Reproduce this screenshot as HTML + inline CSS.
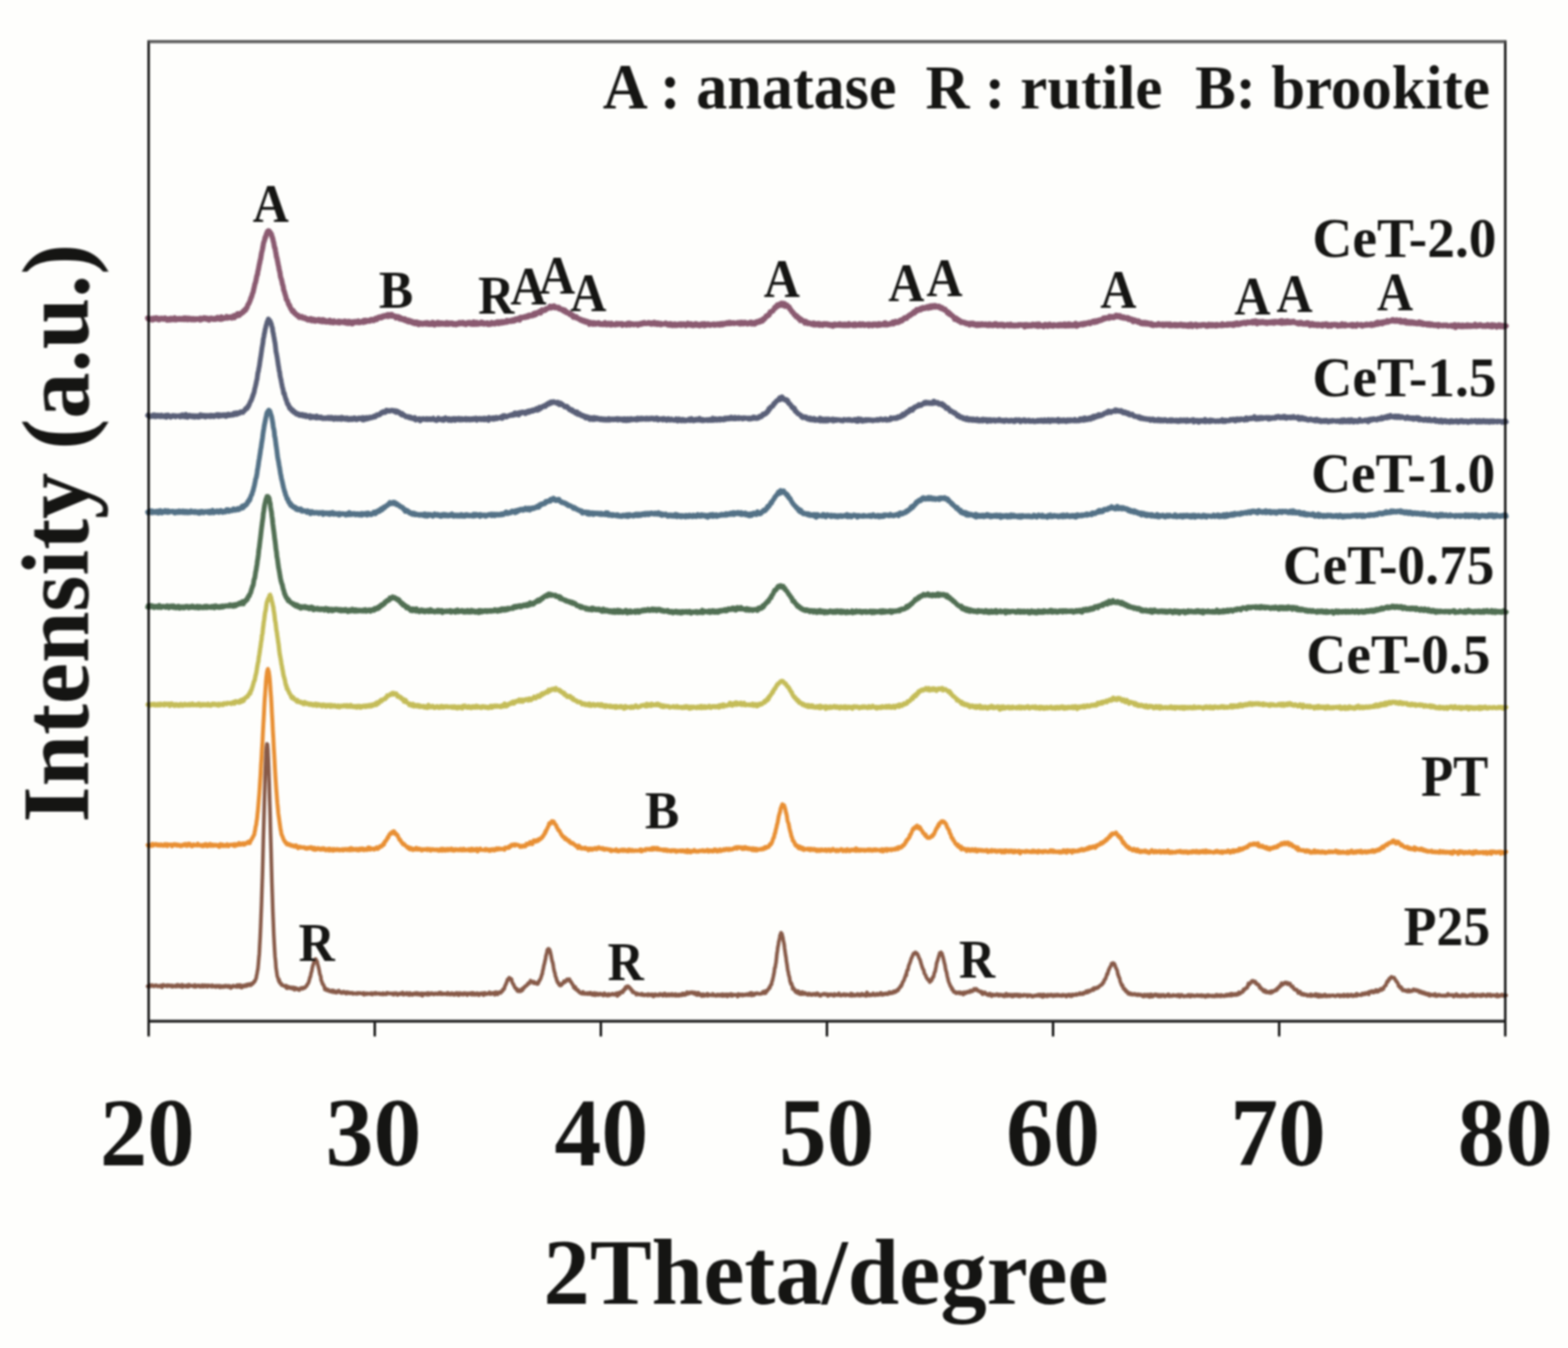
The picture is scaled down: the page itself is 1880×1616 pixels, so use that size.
<!DOCTYPE html>
<html lang="en"><head><meta charset="utf-8"><title>XRD patterns</title>
<style>
html,body{margin:0;padding:0;background:#fefefc;}
body{width:1880px;height:1616px;overflow:hidden;}
svg{display:block;}
text{font-family:"Liberation Serif","DejaVu Serif",serif;font-weight:bold;fill:#151513;white-space:pre;}
.c path{fill:none;stroke-linejoin:round;stroke-linecap:round;}
.ax path{fill:none;stroke-linecap:butt;}
.ax .v{stroke:#000;stroke-width:2.7;}
.ax .t{stroke:#5c5c5c;stroke-width:3.6;}
.ax .h{stroke:#222;stroke-width:3.5;}
</style></head><body>
<svg width="1880" height="1616" viewBox="0 0 1880 1616">
<defs><filter id="b" filterUnits="userSpaceOnUse" x="0" y="0" width="1880" height="1616" color-interpolation-filters="sRGB"><feGaussianBlur stdDeviation="1"/></filter></defs>
<rect width="1880" height="1616" fill="#fefefc"/>
<g filter="url(#b)">
<g class="c">
<path d="M177.0,381.3 177.5,382.3 178.1,382.6 178.6,382.5 179.1,381.5 179.7,382.8 180.2,382.6 180.8,382.6 181.3,382.6 181.9,382.8 182.4,383.6 182.9,381.7 183.5,382.2 184.0,383.3 184.6,381.3 185.1,382.4 185.6,381.7 186.2,382.2 186.7,382.5 187.3,380.9 187.8,381.5 188.4,381.3 188.9,382.0 189.4,381.8 190.0,383.2 190.5,381.8 191.1,383.3 191.6,382.0 192.2,382.4 192.7,382.3 193.2,382.2 193.8,381.5 194.3,382.5 194.9,382.5 195.4,382.4 195.9,382.7 196.5,381.7 197.0,382.1 197.6,381.9 198.1,381.2 198.7,382.5 199.2,381.9 199.7,382.3 200.3,383.8 200.8,382.5 201.4,382.4 201.9,383.0 202.5,383.1 203.0,383.5 203.5,382.0 204.1,383.5 204.6,382.3 205.2,381.6 205.7,381.7 206.2,383.1 206.8,382.9 207.3,383.2 207.9,381.8 208.4,382.2 209.0,381.6 209.5,381.1 210.0,382.4 210.6,383.4 211.1,383.1 211.7,381.9 212.2,383.2 212.8,382.0 213.3,382.6 213.8,382.9 214.4,382.1 214.9,381.8 215.5,382.8 216.0,382.3 216.5,382.1 217.1,382.8 217.6,382.3 218.2,382.7 218.7,381.8 219.3,382.9 219.8,381.8 220.3,382.2 220.9,381.2 221.4,383.2 222.0,382.5 222.5,382.7 223.0,381.3 223.6,382.5 224.1,382.2 224.7,383.2 225.2,381.4 225.8,382.6 226.3,383.1 226.8,381.6 227.4,382.5 227.9,381.7 228.5,382.4 229.0,382.6 229.6,383.3 230.1,382.5 230.6,382.0 231.2,382.8 231.7,382.4 232.3,383.1 232.8,382.0 233.3,383.3 233.9,382.5 234.4,382.5 235.0,383.0 235.5,382.0 236.1,382.0 236.6,382.7 237.1,382.3 237.7,382.4 238.2,382.1 238.8,382.1 239.3,382.9 239.9,383.6 240.4,381.4 240.9,383.3 241.5,382.8 242.0,383.1 242.6,382.4 243.1,381.8 243.6,382.1 244.2,381.6 244.7,381.1 245.3,382.2 245.8,382.4 246.4,382.0 246.9,382.3 247.4,381.2 248.0,382.8 248.5,382.0 249.1,382.2 249.6,382.6 250.2,381.7 250.7,383.8 251.2,382.9 251.8,382.9 252.3,382.1 252.9,381.6 253.4,382.3 253.9,381.5 254.5,382.1 255.0,382.1 255.6,382.7 256.1,382.2 256.7,382.0 257.2,382.8 257.7,381.7 258.3,381.5 258.8,381.4 259.4,382.7 259.9,381.7 260.5,381.3 261.0,380.4 261.5,381.0 262.1,381.8 262.6,381.9 263.2,382.6 263.7,381.0 264.2,381.8 264.8,382.3 265.3,379.9 265.9,382.8 266.4,380.6 267.0,380.5 267.5,381.8 268.0,381.4 268.6,381.9 269.1,381.5 269.7,381.2 270.2,380.9 270.8,380.4 271.3,381.2 271.8,379.5 272.4,380.6 272.9,381.2 273.5,379.9 274.0,381.1 274.5,381.1 275.1,380.4 275.6,380.2 276.2,380.6 276.7,380.6 277.3,379.9 277.8,381.3 278.3,380.8 278.9,380.4 279.4,380.5 280.0,380.4 280.5,378.5 281.1,380.9 281.6,378.2 282.1,379.1 282.7,378.1 283.2,379.1 283.8,378.7 284.3,378.4 284.8,376.2 285.4,378.4 285.9,377.8 286.5,376.0 287.0,378.1 287.6,376.7 288.1,376.0 288.6,376.5 289.2,375.5 289.7,375.7 290.3,374.8 290.8,374.0 291.3,373.4 291.9,374.1 292.4,373.1 293.0,372.0 293.5,371.5 294.1,370.6 294.6,371.8 295.1,369.9 295.7,369.0 296.2,369.0 296.8,366.6 297.3,365.3 297.9,364.6 298.4,364.0 298.9,362.5 299.5,361.2 300.0,360.1 300.6,358.3 301.1,356.4 301.6,356.0 302.2,353.7 302.7,352.0 303.3,350.7 303.8,348.8 304.4,345.8 304.9,344.0 305.4,341.4 306.0,339.4 306.5,338.1 307.1,335.2 307.6,332.5 308.2,329.8 308.7,329.0 309.2,325.3 309.8,323.1 310.3,320.2 310.9,317.0 311.4,315.2 311.9,312.2 312.5,310.3 313.0,307.1 313.6,303.2 314.1,301.3 314.7,298.7 315.2,296.2 315.7,292.9 316.3,290.3 316.8,289.1 317.4,287.3 317.9,284.4 318.5,284.6 319.0,282.2 319.5,280.1 320.1,280.7 320.6,277.4 321.2,277.1 321.7,276.7 322.2,278.0 322.8,276.9 323.3,278.2 323.9,278.5 324.4,278.8 325.0,280.4 325.5,280.9 326.0,283.8 326.6,284.4 327.1,286.4 327.7,289.5 328.2,290.9 328.8,294.8 329.3,297.0 329.8,297.5 330.4,301.3 330.9,303.8 331.5,308.0 332.0,309.0 332.5,311.7 333.1,314.7 333.6,317.5 334.2,319.7 334.7,323.2 335.3,325.3 335.8,327.7 336.3,331.8 336.9,333.5 337.4,335.1 338.0,337.3 338.5,340.3 339.1,341.9 339.6,344.0 340.1,347.7 340.7,348.9 341.2,350.5 341.8,352.9 342.3,354.1 342.8,356.2 343.4,359.0 343.9,359.3 344.5,360.4 345.0,361.4 345.6,363.9 346.1,364.6 346.6,366.1 347.2,365.9 347.7,367.8 348.3,369.0 348.8,370.2 349.4,370.9 349.9,371.4 350.4,373.1 351.0,373.0 351.5,372.3 352.1,373.5 352.6,374.9 353.1,375.6 353.7,375.1 354.2,375.6 354.8,377.1 355.3,377.4 355.9,377.9 356.4,378.5 356.9,378.4 357.5,378.1 358.0,379.8 358.6,379.9 359.1,380.6 359.7,380.1 360.2,380.1 360.7,380.4 361.3,380.6 361.8,379.4 362.4,380.7 362.9,380.8 363.4,381.4 364.0,381.5 364.5,381.3 365.1,381.3 365.6,380.9 366.2,382.1 366.7,381.7 367.2,381.9 367.8,383.0 368.3,383.1 368.9,382.3 369.4,383.7 369.9,383.2 370.5,382.8 371.0,382.3 371.6,382.4 372.1,383.7 372.7,381.9 373.2,384.3 373.7,383.7 374.3,383.1 374.8,384.5 375.4,383.7 375.9,382.8 376.5,383.2 377.0,383.0 377.5,383.0 378.1,385.1 378.6,384.0 379.2,383.8 379.7,384.5 380.2,384.5 380.8,383.7 381.3,383.5 381.9,383.0 382.4,384.9 383.0,384.2 383.5,385.0 384.0,384.5 384.6,383.6 385.1,384.2 385.7,385.6 386.2,384.3 386.8,385.0 387.3,383.2 387.8,384.3 388.4,385.5 388.9,383.7 389.5,385.6 390.0,384.7 390.5,384.6 391.1,386.0 391.6,384.8 392.2,385.9 392.7,385.0 393.3,385.5 393.8,386.0 394.3,386.1 394.9,385.2 395.4,383.9 396.0,386.6 396.5,385.1 397.1,386.4 397.6,385.0 398.1,385.3 398.7,385.7 399.2,385.6 399.8,387.0 400.3,384.6 400.8,385.4 401.4,385.9 401.9,386.1 402.5,385.8 403.0,386.0 403.6,386.5 404.1,385.5 404.6,385.6 405.2,385.9 405.7,386.4 406.3,385.0 406.8,387.2 407.4,385.8 407.9,385.6 408.4,385.8 409.0,385.4 409.5,385.5 410.1,385.9 410.6,386.4 411.1,386.6 411.7,385.9 412.2,386.0 412.8,386.5 413.3,385.0 413.9,386.1 414.4,386.9 414.9,387.3 415.5,386.1 416.0,385.4 416.6,385.9 417.1,387.1 417.7,387.6 418.2,386.2 418.7,385.3 419.3,386.4 419.8,386.9 420.4,386.9 420.9,386.6 421.4,388.0 422.0,386.4 422.5,388.2 423.1,385.7 423.6,387.3 424.2,387.1 424.7,386.9 425.2,385.8 425.8,386.3 426.3,385.6 426.9,386.3 427.4,386.5 428.0,386.7 428.5,385.5 429.0,385.8 429.6,384.8 430.1,386.2 430.7,385.5 431.2,386.8 431.7,385.8 432.3,386.4 432.8,385.8 433.4,386.0 433.9,385.8 434.5,385.1 435.0,386.4 435.5,385.2 436.1,386.5 436.6,384.0 437.2,385.2 437.7,386.0 438.2,386.0 438.8,384.0 439.3,385.3 439.9,385.2 440.4,385.2 441.0,384.7 441.5,384.3 442.0,384.8 442.6,384.9 443.1,385.1 443.7,384.2 444.2,383.6 444.8,384.5 445.3,383.0 445.8,383.3 446.4,383.1 446.9,383.4 447.5,383.3 448.0,384.4 448.5,383.3 449.1,383.3 449.6,382.3 450.2,381.6 450.7,381.9 451.3,381.6 451.8,383.1 452.3,382.6 452.9,382.0 453.4,381.1 454.0,380.2 454.5,380.6 455.1,380.2 455.6,379.9 456.1,380.5 456.7,381.2 457.2,381.2 457.8,379.5 458.3,379.6 458.8,379.5 459.4,378.7 459.9,379.9 460.5,379.2 461.0,378.8 461.6,378.9 462.1,378.2 462.6,378.2 463.2,379.1 463.7,378.8 464.3,378.2 464.8,377.1 465.4,379.6 465.9,378.3 466.4,378.6 467.0,377.3 467.5,378.3 468.1,378.4 468.6,378.2 469.1,378.9 469.7,377.0 470.2,379.0 470.8,378.1 471.3,378.1 471.9,378.6 472.4,379.0 472.9,379.0 473.5,378.8 474.0,379.6 474.6,381.2 475.1,380.0 475.7,379.5 476.2,380.7 476.7,380.7 477.3,379.8 477.8,381.4 478.4,379.9 478.9,381.3 479.4,382.4 480.0,380.6 480.5,381.3 481.1,381.3 481.6,382.9 482.2,381.8 482.7,382.4 483.2,382.9 483.8,383.5 484.3,383.6 484.9,382.7 485.4,382.2 486.0,384.3 486.5,383.9 487.0,384.5 487.6,383.9 488.1,384.4 488.7,385.5 489.2,383.8 489.7,384.8 490.3,384.1 490.8,386.1 491.4,385.5 491.9,385.0 492.5,384.7 493.0,385.9 493.5,386.1 494.1,386.0 494.6,387.1 495.2,385.7 495.7,387.0 496.3,387.6 496.8,386.3 497.3,387.3 497.9,387.9 498.4,386.1 499.0,386.6 499.5,386.3 500.0,387.5 500.6,388.5 501.1,386.4 501.7,387.4 502.2,389.2 502.8,387.1 503.3,388.0 503.8,388.0 504.4,387.3 504.9,388.3 505.5,388.0 506.0,387.7 506.6,387.6 507.1,388.7 507.6,387.9 508.2,387.4 508.7,387.6 509.3,388.1 509.8,388.2 510.3,387.0 510.9,388.6 511.4,387.2 512.0,386.8 512.5,387.8 513.1,388.2 513.6,388.7 514.1,387.3 514.7,387.8 515.2,388.7 515.8,388.0 516.3,388.8 516.8,388.5 517.4,387.1 517.9,387.6 518.5,388.7 519.0,386.5 519.6,388.6 520.1,388.0 520.6,387.5 521.2,389.6 521.7,387.5 522.3,387.6 522.8,387.9 523.4,387.9 523.9,388.4 524.4,388.3 525.0,386.5 525.5,388.8 526.1,388.7 526.6,388.6 527.1,388.4 527.7,387.0 528.2,388.5 528.8,387.7 529.3,387.3 529.9,388.0 530.4,388.4 530.9,387.3 531.5,387.3 532.0,388.4 532.6,388.6 533.1,387.6 533.7,388.1 534.2,388.0 534.7,388.8 535.3,388.1 535.8,386.7 536.4,387.4 536.9,388.7 537.4,388.8 538.0,388.8 538.5,387.8 539.1,387.3 539.6,388.4 540.2,387.8 540.7,387.7 541.2,387.4 541.8,388.1 542.3,387.3 542.9,387.6 543.4,389.1 544.0,387.8 544.5,388.6 545.0,388.0 545.6,388.1 546.1,387.9 546.7,389.3 547.2,388.1 547.7,388.0 548.3,387.9 548.8,387.5 549.4,388.6 549.9,387.3 550.5,386.8 551.0,388.0 551.5,388.1 552.1,387.0 552.6,388.0 553.2,387.8 553.7,386.7 554.3,386.4 554.8,388.0 555.3,387.8 555.9,388.3 556.4,386.9 557.0,388.5 557.5,387.8 558.0,388.0 558.6,389.0 559.1,387.7 559.7,387.6 560.2,387.5 560.8,386.8 561.3,387.7 561.8,386.8 562.4,387.0 562.9,386.6 563.5,388.2 564.0,387.7 564.6,388.5 565.1,387.4 565.6,387.5 566.2,387.3 566.7,387.1 567.3,388.9 567.8,385.9 568.3,388.6 568.9,388.5 569.4,387.4 570.0,387.8 570.5,388.8 571.1,387.7 571.6,386.4 572.1,387.3 572.7,388.6 573.2,387.1 573.8,388.5 574.3,387.4 574.9,388.2 575.4,387.4 575.9,387.3 576.5,387.5 577.0,386.3 577.6,388.1 578.1,386.3 578.6,387.6 579.2,386.9 579.7,387.9 580.3,388.5 580.8,387.7 581.4,387.4 581.9,387.8 582.4,387.9 583.0,388.2 583.5,387.3 584.1,388.4 584.6,386.9 585.1,387.5 585.7,389.0 586.2,387.7 586.8,388.0 587.3,387.8 587.9,387.7 588.4,388.8 588.9,387.5 589.5,386.4 590.0,387.3 590.6,387.5 591.1,387.0 591.7,387.0 592.2,388.1 592.7,387.6 593.3,388.3 593.8,387.4 594.4,386.5 594.9,387.0 595.4,386.9 596.0,386.8 596.5,387.5 597.1,385.8 597.6,386.8 598.2,387.9 598.7,386.1 599.2,387.2 599.8,386.7 600.3,385.6 600.9,386.0 601.4,387.4 602.0,386.0 602.5,386.4 603.0,386.3 603.6,385.5 604.1,386.9 604.7,386.7 605.2,386.3 605.7,385.8 606.3,385.3 606.8,385.1 607.4,386.2 607.9,384.2 608.5,386.1 609.0,385.5 609.5,385.5 610.1,385.1 610.6,384.3 611.2,384.3 611.7,384.6 612.3,384.9 612.8,385.3 613.3,384.5 613.9,384.6 614.4,383.6 615.0,384.5 615.5,384.2 616.0,384.9 616.6,384.2 617.1,383.4 617.7,382.5 618.2,384.1 618.8,382.4 619.3,383.0 619.8,383.3 620.4,383.1 620.9,381.7 621.5,381.6 622.0,382.8 622.6,382.4 623.1,383.8 623.6,381.1 624.2,380.4 624.7,380.5 625.3,380.6 625.8,380.7 626.3,381.0 626.9,380.9 627.4,380.3 628.0,379.9 628.5,380.4 629.1,379.7 629.6,380.5 630.1,379.5 630.7,379.2 631.2,380.2 631.8,380.1 632.3,380.2 632.9,378.4 633.4,379.5 633.9,379.6 634.5,378.7 635.0,377.8 635.6,378.2 636.1,378.5 636.6,378.0 637.2,377.9 637.7,378.3 638.3,378.7 638.8,378.3 639.4,376.6 639.9,375.9 640.4,377.9 641.0,377.6 641.5,376.4 642.1,375.2 642.6,377.0 643.2,375.5 643.7,375.1 644.2,375.3 644.8,375.3 645.3,374.0 645.9,373.9 646.4,374.5 646.9,374.3 647.5,373.1 648.0,375.3 648.6,374.3 649.1,373.6 649.7,373.4 650.2,371.4 650.7,372.5 651.3,372.6 651.8,372.0 652.4,371.9 652.9,371.8 653.5,372.1 654.0,371.6 654.5,370.3 655.1,371.0 655.6,369.8 656.2,370.0 656.7,369.8 657.2,369.4 657.8,369.1 658.3,369.2 658.9,369.0 659.4,367.1 660.0,368.4 660.5,367.8 661.0,369.2 661.6,368.3 662.1,367.6 662.7,368.3 663.2,368.1 663.7,368.3 664.3,366.7 664.8,367.8 665.4,367.5 665.9,369.1 666.5,368.8 667.0,368.2 667.5,368.5 668.1,368.6 668.6,368.5 669.2,368.4 669.7,368.4 670.3,370.2 670.8,369.0 671.3,370.2 671.9,370.7 672.4,370.8 673.0,370.7 673.5,371.4 674.0,370.9 674.6,370.9 675.1,372.4 675.7,372.5 676.2,373.2 676.8,372.7 677.3,371.8 677.8,373.0 678.4,373.2 678.9,374.6 679.5,373.7 680.0,375.1 680.6,375.0 681.1,375.3 681.6,375.6 682.2,376.1 682.7,375.3 683.3,377.1 683.8,375.6 684.3,376.4 684.9,376.7 685.4,378.0 686.0,377.3 686.5,379.3 687.1,377.8 687.6,380.4 688.1,379.4 688.7,379.9 689.2,379.9 689.8,380.5 690.3,379.7 690.9,379.6 691.4,381.4 691.9,381.5 692.5,381.3 693.0,381.5 693.6,381.8 694.1,382.3 694.6,383.0 695.2,382.5 695.7,383.2 696.3,384.0 696.8,383.3 697.4,384.1 697.9,383.5 698.4,384.2 699.0,384.2 699.5,385.3 700.1,384.5 700.6,384.2 701.2,385.3 701.7,384.9 702.2,386.3 702.8,385.9 703.3,385.5 703.9,385.2 704.4,386.1 704.9,386.0 705.5,386.2 706.0,386.5 706.6,388.8 707.1,386.2 707.7,386.9 708.2,387.4 708.7,387.8 709.3,387.0 709.8,387.4 710.4,387.1 710.9,388.7 711.5,387.0 712.0,387.7 712.5,387.1 713.1,388.1 713.6,387.2 714.2,388.7 714.7,387.4 715.2,387.7 715.8,387.8 716.3,388.1 716.9,387.5 717.4,386.8 718.0,386.8 718.5,387.9 719.0,388.8 719.6,388.8 720.1,388.4 720.7,388.8 721.2,388.2 721.8,388.1 722.3,388.6 722.8,389.2 723.4,389.2 723.9,388.6 724.5,387.5 725.0,388.0 725.5,386.8 726.1,389.1 726.6,388.4 727.2,389.3 727.7,389.3 728.3,388.3 728.8,388.9 729.3,388.4 729.9,387.5 730.4,388.8 731.0,388.6 731.5,388.7 732.1,389.6 732.6,387.9 733.1,387.6 733.7,389.2 734.2,389.4 734.8,389.0 735.3,388.7 735.8,388.8 736.4,388.8 736.9,388.7 737.5,388.4 738.0,389.4 738.6,388.3 739.1,387.8 739.6,388.7 740.2,388.2 740.7,388.1 741.3,389.0 741.8,387.9 742.3,388.0 742.9,388.3 743.4,388.1 744.0,388.4 744.5,388.5 745.1,387.9 745.6,387.8 746.1,390.0 746.7,388.8 747.2,388.5 747.8,389.0 748.3,388.8 748.9,388.8 749.4,388.5 749.9,388.5 750.5,388.4 751.0,389.8 751.6,388.5 752.1,389.0 752.6,389.0 753.2,387.5 753.7,389.4 754.3,388.8 754.8,387.5 755.4,389.6 755.9,389.3 756.4,388.9 757.0,388.2 757.5,388.1 758.1,388.5 758.6,388.3 759.2,389.2 759.7,389.0 760.2,389.3 760.8,388.7 761.3,388.4 761.9,388.4 762.4,388.3 762.9,388.4 763.5,388.6 764.0,388.5 764.6,388.4 765.1,389.9 765.7,388.4 766.2,388.5 766.7,388.1 767.3,388.9 767.8,388.7 768.4,388.2 768.9,388.8 769.5,388.5 770.0,387.2 770.5,387.2 771.1,387.3 771.6,388.0 772.2,387.4 772.7,386.8 773.2,387.4 773.8,387.8 774.3,387.7 774.9,387.8 775.4,387.6 776.0,387.8 776.5,387.5 777.0,387.1 777.6,386.7 778.1,387.6 778.7,387.9 779.2,387.2 779.8,387.2 780.3,388.1 780.8,388.7 781.4,388.5 781.9,387.2 782.5,387.2 783.0,387.5 783.5,387.8 784.1,387.9 784.6,386.5 785.2,388.6 785.7,388.3 786.3,387.5 786.8,388.2 787.3,387.5 787.9,387.9 788.4,388.9 789.0,387.2 789.5,387.7 790.1,387.8 790.6,387.9 791.1,388.4 791.7,388.2 792.2,389.4 792.8,387.8 793.3,388.9 793.8,388.2 794.4,388.7 794.9,388.4 795.5,388.3 796.0,388.2 796.6,388.4 797.1,388.0 797.6,388.3 798.2,387.3 798.7,388.5 799.3,388.2 799.8,388.6 800.4,388.3 800.9,389.5 801.4,388.8 802.0,388.8 802.5,389.7 803.1,388.3 803.6,389.1 804.1,388.1 804.7,388.5 805.2,388.5 805.8,390.2 806.3,388.6 806.9,389.6 807.4,389.5 807.9,390.0 808.5,389.0 809.0,388.3 809.6,388.4 810.1,390.1 810.6,389.6 811.2,390.2 811.7,390.2 812.3,389.4 812.8,389.2 813.4,389.6 813.9,388.4 814.4,389.0 815.0,389.2 815.5,389.7 816.1,388.1 816.6,388.1 817.2,390.0 817.7,389.6 818.2,389.0 818.8,388.9 819.3,389.3 819.9,388.2 820.4,388.7 820.9,389.9 821.5,389.9 822.0,390.3 822.6,389.6 823.1,390.1 823.7,388.4 824.2,388.4 824.7,387.4 825.3,388.3 825.8,388.1 826.4,389.7 826.9,389.7 827.5,388.4 828.0,388.2 828.5,389.9 829.1,390.1 829.6,388.5 830.2,389.5 830.7,390.2 831.2,389.5 831.8,390.3 832.3,389.4 832.9,389.4 833.4,389.1 834.0,387.9 834.5,388.9 835.0,388.6 835.6,390.0 836.1,388.4 836.7,389.2 837.2,389.3 837.8,389.7 838.3,389.3 838.8,390.6 839.4,389.6 839.9,389.4 840.5,389.4 841.0,389.9 841.5,388.3 842.1,388.8 842.6,389.3 843.2,388.8 843.7,389.3 844.3,388.1 844.8,390.5 845.3,389.4 845.9,389.3 846.4,388.6 847.0,389.8 847.5,389.8 848.1,388.9 848.6,389.2 849.1,388.3 849.7,389.3 850.2,389.2 850.8,389.8 851.3,389.5 851.8,389.9 852.4,389.0 852.9,389.2 853.5,389.0 854.0,389.1 854.6,388.6 855.1,389.0 855.6,388.6 856.2,389.7 856.7,389.2 857.3,389.1 857.8,388.7 858.4,389.6 858.9,388.9 859.4,389.2 860.0,388.5 860.5,389.0 861.1,388.3 861.6,388.3 862.1,388.3 862.7,389.7 863.2,388.7 863.8,389.5 864.3,387.9 864.9,388.7 865.4,388.1 865.9,388.6 866.5,389.4 867.0,389.2 867.6,387.7 868.1,388.7 868.7,388.7 869.2,388.0 869.7,387.8 870.3,387.4 870.8,388.0 871.4,387.0 871.9,387.7 872.4,387.8 873.0,387.3 873.5,386.9 874.1,388.1 874.6,387.5 875.2,386.5 875.7,387.3 876.2,387.7 876.8,387.0 877.3,387.6 877.9,387.4 878.4,387.5 879.0,387.0 879.5,386.9 880.0,387.8 880.6,387.3 881.1,387.4 881.7,387.5 882.2,387.3 882.7,387.3 883.3,387.3 883.8,387.1 884.4,386.7 884.9,387.6 885.5,387.2 886.0,386.9 886.5,387.6 887.1,388.3 887.6,386.5 888.2,387.2 888.7,388.0 889.2,386.3 889.8,387.2 890.3,387.1 890.9,386.8 891.4,388.2 892.0,387.8 892.5,387.2 893.0,386.4 893.6,387.4 894.1,386.8 894.7,387.6 895.2,387.1 895.8,387.5 896.3,388.3 896.8,387.8 897.4,387.2 897.9,387.3 898.5,386.8 899.0,387.8 899.5,386.8 900.1,387.0 900.6,386.4 901.2,387.3 901.7,388.4 902.3,386.9 902.8,386.8 903.3,386.7 903.9,387.1 904.4,387.2 905.0,388.4 905.5,387.5 906.1,386.8 906.6,385.9 907.1,387.2 907.7,386.5 908.2,385.6 908.8,386.1 909.3,385.8 909.8,386.3 910.4,385.6 910.9,384.6 911.5,385.1 912.0,385.6 912.6,384.6 913.1,383.8 913.6,383.4 914.2,384.9 914.7,383.9 915.3,382.1 915.8,382.7 916.4,382.8 916.9,382.1 917.4,380.8 918.0,380.6 918.5,378.9 919.1,379.6 919.6,379.1 920.1,379.2 920.7,378.0 921.2,377.3 921.8,378.1 922.3,377.2 922.9,375.6 923.4,374.0 923.9,373.7 924.5,374.1 925.0,373.6 925.6,372.9 926.1,373.0 926.7,373.0 927.2,371.7 927.7,370.8 928.3,370.3 928.8,368.6 929.4,369.6 929.9,368.3 930.4,368.6 931.0,366.7 931.5,366.8 932.1,365.5 932.6,366.0 933.2,366.9 933.7,365.0 934.2,364.9 934.8,364.6 935.3,364.9 935.9,363.9 936.4,364.1 937.0,363.5 937.5,366.1 938.0,363.9 938.6,364.3 939.1,363.7 939.7,364.7 940.2,364.7 940.7,363.9 941.3,367.3 941.8,365.5 942.4,365.9 942.9,367.1 943.5,365.7 944.0,367.3 944.5,367.1 945.1,368.0 945.6,368.7 946.2,367.9 946.7,369.8 947.3,370.8 947.8,370.6 948.3,372.0 948.9,372.3 949.4,373.9 950.0,373.6 950.5,374.5 951.0,374.9 951.6,375.3 952.1,377.1 952.7,376.9 953.2,377.4 953.8,378.2 954.3,379.6 954.8,378.2 955.4,380.2 955.9,379.2 956.5,380.2 957.0,381.2 957.5,382.0 958.1,381.1 958.6,382.9 959.2,382.9 959.7,384.4 960.3,382.4 960.8,384.0 961.3,383.7 961.9,384.1 962.4,384.6 963.0,384.5 963.5,385.5 964.1,385.5 964.6,385.0 965.1,387.4 965.7,386.2 966.2,385.2 966.8,386.4 967.3,386.7 967.8,386.7 968.4,386.8 968.9,388.0 969.5,387.0 970.0,387.2 970.6,387.2 971.1,387.4 971.6,387.3 972.2,388.0 972.7,388.7 973.3,388.2 973.8,388.2 974.4,387.9 974.9,387.9 975.4,387.4 976.0,389.6 976.5,388.3 977.1,387.9 977.6,388.6 978.1,388.5 978.7,389.4 979.2,388.9 979.8,388.0 980.3,388.4 980.9,388.2 981.4,388.7 981.9,387.8 982.5,390.0 983.0,389.1 983.6,389.0 984.1,389.1 984.7,389.3 985.2,388.4 985.7,389.1 986.3,390.1 986.8,390.0 987.4,388.3 987.9,388.7 988.4,388.9 989.0,387.9 989.5,388.7 990.1,389.1 990.6,389.4 991.2,389.0 991.7,388.2 992.2,389.0 992.8,388.6 993.3,389.8 993.9,389.7 994.4,388.9 995.0,390.0 995.5,389.0 996.0,389.4 996.6,390.2 997.1,389.7 997.7,389.1 998.2,389.4 998.7,391.0 999.3,389.1 999.8,389.5 1000.4,388.6 1000.9,389.7 1001.5,389.0 1002.0,389.9 1002.5,388.8 1003.1,389.8 1003.6,389.4 1004.2,389.6 1004.7,389.7 1005.3,389.9 1005.8,388.8 1006.3,388.2 1006.9,389.3 1007.4,389.8 1008.0,388.6 1008.5,390.1 1009.0,388.8 1009.6,389.5 1010.1,389.4 1010.7,389.4 1011.2,390.3 1011.8,388.6 1012.3,388.8 1012.8,389.1 1013.4,389.6 1013.9,388.8 1014.5,390.3 1015.0,389.4 1015.6,389.4 1016.1,389.1 1016.6,390.0 1017.2,390.3 1017.7,387.8 1018.3,389.7 1018.8,388.7 1019.3,389.7 1019.9,389.5 1020.4,389.6 1021.0,389.3 1021.5,389.1 1022.1,389.9 1022.6,388.8 1023.1,390.3 1023.7,389.9 1024.2,388.6 1024.8,388.3 1025.3,390.4 1025.9,389.3 1026.4,388.7 1026.9,390.0 1027.5,389.5 1028.0,389.7 1028.6,389.4 1029.1,389.5 1029.6,389.8 1030.2,389.9 1030.7,388.1 1031.3,389.3 1031.8,389.8 1032.4,390.0 1032.9,389.1 1033.4,389.3 1034.0,388.8 1034.5,388.2 1035.1,389.0 1035.6,389.7 1036.1,389.3 1036.7,390.1 1037.2,389.0 1037.8,389.6 1038.3,389.2 1038.9,389.6 1039.4,388.8 1039.9,389.2 1040.5,389.3 1041.0,389.4 1041.6,390.5 1042.1,388.5 1042.7,389.8 1043.2,388.8 1043.7,389.3 1044.3,389.1 1044.8,389.2 1045.4,390.2 1045.9,389.0 1046.4,390.4 1047.0,388.5 1047.5,389.3 1048.1,388.9 1048.6,388.5 1049.2,389.4 1049.7,388.8 1050.2,389.7 1050.8,388.6 1051.3,389.3 1051.9,389.3 1052.4,390.3 1053.0,389.4 1053.5,388.7 1054.0,388.0 1054.6,389.0 1055.1,389.8 1055.7,389.4 1056.2,388.5 1056.7,389.0 1057.3,389.3 1057.8,388.7 1058.4,388.9 1058.9,388.8 1059.5,388.9 1060.0,389.4 1060.5,387.2 1061.1,387.0 1061.6,389.4 1062.2,388.4 1062.7,389.3 1063.3,389.5 1063.8,388.2 1064.3,388.3 1064.9,389.1 1065.4,389.0 1066.0,388.5 1066.5,388.7 1067.0,387.9 1067.6,388.3 1068.1,387.7 1068.7,388.3 1069.2,387.3 1069.8,387.7 1070.3,387.7 1070.8,386.0 1071.4,388.3 1071.9,386.2 1072.5,386.9 1073.0,386.7 1073.6,386.7 1074.1,385.3 1074.6,386.9 1075.2,386.6 1075.7,386.3 1076.3,386.3 1076.8,386.6 1077.3,385.4 1077.9,385.0 1078.4,385.8 1079.0,384.2 1079.5,384.5 1080.1,383.9 1080.6,385.0 1081.1,383.9 1081.7,384.4 1082.2,383.8 1082.8,382.5 1083.3,382.8 1083.9,381.9 1084.4,381.1 1084.9,382.0 1085.5,381.0 1086.0,381.2 1086.6,380.8 1087.1,381.6 1087.6,380.1 1088.2,379.6 1088.7,379.5 1089.3,378.5 1089.8,379.0 1090.4,378.9 1090.9,377.8 1091.4,377.0 1092.0,376.9 1092.5,377.6 1093.1,376.2 1093.6,376.3 1094.2,375.4 1094.7,375.0 1095.2,375.6 1095.8,373.7 1096.3,375.4 1096.9,374.3 1097.4,374.3 1097.9,373.1 1098.5,372.4 1099.0,371.2 1099.6,372.1 1100.1,372.6 1100.7,372.0 1101.2,371.8 1101.7,370.7 1102.3,370.7 1102.8,371.5 1103.4,369.8 1103.9,369.6 1104.4,371.2 1105.0,370.4 1105.5,370.4 1106.1,369.4 1106.6,368.8 1107.2,369.2 1107.7,369.4 1108.2,369.9 1108.8,370.0 1109.3,368.6 1109.9,369.1 1110.4,368.2 1111.0,368.2 1111.5,368.1 1112.0,367.5 1112.6,367.5 1113.1,369.6 1113.7,367.4 1114.2,369.0 1114.7,367.5 1115.3,368.0 1115.8,366.7 1116.4,368.9 1116.9,367.9 1117.5,366.6 1118.0,367.5 1118.5,367.9 1119.1,366.5 1119.6,368.2 1120.2,367.1 1120.7,367.3 1121.3,366.3 1121.8,367.1 1122.3,368.1 1122.9,367.4 1123.4,367.1 1124.0,366.9 1124.5,367.2 1125.0,368.4 1125.6,367.7 1126.1,367.3 1126.7,368.9 1127.2,368.4 1127.8,369.7 1128.3,369.9 1128.8,369.3 1129.4,368.7 1129.9,369.3 1130.5,370.6 1131.0,370.8 1131.6,370.6 1132.1,371.5 1132.6,371.4 1133.2,370.7 1133.7,372.5 1134.3,372.5 1134.8,373.0 1135.3,373.1 1135.9,375.0 1136.4,374.4 1137.0,374.0 1137.5,375.1 1138.1,376.8 1138.6,375.8 1139.1,375.9 1139.7,377.1 1140.2,377.7 1140.8,378.1 1141.3,377.9 1141.9,378.6 1142.4,378.9 1142.9,380.0 1143.5,379.8 1144.0,380.7 1144.6,382.8 1145.1,381.3 1145.6,381.7 1146.2,382.0 1146.7,381.6 1147.3,383.2 1147.8,382.5 1148.4,384.4 1148.9,383.2 1149.4,384.9 1150.0,383.9 1150.5,385.0 1151.1,384.6 1151.6,386.0 1152.2,386.5 1152.7,385.5 1153.2,385.6 1153.8,385.7 1154.3,386.1 1154.9,386.4 1155.4,386.8 1155.9,387.1 1156.5,386.6 1157.0,387.1 1157.6,387.1 1158.1,387.0 1158.7,388.2 1159.2,387.3 1159.7,387.6 1160.3,387.7 1160.8,387.8 1161.4,387.6 1161.9,388.1 1162.5,389.6 1163.0,387.8 1163.5,387.8 1164.1,388.9 1164.6,387.5 1165.2,388.8 1165.7,388.0 1166.2,388.0 1166.8,387.6 1167.3,389.2 1167.9,388.0 1168.4,388.9 1169.0,388.6 1169.5,389.4 1170.0,388.6 1170.6,390.2 1171.1,389.6 1171.7,390.0 1172.2,388.3 1172.8,389.4 1173.3,390.0 1173.8,389.6 1174.4,388.3 1174.9,388.3 1175.5,388.7 1176.0,388.8 1176.5,389.8 1177.1,389.5 1177.6,388.2 1178.2,389.6 1178.7,389.6 1179.3,389.7 1179.8,389.1 1180.3,388.7 1180.9,388.6 1181.4,389.6 1182.0,388.4 1182.5,388.8 1183.0,390.1 1183.6,390.1 1184.1,389.9 1184.7,389.1 1185.2,390.3 1185.8,388.3 1186.3,388.8 1186.8,389.3 1187.4,389.9 1187.9,388.6 1188.5,390.1 1189.0,389.4 1189.6,389.4 1190.1,389.2 1190.6,390.4 1191.2,389.0 1191.7,388.6 1192.3,389.8 1192.8,390.0 1193.3,389.8 1193.9,388.0 1194.4,390.0 1195.0,389.3 1195.5,388.9 1196.1,390.1 1196.6,390.5 1197.1,389.0 1197.7,389.6 1198.2,389.1 1198.8,389.8 1199.3,389.6 1199.9,390.1 1200.4,389.4 1200.9,388.7 1201.5,390.0 1202.0,389.9 1202.6,390.5 1203.1,389.0 1203.6,389.8 1204.2,390.9 1204.7,389.6 1205.3,390.3 1205.8,390.0 1206.4,390.2 1206.9,389.3 1207.4,389.1 1208.0,388.9 1208.5,389.3 1209.1,390.1 1209.6,390.6 1210.2,389.4 1210.7,390.0 1211.2,390.3 1211.8,388.7 1212.3,389.6 1212.9,390.6 1213.4,390.1 1213.9,389.9 1214.5,390.0 1215.0,389.8 1215.6,390.6 1216.1,390.1 1216.7,389.7 1217.2,390.6 1217.7,390.7 1218.3,390.1 1218.8,390.2 1219.4,389.6 1219.9,389.6 1220.5,390.3 1221.0,390.5 1221.5,389.1 1222.1,390.0 1222.6,389.6 1223.2,389.4 1223.7,389.1 1224.2,389.1 1224.8,389.2 1225.3,390.0 1225.9,390.1 1226.4,390.4 1227.0,389.5 1227.5,389.2 1228.0,389.7 1228.6,391.9 1229.1,389.6 1229.7,389.2 1230.2,388.9 1230.8,390.0 1231.3,390.8 1231.8,389.7 1232.4,390.9 1232.9,389.5 1233.5,389.3 1234.0,389.7 1234.5,390.7 1235.1,389.6 1235.6,389.6 1236.2,389.9 1236.7,390.8 1237.3,390.2 1237.8,390.1 1238.3,388.7 1238.9,389.7 1239.4,390.1 1240.0,390.4 1240.5,390.4 1241.1,389.0 1241.6,390.7 1242.1,389.4 1242.7,390.8 1243.2,388.6 1243.8,390.4 1244.3,390.0 1244.8,391.4 1245.4,389.9 1245.9,388.5 1246.5,390.3 1247.0,389.6 1247.6,389.5 1248.1,390.8 1248.6,390.5 1249.2,390.1 1249.7,390.0 1250.3,390.2 1250.8,391.2 1251.3,391.6 1251.9,389.7 1252.4,389.2 1253.0,388.8 1253.5,389.2 1254.1,390.0 1254.6,389.2 1255.1,389.8 1255.7,389.7 1256.2,391.2 1256.8,389.9 1257.3,390.2 1257.9,390.5 1258.4,388.6 1258.9,390.6 1259.5,390.0 1260.0,390.3 1260.6,389.7 1261.1,390.7 1261.6,389.7 1262.2,390.1 1262.7,391.0 1263.3,390.8 1263.8,389.1 1264.4,389.5 1264.9,389.9 1265.4,389.7 1266.0,389.9 1266.5,390.5 1267.1,390.3 1267.6,390.3 1268.2,390.5 1268.7,389.1 1269.2,389.5 1269.8,390.7 1270.3,389.2 1270.9,389.0 1271.4,389.5 1271.9,389.0 1272.5,389.5 1273.0,390.6 1273.6,389.8 1274.1,389.8 1274.7,389.1 1275.2,388.9 1275.7,390.5 1276.3,388.4 1276.8,389.0 1277.4,390.8 1277.9,389.7 1278.5,388.9 1279.0,390.5 1279.5,389.4 1280.1,389.7 1280.6,390.4 1281.2,389.2 1281.7,388.3 1282.2,389.6 1282.8,390.5 1283.3,389.8 1283.9,389.8 1284.4,389.0 1285.0,389.7 1285.5,390.6 1286.0,390.3 1286.6,389.4 1287.1,390.2 1287.7,389.2 1288.2,390.3 1288.8,388.5 1289.3,389.4 1289.8,387.7 1290.4,389.0 1290.9,391.2 1291.5,389.0 1292.0,390.1 1292.5,389.4 1293.1,390.0 1293.6,388.7 1294.2,388.6 1294.7,388.8 1295.3,388.9 1295.8,388.8 1296.3,389.0 1296.9,388.1 1297.4,389.0 1298.0,389.4 1298.5,387.9 1299.1,387.7 1299.6,388.9 1300.1,388.4 1300.7,388.7 1301.2,387.4 1301.8,387.7 1302.3,388.2 1302.8,387.4 1303.4,387.9 1303.9,387.7 1304.5,387.0 1305.0,387.2 1305.6,386.7 1306.1,386.4 1306.6,386.6 1307.2,388.0 1307.7,386.8 1308.3,386.9 1308.8,386.2 1309.4,386.2 1309.9,386.3 1310.4,385.0 1311.0,385.1 1311.5,385.2 1312.1,386.6 1312.6,386.1 1313.1,384.6 1313.7,384.9 1314.2,385.6 1314.8,384.8 1315.3,386.0 1315.9,385.0 1316.4,384.3 1316.9,384.6 1317.5,384.8 1318.0,384.3 1318.6,383.6 1319.1,384.4 1319.7,384.2 1320.2,383.5 1320.7,383.9 1321.3,383.7 1321.8,383.3 1322.4,381.8 1322.9,381.4 1323.4,382.4 1324.0,382.6 1324.5,382.0 1325.1,381.2 1325.6,381.9 1326.2,380.9 1326.7,380.8 1327.2,381.2 1327.8,381.5 1328.3,381.3 1328.9,380.6 1329.4,380.6 1329.9,381.5 1330.5,379.2 1331.0,380.4 1331.6,380.5 1332.1,380.7 1332.7,380.0 1333.2,379.6 1333.7,380.7 1334.3,379.5 1334.8,379.6 1335.4,380.7 1335.9,379.7 1336.5,379.3 1337.0,379.1 1337.5,379.9 1338.1,378.0 1338.6,379.0 1339.2,379.4 1339.7,379.5 1340.2,378.1 1340.8,379.2 1341.3,379.8 1341.9,378.8 1342.4,379.0 1343.0,378.6 1343.5,380.5 1344.0,380.7 1344.6,380.8 1345.1,379.6 1345.7,380.2 1346.2,380.6 1346.8,381.2 1347.3,379.9 1347.8,381.2 1348.4,381.0 1348.9,381.5 1349.5,381.6 1350.0,380.9 1350.5,381.6 1351.1,381.2 1351.6,380.8 1352.2,382.0 1352.7,380.9 1353.3,383.1 1353.8,382.8 1354.3,382.2 1354.9,383.1 1355.4,382.6 1356.0,383.1 1356.5,382.5 1357.1,384.0 1357.6,382.8 1358.1,383.2 1358.7,385.7 1359.2,384.5 1359.8,383.7 1360.3,384.9 1360.8,383.7 1361.4,384.6 1361.9,384.3 1362.5,384.6 1363.0,385.2 1363.6,385.7 1364.1,386.2 1364.6,385.5 1365.2,384.7 1365.7,386.1 1366.3,386.2 1366.8,387.1 1367.4,386.6 1367.9,387.8 1368.4,387.3 1369.0,386.6 1369.5,387.2 1370.1,387.0 1370.6,388.4 1371.1,386.6 1371.7,387.2 1372.2,387.9 1372.8,386.8 1373.3,388.3 1373.9,386.7 1374.4,388.6 1374.9,388.2 1375.5,387.9 1376.0,388.1 1376.6,387.4 1377.1,388.8 1377.7,388.9 1378.2,387.7 1378.7,388.7 1379.3,388.5 1379.8,388.6 1380.4,387.9 1380.9,389.9 1381.4,389.5 1382.0,388.5 1382.5,388.9 1383.1,390.2 1383.6,389.0 1384.2,389.0 1384.7,389.4 1385.2,389.6 1385.8,389.1 1386.3,389.3 1386.9,389.9 1387.4,389.0 1388.0,388.9 1388.5,389.3 1389.0,388.0 1389.6,388.7 1390.1,389.6 1390.7,388.9 1391.2,389.6 1391.7,389.2 1392.3,389.4 1392.8,388.5 1393.4,388.5 1393.9,388.4 1394.5,390.3 1395.0,389.3 1395.5,389.7 1396.1,390.1 1396.6,390.2 1397.2,389.2 1397.7,388.6 1398.2,389.2 1398.8,389.5 1399.3,389.4 1399.9,389.6 1400.4,388.4 1401.0,389.2 1401.5,388.9 1402.0,390.4 1402.6,389.0 1403.1,388.5 1403.7,389.9 1404.2,390.6 1404.8,390.3 1405.3,390.3 1405.8,390.1 1406.4,389.8 1406.9,389.7 1407.5,389.1 1408.0,390.0 1408.5,390.5 1409.1,390.4 1409.6,389.0 1410.2,390.5 1410.7,389.7 1411.3,390.1 1411.8,390.3 1412.3,389.2 1412.9,389.7 1413.4,390.2 1414.0,389.2 1414.5,389.5 1415.1,390.0 1415.6,388.6 1416.1,388.8 1416.7,389.5 1417.2,388.9 1417.8,389.3 1418.3,390.7 1418.8,390.1 1419.4,390.4 1419.9,389.1 1420.5,390.4 1421.0,389.8 1421.6,390.6 1422.1,389.5 1422.6,390.1 1423.2,390.2 1423.7,391.1 1424.3,390.2 1424.8,389.3 1425.4,390.0 1425.9,391.1 1426.4,389.4 1427.0,388.9 1427.5,389.5 1428.1,390.4 1428.6,388.8 1429.1,389.2 1429.7,391.4 1430.2,389.7 1430.8,389.7 1431.3,390.0 1431.9,390.0 1432.4,389.4 1432.9,389.7 1433.5,388.8 1434.0,390.2 1434.6,390.0 1435.1,391.3 1435.7,389.4 1436.2,389.5 1436.7,389.4 1437.3,389.7 1437.8,390.3 1438.4,390.5 1438.9,389.6 1439.4,389.8 1440.0,389.4 1440.5,390.5 1441.1,389.2 1441.6,389.4 1442.2,389.8 1442.7,389.9 1443.2,389.0 1443.8,389.5 1444.3,389.7 1444.9,390.2 1445.4,389.4 1446.0,389.4 1446.5,391.1 1447.0,390.5 1447.6,391.2 1448.1,391.0 1448.7,390.3 1449.2,390.5 1449.7,388.7 1450.3,389.0 1450.8,389.6 1451.4,390.4 1451.9,389.9 1452.5,389.4 1453.0,389.0 1453.5,390.7 1454.1,389.1 1454.6,389.9 1455.2,389.8 1455.7,389.6 1456.3,389.9 1456.8,389.9 1457.3,390.8 1457.9,389.1 1458.4,389.5 1459.0,389.0 1459.5,390.6 1460.0,390.2 1460.6,389.9 1461.1,389.8 1461.7,389.5 1462.2,389.9 1462.8,390.2 1463.3,390.1 1463.8,389.6 1464.4,390.2 1464.9,389.6 1465.5,388.1 1466.0,390.3 1466.6,389.3 1467.1,389.1 1467.6,389.8 1468.2,389.4 1468.7,389.2 1469.3,389.3 1469.8,389.8 1470.3,389.4 1470.9,389.2 1471.4,388.6 1472.0,389.9 1472.5,388.5 1473.1,388.7 1473.6,389.4 1474.1,388.8 1474.7,389.3 1475.2,388.3 1475.8,388.9 1476.3,389.4 1476.8,389.7 1477.4,388.6 1477.9,388.9 1478.5,389.0 1479.0,390.1 1479.6,388.0 1480.1,389.6 1480.6,388.0 1481.2,388.7 1481.7,389.1 1482.3,387.5 1482.8,388.7 1483.4,387.2 1483.9,388.6 1484.4,388.2 1485.0,389.2 1485.5,388.2 1486.1,388.3 1486.6,387.7 1487.1,388.5 1487.7,387.3 1488.2,387.0 1488.8,387.6 1489.3,387.9 1489.9,387.8 1490.4,387.3 1490.9,387.1 1491.5,386.3 1492.0,386.3 1492.6,387.0 1493.1,387.5 1493.7,388.0 1494.2,387.6 1494.7,387.4 1495.3,386.6 1495.8,385.9 1496.4,386.6 1496.9,386.3 1497.4,386.3 1498.0,387.0 1498.5,386.2 1499.1,386.2 1499.6,386.5 1500.2,386.6 1500.7,386.5 1501.2,387.0 1501.8,385.3 1502.3,387.3 1502.9,386.0 1503.4,385.5 1504.0,386.9 1504.5,384.8 1505.0,386.3 1505.6,384.8 1506.1,386.8 1506.7,385.7 1507.2,388.1 1507.7,385.4 1508.3,387.2 1508.8,386.0 1509.4,386.1 1509.9,385.8 1510.5,385.7 1511.0,385.9 1511.5,387.1 1512.1,386.7 1512.6,386.6 1513.2,385.6 1513.7,386.3 1514.3,386.7 1514.8,385.5 1515.3,386.8 1515.9,387.2 1516.4,386.5 1517.0,386.4 1517.5,386.7 1518.0,385.9 1518.6,387.1 1519.1,387.7 1519.7,386.4 1520.2,386.6 1520.8,386.2 1521.3,386.2 1521.8,386.1 1522.4,385.9 1522.9,387.2 1523.5,386.3 1524.0,386.4 1524.6,386.5 1525.1,385.8 1525.6,387.1 1526.2,387.0 1526.7,387.3 1527.3,385.5 1527.8,386.6 1528.3,387.3 1528.9,385.3 1529.4,386.0 1530.0,385.6 1530.5,386.4 1531.1,386.6 1531.6,386.4 1532.1,386.0 1532.7,386.6 1533.2,385.6 1533.8,386.9 1534.3,386.2 1534.9,384.9 1535.4,386.0 1535.9,386.4 1536.5,384.4 1537.0,387.7 1537.6,385.6 1538.1,384.8 1538.6,386.7 1539.2,387.1 1539.7,386.7 1540.3,386.2 1540.8,385.9 1541.4,387.2 1541.9,386.5 1542.4,384.8 1543.0,386.7 1543.5,386.8 1544.1,384.8 1544.6,385.0 1545.2,386.9 1545.7,386.0 1546.2,385.7 1546.8,385.8 1547.3,386.9 1547.9,386.0 1548.4,385.5 1548.9,386.6 1549.5,386.2 1550.0,386.4 1550.6,386.5 1551.1,385.1 1551.7,386.5 1552.2,386.5 1552.7,386.8 1553.3,386.9 1553.8,386.9 1554.4,386.8 1554.9,387.4 1555.4,387.0 1556.0,388.0 1556.5,386.8 1557.1,386.8 1557.6,388.3 1558.2,387.5 1558.7,387.3 1559.2,386.5 1559.8,387.7 1560.3,386.6 1560.9,387.2 1561.4,387.5 1562.0,388.6 1562.5,388.4 1563.0,388.1 1563.6,388.4 1564.1,387.9 1564.7,388.6 1565.2,388.2 1565.7,388.6 1566.3,388.7 1566.8,386.9 1567.4,387.3 1567.9,386.8 1568.5,386.9 1569.0,388.3 1569.5,388.5 1570.1,389.4 1570.6,390.2 1571.2,388.5 1571.7,389.7 1572.3,389.8 1572.8,389.4 1573.3,387.8 1573.9,388.3 1574.4,388.4 1575.0,389.4 1575.5,390.1 1576.0,388.4 1576.6,388.8 1577.1,389.2 1577.7,389.6 1578.2,388.8 1578.8,390.2 1579.3,389.7 1579.8,390.3 1580.4,388.8 1580.9,390.1 1581.5,388.8 1582.0,390.0 1582.6,389.9 1583.1,390.1 1583.6,390.2 1584.2,390.1 1584.7,389.4 1585.3,390.9 1585.8,388.6 1586.3,390.6 1586.9,389.8 1587.4,389.5 1588.0,389.0 1588.5,389.4 1589.1,389.4 1589.6,388.2 1590.1,390.0 1590.7,388.7 1591.2,389.2 1591.8,388.7 1592.3,391.2 1592.9,389.8 1593.4,390.2 1593.9,389.9 1594.5,390.0 1595.0,389.8 1595.6,389.3 1596.1,391.0 1596.6,390.3 1597.2,389.1 1597.7,390.1 1598.3,389.4 1598.8,389.0 1599.4,388.9 1599.9,389.6 1600.4,388.9 1601.0,389.3 1601.5,389.8 1602.1,389.0 1602.6,389.6 1603.2,389.3 1603.7,391.0 1604.2,389.8 1604.8,390.8 1605.3,390.6 1605.9,390.5 1606.4,389.5 1606.9,389.8 1607.5,390.7 1608.0,390.6 1608.6,389.3 1609.1,388.1 1609.7,390.0 1610.2,389.5 1610.7,390.1 1611.3,390.6 1611.8,390.4 1612.4,389.7 1612.9,388.6 1613.5,390.7 1614.0,390.3 1614.5,389.6 1615.1,390.0 1615.6,390.0 1616.2,389.9 1616.7,389.8 1617.2,390.1 1617.8,389.6 1618.3,389.9 1618.9,390.0 1619.4,389.3 1620.0,389.5 1620.5,389.0 1621.0,390.9 1621.6,389.6 1622.1,391.0 1622.7,388.9 1623.2,390.5 1623.7,390.7 1624.3,390.3 1624.8,390.4 1625.4,391.0 1625.9,391.1 1626.5,389.2 1627.0,388.7 1627.5,388.6 1628.1,389.5 1628.6,389.4 1629.2,389.5 1629.7,389.5 1630.3,389.8 1630.8,389.8 1631.3,390.1 1631.9,389.0 1632.4,389.6 1633.0,390.0 1633.5,390.9 1634.0,390.1 1634.6,389.5 1635.1,390.0 1635.7,390.2 1636.2,389.7 1636.8,389.5 1637.3,389.2 1637.8,388.7 1638.4,389.8 1638.9,388.6 1639.5,389.6 1640.0,388.8 1640.6,388.9 1641.1,389.5 1641.6,389.7 1642.2,389.3 1642.7,389.0 1643.3,389.2 1643.8,389.9 1644.3,388.2 1644.9,390.2 1645.4,389.6 1646.0,388.7 1646.5,389.5 1647.1,388.8 1647.6,388.7 1648.1,389.4 1648.7,389.0 1649.2,387.4 1649.8,388.2 1650.3,388.7 1650.9,386.9 1651.4,387.8 1651.9,386.2 1652.5,388.7 1653.0,387.7 1653.6,387.9 1654.1,387.8 1654.6,387.8 1655.2,386.4 1655.7,387.8 1656.3,386.5 1656.8,386.7 1657.4,388.1 1657.9,386.1 1658.4,386.9 1659.0,387.1 1659.5,385.7 1660.1,386.2 1660.6,386.0 1661.2,386.2 1661.7,386.6 1662.2,386.1 1662.8,386.0 1663.3,384.3 1663.9,385.3 1664.4,386.1 1664.9,385.1 1665.5,385.0 1666.0,385.4 1666.6,384.8 1667.1,384.8 1667.7,384.9 1668.2,383.9 1668.7,384.8 1669.3,383.5 1669.8,384.2 1670.4,383.4 1670.9,383.8 1671.5,383.9 1672.0,385.2 1672.5,385.1 1673.1,384.3 1673.6,384.2 1674.2,385.0 1674.7,383.5 1675.2,384.9 1675.8,384.2 1676.3,385.3 1676.9,385.2 1677.4,384.5 1678.0,385.0 1678.5,384.5 1679.0,383.8 1679.6,386.3 1680.1,385.6 1680.7,385.6 1681.2,384.9 1681.8,385.1 1682.3,384.8 1682.8,386.3 1683.4,384.9 1683.9,385.4 1684.5,385.3 1685.0,384.6 1685.5,385.0 1686.1,387.3 1686.6,386.5 1687.2,385.5 1687.7,385.8 1688.3,387.4 1688.8,386.4 1689.3,385.5 1689.9,385.5 1690.4,387.3 1691.0,386.9 1691.5,387.6 1692.1,386.5 1692.6,385.7 1693.1,386.5 1693.7,387.2 1694.2,387.6 1694.8,387.6 1695.3,387.5 1695.8,386.3 1696.4,387.7 1696.9,387.0 1697.5,386.9 1698.0,387.0 1698.6,388.1 1699.1,388.2 1699.6,387.3 1700.2,388.0 1700.7,386.3 1701.3,387.3 1701.8,386.0 1702.3,387.8 1702.9,388.3 1703.4,388.3 1704.0,388.3 1704.5,388.4 1705.1,386.8 1705.6,387.6 1706.1,389.0 1706.7,387.8 1707.2,387.7 1707.8,388.8 1708.3,388.9 1708.9,388.2 1709.4,388.1 1709.9,388.7 1710.5,389.1 1711.0,388.1 1711.6,389.7 1712.1,388.6 1712.6,388.4 1713.2,389.3 1713.7,387.9 1714.3,389.7 1714.8,390.1 1715.4,389.6 1715.9,389.0 1716.4,389.2 1717.0,388.5 1717.5,389.2 1718.1,389.8 1718.6,390.1 1719.2,389.5 1719.7,390.1 1720.2,390.2 1720.8,390.3 1721.3,389.3 1721.9,389.9 1722.4,389.4 1722.9,389.8 1723.5,389.8 1724.0,390.1 1724.6,391.1 1725.1,389.0 1725.7,390.1 1726.2,390.2 1726.7,389.7 1727.3,389.8 1727.8,390.0 1728.4,390.4 1728.9,390.0 1729.5,389.9 1730.0,390.5 1730.5,389.8 1731.1,389.6 1731.6,390.2 1732.2,389.9 1732.7,390.0 1733.2,390.2 1733.8,389.8 1734.3,390.6 1734.9,390.1 1735.4,390.7 1736.0,391.0 1736.5,390.7 1737.0,390.5 1737.6,390.6 1738.1,390.7 1738.7,390.7 1739.2,390.2 1739.8,389.9 1740.3,390.4 1740.8,391.2 1741.4,391.4 1741.9,390.9 1742.5,391.0 1743.0,389.8 1743.5,390.5 1744.1,389.1 1744.6,389.4 1745.2,392.7 1745.7,390.8 1746.3,390.6 1746.8,389.9 1747.3,391.1 1747.9,390.8 1748.4,390.7 1749.0,389.5 1749.5,390.1 1750.1,391.2 1750.6,390.3 1751.1,391.5 1751.7,390.3 1752.2,390.6 1752.8,390.4 1753.3,391.7 1753.8,389.7 1754.4,391.3 1754.9,391.3 1755.5,390.4 1756.0,391.4 1756.6,390.8 1757.1,389.9 1757.6,389.9 1758.2,389.8 1758.7,390.1 1759.3,391.5 1759.8,389.4 1760.4,389.7 1760.9,389.8 1761.4,390.6 1762.0,391.2 1762.5,390.8 1763.1,391.2 1763.6,390.0 1764.1,390.4 1764.7,390.8 1765.2,390.3 1765.8,390.3 1766.3,391.1 1766.9,390.0 1767.4,390.5 1767.9,389.6 1768.5,388.7 1769.0,391.0 1769.6,390.3 1770.1,391.2 1770.6,390.7 1771.2,390.8 1771.7,390.8 1772.3,390.0 1772.8,390.8 1773.4,389.6 1773.9,390.5 1774.4,389.3 1775.0,389.2 1775.5,390.3 1776.1,390.6 1776.6,390.0 1777.2,390.2 1777.7,391.2 1778.2,390.2 1778.8,390.8 1779.3,390.8 1779.9,390.1 1780.4,390.1 1780.9,391.3 1781.5,390.4 1782.0,390.6 1782.6,390.9 1783.1,390.6 1783.7,389.2 1784.2,391.2 1784.7,390.9 1785.3,390.5 1785.8,390.8 1786.4,391.1 1786.9,391.4 1787.5,390.5 1788.0,389.8 1788.5,391.0 1789.1,389.3 1789.6,391.8 1790.2,390.4 1790.7,389.7 1791.2,390.5 1791.8,389.7 1792.3,390.8 1792.9,390.1 1793.4,390.6 1794.0,391.7 1794.5,392.1 1795.0,390.9 1795.6,390.3 1796.1,390.9 1796.7,391.0 1797.2,389.3 1797.8,390.0 1798.3,390.5 1798.8,391.6 1799.4,391.1 1799.9,391.5 1800.5,389.9 1801.0,390.7 1801.5,390.4 1802.1,390.9 1802.6,391.7 1803.2,391.3 1803.7,390.3 1804.3,391.0 1804.8,391.6 1805.3,391.2 1805.9,390.7" stroke="#8a5a70" stroke-width="6.2"/>
<path d="M177.0,498.0 177.5,497.2 178.1,498.9 178.6,499.0 179.1,498.3 179.7,498.8 180.2,499.6 180.8,499.2 181.3,499.0 181.9,499.0 182.4,498.0 182.9,499.2 183.5,497.5 184.0,498.3 184.6,498.3 185.1,497.4 185.6,498.5 186.2,499.6 186.7,498.4 187.3,497.8 187.8,498.5 188.4,499.2 188.9,498.7 189.4,498.6 190.0,497.7 190.5,498.9 191.1,498.9 191.6,499.5 192.2,499.6 192.7,499.1 193.2,497.6 193.8,497.7 194.3,497.9 194.9,498.9 195.4,498.2 195.9,499.5 196.5,498.8 197.0,498.9 197.6,499.2 198.1,498.9 198.7,497.8 199.2,500.3 199.7,499.7 200.3,499.7 200.8,498.2 201.4,497.5 201.9,497.8 202.5,498.1 203.0,499.3 203.5,499.3 204.1,499.7 204.6,500.2 205.2,499.1 205.7,499.0 206.2,498.5 206.8,498.6 207.3,498.0 207.9,499.1 208.4,499.0 209.0,498.5 209.5,498.3 210.0,499.1 210.6,499.7 211.1,498.9 211.7,499.0 212.2,498.5 212.8,498.7 213.3,498.6 213.8,498.7 214.4,498.5 214.9,499.1 215.5,499.7 216.0,498.2 216.5,499.8 217.1,498.6 217.6,498.6 218.2,497.5 218.7,497.3 219.3,499.3 219.8,498.2 220.3,499.4 220.9,498.9 221.4,499.0 222.0,499.7 222.5,498.8 223.0,496.8 223.6,497.8 224.1,499.5 224.7,500.2 225.2,498.8 225.8,498.4 226.3,498.0 226.8,499.2 227.4,497.7 227.9,498.1 228.5,499.0 229.0,499.0 229.6,498.7 230.1,499.6 230.6,498.1 231.2,498.1 231.7,498.6 232.3,498.9 232.8,498.7 233.3,500.2 233.9,498.5 234.4,499.3 235.0,498.5 235.5,499.1 236.1,498.6 236.6,498.6 237.1,499.9 237.7,498.6 238.2,500.0 238.8,498.4 239.3,498.5 239.9,499.6 240.4,497.2 240.9,497.7 241.5,498.8 242.0,499.1 242.6,499.2 243.1,498.6 243.6,497.9 244.2,499.3 244.7,499.1 245.3,498.0 245.8,498.8 246.4,499.9 246.9,498.8 247.4,498.0 248.0,498.5 248.5,498.5 249.1,498.9 249.6,499.3 250.2,498.1 250.7,498.3 251.2,499.3 251.8,499.1 252.3,499.5 252.9,497.7 253.4,498.0 253.9,499.3 254.5,498.0 255.0,498.8 255.6,498.5 256.1,498.0 256.7,499.5 257.2,498.5 257.7,498.1 258.3,498.4 258.8,498.6 259.4,497.4 259.9,497.8 260.5,497.5 261.0,497.0 261.5,499.0 262.1,499.3 262.6,499.1 263.2,497.1 263.7,498.5 264.2,498.6 264.8,497.8 265.3,498.7 265.9,497.4 266.4,497.4 267.0,497.5 267.5,497.5 268.0,497.3 268.6,498.6 269.1,497.2 269.7,497.5 270.2,497.4 270.8,499.2 271.3,497.1 271.8,498.0 272.4,498.8 272.9,496.8 273.5,497.0 274.0,497.2 274.5,496.5 275.1,498.1 275.6,497.0 276.2,497.9 276.7,497.5 277.3,497.1 277.8,497.6 278.3,496.7 278.9,497.5 279.4,495.9 280.0,496.2 280.5,497.4 281.1,495.1 281.6,496.7 282.1,496.0 282.7,495.8 283.2,495.6 283.8,496.8 284.3,494.8 284.8,496.2 285.4,495.9 285.9,495.1 286.5,495.2 287.0,495.5 287.6,494.5 288.1,493.7 288.6,494.7 289.2,493.7 289.7,493.8 290.3,493.8 290.8,494.0 291.3,494.4 291.9,493.1 292.4,492.6 293.0,492.7 293.5,491.9 294.1,490.2 294.6,490.4 295.1,489.4 295.7,490.1 296.2,489.9 296.8,488.6 297.3,486.9 297.9,487.3 298.4,485.3 298.9,485.2 299.5,483.2 300.0,482.0 300.6,480.8 301.1,480.4 301.6,478.6 302.2,477.8 302.7,475.1 303.3,474.6 303.8,472.1 304.4,471.4 304.9,469.2 305.4,466.3 306.0,464.2 306.5,461.9 307.1,459.6 307.6,456.5 308.2,454.6 308.7,450.7 309.2,446.8 309.8,445.2 310.3,441.8 310.9,439.2 311.4,435.7 311.9,432.0 312.5,428.6 313.0,425.1 313.6,421.1 314.1,417.2 314.7,414.0 315.2,411.1 315.7,406.3 316.3,404.2 316.8,400.7 317.4,398.3 317.9,395.0 318.5,393.0 319.0,390.4 319.5,389.4 320.1,386.6 320.6,385.2 321.2,384.3 321.7,382.4 322.2,382.6 322.8,384.4 323.3,384.2 323.9,384.8 324.4,386.7 325.0,387.5 325.5,389.3 326.0,391.5 326.6,393.0 327.1,397.5 327.7,399.7 328.2,402.8 328.8,405.9 329.3,409.1 329.8,411.4 330.4,416.5 330.9,421.3 331.5,424.0 332.0,426.7 332.5,429.8 333.1,433.8 333.6,437.4 334.2,440.4 334.7,444.3 335.3,446.2 335.8,450.6 336.3,452.9 336.9,455.3 337.4,458.2 338.0,461.2 338.5,463.9 339.1,465.8 339.6,468.4 340.1,471.7 340.7,471.1 341.2,472.7 341.8,475.8 342.3,476.8 342.8,479.0 343.4,479.4 343.9,481.9 344.5,483.9 345.0,484.9 345.6,484.6 346.1,486.1 346.6,487.8 347.2,489.3 347.7,488.3 348.3,489.1 348.8,491.0 349.4,490.7 349.9,490.8 350.4,492.7 351.0,491.4 351.5,492.5 352.1,494.0 352.6,493.4 353.1,494.7 353.7,493.7 354.2,495.3 354.8,495.4 355.3,496.4 355.9,495.5 356.4,495.6 356.9,496.0 357.5,497.0 358.0,496.0 358.6,496.6 359.1,498.1 359.7,497.5 360.2,497.6 360.7,497.0 361.3,498.0 361.8,496.8 362.4,496.7 362.9,497.2 363.4,498.9 364.0,498.2 364.5,497.6 365.1,498.1 365.6,498.7 366.2,499.3 366.7,497.5 367.2,499.6 367.8,499.4 368.3,498.4 368.9,498.7 369.4,499.4 369.9,498.9 370.5,499.3 371.0,498.6 371.6,498.2 372.1,501.0 372.7,499.6 373.2,499.7 373.7,500.0 374.3,500.6 374.8,500.4 375.4,499.1 375.9,499.8 376.5,500.0 377.0,500.5 377.5,499.7 378.1,500.4 378.6,500.3 379.2,501.1 379.7,498.6 380.2,500.4 380.8,500.6 381.3,500.8 381.9,500.4 382.4,500.0 383.0,501.0 383.5,500.8 384.0,500.1 384.6,499.8 385.1,501.1 385.7,500.2 386.2,501.2 386.8,501.8 387.3,501.0 387.8,501.1 388.4,501.0 388.9,501.9 389.5,501.9 390.0,501.1 390.5,501.6 391.1,501.1 391.6,500.8 392.2,501.7 392.7,501.1 393.3,500.7 393.8,500.3 394.3,501.9 394.9,500.7 395.4,500.6 396.0,501.2 396.5,501.9 397.1,500.3 397.6,501.9 398.1,501.7 398.7,500.7 399.2,500.8 399.8,501.4 400.3,502.8 400.8,501.4 401.4,502.3 401.9,502.2 402.5,500.6 403.0,501.6 403.6,502.3 404.1,501.4 404.6,502.5 405.2,501.0 405.7,500.8 406.3,501.5 406.8,502.2 407.4,501.5 407.9,502.4 408.4,500.8 409.0,501.4 409.5,502.7 410.1,500.3 410.6,502.1 411.1,501.3 411.7,501.4 412.2,501.7 412.8,501.0 413.3,502.5 413.9,502.3 414.4,502.7 414.9,502.1 415.5,501.3 416.0,502.4 416.6,501.1 417.1,501.4 417.7,503.3 418.2,502.7 418.7,502.3 419.3,503.0 419.8,501.8 420.4,502.4 420.9,501.5 421.4,501.8 422.0,502.1 422.5,503.0 423.1,501.6 423.6,502.7 424.2,502.0 424.7,500.9 425.2,500.8 425.8,501.6 426.3,502.7 426.9,502.2 427.4,503.2 428.0,502.1 428.5,502.9 429.0,502.2 429.6,501.4 430.1,502.4 430.7,501.5 431.2,501.0 431.7,501.4 432.3,501.7 432.8,502.1 433.4,502.4 433.9,502.2 434.5,503.2 435.0,500.5 435.5,501.6 436.1,503.4 436.6,501.5 437.2,500.8 437.7,501.1 438.2,500.9 438.8,501.2 439.3,502.5 439.9,500.4 440.4,500.8 441.0,502.1 441.5,501.3 442.0,501.2 442.6,500.7 443.1,501.4 443.7,500.1 444.2,501.2 444.8,500.6 445.3,500.2 445.8,499.9 446.4,500.7 446.9,500.1 447.5,499.5 448.0,499.7 448.5,498.7 449.1,500.0 449.6,499.9 450.2,499.6 450.7,498.8 451.3,498.7 451.8,497.3 452.3,497.7 452.9,497.6 453.4,497.4 454.0,497.6 454.5,496.7 455.1,496.2 455.6,497.2 456.1,496.0 456.7,495.5 457.2,494.4 457.8,494.5 458.3,495.0 458.8,495.1 459.4,493.5 459.9,494.4 460.5,494.3 461.0,493.6 461.6,493.7 462.1,494.4 462.6,492.7 463.2,491.9 463.7,492.6 464.3,492.1 464.8,492.5 465.4,492.9 465.9,492.9 466.4,492.4 467.0,493.0 467.5,492.3 468.1,492.7 468.6,492.3 469.1,492.2 469.7,491.8 470.2,492.1 470.8,491.9 471.3,492.1 471.9,492.5 472.4,493.3 472.9,492.6 473.5,493.3 474.0,492.3 474.6,493.1 475.1,494.4 475.7,494.0 476.2,492.8 476.7,494.2 477.3,494.4 477.8,494.0 478.4,493.9 478.9,494.7 479.4,494.9 480.0,496.3 480.5,496.5 481.1,496.8 481.6,497.4 482.2,495.5 482.7,497.0 483.2,497.7 483.8,497.3 484.3,497.6 484.9,497.7 485.4,498.6 486.0,498.6 486.5,499.7 487.0,499.4 487.6,499.5 488.1,499.5 488.7,499.2 489.2,500.0 489.7,500.6 490.3,500.6 490.8,499.7 491.4,499.6 491.9,501.2 492.5,501.0 493.0,501.2 493.5,500.6 494.1,501.7 494.6,501.8 495.2,501.3 495.7,502.0 496.3,501.1 496.8,501.7 497.3,500.5 497.9,501.7 498.4,503.6 499.0,502.5 499.5,503.2 500.0,502.6 500.6,502.4 501.1,502.4 501.7,502.1 502.2,502.8 502.8,501.9 503.3,502.5 503.8,504.6 504.4,502.8 504.9,502.2 505.5,503.3 506.0,502.9 506.6,502.4 507.1,501.9 507.6,502.5 508.2,502.4 508.7,502.7 509.3,502.9 509.8,502.9 510.3,502.1 510.9,503.1 511.4,503.0 512.0,501.8 512.5,503.0 513.1,502.7 513.6,503.0 514.1,502.1 514.7,502.6 515.2,502.6 515.8,502.0 516.3,503.1 516.8,502.6 517.4,503.0 517.9,502.1 518.5,501.9 519.0,502.0 519.6,501.4 520.1,502.3 520.6,503.0 521.2,503.7 521.7,503.6 522.3,503.7 522.8,503.6 523.4,504.2 523.9,502.9 524.4,503.4 525.0,503.2 525.5,501.1 526.1,502.9 526.6,502.8 527.1,503.0 527.7,502.5 528.2,502.3 528.8,502.4 529.3,503.3 529.9,503.1 530.4,503.8 530.9,501.9 531.5,503.5 532.0,504.0 532.6,502.2 533.1,502.8 533.7,501.7 534.2,500.9 534.7,501.8 535.3,502.8 535.8,502.9 536.4,502.5 536.9,503.1 537.4,502.9 538.0,504.0 538.5,501.8 539.1,502.1 539.6,502.3 540.2,502.3 540.7,502.4 541.2,504.3 541.8,502.4 542.3,503.1 542.9,501.7 543.4,502.2 544.0,503.2 544.5,503.3 545.0,501.6 545.6,504.1 546.1,502.9 546.7,502.1 547.2,503.0 547.7,502.2 548.3,501.7 548.8,502.8 549.4,503.2 549.9,503.4 550.5,501.5 551.0,502.0 551.5,502.5 552.1,503.3 552.6,503.5 553.2,502.4 553.7,501.8 554.3,503.0 554.8,502.3 555.3,502.9 555.9,503.3 556.4,503.0 557.0,501.9 557.5,501.8 558.0,501.6 558.6,503.1 559.1,503.4 559.7,501.9 560.2,502.2 560.8,501.9 561.3,502.5 561.8,502.0 562.4,502.0 562.9,503.4 563.5,503.2 564.0,502.6 564.6,503.3 565.1,502.1 565.6,502.9 566.2,501.9 566.7,502.0 567.3,503.2 567.8,501.7 568.3,502.2 568.9,501.7 569.4,501.6 570.0,502.5 570.5,502.5 571.1,501.4 571.6,503.9 572.1,503.5 572.7,501.8 573.2,502.7 573.8,502.5 574.3,502.0 574.9,501.5 575.4,502.4 575.9,502.3 576.5,503.2 577.0,502.5 577.6,501.7 578.1,501.9 578.6,502.3 579.2,503.0 579.7,501.5 580.3,502.5 580.8,503.2 581.4,501.3 581.9,503.2 582.4,501.8 583.0,502.2 583.5,501.8 584.1,502.4 584.6,502.5 585.1,502.5 585.7,504.0 586.2,500.4 586.8,501.7 587.3,501.1 587.9,501.8 588.4,501.5 588.9,501.7 589.5,501.8 590.0,501.4 590.6,502.4 591.1,500.7 591.7,501.3 592.2,501.7 592.7,502.5 593.3,500.6 593.8,500.7 594.4,501.8 594.9,501.4 595.4,500.4 596.0,502.0 596.5,501.4 597.1,500.9 597.6,500.8 598.2,501.0 598.7,500.6 599.2,501.0 599.8,501.0 600.3,499.9 600.9,499.5 601.4,501.5 602.0,500.0 602.5,501.4 603.0,500.3 603.6,498.3 604.1,500.1 604.7,499.3 605.2,498.2 605.7,499.6 606.3,498.7 606.8,499.2 607.4,500.0 607.9,499.6 608.5,499.0 609.0,498.9 609.5,498.8 610.1,498.2 610.6,497.8 611.2,498.0 611.7,498.3 612.3,497.5 612.8,497.7 613.3,497.8 613.9,497.0 614.4,498.2 615.0,498.2 615.5,497.3 616.0,496.4 616.6,495.6 617.1,495.1 617.7,497.4 618.2,496.6 618.8,496.0 619.3,495.2 619.8,496.0 620.4,496.6 620.9,496.0 621.5,495.0 622.0,497.6 622.6,495.8 623.1,494.5 623.6,495.5 624.2,495.4 624.7,495.5 625.3,495.1 625.8,494.0 626.3,495.0 626.9,494.1 627.4,494.6 628.0,494.4 628.5,494.8 629.1,494.4 629.6,494.0 630.1,495.9 630.7,493.8 631.2,493.7 631.8,494.2 632.3,494.1 632.9,494.4 633.4,492.7 633.9,493.2 634.5,494.2 635.0,493.5 635.6,493.5 636.1,492.2 636.6,492.1 637.2,492.4 637.7,493.0 638.3,493.2 638.8,493.2 639.4,491.2 639.9,492.3 640.4,492.2 641.0,491.7 641.5,491.6 642.1,490.9 642.6,491.2 643.2,489.7 643.7,491.9 644.2,491.0 644.8,491.6 645.3,489.8 645.9,489.0 646.4,491.1 646.9,488.2 647.5,488.5 648.0,489.6 648.6,489.7 649.1,488.0 649.7,488.1 650.2,487.7 650.7,487.9 651.3,486.7 651.8,487.4 652.4,487.3 652.9,486.3 653.5,486.1 654.0,487.3 654.5,485.6 655.1,484.9 655.6,485.6 656.2,485.4 656.7,483.8 657.2,483.4 657.8,484.7 658.3,484.3 658.9,484.2 659.4,484.2 660.0,482.1 660.5,481.7 661.0,483.3 661.6,483.1 662.1,482.5 662.7,482.8 663.2,481.7 663.7,481.5 664.3,482.1 664.8,482.5 665.4,482.6 665.9,482.2 666.5,482.8 667.0,483.3 667.5,482.9 668.1,482.4 668.6,484.0 669.2,482.3 669.7,483.4 670.3,484.8 670.8,485.3 671.3,485.0 671.9,483.9 672.4,483.3 673.0,484.4 673.5,485.0 674.0,485.4 674.6,484.9 675.1,485.6 675.7,486.4 676.2,486.6 676.8,487.7 677.3,487.5 677.8,487.8 678.4,487.4 678.9,488.1 679.5,487.1 680.0,488.4 680.6,487.9 681.1,489.4 681.6,490.0 682.2,490.0 682.7,491.2 683.3,490.1 683.8,490.8 684.3,490.8 684.9,491.2 685.4,492.6 686.0,491.2 686.5,493.5 687.1,493.6 687.6,493.4 688.1,493.1 688.7,493.8 689.2,493.7 689.8,495.2 690.3,493.8 690.9,494.2 691.4,495.2 691.9,493.8 692.5,496.7 693.0,495.8 693.6,496.8 694.1,496.7 694.6,495.7 695.2,497.1 695.7,497.6 696.3,496.8 696.8,497.2 697.4,497.4 697.9,498.8 698.4,497.7 699.0,498.1 699.5,498.9 700.1,499.2 700.6,498.9 701.2,500.5 701.7,500.7 702.2,499.0 702.8,501.2 703.3,500.5 703.9,500.7 704.4,501.0 704.9,499.7 705.5,499.9 706.0,501.2 706.6,500.5 707.1,502.9 707.7,500.9 708.2,501.9 708.7,500.8 709.3,502.9 709.8,502.8 710.4,500.7 710.9,502.0 711.5,501.9 712.0,502.9 712.5,500.4 713.1,501.8 713.6,502.6 714.2,501.9 714.7,501.7 715.2,501.2 715.8,502.4 716.3,502.1 716.9,501.3 717.4,502.4 718.0,501.9 718.5,502.6 719.0,502.9 719.6,503.2 720.1,502.7 720.7,501.8 721.2,502.4 721.8,502.3 722.3,503.2 722.8,502.1 723.4,503.6 723.9,502.6 724.5,503.1 725.0,502.4 725.5,503.5 726.1,502.3 726.6,503.8 727.2,503.0 727.7,503.3 728.3,503.1 728.8,502.2 729.3,503.7 729.9,501.8 730.4,502.9 731.0,503.3 731.5,503.5 732.1,502.4 732.6,502.5 733.1,502.7 733.7,502.2 734.2,502.7 734.8,502.3 735.3,503.2 735.8,502.8 736.4,502.4 736.9,502.4 737.5,503.0 738.0,502.4 738.6,502.0 739.1,502.2 739.6,503.1 740.2,501.7 740.7,503.0 741.3,503.5 741.8,502.5 742.3,502.7 742.9,502.0 743.4,502.3 744.0,502.6 744.5,503.2 745.1,502.7 745.6,502.2 746.1,502.6 746.7,502.2 747.2,504.1 747.8,502.5 748.3,504.0 748.9,501.9 749.4,502.3 749.9,503.9 750.5,502.8 751.0,504.4 751.6,503.5 752.1,503.9 752.6,501.9 753.2,503.1 753.7,502.7 754.3,504.0 754.8,502.7 755.4,502.9 755.9,502.4 756.4,501.8 757.0,503.3 757.5,502.6 758.1,503.1 758.6,502.2 759.2,502.8 759.7,502.2 760.2,502.4 760.8,502.9 761.3,502.4 761.9,503.1 762.4,501.9 762.9,502.4 763.5,503.5 764.0,502.1 764.6,501.4 765.1,503.3 765.7,502.4 766.2,501.8 766.7,501.7 767.3,502.8 767.8,501.6 768.4,501.2 768.9,502.7 769.5,502.4 770.0,502.6 770.5,501.8 771.1,502.4 771.6,501.5 772.2,501.8 772.7,502.1 773.2,502.2 773.8,502.7 774.3,502.5 774.9,501.3 775.4,501.5 776.0,502.4 776.5,502.7 777.0,502.2 777.6,501.6 778.1,502.0 778.7,502.6 779.2,502.7 779.8,501.5 780.3,501.2 780.8,501.9 781.4,501.5 781.9,501.9 782.5,501.3 783.0,502.1 783.5,502.3 784.1,502.9 784.6,502.8 785.2,502.2 785.7,501.5 786.3,502.7 786.8,501.7 787.3,501.2 787.9,502.0 788.4,501.4 789.0,503.5 789.5,503.0 790.1,503.2 790.6,502.1 791.1,502.3 791.7,502.6 792.2,502.2 792.8,502.5 793.3,502.8 793.8,502.1 794.4,502.6 794.9,503.5 795.5,502.8 796.0,501.6 796.6,502.2 797.1,502.4 797.6,502.6 798.2,503.0 798.7,502.3 799.3,504.0 799.8,502.8 800.4,503.3 800.9,502.5 801.4,501.7 802.0,503.4 802.5,503.6 803.1,503.8 803.6,503.1 804.1,503.3 804.7,502.6 805.2,502.2 805.8,503.2 806.3,503.5 806.9,503.5 807.4,503.8 807.9,503.9 808.5,503.8 809.0,503.8 809.6,503.5 810.1,502.9 810.6,502.0 811.2,503.4 811.7,504.2 812.3,503.6 812.8,504.6 813.4,503.8 813.9,502.1 814.4,504.1 815.0,502.8 815.5,503.4 816.1,503.2 816.6,503.4 817.2,504.5 817.7,504.3 818.2,502.6 818.8,503.8 819.3,503.1 819.9,504.4 820.4,504.6 820.9,503.3 821.5,504.2 822.0,504.3 822.6,504.1 823.1,504.3 823.7,503.6 824.2,503.9 824.7,503.6 825.3,503.7 825.8,503.6 826.4,502.3 826.9,503.5 827.5,504.3 828.0,502.8 828.5,503.3 829.1,501.7 829.6,503.8 830.2,503.6 830.7,504.1 831.2,504.5 831.8,503.0 832.3,503.1 832.9,503.9 833.4,503.2 834.0,503.9 834.5,502.4 835.0,503.3 835.6,502.8 836.1,502.5 836.7,503.6 837.2,502.8 837.8,503.1 838.3,503.1 838.8,501.6 839.4,503.9 839.9,503.6 840.5,503.5 841.0,503.2 841.5,504.3 842.1,503.6 842.6,502.7 843.2,503.6 843.7,504.1 844.3,503.3 844.8,503.3 845.3,503.7 845.9,503.9 846.4,503.7 847.0,503.1 847.5,503.8 848.1,503.2 848.6,503.1 849.1,504.1 849.7,503.1 850.2,502.8 850.8,503.6 851.3,502.7 851.8,504.0 852.4,503.3 852.9,503.9 853.5,503.2 854.0,502.5 854.6,501.3 855.1,502.5 855.6,503.9 856.2,502.8 856.7,503.6 857.3,503.7 857.8,501.9 858.4,502.7 858.9,502.9 859.4,503.9 860.0,503.9 860.5,502.4 861.1,503.3 861.6,503.0 862.1,502.1 862.7,503.4 863.2,503.8 863.8,502.0 864.3,503.0 864.9,502.1 865.4,503.2 865.9,503.2 866.5,502.2 867.0,502.3 867.6,503.4 868.1,502.2 868.7,502.9 869.2,501.1 869.7,501.2 870.3,502.8 870.8,502.2 871.4,501.8 871.9,501.2 872.4,502.0 873.0,501.0 873.5,501.7 874.1,502.2 874.6,501.5 875.2,500.6 875.7,500.5 876.2,501.2 876.8,500.0 877.3,502.0 877.9,500.9 878.4,500.9 879.0,501.1 879.5,500.8 880.0,502.1 880.6,500.8 881.1,500.4 881.7,501.9 882.2,500.7 882.7,502.1 883.3,501.6 883.8,500.9 884.4,501.2 884.9,500.5 885.5,500.4 886.0,501.9 886.5,500.9 887.1,501.1 887.6,500.9 888.2,501.3 888.7,501.0 889.2,501.3 889.8,501.3 890.3,502.2 890.9,501.0 891.4,501.3 892.0,501.5 892.5,500.8 893.0,501.7 893.6,501.4 894.1,501.1 894.7,501.0 895.2,501.4 895.8,501.7 896.3,501.8 896.8,502.0 897.4,501.3 897.9,502.4 898.5,501.6 899.0,502.3 899.5,501.3 900.1,502.3 900.6,501.6 901.2,501.0 901.7,501.2 902.3,501.6 902.8,500.3 903.3,501.5 903.9,500.0 904.4,501.4 905.0,500.6 905.5,500.3 906.1,500.6 906.6,501.7 907.1,501.8 907.7,500.4 908.2,501.4 908.8,500.5 909.3,501.3 909.8,500.0 910.4,500.3 910.9,498.9 911.5,500.2 912.0,499.7 912.6,499.6 913.1,499.6 913.6,498.1 914.2,498.2 914.7,496.4 915.3,496.7 915.8,496.1 916.4,497.0 916.9,496.4 917.4,495.9 918.0,495.3 918.5,496.0 919.1,494.8 919.6,493.4 920.1,494.3 920.7,493.7 921.2,492.6 921.8,490.0 922.3,490.3 922.9,490.6 923.4,489.5 923.9,488.0 924.5,488.5 925.0,487.3 925.6,487.3 926.1,486.7 926.7,486.8 927.2,484.6 927.7,485.2 928.3,483.3 928.8,484.0 929.4,483.0 929.9,482.4 930.4,481.6 931.0,480.5 931.5,480.7 932.1,480.3 932.6,480.3 933.2,479.3 933.7,479.0 934.2,477.6 934.8,476.9 935.3,477.9 935.9,479.2 936.4,477.4 937.0,476.8 937.5,475.7 938.0,477.8 938.6,476.8 939.1,477.2 939.7,478.0 940.2,478.5 940.7,479.6 941.3,479.5 941.8,479.5 942.4,479.5 942.9,479.1 943.5,480.2 944.0,481.6 944.5,480.0 945.1,482.0 945.6,483.7 946.2,483.9 946.7,483.7 947.3,484.3 947.8,485.6 948.3,485.7 948.9,486.8 949.4,488.3 950.0,487.6 950.5,488.0 951.0,489.8 951.6,489.9 952.1,489.8 952.7,489.6 953.2,492.7 953.8,493.4 954.3,492.6 954.8,493.6 955.4,494.0 955.9,494.7 956.5,496.0 957.0,495.7 957.5,495.8 958.1,496.5 958.6,496.8 959.2,497.6 959.7,497.4 960.3,497.5 960.8,499.5 961.3,499.1 961.9,499.5 962.4,500.7 963.0,499.5 963.5,499.6 964.1,500.3 964.6,499.6 965.1,499.9 965.7,500.0 966.2,501.3 966.8,500.0 967.3,501.3 967.8,501.3 968.4,502.5 968.9,501.4 969.5,502.4 970.0,502.5 970.6,502.5 971.1,503.1 971.6,501.0 972.2,502.6 972.7,502.2 973.3,502.2 973.8,503.4 974.4,502.2 974.9,502.2 975.4,503.5 976.0,501.5 976.5,503.7 977.1,502.2 977.6,504.1 978.1,502.4 978.7,503.4 979.2,503.2 979.8,503.1 980.3,503.4 980.9,503.1 981.4,503.9 981.9,503.6 982.5,502.0 983.0,501.4 983.6,504.7 984.1,501.7 984.7,503.3 985.2,502.9 985.7,502.9 986.3,502.7 986.8,504.7 987.4,504.0 987.9,502.6 988.4,503.8 989.0,503.5 989.5,504.7 990.1,503.4 990.6,502.3 991.2,504.6 991.7,504.6 992.2,504.7 992.8,503.9 993.3,502.2 993.9,502.7 994.4,503.2 995.0,503.5 995.5,503.1 996.0,503.8 996.6,502.7 997.1,503.0 997.7,502.9 998.2,503.3 998.7,502.3 999.3,504.8 999.8,502.7 1000.4,503.0 1000.9,503.7 1001.5,502.9 1002.0,504.1 1002.5,504.1 1003.1,504.1 1003.6,502.9 1004.2,502.9 1004.7,503.2 1005.3,503.1 1005.8,503.5 1006.3,503.6 1006.9,503.5 1007.4,503.2 1008.0,504.3 1008.5,504.3 1009.0,504.1 1009.6,503.9 1010.1,503.8 1010.7,504.6 1011.2,503.2 1011.8,502.7 1012.3,503.4 1012.8,503.5 1013.4,503.3 1013.9,503.4 1014.5,503.4 1015.0,503.8 1015.6,503.1 1016.1,502.9 1016.6,503.5 1017.2,503.9 1017.7,503.5 1018.3,502.7 1018.8,503.6 1019.3,503.2 1019.9,503.9 1020.4,503.3 1021.0,503.6 1021.5,504.2 1022.1,503.7 1022.6,503.6 1023.1,503.5 1023.7,503.1 1024.2,504.0 1024.8,502.7 1025.3,503.2 1025.9,503.0 1026.4,504.0 1026.9,505.1 1027.5,502.8 1028.0,504.1 1028.6,503.6 1029.1,505.0 1029.6,502.0 1030.2,503.1 1030.7,504.0 1031.3,503.7 1031.8,503.9 1032.4,502.5 1032.9,503.5 1033.4,503.2 1034.0,505.1 1034.5,503.9 1035.1,503.9 1035.6,503.5 1036.1,504.6 1036.7,503.7 1037.2,503.9 1037.8,503.0 1038.3,504.3 1038.9,504.3 1039.4,502.9 1039.9,503.1 1040.5,503.8 1041.0,503.5 1041.6,503.0 1042.1,503.7 1042.7,504.0 1043.2,503.5 1043.7,503.2 1044.3,503.8 1044.8,503.4 1045.4,503.3 1045.9,503.8 1046.4,504.5 1047.0,504.4 1047.5,503.7 1048.1,503.3 1048.6,503.5 1049.2,503.7 1049.7,503.9 1050.2,503.3 1050.8,503.4 1051.3,503.7 1051.9,502.8 1052.4,503.4 1053.0,503.6 1053.5,503.9 1054.0,503.6 1054.6,503.0 1055.1,502.5 1055.7,502.8 1056.2,502.3 1056.7,502.5 1057.3,502.7 1057.8,502.8 1058.4,503.5 1058.9,502.9 1059.5,502.9 1060.0,503.1 1060.5,502.5 1061.1,502.1 1061.6,502.5 1062.2,502.2 1062.7,503.8 1063.3,503.8 1063.8,502.7 1064.3,502.9 1064.9,503.6 1065.4,503.6 1066.0,503.2 1066.5,503.0 1067.0,503.2 1067.6,501.6 1068.1,500.9 1068.7,501.6 1069.2,502.4 1069.8,501.4 1070.3,501.6 1070.8,501.7 1071.4,501.6 1071.9,500.8 1072.5,501.2 1073.0,501.8 1073.6,501.5 1074.1,500.9 1074.6,500.7 1075.2,501.6 1075.7,501.6 1076.3,499.6 1076.8,499.7 1077.3,499.6 1077.9,500.1 1078.4,499.5 1079.0,499.1 1079.5,500.1 1080.1,499.1 1080.6,498.0 1081.1,498.3 1081.7,498.0 1082.2,498.8 1082.8,496.3 1083.3,497.2 1083.9,497.0 1084.4,497.4 1084.9,496.3 1085.5,496.5 1086.0,496.2 1086.6,494.2 1087.1,494.6 1087.6,494.3 1088.2,494.4 1088.7,493.1 1089.3,493.9 1089.8,493.0 1090.4,493.0 1090.9,491.0 1091.4,492.4 1092.0,492.0 1092.5,490.5 1093.1,490.9 1093.6,491.0 1094.2,491.7 1094.7,489.5 1095.2,489.6 1095.8,488.7 1096.3,489.3 1096.9,487.7 1097.4,487.8 1097.9,488.0 1098.5,487.6 1099.0,487.0 1099.6,486.7 1100.1,486.3 1100.7,487.0 1101.2,486.2 1101.7,485.0 1102.3,486.0 1102.8,485.8 1103.4,486.1 1103.9,486.2 1104.4,484.9 1105.0,485.7 1105.5,484.8 1106.1,484.8 1106.6,484.0 1107.2,484.2 1107.7,483.8 1108.2,482.6 1108.8,483.6 1109.3,482.7 1109.9,483.8 1110.4,482.0 1111.0,483.6 1111.5,482.3 1112.0,482.8 1112.6,483.1 1113.1,483.5 1113.7,482.5 1114.2,483.0 1114.7,483.7 1115.3,482.9 1115.8,483.3 1116.4,482.9 1116.9,483.7 1117.5,483.4 1118.0,483.7 1118.5,482.8 1119.1,482.7 1119.6,480.9 1120.2,482.1 1120.7,482.1 1121.3,483.4 1121.8,482.6 1122.3,482.2 1122.9,482.8 1123.4,482.6 1124.0,482.4 1124.5,482.4 1125.0,484.0 1125.6,484.5 1126.1,483.6 1126.7,484.0 1127.2,484.6 1127.8,484.0 1128.3,484.7 1128.8,483.9 1129.4,483.7 1129.9,484.8 1130.5,486.3 1131.0,485.8 1131.6,485.4 1132.1,486.8 1132.6,487.7 1133.2,486.7 1133.7,488.1 1134.3,489.5 1134.8,488.2 1135.3,489.0 1135.9,488.8 1136.4,488.7 1137.0,489.2 1137.5,491.1 1138.1,491.3 1138.6,491.2 1139.1,493.1 1139.7,492.0 1140.2,492.7 1140.8,493.5 1141.3,493.0 1141.9,493.2 1142.4,493.9 1142.9,493.9 1143.5,495.1 1144.0,495.5 1144.6,495.3 1145.1,494.7 1145.6,496.0 1146.2,495.9 1146.7,496.8 1147.3,497.6 1147.8,498.7 1148.4,498.9 1148.9,497.4 1149.4,498.7 1150.0,498.5 1150.5,499.2 1151.1,500.5 1151.6,500.1 1152.2,500.1 1152.7,499.8 1153.2,499.8 1153.8,500.3 1154.3,501.1 1154.9,501.9 1155.4,501.4 1155.9,501.1 1156.5,501.3 1157.0,502.0 1157.6,502.8 1158.1,503.1 1158.7,501.3 1159.2,501.1 1159.7,502.8 1160.3,502.8 1160.8,503.1 1161.4,503.6 1161.9,502.4 1162.5,503.2 1163.0,502.0 1163.5,503.6 1164.1,502.8 1164.6,502.8 1165.2,502.3 1165.7,504.0 1166.2,503.7 1166.8,503.6 1167.3,502.3 1167.9,502.8 1168.4,504.0 1169.0,503.2 1169.5,503.5 1170.0,503.6 1170.6,503.2 1171.1,504.2 1171.7,502.2 1172.2,504.6 1172.8,504.6 1173.3,503.9 1173.8,504.1 1174.4,503.5 1174.9,504.8 1175.5,503.3 1176.0,503.1 1176.5,504.0 1177.1,503.4 1177.6,503.5 1178.2,504.8 1178.7,502.4 1179.3,504.2 1179.8,503.1 1180.3,503.9 1180.9,504.1 1181.4,504.0 1182.0,502.8 1182.5,503.9 1183.0,504.2 1183.6,505.2 1184.1,504.1 1184.7,503.1 1185.2,503.4 1185.8,503.3 1186.3,504.8 1186.8,504.5 1187.4,502.9 1187.9,503.6 1188.5,504.9 1189.0,503.4 1189.6,504.3 1190.1,503.8 1190.6,504.1 1191.2,503.7 1191.7,503.1 1192.3,503.4 1192.8,504.3 1193.3,505.0 1193.9,503.9 1194.4,504.3 1195.0,504.4 1195.5,503.3 1196.1,503.4 1196.6,504.5 1197.1,504.4 1197.7,503.6 1198.2,502.9 1198.8,503.7 1199.3,503.7 1199.9,504.4 1200.4,503.8 1200.9,504.0 1201.5,504.7 1202.0,504.4 1202.6,503.8 1203.1,504.8 1203.6,504.4 1204.2,505.3 1204.7,503.7 1205.3,504.3 1205.8,503.9 1206.4,503.4 1206.9,503.5 1207.4,504.3 1208.0,504.6 1208.5,503.9 1209.1,504.1 1209.6,505.0 1210.2,504.1 1210.7,503.9 1211.2,504.8 1211.8,503.9 1212.3,504.6 1212.9,503.9 1213.4,504.3 1213.9,504.1 1214.5,503.9 1215.0,504.3 1215.6,505.4 1216.1,504.7 1216.7,504.2 1217.2,505.1 1217.7,503.1 1218.3,504.4 1218.8,503.8 1219.4,503.5 1219.9,503.9 1220.5,504.2 1221.0,503.6 1221.5,504.4 1222.1,503.2 1222.6,504.6 1223.2,504.6 1223.7,505.6 1224.2,504.7 1224.8,504.0 1225.3,503.9 1225.9,504.6 1226.4,504.6 1227.0,503.4 1227.5,503.2 1228.0,504.8 1228.6,504.6 1229.1,503.5 1229.7,505.2 1230.2,504.5 1230.8,504.1 1231.3,504.1 1231.8,504.6 1232.4,504.2 1232.9,504.2 1233.5,504.9 1234.0,503.6 1234.5,504.5 1235.1,504.5 1235.6,505.1 1236.2,504.6 1236.7,504.9 1237.3,505.0 1237.8,505.1 1238.3,503.9 1238.9,504.2 1239.4,504.3 1240.0,505.6 1240.5,505.1 1241.1,504.7 1241.6,504.7 1242.1,504.4 1242.7,505.2 1243.2,504.3 1243.8,504.9 1244.3,504.6 1244.8,503.8 1245.4,505.1 1245.9,504.8 1246.5,504.4 1247.0,503.8 1247.6,504.8 1248.1,504.0 1248.6,503.6 1249.2,505.1 1249.7,504.3 1250.3,504.6 1250.8,504.8 1251.3,505.3 1251.9,503.7 1252.4,503.3 1253.0,505.1 1253.5,504.1 1254.1,504.5 1254.6,504.9 1255.1,505.3 1255.7,503.9 1256.2,504.0 1256.8,503.0 1257.3,504.5 1257.9,504.3 1258.4,504.4 1258.9,505.5 1259.5,503.6 1260.0,503.3 1260.6,503.7 1261.1,504.7 1261.6,503.3 1262.2,503.6 1262.7,504.6 1263.3,503.5 1263.8,503.8 1264.4,503.5 1264.9,504.6 1265.4,503.8 1266.0,504.7 1266.5,503.8 1267.1,504.4 1267.6,503.7 1268.2,504.7 1268.7,502.6 1269.2,505.6 1269.8,504.4 1270.3,503.4 1270.9,503.7 1271.4,504.1 1271.9,504.3 1272.5,503.7 1273.0,505.0 1273.6,504.1 1274.1,503.7 1274.7,504.2 1275.2,504.8 1275.7,503.2 1276.3,503.6 1276.8,504.9 1277.4,504.4 1277.9,504.2 1278.5,505.4 1279.0,505.2 1279.5,503.3 1280.1,503.2 1280.6,504.4 1281.2,504.7 1281.7,503.9 1282.2,504.4 1282.8,503.6 1283.3,504.6 1283.9,503.2 1284.4,504.2 1285.0,504.4 1285.5,503.8 1286.0,504.0 1286.6,504.0 1287.1,504.5 1287.7,503.4 1288.2,504.6 1288.8,502.8 1289.3,504.6 1289.8,504.0 1290.4,504.3 1290.9,504.5 1291.5,504.0 1292.0,504.5 1292.5,504.0 1293.1,503.6 1293.6,504.2 1294.2,504.4 1294.7,502.3 1295.3,503.5 1295.8,502.0 1296.3,503.3 1296.9,503.2 1297.4,503.1 1298.0,503.9 1298.5,503.8 1299.1,503.5 1299.6,501.1 1300.1,503.8 1300.7,502.3 1301.2,500.9 1301.8,502.7 1302.3,502.3 1302.8,502.1 1303.4,503.3 1303.9,502.0 1304.5,501.5 1305.0,502.6 1305.6,501.2 1306.1,502.4 1306.6,501.0 1307.2,502.0 1307.7,502.6 1308.3,501.9 1308.8,500.6 1309.4,499.9 1309.9,500.5 1310.4,499.6 1311.0,501.4 1311.5,501.0 1312.1,498.7 1312.6,499.7 1313.1,500.2 1313.7,500.3 1314.2,498.7 1314.8,499.3 1315.3,498.4 1315.9,498.7 1316.4,499.3 1316.9,497.2 1317.5,498.4 1318.0,498.7 1318.6,496.9 1319.1,497.2 1319.7,498.6 1320.2,497.4 1320.7,497.8 1321.3,497.4 1321.8,497.6 1322.4,497.2 1322.9,496.4 1323.4,495.7 1324.0,496.4 1324.5,495.1 1325.1,495.1 1325.6,495.0 1326.2,494.9 1326.7,494.2 1327.2,494.7 1327.8,495.1 1328.3,493.2 1328.9,492.8 1329.4,493.6 1329.9,493.9 1330.5,493.9 1331.0,493.7 1331.6,493.3 1332.1,494.6 1332.7,493.6 1333.2,493.1 1333.7,493.3 1334.3,493.0 1334.8,492.6 1335.4,492.8 1335.9,492.3 1336.5,492.3 1337.0,493.3 1337.5,491.3 1338.1,492.1 1338.6,492.0 1339.2,492.8 1339.7,491.7 1340.2,492.6 1340.8,492.7 1341.3,493.0 1341.9,493.2 1342.4,492.8 1343.0,492.4 1343.5,492.9 1344.0,492.0 1344.6,493.8 1345.1,492.6 1345.7,493.2 1346.2,493.3 1346.8,494.9 1347.3,493.5 1347.8,493.9 1348.4,495.0 1348.9,494.6 1349.5,494.1 1350.0,495.4 1350.5,494.8 1351.1,495.6 1351.6,496.1 1352.2,495.0 1352.7,495.0 1353.3,495.5 1353.8,496.5 1354.3,497.6 1354.9,496.9 1355.4,497.2 1356.0,496.7 1356.5,497.2 1357.1,497.6 1357.6,496.4 1358.1,497.5 1358.7,497.7 1359.2,498.2 1359.8,499.1 1360.3,498.7 1360.8,499.3 1361.4,499.4 1361.9,499.5 1362.5,499.1 1363.0,499.4 1363.6,499.8 1364.1,499.7 1364.6,500.3 1365.2,499.7 1365.7,500.9 1366.3,500.5 1366.8,499.8 1367.4,501.6 1367.9,501.9 1368.4,501.9 1369.0,500.8 1369.5,500.9 1370.1,501.4 1370.6,501.2 1371.1,502.3 1371.7,501.5 1372.2,501.8 1372.8,502.4 1373.3,502.2 1373.9,501.7 1374.4,502.6 1374.9,502.2 1375.5,502.8 1376.0,502.9 1376.6,502.9 1377.1,502.3 1377.7,502.6 1378.2,503.2 1378.7,502.3 1379.3,504.1 1379.8,503.3 1380.4,503.4 1380.9,502.7 1381.4,503.1 1382.0,503.1 1382.5,502.4 1383.1,502.8 1383.6,504.4 1384.2,503.0 1384.7,503.7 1385.2,504.3 1385.8,503.4 1386.3,504.0 1386.9,503.7 1387.4,503.6 1388.0,504.5 1388.5,503.7 1389.0,502.6 1389.6,503.2 1390.1,503.8 1390.7,504.4 1391.2,503.5 1391.7,504.8 1392.3,502.9 1392.8,503.7 1393.4,504.1 1393.9,503.8 1394.5,503.7 1395.0,504.6 1395.5,503.3 1396.1,503.7 1396.6,504.0 1397.2,503.1 1397.7,504.1 1398.2,504.3 1398.8,504.3 1399.3,504.9 1399.9,503.8 1400.4,504.7 1401.0,504.4 1401.5,503.9 1402.0,503.6 1402.6,504.9 1403.1,503.1 1403.7,504.7 1404.2,504.3 1404.8,504.9 1405.3,503.8 1405.8,503.2 1406.4,504.5 1406.9,504.6 1407.5,504.8 1408.0,504.3 1408.5,504.2 1409.1,504.1 1409.6,504.6 1410.2,503.6 1410.7,504.3 1411.3,504.5 1411.8,505.3 1412.3,504.1 1412.9,503.7 1413.4,505.4 1414.0,504.5 1414.5,504.9 1415.1,503.9 1415.6,503.4 1416.1,504.1 1416.7,504.7 1417.2,504.8 1417.8,504.9 1418.3,503.9 1418.8,504.4 1419.4,503.3 1419.9,503.6 1420.5,504.0 1421.0,504.3 1421.6,505.1 1422.1,504.7 1422.6,505.2 1423.2,503.2 1423.7,504.5 1424.3,503.6 1424.8,504.9 1425.4,504.1 1425.9,504.5 1426.4,504.8 1427.0,504.4 1427.5,503.7 1428.1,503.9 1428.6,503.7 1429.1,503.9 1429.7,504.0 1430.2,504.8 1430.8,503.0 1431.3,506.0 1431.9,504.3 1432.4,504.4 1432.9,504.0 1433.5,504.1 1434.0,504.2 1434.6,503.9 1435.1,505.1 1435.7,504.3 1436.2,504.4 1436.7,504.1 1437.3,506.3 1437.8,504.1 1438.4,504.8 1438.9,505.2 1439.4,503.8 1440.0,503.9 1440.5,503.8 1441.1,504.7 1441.6,504.8 1442.2,505.1 1442.7,503.9 1443.2,504.5 1443.8,504.2 1444.3,504.8 1444.9,502.8 1445.4,505.7 1446.0,504.1 1446.5,505.0 1447.0,503.9 1447.6,504.7 1448.1,504.1 1448.7,504.1 1449.2,505.4 1449.7,505.6 1450.3,503.8 1450.8,504.3 1451.4,503.6 1451.9,505.3 1452.5,505.0 1453.0,504.9 1453.5,503.7 1454.1,504.6 1454.6,504.2 1455.2,504.1 1455.7,504.5 1456.3,504.9 1456.8,505.2 1457.3,504.7 1457.9,505.2 1458.4,504.5 1459.0,504.4 1459.5,504.7 1460.0,504.5 1460.6,504.5 1461.1,505.3 1461.7,505.0 1462.2,504.5 1462.8,504.2 1463.3,504.7 1463.8,504.8 1464.4,504.2 1464.9,503.8 1465.5,503.1 1466.0,505.4 1466.6,504.3 1467.1,504.2 1467.6,504.8 1468.2,505.3 1468.7,503.6 1469.3,505.2 1469.8,505.0 1470.3,504.8 1470.9,503.9 1471.4,504.0 1472.0,504.4 1472.5,504.2 1473.1,504.0 1473.6,504.5 1474.1,504.3 1474.7,503.5 1475.2,502.9 1475.8,503.8 1476.3,503.8 1476.8,503.0 1477.4,503.1 1477.9,502.8 1478.5,503.5 1479.0,502.5 1479.6,504.1 1480.1,503.3 1480.6,503.5 1481.2,504.7 1481.7,503.4 1482.3,502.4 1482.8,504.0 1483.4,503.1 1483.9,502.2 1484.4,502.2 1485.0,502.9 1485.5,502.7 1486.1,503.8 1486.6,502.4 1487.1,503.1 1487.7,503.0 1488.2,502.1 1488.8,502.9 1489.3,502.5 1489.9,502.4 1490.4,502.5 1490.9,503.1 1491.5,502.7 1492.0,503.6 1492.6,502.2 1493.1,501.7 1493.7,502.6 1494.2,500.9 1494.7,503.2 1495.3,503.5 1495.8,502.9 1496.4,502.3 1496.9,501.8 1497.4,502.3 1498.0,501.3 1498.5,502.1 1499.1,501.9 1499.6,502.1 1500.2,501.0 1500.7,501.9 1501.2,501.4 1501.8,501.0 1502.3,501.1 1502.9,501.6 1503.4,501.7 1504.0,499.4 1504.5,501.0 1505.0,502.4 1505.6,502.5 1506.1,501.6 1506.7,501.2 1507.2,500.9 1507.7,502.5 1508.3,501.3 1508.8,501.8 1509.4,500.4 1509.9,500.9 1510.5,502.3 1511.0,501.8 1511.5,501.4 1512.1,500.3 1512.6,501.6 1513.2,501.6 1513.7,502.0 1514.3,500.5 1514.8,500.6 1515.3,501.3 1515.9,501.3 1516.4,501.1 1517.0,500.9 1517.5,500.6 1518.0,501.2 1518.6,500.5 1519.1,501.0 1519.7,501.6 1520.2,500.6 1520.8,501.0 1521.3,502.5 1521.8,500.4 1522.4,500.8 1522.9,501.2 1523.5,501.9 1524.0,501.5 1524.6,501.8 1525.1,501.5 1525.6,500.5 1526.2,500.6 1526.7,500.8 1527.3,501.0 1527.8,501.5 1528.3,500.5 1528.9,500.9 1529.4,501.2 1530.0,499.6 1530.5,500.8 1531.1,500.6 1531.6,500.3 1532.1,500.1 1532.7,499.0 1533.2,499.4 1533.8,500.3 1534.3,499.8 1534.9,500.9 1535.4,499.6 1535.9,499.6 1536.5,500.7 1537.0,500.0 1537.6,500.6 1538.1,499.5 1538.6,499.3 1539.2,500.7 1539.7,500.4 1540.3,499.1 1540.8,499.3 1541.4,501.3 1541.9,500.0 1542.4,501.4 1543.0,499.9 1543.5,499.8 1544.1,500.2 1544.6,500.8 1545.2,499.9 1545.7,499.8 1546.2,499.8 1546.8,499.8 1547.3,500.3 1547.9,501.0 1548.4,500.4 1548.9,499.8 1549.5,500.0 1550.0,499.8 1550.6,500.3 1551.1,499.4 1551.7,500.9 1552.2,500.6 1552.7,500.3 1553.3,500.6 1553.8,500.7 1554.4,500.9 1554.9,500.9 1555.4,501.5 1556.0,501.5 1556.5,499.8 1557.1,501.3 1557.6,502.7 1558.2,501.0 1558.7,501.7 1559.2,501.2 1559.8,500.6 1560.3,502.5 1560.9,502.2 1561.4,500.5 1562.0,501.8 1562.5,502.4 1563.0,502.5 1563.6,501.3 1564.1,502.7 1564.7,502.5 1565.2,501.6 1565.7,502.4 1566.3,503.0 1566.8,503.3 1567.4,502.7 1567.9,503.7 1568.5,502.9 1569.0,503.2 1569.5,503.6 1570.1,502.5 1570.6,503.2 1571.2,502.5 1571.7,502.3 1572.3,502.9 1572.8,502.9 1573.3,503.4 1573.9,503.9 1574.4,503.5 1575.0,503.2 1575.5,503.8 1576.0,503.1 1576.6,503.8 1577.1,504.6 1577.7,503.8 1578.2,502.6 1578.8,502.4 1579.3,504.5 1579.8,504.5 1580.4,504.0 1580.9,504.8 1581.5,504.4 1582.0,504.5 1582.6,503.6 1583.1,505.0 1583.6,505.5 1584.2,505.3 1584.7,504.4 1585.3,504.6 1585.8,505.1 1586.3,504.2 1586.9,505.0 1587.4,503.9 1588.0,505.3 1588.5,505.3 1589.1,505.4 1589.6,504.8 1590.1,503.8 1590.7,504.7 1591.2,504.7 1591.8,504.4 1592.3,504.5 1592.9,505.9 1593.4,504.8 1593.9,505.3 1594.5,505.0 1595.0,504.2 1595.6,504.9 1596.1,504.5 1596.6,505.2 1597.2,504.1 1597.7,503.9 1598.3,504.6 1598.8,504.8 1599.4,504.3 1599.9,504.4 1600.4,504.7 1601.0,504.6 1601.5,504.5 1602.1,505.2 1602.6,504.8 1603.2,505.2 1603.7,505.0 1604.2,504.2 1604.8,504.6 1605.3,505.3 1605.9,504.8 1606.4,505.8 1606.9,504.7 1607.5,504.5 1608.0,504.0 1608.6,503.5 1609.1,504.0 1609.7,505.7 1610.2,503.6 1610.7,505.6 1611.3,505.2 1611.8,503.3 1612.4,504.2 1612.9,505.4 1613.5,505.5 1614.0,505.2 1614.5,504.9 1615.1,505.4 1615.6,505.0 1616.2,503.5 1616.7,504.2 1617.2,503.6 1617.8,504.5 1618.3,505.7 1618.9,503.9 1619.4,503.4 1620.0,504.9 1620.5,503.1 1621.0,504.5 1621.6,504.7 1622.1,505.6 1622.7,504.9 1623.2,505.9 1623.7,504.3 1624.3,505.0 1624.8,504.0 1625.4,505.0 1625.9,505.2 1626.5,504.2 1627.0,504.6 1627.5,504.6 1628.1,505.6 1628.6,504.6 1629.2,504.4 1629.7,504.4 1630.3,502.8 1630.8,504.3 1631.3,504.8 1631.9,504.2 1632.4,504.3 1633.0,504.5 1633.5,505.0 1634.0,504.6 1634.6,504.5 1635.1,504.5 1635.7,503.7 1636.2,503.6 1636.8,503.6 1637.3,504.4 1637.8,503.5 1638.4,504.6 1638.9,503.6 1639.5,504.0 1640.0,504.7 1640.6,505.6 1641.1,504.2 1641.6,502.6 1642.2,503.7 1642.7,504.2 1643.3,504.2 1643.8,503.2 1644.3,502.3 1644.9,503.5 1645.4,503.0 1646.0,502.9 1646.5,502.2 1647.1,503.3 1647.6,501.9 1648.1,502.7 1648.7,502.8 1649.2,502.7 1649.8,502.8 1650.3,503.7 1650.9,503.7 1651.4,502.5 1651.9,501.9 1652.5,501.6 1653.0,501.5 1653.6,501.6 1654.1,502.5 1654.6,502.2 1655.2,501.1 1655.7,501.2 1656.3,502.4 1656.8,500.3 1657.4,501.6 1657.9,501.9 1658.4,500.8 1659.0,501.4 1659.5,501.2 1660.1,500.8 1660.6,499.9 1661.2,500.5 1661.7,499.6 1662.2,499.6 1662.8,501.0 1663.3,499.8 1663.9,498.9 1664.4,500.4 1664.9,500.6 1665.5,500.5 1666.0,500.1 1666.6,499.8 1667.1,497.9 1667.7,499.9 1668.2,498.8 1668.7,499.2 1669.3,499.8 1669.8,499.5 1670.4,499.3 1670.9,500.0 1671.5,500.3 1672.0,498.8 1672.5,498.7 1673.1,500.6 1673.6,499.8 1674.2,499.2 1674.7,498.8 1675.2,499.7 1675.8,500.6 1676.3,499.0 1676.9,499.9 1677.4,498.9 1678.0,500.3 1678.5,499.8 1679.0,500.8 1679.6,500.2 1680.1,500.0 1680.7,499.5 1681.2,499.5 1681.8,499.9 1682.3,500.6 1682.8,500.4 1683.4,500.6 1683.9,500.6 1684.5,501.1 1685.0,501.7 1685.5,500.9 1686.1,501.3 1686.6,499.9 1687.2,499.7 1687.7,500.4 1688.3,501.4 1688.8,500.4 1689.3,500.4 1689.9,501.7 1690.4,501.2 1691.0,501.2 1691.5,500.9 1692.1,501.9 1692.6,501.6 1693.1,501.5 1693.7,500.9 1694.2,500.8 1694.8,502.7 1695.3,501.3 1695.8,501.4 1696.4,501.3 1696.9,500.9 1697.5,501.0 1698.0,502.0 1698.6,500.6 1699.1,502.6 1699.6,501.0 1700.2,500.8 1700.7,500.7 1701.3,502.1 1701.8,503.5 1702.3,502.8 1702.9,502.6 1703.4,502.1 1704.0,502.9 1704.5,502.6 1705.1,502.7 1705.6,502.8 1706.1,503.8 1706.7,503.5 1707.2,503.9 1707.8,502.9 1708.3,503.7 1708.9,503.6 1709.4,502.3 1709.9,502.7 1710.5,503.8 1711.0,503.4 1711.6,504.1 1712.1,503.6 1712.6,503.6 1713.2,503.1 1713.7,502.4 1714.3,504.4 1714.8,503.5 1715.4,503.8 1715.9,503.5 1716.4,504.4 1717.0,503.9 1717.5,503.7 1718.1,503.8 1718.6,503.9 1719.2,504.2 1719.7,504.6 1720.2,502.6 1720.8,503.8 1721.3,504.3 1721.9,505.2 1722.4,505.0 1722.9,504.2 1723.5,504.0 1724.0,504.6 1724.6,504.0 1725.1,505.1 1725.7,505.8 1726.2,505.5 1726.7,505.4 1727.3,504.3 1727.8,503.5 1728.4,504.1 1728.9,505.1 1729.5,506.1 1730.0,505.6 1730.5,505.2 1731.1,504.4 1731.6,505.2 1732.2,504.5 1732.7,504.1 1733.2,504.5 1733.8,504.4 1734.3,506.0 1734.9,504.6 1735.4,505.7 1736.0,505.2 1736.5,505.1 1737.0,505.3 1737.6,505.3 1738.1,506.4 1738.7,504.4 1739.2,504.8 1739.8,505.3 1740.3,505.6 1740.8,504.3 1741.4,504.9 1741.9,506.0 1742.5,505.1 1743.0,505.0 1743.5,504.9 1744.1,504.7 1744.6,505.7 1745.2,504.4 1745.7,505.5 1746.3,505.4 1746.8,504.3 1747.3,505.5 1747.9,505.7 1748.4,506.3 1749.0,505.5 1749.5,505.2 1750.1,505.4 1750.6,504.4 1751.1,505.7 1751.7,505.7 1752.2,504.4 1752.8,504.0 1753.3,504.3 1753.8,504.9 1754.4,504.8 1754.9,506.0 1755.5,505.4 1756.0,504.9 1756.6,505.6 1757.1,505.3 1757.6,504.7 1758.2,504.6 1758.7,504.9 1759.3,506.0 1759.8,505.7 1760.4,506.5 1760.9,504.9 1761.4,505.5 1762.0,504.8 1762.5,504.8 1763.1,504.6 1763.6,504.3 1764.1,505.9 1764.7,505.0 1765.2,504.3 1765.8,504.3 1766.3,505.1 1766.9,505.3 1767.4,505.3 1767.9,504.4 1768.5,504.3 1769.0,504.0 1769.6,505.4 1770.1,505.1 1770.6,506.1 1771.2,505.0 1771.7,505.4 1772.3,504.8 1772.8,504.2 1773.4,505.9 1773.9,504.2 1774.4,505.7 1775.0,506.0 1775.5,504.5 1776.1,504.9 1776.6,505.1 1777.2,504.9 1777.7,505.7 1778.2,504.1 1778.8,504.3 1779.3,505.3 1779.9,504.6 1780.4,505.6 1780.9,504.6 1781.5,504.7 1782.0,506.1 1782.6,504.7 1783.1,504.5 1783.7,505.1 1784.2,505.2 1784.7,505.2 1785.3,505.1 1785.8,506.3 1786.4,504.6 1786.9,505.2 1787.5,505.6 1788.0,504.5 1788.5,505.8 1789.1,505.6 1789.6,504.5 1790.2,506.0 1790.7,506.0 1791.2,504.4 1791.8,505.7 1792.3,504.8 1792.9,505.2 1793.4,505.5 1794.0,505.6 1794.5,505.1 1795.0,504.7 1795.6,505.9 1796.1,504.8 1796.7,505.1 1797.2,504.9 1797.8,505.3 1798.3,504.7 1798.8,505.3 1799.4,505.3 1799.9,505.5 1800.5,505.7 1801.0,506.5 1801.5,505.2 1802.1,505.2 1802.6,505.0 1803.2,504.7 1803.7,506.2 1804.3,504.9 1804.8,504.3 1805.3,504.8 1805.9,505.8" stroke="#595f77" stroke-width="5.8"/>
<path d="M177.0,613.9 177.5,614.9 178.1,614.1 178.6,612.8 179.1,613.1 179.7,614.1 180.2,613.5 180.8,614.3 181.3,612.3 181.9,614.9 182.4,614.8 182.9,612.6 183.5,613.4 184.0,613.2 184.6,613.3 185.1,614.2 185.6,613.3 186.2,613.0 186.7,614.1 187.3,614.5 187.8,613.3 188.4,613.8 188.9,612.7 189.4,614.3 190.0,615.2 190.5,614.1 191.1,613.6 191.6,612.3 192.2,613.5 192.7,612.3 193.2,614.2 193.8,614.9 194.3,614.6 194.9,613.8 195.4,614.1 195.9,613.3 196.5,613.9 197.0,613.9 197.6,613.7 198.1,612.0 198.7,613.9 199.2,614.1 199.7,613.3 200.3,614.0 200.8,614.3 201.4,612.3 201.9,614.4 202.5,613.4 203.0,613.0 203.5,613.8 204.1,613.2 204.6,613.4 205.2,613.1 205.7,613.3 206.2,612.9 206.8,613.4 207.3,613.0 207.9,612.9 208.4,614.5 209.0,613.8 209.5,614.1 210.0,615.0 210.6,614.2 211.1,613.8 211.7,613.1 212.2,614.3 212.8,614.1 213.3,614.5 213.8,613.7 214.4,613.6 214.9,612.4 215.5,614.2 216.0,612.8 216.5,613.5 217.1,614.2 217.6,613.9 218.2,613.8 218.7,614.1 219.3,612.6 219.8,613.9 220.3,614.7 220.9,614.6 221.4,612.8 222.0,614.5 222.5,614.1 223.0,613.2 223.6,612.9 224.1,613.7 224.7,614.8 225.2,614.2 225.8,613.2 226.3,613.9 226.8,614.6 227.4,613.8 227.9,613.5 228.5,614.2 229.0,612.4 229.6,614.1 230.1,612.9 230.6,613.8 231.2,614.1 231.7,613.8 232.3,613.3 232.8,613.6 233.3,614.4 233.9,612.9 234.4,613.2 235.0,614.1 235.5,614.4 236.1,613.8 236.6,613.5 237.1,614.3 237.7,613.6 238.2,615.2 238.8,614.7 239.3,615.1 239.9,613.2 240.4,613.5 240.9,613.6 241.5,613.0 242.0,613.4 242.6,614.4 243.1,613.1 243.6,613.6 244.2,614.8 244.7,614.0 245.3,614.1 245.8,613.8 246.4,613.3 246.9,613.5 247.4,613.9 248.0,613.3 248.5,613.7 249.1,613.4 249.6,613.6 250.2,614.7 250.7,614.1 251.2,612.8 251.8,613.5 252.3,614.9 252.9,614.8 253.4,612.8 253.9,613.9 254.5,613.6 255.0,611.8 255.6,613.7 256.1,614.8 256.7,613.0 257.2,613.3 257.7,614.1 258.3,613.1 258.8,613.1 259.4,613.6 259.9,612.4 260.5,613.7 261.0,612.4 261.5,613.3 262.1,613.8 262.6,614.3 263.2,612.7 263.7,613.3 264.2,613.3 264.8,611.9 265.3,613.0 265.9,613.2 266.4,613.4 267.0,614.3 267.5,613.0 268.0,612.8 268.6,612.8 269.1,612.8 269.7,613.1 270.2,613.8 270.8,612.0 271.3,612.6 271.8,611.0 272.4,611.4 272.9,612.5 273.5,611.0 274.0,612.5 274.5,613.1 275.1,611.6 275.6,611.6 276.2,612.1 276.7,611.6 277.3,611.9 277.8,611.4 278.3,612.3 278.9,611.9 279.4,611.5 280.0,610.0 280.5,610.9 281.1,611.3 281.6,611.7 282.1,610.6 282.7,611.4 283.2,611.4 283.8,610.3 284.3,611.1 284.8,610.3 285.4,609.6 285.9,610.1 286.5,610.9 287.0,610.1 287.6,609.6 288.1,610.0 288.6,609.7 289.2,609.1 289.7,607.5 290.3,606.8 290.8,607.1 291.3,609.0 291.9,608.0 292.4,606.2 293.0,607.3 293.5,605.5 294.1,606.1 294.6,606.0 295.1,604.8 295.7,604.8 296.2,604.2 296.8,601.8 297.3,602.1 297.9,601.7 298.4,600.1 298.9,598.6 299.5,599.4 300.0,597.5 300.6,595.7 301.1,594.1 301.6,593.3 302.2,592.5 302.7,589.8 303.3,588.7 303.8,586.7 304.4,584.3 304.9,582.4 305.4,580.1 306.0,577.1 306.5,574.2 307.1,573.0 307.6,570.7 308.2,567.2 308.7,563.2 309.2,560.6 309.8,557.0 310.3,553.0 310.9,549.8 311.4,546.5 311.9,543.6 312.5,538.8 313.0,536.6 313.6,532.1 314.1,529.1 314.7,525.2 315.2,521.0 315.7,517.4 316.3,514.0 316.8,510.6 317.4,507.7 317.9,505.4 318.5,501.9 319.0,500.1 319.5,497.5 320.1,494.9 320.6,494.0 321.2,493.1 321.7,492.7 322.2,491.7 322.8,492.9 323.3,492.5 323.9,493.8 324.4,495.9 325.0,497.4 325.5,499.0 326.0,501.2 326.6,504.5 327.1,507.4 327.7,512.5 328.2,513.9 328.8,517.2 329.3,523.2 329.8,524.4 330.4,528.8 330.9,533.3 331.5,536.8 332.0,540.7 332.5,545.2 333.1,549.4 333.6,551.6 334.2,555.1 334.7,558.1 335.3,561.2 335.8,564.4 336.3,567.9 336.9,570.3 337.4,573.6 338.0,575.7 338.5,577.8 339.1,580.7 339.6,583.0 340.1,585.0 340.7,587.0 341.2,589.5 341.8,590.1 342.3,593.2 342.8,593.7 343.4,595.4 343.9,597.6 344.5,598.7 345.0,598.0 345.6,600.5 346.1,602.1 346.6,601.5 347.2,602.6 347.7,604.6 348.3,603.6 348.8,606.2 349.4,604.8 349.9,605.7 350.4,606.3 351.0,606.9 351.5,608.1 352.1,608.2 352.6,608.5 353.1,608.8 353.7,607.9 354.2,608.9 354.8,610.3 355.3,609.0 355.9,611.0 356.4,610.2 356.9,609.8 357.5,611.2 358.0,611.3 358.6,610.6 359.1,610.8 359.7,610.8 360.2,611.1 360.7,610.1 361.3,611.3 361.8,612.7 362.4,611.7 362.9,612.4 363.4,612.8 364.0,612.5 364.5,612.2 365.1,612.3 365.6,612.4 366.2,613.0 366.7,612.7 367.2,613.5 367.8,614.2 368.3,613.5 368.9,612.3 369.4,613.6 369.9,613.3 370.5,613.2 371.0,613.1 371.6,613.5 372.1,615.8 372.7,615.8 373.2,615.0 373.7,613.3 374.3,614.1 374.8,614.7 375.4,613.9 375.9,614.6 376.5,614.9 377.0,615.3 377.5,614.6 378.1,614.6 378.6,614.3 379.2,614.2 379.7,614.6 380.2,614.5 380.8,615.1 381.3,614.9 381.9,614.5 382.4,615.7 383.0,614.6 383.5,615.2 384.0,615.2 384.6,614.5 385.1,614.9 385.7,615.1 386.2,614.6 386.8,614.2 387.3,616.8 387.8,614.7 388.4,614.9 388.9,615.0 389.5,615.2 390.0,615.8 390.5,615.8 391.1,614.9 391.6,615.5 392.2,615.8 392.7,615.3 393.3,616.1 393.8,615.6 394.3,616.1 394.9,614.8 395.4,616.7 396.0,615.5 396.5,614.9 397.1,615.0 397.6,615.2 398.1,615.9 398.7,614.2 399.2,615.1 399.8,616.5 400.3,616.6 400.8,615.1 401.4,615.9 401.9,616.0 402.5,615.8 403.0,615.6 403.6,616.5 404.1,615.8 404.6,616.1 405.2,616.5 405.7,615.4 406.3,615.5 406.8,617.5 407.4,615.4 407.9,616.8 408.4,616.9 409.0,616.2 409.5,616.0 410.1,616.1 410.6,615.7 411.1,616.2 411.7,616.1 412.2,615.9 412.8,616.0 413.3,616.8 413.9,616.3 414.4,616.1 414.9,617.5 415.5,616.3 416.0,616.7 416.6,615.8 417.1,615.7 417.7,616.7 418.2,617.0 418.7,614.4 419.3,616.8 419.8,616.9 420.4,616.4 420.9,616.8 421.4,615.7 422.0,616.7 422.5,615.7 423.1,616.3 423.6,616.2 424.2,616.5 424.7,615.6 425.2,616.6 425.8,616.7 426.3,617.2 426.9,616.1 427.4,616.8 428.0,616.0 428.5,616.8 429.0,616.0 429.6,615.8 430.1,616.1 430.7,617.5 431.2,617.4 431.7,616.5 432.3,616.5 432.8,616.7 433.4,615.5 433.9,617.7 434.5,615.8 435.0,615.7 435.5,616.3 436.1,615.8 436.6,616.6 437.2,616.8 437.7,616.2 438.2,616.5 438.8,615.9 439.3,615.2 439.9,615.5 440.4,617.5 441.0,616.1 441.5,615.0 442.0,615.4 442.6,615.5 443.1,616.5 443.7,616.0 444.2,616.8 444.8,617.0 445.3,616.1 445.8,616.0 446.4,616.3 446.9,615.1 447.5,615.1 448.0,614.1 448.5,615.5 449.1,614.3 449.6,614.8 450.2,616.0 450.7,613.4 451.3,613.8 451.8,613.2 452.3,612.9 452.9,613.8 453.4,612.1 454.0,613.0 454.5,612.6 455.1,612.9 455.6,610.8 456.1,610.8 456.7,611.9 457.2,609.7 457.8,610.6 458.3,610.9 458.8,608.8 459.4,608.7 459.9,609.5 460.5,607.7 461.0,608.7 461.6,608.5 462.1,607.3 462.6,606.8 463.2,606.5 463.7,605.7 464.3,606.2 464.8,605.8 465.4,605.0 465.9,604.8 466.4,603.4 467.0,603.4 467.5,602.4 468.1,603.2 468.6,603.9 469.1,603.3 469.7,602.7 470.2,602.7 470.8,602.6 471.3,603.6 471.9,602.1 472.4,603.8 472.9,603.4 473.5,602.3 474.0,603.8 474.6,604.1 475.1,603.6 475.7,605.3 476.2,604.0 476.7,604.6 477.3,605.3 477.8,605.9 478.4,605.8 478.9,606.9 479.4,606.4 480.0,607.5 480.5,607.5 481.1,608.0 481.6,607.8 482.2,608.8 482.7,608.3 483.2,608.7 483.8,610.0 484.3,611.0 484.9,610.2 485.4,611.6 486.0,613.1 486.5,612.4 487.0,612.7 487.6,612.6 488.1,611.7 488.7,613.0 489.2,613.6 489.7,613.1 490.3,614.3 490.8,613.9 491.4,615.2 491.9,614.9 492.5,615.2 493.0,615.5 493.5,615.3 494.1,616.6 494.6,615.1 495.2,615.4 495.7,616.0 496.3,616.3 496.8,615.4 497.3,617.1 497.9,616.4 498.4,617.0 499.0,616.3 499.5,616.5 500.0,617.0 500.6,616.6 501.1,616.6 501.7,617.2 502.2,617.6 502.8,617.0 503.3,617.5 503.8,616.7 504.4,617.5 504.9,616.7 505.5,617.5 506.0,616.7 506.6,617.5 507.1,618.0 507.6,617.5 508.2,616.4 508.7,618.4 509.3,617.1 509.8,616.1 510.3,618.7 510.9,617.1 511.4,618.0 512.0,617.7 512.5,618.8 513.1,618.6 513.6,616.5 514.1,617.9 514.7,616.9 515.2,617.6 515.8,617.5 516.3,617.5 516.8,616.9 517.4,618.1 517.9,618.2 518.5,618.2 519.0,618.9 519.6,617.6 520.1,617.1 520.6,617.8 521.2,616.1 521.7,617.5 522.3,616.9 522.8,617.0 523.4,616.9 523.9,616.9 524.4,617.9 525.0,616.6 525.5,617.1 526.1,617.7 526.6,617.5 527.1,618.5 527.7,617.8 528.2,619.0 528.8,618.3 529.3,617.0 529.9,617.6 530.4,618.7 530.9,616.9 531.5,617.1 532.0,616.5 532.6,617.7 533.1,618.4 533.7,618.5 534.2,617.6 534.7,616.9 535.3,617.9 535.8,617.7 536.4,618.3 536.9,617.9 537.4,618.6 538.0,617.4 538.5,617.8 539.1,617.7 539.6,617.5 540.2,618.1 540.7,616.7 541.2,616.8 541.8,616.2 542.3,617.8 542.9,618.3 543.4,618.1 544.0,618.9 544.5,617.9 545.0,617.2 545.6,618.1 546.1,618.0 546.7,618.0 547.2,618.6 547.7,617.3 548.3,617.3 548.8,617.8 549.4,618.6 549.9,617.4 550.5,618.7 551.0,618.8 551.5,617.6 552.1,617.5 552.6,617.8 553.2,616.9 553.7,618.9 554.3,618.0 554.8,618.6 555.3,617.5 555.9,618.0 556.4,617.8 557.0,618.9 557.5,617.2 558.0,618.7 558.6,617.9 559.1,617.9 559.7,616.8 560.2,617.8 560.8,617.6 561.3,618.2 561.8,617.6 562.4,617.5 562.9,618.5 563.5,618.0 564.0,617.6 564.6,618.0 565.1,618.2 565.6,617.7 566.2,617.8 566.7,618.8 567.3,617.8 567.8,616.5 568.3,618.4 568.9,618.7 569.4,618.5 570.0,618.4 570.5,616.5 571.1,617.2 571.6,617.9 572.1,617.9 572.7,617.8 573.2,617.0 573.8,617.3 574.3,617.5 574.9,618.4 575.4,619.1 575.9,616.7 576.5,617.8 577.0,617.1 577.6,618.3 578.1,617.9 578.6,618.0 579.2,617.8 579.7,617.3 580.3,617.2 580.8,617.5 581.4,618.2 581.9,618.9 582.4,618.3 583.0,617.5 583.5,618.6 584.1,617.8 584.6,617.6 585.1,617.6 585.7,616.9 586.2,616.6 586.8,617.0 587.3,617.3 587.9,617.6 588.4,616.6 588.9,617.3 589.5,616.2 590.0,618.2 590.6,617.0 591.1,616.6 591.7,617.7 592.2,617.3 592.7,616.5 593.3,618.3 593.8,616.6 594.4,617.4 594.9,616.7 595.4,617.5 596.0,617.4 596.5,616.4 597.1,616.4 597.6,617.5 598.2,616.9 598.7,617.2 599.2,616.8 599.8,617.2 600.3,616.9 600.9,616.1 601.4,617.3 602.0,616.2 602.5,616.2 603.0,616.3 603.6,616.8 604.1,615.4 604.7,615.8 605.2,615.6 605.7,615.5 606.3,614.8 606.8,613.7 607.4,614.8 607.9,615.8 608.5,615.0 609.0,614.7 609.5,614.7 610.1,615.3 610.6,614.5 611.2,614.3 611.7,614.6 612.3,614.9 612.8,614.3 613.3,614.1 613.9,612.7 614.4,612.6 615.0,613.6 615.5,613.1 616.0,612.9 616.6,613.3 617.1,613.5 617.7,614.7 618.2,612.2 618.8,612.8 619.3,614.0 619.8,611.9 620.4,612.6 620.9,611.4 621.5,612.8 622.0,611.4 622.6,612.2 623.1,612.2 623.6,611.3 624.2,610.5 624.7,610.8 625.3,611.3 625.8,611.5 626.3,611.6 626.9,610.4 627.4,611.8 628.0,611.1 628.5,610.7 629.1,610.2 629.6,609.9 630.1,609.1 630.7,610.0 631.2,610.3 631.8,611.2 632.3,610.7 632.9,609.4 633.4,610.5 633.9,609.3 634.5,611.2 635.0,611.5 635.6,610.0 636.1,609.3 636.6,610.5 637.2,609.8 637.7,609.8 638.3,609.5 638.8,608.8 639.4,609.5 639.9,609.7 640.4,608.9 641.0,608.4 641.5,608.3 642.1,608.8 642.6,608.8 643.2,607.8 643.7,607.0 644.2,607.8 644.8,607.2 645.3,607.3 645.9,608.2 646.4,607.6 646.9,605.2 647.5,605.6 648.0,606.0 648.6,604.6 649.1,604.1 649.7,604.8 650.2,604.5 650.7,604.3 651.3,604.4 651.8,603.4 652.4,603.5 652.9,603.2 653.5,603.6 654.0,601.4 654.5,602.7 655.1,600.9 655.6,600.8 656.2,601.7 656.7,601.5 657.2,601.2 657.8,600.7 658.3,600.6 658.9,599.8 659.4,600.2 660.0,600.8 660.5,598.4 661.0,599.4 661.6,599.0 662.1,598.3 662.7,599.0 663.2,599.1 663.7,597.3 664.3,597.6 664.8,599.1 665.4,599.0 665.9,600.1 666.5,599.0 667.0,600.1 667.5,599.1 668.1,598.8 668.6,599.8 669.2,599.6 669.7,599.9 670.3,598.6 670.8,600.6 671.3,600.5 671.9,601.0 672.4,601.3 673.0,602.3 673.5,601.5 674.0,601.7 674.6,602.6 675.1,603.0 675.7,602.7 676.2,602.6 676.8,602.7 677.3,602.9 677.8,603.1 678.4,604.4 678.9,603.8 679.5,604.8 680.0,604.2 680.6,605.6 681.1,605.2 681.6,606.4 682.2,606.2 682.7,606.3 683.3,605.9 683.8,606.3 684.3,606.7 684.9,607.0 685.4,607.0 686.0,608.1 686.5,608.4 687.1,608.2 687.6,609.6 688.1,608.9 688.7,608.2 689.2,609.3 689.8,609.8 690.3,609.8 690.9,610.4 691.4,610.0 691.9,610.7 692.5,611.0 693.0,611.5 693.6,611.3 694.1,611.4 694.6,612.0 695.2,612.5 695.7,612.3 696.3,612.6 696.8,612.2 697.4,614.1 697.9,612.7 698.4,615.2 699.0,613.6 699.5,614.8 700.1,613.8 700.6,614.5 701.2,614.5 701.7,614.3 702.2,613.8 702.8,614.5 703.3,614.0 703.9,615.9 704.4,614.4 704.9,616.3 705.5,615.1 706.0,614.1 706.6,616.6 707.1,616.1 707.7,615.2 708.2,615.1 708.7,615.1 709.3,616.2 709.8,614.6 710.4,615.2 710.9,616.2 711.5,616.8 712.0,615.1 712.5,615.2 713.1,615.0 713.6,616.1 714.2,615.0 714.7,615.4 715.2,615.8 715.8,616.0 716.3,616.1 716.9,615.1 717.4,615.7 718.0,615.9 718.5,616.2 719.0,616.7 719.6,616.4 720.1,615.4 720.7,616.0 721.2,615.3 721.8,616.9 722.3,616.0 722.8,616.1 723.4,616.5 723.9,616.0 724.5,616.9 725.0,617.0 725.5,616.7 726.1,616.7 726.6,614.6 727.2,616.5 727.7,617.2 728.3,617.1 728.8,614.8 729.3,617.5 729.9,617.8 730.4,616.8 731.0,616.7 731.5,617.4 732.1,616.7 732.6,616.7 733.1,616.6 733.7,618.3 734.2,617.6 734.8,617.2 735.3,616.9 735.8,618.1 736.4,617.4 736.9,617.5 737.5,617.7 738.0,617.6 738.6,618.1 739.1,618.5 739.6,617.0 740.2,617.3 740.7,618.2 741.3,617.4 741.8,617.9 742.3,618.9 742.9,618.3 743.4,618.7 744.0,618.8 744.5,618.8 745.1,618.3 745.6,619.1 746.1,617.7 746.7,617.7 747.2,618.5 747.8,617.6 748.3,618.2 748.9,617.8 749.4,618.8 749.9,618.5 750.5,618.8 751.0,617.8 751.6,617.0 752.1,618.9 752.6,619.2 753.2,617.6 753.7,617.4 754.3,616.9 754.8,618.8 755.4,617.2 755.9,618.2 756.4,618.2 757.0,617.6 757.5,617.8 758.1,617.6 758.6,618.4 759.2,618.8 759.7,618.7 760.2,616.9 760.8,617.0 761.3,617.4 761.9,618.0 762.4,618.1 762.9,616.3 763.5,617.7 764.0,618.1 764.6,617.5 765.1,617.4 765.7,616.2 766.2,618.3 766.7,617.6 767.3,617.0 767.8,616.8 768.4,617.6 768.9,617.8 769.5,616.8 770.0,616.0 770.5,617.1 771.1,616.2 771.6,616.5 772.2,616.4 772.7,615.7 773.2,617.2 773.8,615.5 774.3,617.1 774.9,615.6 775.4,615.9 776.0,616.0 776.5,616.2 777.0,615.2 777.6,617.0 778.1,615.7 778.7,616.8 779.2,616.3 779.8,615.7 780.3,615.2 780.8,615.9 781.4,615.9 781.9,615.1 782.5,615.5 783.0,616.0 783.5,616.3 784.1,615.5 784.6,615.5 785.2,615.1 785.7,614.9 786.3,616.3 786.8,615.9 787.3,615.6 787.9,616.6 788.4,616.5 789.0,614.9 789.5,614.6 790.1,616.2 790.6,615.8 791.1,616.9 791.7,615.6 792.2,616.8 792.8,616.9 793.3,615.9 793.8,618.0 794.4,616.3 794.9,616.9 795.5,616.6 796.0,616.7 796.6,616.5 797.1,616.7 797.6,617.5 798.2,616.2 798.7,617.3 799.3,617.4 799.8,617.5 800.4,617.6 800.9,618.9 801.4,617.7 802.0,617.7 802.5,617.3 803.1,618.7 803.6,618.7 804.1,617.3 804.7,617.3 805.2,617.4 805.8,618.7 806.3,618.2 806.9,618.6 807.4,617.5 807.9,618.1 808.5,618.2 809.0,618.9 809.6,617.7 810.1,616.6 810.6,618.1 811.2,619.0 811.7,619.5 812.3,617.0 812.8,618.7 813.4,618.9 813.9,618.5 814.4,618.1 815.0,618.7 815.5,618.4 816.1,619.4 816.6,618.0 817.2,619.6 817.7,618.5 818.2,618.1 818.8,619.2 819.3,618.5 819.9,619.1 820.4,618.9 820.9,618.2 821.5,618.3 822.0,619.8 822.6,617.8 823.1,618.8 823.7,619.3 824.2,619.0 824.7,619.3 825.3,618.0 825.8,619.0 826.4,619.3 826.9,617.5 827.5,618.8 828.0,618.2 828.5,618.1 829.1,619.0 829.6,618.8 830.2,619.4 830.7,618.8 831.2,617.4 831.8,618.1 832.3,618.8 832.9,619.0 833.4,618.1 834.0,618.9 834.5,618.1 835.0,619.3 835.6,618.7 836.1,618.8 836.7,616.8 837.2,618.5 837.8,618.6 838.3,618.0 838.8,618.1 839.4,618.9 839.9,618.0 840.5,618.6 841.0,617.1 841.5,618.8 842.1,617.2 842.6,617.2 843.2,618.4 843.7,617.9 844.3,617.5 844.8,618.6 845.3,618.1 845.9,619.3 846.4,618.4 847.0,619.1 847.5,617.7 848.1,618.5 848.6,620.2 849.1,618.6 849.7,617.8 850.2,618.0 850.8,618.0 851.3,618.6 851.8,616.9 852.4,618.7 852.9,618.4 853.5,618.0 854.0,618.7 854.6,616.6 855.1,619.2 855.6,618.1 856.2,618.6 856.7,617.4 857.3,618.2 857.8,617.9 858.4,618.5 858.9,617.0 859.4,619.2 860.0,618.0 860.5,618.8 861.1,617.8 861.6,617.7 862.1,617.6 862.7,618.2 863.2,617.9 863.8,616.9 864.3,617.0 864.9,617.6 865.4,616.5 865.9,617.5 866.5,616.7 867.0,617.7 867.6,617.3 868.1,617.3 868.7,616.7 869.2,617.5 869.7,616.5 870.3,617.6 870.8,615.8 871.4,616.7 871.9,616.1 872.4,617.3 873.0,616.8 873.5,616.7 874.1,615.7 874.6,616.1 875.2,615.3 875.7,615.4 876.2,616.8 876.8,615.1 877.3,616.0 877.9,616.3 878.4,616.1 879.0,616.7 879.5,614.5 880.0,616.2 880.6,616.6 881.1,614.8 881.7,615.4 882.2,615.2 882.7,614.9 883.3,615.8 883.8,614.8 884.4,615.5 884.9,615.7 885.5,614.3 886.0,614.8 886.5,615.2 887.1,616.3 887.6,615.4 888.2,615.6 888.7,614.4 889.2,617.0 889.8,615.7 890.3,616.1 890.9,616.5 891.4,616.1 892.0,615.3 892.5,615.2 893.0,616.8 893.6,614.9 894.1,616.6 894.7,617.3 895.2,615.7 895.8,615.8 896.3,616.6 896.8,616.6 897.4,616.4 897.9,618.2 898.5,616.1 899.0,617.3 899.5,618.1 900.1,616.6 900.6,616.0 901.2,618.0 901.7,616.3 902.3,617.3 902.8,615.5 903.3,616.6 903.9,615.0 904.4,615.4 905.0,615.4 905.5,616.1 906.1,616.7 906.6,616.9 907.1,615.7 907.7,614.7 908.2,613.5 908.8,615.8 909.3,615.3 909.8,615.0 910.4,615.9 910.9,615.6 911.5,616.0 912.0,615.7 912.6,615.5 913.1,614.2 913.6,613.4 914.2,613.0 914.7,613.1 915.3,613.1 915.8,611.4 916.4,612.0 916.9,611.9 917.4,612.3 918.0,610.6 918.5,610.0 919.1,609.5 919.6,610.0 920.1,607.4 920.7,608.5 921.2,606.5 921.8,606.5 922.3,606.7 922.9,605.1 923.4,604.6 923.9,603.2 924.5,602.0 925.0,603.3 925.6,601.4 926.1,600.9 926.7,599.7 927.2,599.1 927.7,598.4 928.3,597.8 928.8,596.1 929.4,595.6 929.9,595.4 930.4,594.3 931.0,593.8 931.5,592.8 932.1,592.6 932.6,591.6 933.2,589.9 933.7,590.1 934.2,590.7 934.8,591.8 935.3,589.1 935.9,588.1 936.4,589.6 937.0,590.7 937.5,588.6 938.0,589.0 938.6,589.1 939.1,590.3 939.7,588.4 940.2,590.5 940.7,590.4 941.3,590.8 941.8,591.2 942.4,592.4 942.9,593.2 943.5,592.2 944.0,593.7 944.5,595.1 945.1,594.4 945.6,596.7 946.2,597.4 946.7,597.6 947.3,597.4 947.8,598.6 948.3,599.7 948.9,601.1 949.4,601.7 950.0,602.4 950.5,603.7 951.0,604.0 951.6,604.6 952.1,605.5 952.7,606.3 953.2,606.5 953.8,606.9 954.3,607.9 954.8,608.8 955.4,608.3 955.9,609.7 956.5,610.0 957.0,610.0 957.5,612.1 958.1,611.6 958.6,610.8 959.2,613.6 959.7,613.4 960.3,611.7 960.8,614.3 961.3,614.5 961.9,614.5 962.4,615.3 963.0,614.7 963.5,616.0 964.1,615.0 964.6,615.8 965.1,615.7 965.7,616.1 966.2,616.1 966.8,615.7 967.3,616.7 967.8,616.4 968.4,616.9 968.9,615.9 969.5,617.5 970.0,616.2 970.6,616.3 971.1,616.8 971.6,618.0 972.2,617.4 972.7,617.3 973.3,617.7 973.8,617.1 974.4,617.6 974.9,618.1 975.4,617.6 976.0,616.8 976.5,618.9 977.1,617.9 977.6,616.8 978.1,617.3 978.7,620.2 979.2,618.1 979.8,617.3 980.3,616.8 980.9,617.1 981.4,618.0 981.9,618.7 982.5,618.6 983.0,618.3 983.6,618.4 984.1,618.3 984.7,618.2 985.2,618.7 985.7,618.0 986.3,618.6 986.8,616.6 987.4,617.0 987.9,618.6 988.4,618.1 989.0,617.2 989.5,619.4 990.1,619.7 990.6,618.2 991.2,618.4 991.7,617.7 992.2,617.1 992.8,618.1 993.3,617.7 993.9,618.2 994.4,618.1 995.0,617.9 995.5,618.3 996.0,619.3 996.6,617.5 997.1,618.3 997.7,619.1 998.2,618.6 998.7,618.4 999.3,618.2 999.8,617.7 1000.4,617.9 1000.9,618.9 1001.5,618.1 1002.0,619.4 1002.5,619.1 1003.1,618.8 1003.6,619.2 1004.2,618.4 1004.7,619.7 1005.3,618.2 1005.8,619.0 1006.3,618.6 1006.9,618.6 1007.4,618.1 1008.0,618.7 1008.5,618.0 1009.0,619.3 1009.6,618.6 1010.1,619.0 1010.7,618.3 1011.2,618.5 1011.8,618.6 1012.3,618.1 1012.8,618.5 1013.4,617.7 1013.9,618.0 1014.5,618.9 1015.0,617.5 1015.6,616.8 1016.1,618.6 1016.6,619.5 1017.2,618.1 1017.7,618.3 1018.3,618.3 1018.8,619.1 1019.3,617.7 1019.9,618.4 1020.4,618.4 1021.0,619.6 1021.5,618.6 1022.1,618.2 1022.6,617.8 1023.1,617.8 1023.7,617.2 1024.2,617.6 1024.8,618.1 1025.3,618.4 1025.9,617.8 1026.4,618.8 1026.9,618.3 1027.5,618.5 1028.0,619.9 1028.6,618.1 1029.1,618.7 1029.6,619.2 1030.2,617.9 1030.7,618.1 1031.3,618.5 1031.8,618.4 1032.4,618.6 1032.9,618.6 1033.4,618.9 1034.0,618.1 1034.5,617.9 1035.1,618.5 1035.6,618.9 1036.1,617.8 1036.7,618.7 1037.2,618.5 1037.8,618.3 1038.3,618.3 1038.9,618.8 1039.4,618.7 1039.9,618.8 1040.5,618.2 1041.0,618.6 1041.6,618.6 1042.1,618.5 1042.7,617.8 1043.2,619.1 1043.7,619.1 1044.3,618.4 1044.8,619.2 1045.4,617.8 1045.9,618.4 1046.4,617.7 1047.0,617.1 1047.5,618.4 1048.1,618.0 1048.6,618.3 1049.2,619.0 1049.7,619.2 1050.2,618.5 1050.8,618.6 1051.3,618.9 1051.9,618.5 1052.4,617.8 1053.0,618.6 1053.5,618.4 1054.0,619.8 1054.6,617.9 1055.1,619.0 1055.7,619.0 1056.2,618.1 1056.7,619.4 1057.3,619.2 1057.8,619.3 1058.4,619.2 1058.9,618.4 1059.5,617.4 1060.0,619.0 1060.5,618.6 1061.1,617.2 1061.6,617.2 1062.2,617.6 1062.7,617.8 1063.3,617.5 1063.8,617.3 1064.3,617.4 1064.9,618.1 1065.4,618.3 1066.0,617.5 1066.5,618.3 1067.0,617.2 1067.6,616.6 1068.1,617.9 1068.7,617.5 1069.2,617.3 1069.8,617.6 1070.3,618.3 1070.8,618.4 1071.4,617.6 1071.9,617.5 1072.5,618.3 1073.0,617.7 1073.6,617.2 1074.1,616.9 1074.6,616.9 1075.2,616.9 1075.7,616.9 1076.3,616.3 1076.8,617.8 1077.3,618.3 1077.9,616.7 1078.4,616.0 1079.0,616.8 1079.5,614.7 1080.1,615.4 1080.6,615.7 1081.1,616.3 1081.7,616.3 1082.2,615.5 1082.8,615.8 1083.3,614.5 1083.9,614.3 1084.4,614.4 1084.9,614.7 1085.5,614.0 1086.0,614.4 1086.6,612.7 1087.1,613.3 1087.6,613.3 1088.2,611.9 1088.7,612.7 1089.3,611.6 1089.8,610.8 1090.4,611.2 1090.9,610.1 1091.4,610.4 1092.0,608.2 1092.5,609.0 1093.1,609.1 1093.6,606.9 1094.2,608.6 1094.7,606.7 1095.2,607.4 1095.8,605.7 1096.3,606.0 1096.9,605.4 1097.4,604.7 1097.9,602.9 1098.5,603.7 1099.0,601.7 1099.6,602.5 1100.1,601.9 1100.7,601.1 1101.2,600.8 1101.7,599.8 1102.3,600.8 1102.8,599.5 1103.4,600.0 1103.9,600.2 1104.4,599.2 1105.0,599.1 1105.5,597.4 1106.1,597.0 1106.6,598.0 1107.2,596.6 1107.7,598.0 1108.2,596.9 1108.8,598.3 1109.3,597.2 1109.9,597.2 1110.4,598.4 1111.0,597.7 1111.5,597.5 1112.0,597.8 1112.6,596.7 1113.1,596.3 1113.7,598.4 1114.2,597.0 1114.7,597.4 1115.3,596.7 1115.8,598.1 1116.4,596.5 1116.9,597.7 1117.5,598.3 1118.0,598.5 1118.5,598.5 1119.1,597.7 1119.6,598.2 1120.2,597.4 1120.7,598.4 1121.3,598.8 1121.8,597.9 1122.3,598.6 1122.9,598.0 1123.4,597.6 1124.0,597.9 1124.5,597.5 1125.0,597.4 1125.6,597.3 1126.1,599.0 1126.7,597.0 1127.2,597.3 1127.8,598.0 1128.3,596.8 1128.8,597.1 1129.4,597.6 1129.9,596.9 1130.5,597.2 1131.0,596.9 1131.6,597.1 1132.1,597.0 1132.6,596.5 1133.2,598.3 1133.7,598.0 1134.3,598.0 1134.8,597.8 1135.3,598.5 1135.9,598.9 1136.4,598.1 1137.0,600.5 1137.5,600.2 1138.1,600.1 1138.6,601.0 1139.1,601.6 1139.7,602.5 1140.2,602.5 1140.8,603.9 1141.3,603.3 1141.9,604.7 1142.4,604.5 1142.9,605.1 1143.5,606.3 1144.0,606.6 1144.6,606.8 1145.1,607.7 1145.6,607.6 1146.2,607.7 1146.7,609.5 1147.3,609.3 1147.8,608.4 1148.4,610.3 1148.9,610.5 1149.4,611.6 1150.0,611.5 1150.5,612.7 1151.1,612.8 1151.6,611.4 1152.2,614.3 1152.7,613.6 1153.2,614.0 1153.8,615.0 1154.3,613.9 1154.9,614.5 1155.4,614.1 1155.9,615.9 1156.5,615.9 1157.0,616.2 1157.6,614.5 1158.1,614.5 1158.7,616.3 1159.2,617.6 1159.7,616.8 1160.3,616.5 1160.8,616.7 1161.4,615.9 1161.9,617.7 1162.5,616.9 1163.0,616.8 1163.5,617.1 1164.1,616.8 1164.6,616.5 1165.2,617.1 1165.7,617.7 1166.2,617.2 1166.8,617.3 1167.3,618.5 1167.9,618.4 1168.4,617.8 1169.0,618.0 1169.5,619.6 1170.0,616.4 1170.6,620.0 1171.1,618.5 1171.7,617.8 1172.2,617.7 1172.8,617.5 1173.3,617.6 1173.8,618.0 1174.4,619.1 1174.9,618.7 1175.5,618.2 1176.0,619.2 1176.5,617.8 1177.1,618.8 1177.6,618.2 1178.2,619.1 1178.7,617.5 1179.3,617.9 1179.8,619.4 1180.3,618.2 1180.9,618.8 1181.4,618.6 1182.0,618.9 1182.5,617.2 1183.0,617.5 1183.6,616.9 1184.1,618.4 1184.7,616.9 1185.2,618.9 1185.8,617.6 1186.3,617.7 1186.8,618.7 1187.4,619.6 1187.9,618.7 1188.5,618.1 1189.0,619.5 1189.6,618.3 1190.1,618.1 1190.6,617.8 1191.2,618.1 1191.7,619.0 1192.3,617.8 1192.8,618.7 1193.3,617.8 1193.9,618.9 1194.4,617.4 1195.0,618.6 1195.5,619.1 1196.1,617.4 1196.6,618.2 1197.1,618.0 1197.7,618.5 1198.2,619.2 1198.8,618.2 1199.3,617.7 1199.9,620.5 1200.4,618.5 1200.9,618.5 1201.5,618.8 1202.0,619.4 1202.6,618.1 1203.1,618.8 1203.6,618.7 1204.2,619.2 1204.7,618.2 1205.3,618.2 1205.8,617.9 1206.4,619.2 1206.9,618.6 1207.4,619.7 1208.0,618.0 1208.5,620.0 1209.1,618.0 1209.6,618.8 1210.2,619.5 1210.7,618.3 1211.2,619.2 1211.8,619.7 1212.3,617.1 1212.9,617.8 1213.4,618.7 1213.9,618.5 1214.5,618.9 1215.0,619.2 1215.6,617.5 1216.1,619.3 1216.7,619.0 1217.2,618.2 1217.7,619.1 1218.3,619.3 1218.8,618.4 1219.4,618.3 1219.9,619.0 1220.5,618.9 1221.0,619.9 1221.5,618.1 1222.1,618.1 1222.6,618.4 1223.2,619.7 1223.7,619.3 1224.2,620.1 1224.8,618.0 1225.3,618.3 1225.9,618.7 1226.4,619.5 1227.0,618.1 1227.5,618.9 1228.0,618.8 1228.6,618.7 1229.1,618.7 1229.7,619.2 1230.2,619.4 1230.8,618.4 1231.3,619.4 1231.8,619.3 1232.4,619.0 1232.9,618.2 1233.5,619.3 1234.0,618.3 1234.5,618.5 1235.1,619.6 1235.6,619.5 1236.2,619.3 1236.7,619.1 1237.3,619.6 1237.8,619.0 1238.3,619.4 1238.9,618.0 1239.4,617.5 1240.0,618.8 1240.5,618.6 1241.1,618.2 1241.6,619.3 1242.1,618.3 1242.7,619.3 1243.2,620.0 1243.8,618.5 1244.3,618.7 1244.8,618.5 1245.4,617.3 1245.9,618.5 1246.5,618.3 1247.0,618.4 1247.6,618.3 1248.1,618.3 1248.6,619.4 1249.2,618.6 1249.7,617.5 1250.3,619.3 1250.8,619.3 1251.3,619.6 1251.9,618.9 1252.4,618.7 1253.0,619.3 1253.5,619.2 1254.1,618.7 1254.6,619.2 1255.1,619.4 1255.7,620.3 1256.2,619.0 1256.8,619.2 1257.3,617.7 1257.9,618.5 1258.4,618.2 1258.9,618.0 1259.5,617.4 1260.0,619.7 1260.6,619.7 1261.1,618.9 1261.6,618.4 1262.2,618.6 1262.7,619.2 1263.3,618.7 1263.8,617.9 1264.4,618.6 1264.9,618.1 1265.4,618.7 1266.0,618.6 1266.5,619.2 1267.1,619.1 1267.6,618.3 1268.2,618.8 1268.7,618.5 1269.2,619.7 1269.8,619.2 1270.3,618.9 1270.9,618.7 1271.4,618.1 1271.9,618.3 1272.5,617.9 1273.0,619.6 1273.6,619.6 1274.1,619.4 1274.7,618.4 1275.2,617.3 1275.7,619.5 1276.3,618.9 1276.8,618.5 1277.4,618.3 1277.9,619.2 1278.5,618.5 1279.0,619.0 1279.5,617.2 1280.1,618.7 1280.6,618.1 1281.2,618.8 1281.7,619.1 1282.2,619.5 1282.8,618.3 1283.3,618.6 1283.9,619.1 1284.4,618.1 1285.0,618.7 1285.5,618.1 1286.0,617.7 1286.6,619.2 1287.1,618.1 1287.7,618.1 1288.2,618.6 1288.8,618.3 1289.3,617.8 1289.8,620.1 1290.4,619.0 1290.9,617.9 1291.5,618.5 1292.0,617.0 1292.5,617.1 1293.1,618.8 1293.6,618.6 1294.2,618.2 1294.7,617.9 1295.3,618.2 1295.8,617.7 1296.3,618.3 1296.9,618.5 1297.4,617.3 1298.0,618.2 1298.5,617.6 1299.1,617.4 1299.6,617.2 1300.1,617.8 1300.7,617.2 1301.2,617.4 1301.8,617.2 1302.3,616.3 1302.8,616.1 1303.4,617.7 1303.9,616.6 1304.5,617.2 1305.0,616.5 1305.6,617.0 1306.1,616.4 1306.6,616.6 1307.2,616.5 1307.7,616.8 1308.3,616.8 1308.8,617.1 1309.4,614.9 1309.9,616.3 1310.4,614.7 1311.0,615.1 1311.5,614.9 1312.1,615.6 1312.6,615.8 1313.1,614.9 1313.7,615.4 1314.2,614.6 1314.8,614.8 1315.3,613.8 1315.9,614.2 1316.4,613.7 1316.9,612.4 1317.5,614.0 1318.0,614.0 1318.6,611.8 1319.1,613.1 1319.7,613.2 1320.2,613.6 1320.7,612.2 1321.3,613.2 1321.8,612.5 1322.4,613.1 1322.9,611.7 1323.4,610.9 1324.0,611.6 1324.5,611.3 1325.1,610.3 1325.6,610.3 1326.2,611.0 1326.7,610.6 1327.2,610.8 1327.8,611.0 1328.3,609.8 1328.9,609.1 1329.4,608.9 1329.9,609.7 1330.5,609.9 1331.0,609.2 1331.6,609.2 1332.1,608.4 1332.7,607.3 1333.2,608.1 1333.7,609.2 1334.3,609.1 1334.8,608.3 1335.4,609.1 1335.9,609.8 1336.5,609.2 1337.0,608.9 1337.5,610.3 1338.1,608.1 1338.6,608.5 1339.2,609.0 1339.7,607.0 1340.2,607.6 1340.8,608.5 1341.3,609.9 1341.9,609.1 1342.4,608.7 1343.0,609.1 1343.5,608.5 1344.0,608.5 1344.6,608.5 1345.1,610.2 1345.7,609.2 1346.2,609.6 1346.8,608.5 1347.3,609.2 1347.8,609.2 1348.4,610.1 1348.9,610.3 1349.5,609.8 1350.0,610.4 1350.5,610.5 1351.1,609.8 1351.6,610.4 1352.2,611.2 1352.7,612.1 1353.3,611.0 1353.8,610.9 1354.3,612.3 1354.9,611.9 1355.4,613.1 1356.0,612.0 1356.5,613.4 1357.1,613.1 1357.6,612.3 1358.1,613.4 1358.7,613.3 1359.2,613.5 1359.8,614.4 1360.3,612.3 1360.8,613.0 1361.4,614.0 1361.9,613.4 1362.5,614.2 1363.0,613.8 1363.6,615.2 1364.1,613.9 1364.6,615.2 1365.2,615.5 1365.7,615.3 1366.3,616.2 1366.8,615.0 1367.4,615.1 1367.9,615.7 1368.4,614.9 1369.0,617.5 1369.5,615.8 1370.1,616.1 1370.6,615.6 1371.1,615.3 1371.7,617.1 1372.2,616.5 1372.8,616.3 1373.3,618.0 1373.9,617.2 1374.4,617.6 1374.9,616.3 1375.5,618.4 1376.0,617.1 1376.6,617.4 1377.1,617.7 1377.7,616.9 1378.2,617.4 1378.7,618.0 1379.3,617.2 1379.8,618.2 1380.4,618.7 1380.9,616.8 1381.4,618.1 1382.0,617.0 1382.5,618.0 1383.1,618.0 1383.6,619.0 1384.2,618.4 1384.7,618.6 1385.2,619.0 1385.8,618.4 1386.3,618.0 1386.9,619.1 1387.4,616.7 1388.0,617.6 1388.5,618.2 1389.0,619.8 1389.6,619.8 1390.1,618.2 1390.7,618.3 1391.2,618.0 1391.7,619.0 1392.3,618.1 1392.8,618.6 1393.4,618.2 1393.9,618.4 1394.5,617.6 1395.0,619.0 1395.5,618.1 1396.1,619.4 1396.6,619.1 1397.2,619.8 1397.7,619.1 1398.2,618.4 1398.8,618.0 1399.3,617.5 1399.9,618.2 1400.4,618.9 1401.0,619.2 1401.5,618.8 1402.0,618.9 1402.6,617.6 1403.1,617.9 1403.7,618.4 1404.2,618.5 1404.8,618.8 1405.3,618.9 1405.8,618.8 1406.4,618.7 1406.9,619.4 1407.5,619.2 1408.0,617.9 1408.5,617.2 1409.1,619.1 1409.6,617.2 1410.2,619.0 1410.7,619.6 1411.3,619.0 1411.8,618.4 1412.3,618.7 1412.9,619.2 1413.4,618.4 1414.0,619.3 1414.5,618.4 1415.1,618.0 1415.6,617.7 1416.1,618.2 1416.7,619.5 1417.2,618.4 1417.8,619.1 1418.3,619.9 1418.8,617.6 1419.4,618.2 1419.9,618.5 1420.5,618.9 1421.0,619.2 1421.6,617.7 1422.1,618.9 1422.6,618.0 1423.2,618.8 1423.7,617.6 1424.3,618.0 1424.8,619.2 1425.4,618.6 1425.9,618.7 1426.4,618.1 1427.0,619.7 1427.5,618.3 1428.1,618.0 1428.6,618.8 1429.1,619.9 1429.7,618.3 1430.2,618.5 1430.8,617.6 1431.3,618.3 1431.9,619.2 1432.4,617.6 1432.9,620.2 1433.5,619.5 1434.0,618.0 1434.6,618.5 1435.1,619.1 1435.7,618.7 1436.2,619.2 1436.7,618.6 1437.3,617.8 1437.8,618.8 1438.4,619.1 1438.9,618.7 1439.4,618.8 1440.0,619.6 1440.5,618.9 1441.1,618.3 1441.6,619.4 1442.2,619.6 1442.7,619.3 1443.2,617.5 1443.8,617.6 1444.3,619.2 1444.9,618.0 1445.4,619.3 1446.0,618.4 1446.5,619.9 1447.0,618.4 1447.6,618.4 1448.1,618.2 1448.7,618.4 1449.2,618.3 1449.7,618.7 1450.3,618.7 1450.8,618.5 1451.4,619.0 1451.9,619.0 1452.5,619.3 1453.0,619.2 1453.5,619.1 1454.1,618.1 1454.6,618.4 1455.2,617.4 1455.7,618.4 1456.3,618.4 1456.8,619.2 1457.3,618.3 1457.9,618.2 1458.4,618.4 1459.0,618.1 1459.5,617.9 1460.0,617.2 1460.6,618.1 1461.1,619.4 1461.7,618.7 1462.2,617.6 1462.8,619.6 1463.3,618.1 1463.8,618.1 1464.4,618.3 1464.9,619.0 1465.5,617.7 1466.0,619.4 1466.6,619.0 1467.1,616.9 1467.6,618.0 1468.2,618.6 1468.7,619.5 1469.3,618.4 1469.8,617.4 1470.3,616.8 1470.9,616.6 1471.4,619.1 1472.0,616.7 1472.5,617.9 1473.1,617.8 1473.6,618.2 1474.1,617.3 1474.7,617.5 1475.2,616.8 1475.8,616.3 1476.3,616.8 1476.8,616.4 1477.4,617.9 1477.9,617.5 1478.5,616.0 1479.0,616.8 1479.6,617.5 1480.1,616.4 1480.6,615.4 1481.2,616.5 1481.7,616.5 1482.3,616.2 1482.8,616.7 1483.4,616.3 1483.9,616.2 1484.4,615.6 1485.0,616.3 1485.5,616.6 1486.1,616.3 1486.6,616.6 1487.1,615.7 1487.7,615.5 1488.2,614.8 1488.8,616.0 1489.3,615.1 1489.9,615.7 1490.4,614.8 1490.9,615.5 1491.5,614.6 1492.0,614.7 1492.6,614.5 1493.1,614.1 1493.7,614.3 1494.2,614.2 1494.7,615.3 1495.3,614.1 1495.8,614.0 1496.4,614.1 1496.9,614.4 1497.4,613.3 1498.0,614.3 1498.5,613.8 1499.1,615.1 1499.6,613.6 1500.2,613.6 1500.7,612.7 1501.2,614.1 1501.8,613.1 1502.3,612.8 1502.9,612.4 1503.4,612.8 1504.0,613.6 1504.5,613.0 1505.0,614.1 1505.6,614.3 1506.1,613.0 1506.7,613.0 1507.2,614.0 1507.7,614.9 1508.3,614.0 1508.8,614.2 1509.4,612.0 1509.9,612.6 1510.5,613.4 1511.0,613.1 1511.5,613.3 1512.1,613.9 1512.6,613.3 1513.2,614.0 1513.7,614.5 1514.3,613.8 1514.8,613.3 1515.3,613.0 1515.9,613.5 1516.4,614.0 1517.0,613.7 1517.5,614.7 1518.0,612.3 1518.6,613.2 1519.1,614.6 1519.7,613.1 1520.2,613.0 1520.8,613.6 1521.3,614.0 1521.8,613.8 1522.4,613.7 1522.9,612.8 1523.5,615.1 1524.0,614.9 1524.6,613.2 1525.1,614.3 1525.6,613.9 1526.2,613.6 1526.7,614.5 1527.3,613.3 1527.8,613.6 1528.3,614.6 1528.9,614.3 1529.4,613.5 1530.0,614.3 1530.5,615.4 1531.1,613.5 1531.6,613.6 1532.1,614.2 1532.7,613.7 1533.2,614.0 1533.8,612.8 1534.3,613.9 1534.9,613.3 1535.4,613.0 1535.9,614.2 1536.5,613.1 1537.0,614.6 1537.6,613.7 1538.1,612.8 1538.6,613.1 1539.2,613.0 1539.7,613.2 1540.3,613.6 1540.8,613.5 1541.4,613.9 1541.9,612.8 1542.4,613.8 1543.0,613.5 1543.5,614.1 1544.1,613.8 1544.6,614.7 1545.2,613.2 1545.7,614.5 1546.2,613.3 1546.8,614.3 1547.3,614.0 1547.9,612.6 1548.4,614.9 1548.9,614.4 1549.5,613.2 1550.0,613.2 1550.6,612.4 1551.1,615.0 1551.7,613.7 1552.2,614.3 1552.7,613.2 1553.3,614.6 1553.8,615.1 1554.4,615.2 1554.9,614.7 1555.4,614.3 1556.0,614.8 1556.5,614.3 1557.1,613.8 1557.6,613.7 1558.2,615.2 1558.7,616.1 1559.2,615.4 1559.8,615.7 1560.3,615.5 1560.9,614.7 1561.4,616.5 1562.0,615.1 1562.5,616.8 1563.0,615.5 1563.6,614.8 1564.1,616.3 1564.7,615.5 1565.2,617.4 1565.7,616.3 1566.3,616.0 1566.8,616.9 1567.4,617.4 1567.9,616.1 1568.5,617.1 1569.0,616.4 1569.5,617.0 1570.1,616.6 1570.6,616.5 1571.2,617.0 1571.7,617.4 1572.3,616.7 1572.8,617.1 1573.3,616.8 1573.9,616.7 1574.4,615.9 1575.0,616.7 1575.5,618.3 1576.0,618.0 1576.6,618.9 1577.1,617.2 1577.7,618.1 1578.2,617.6 1578.8,618.2 1579.3,617.5 1579.8,618.8 1580.4,618.8 1580.9,616.3 1581.5,619.3 1582.0,619.2 1582.6,617.1 1583.1,618.3 1583.6,617.4 1584.2,618.1 1584.7,618.7 1585.3,618.3 1585.8,618.0 1586.3,618.3 1586.9,619.4 1587.4,617.6 1588.0,617.6 1588.5,618.7 1589.1,618.7 1589.6,618.5 1590.1,619.1 1590.7,618.3 1591.2,617.5 1591.8,617.4 1592.3,618.7 1592.9,618.5 1593.4,617.8 1593.9,618.4 1594.5,618.7 1595.0,618.8 1595.6,617.6 1596.1,617.8 1596.6,618.5 1597.2,618.5 1597.7,619.3 1598.3,618.4 1598.8,618.1 1599.4,618.5 1599.9,618.2 1600.4,619.2 1601.0,618.2 1601.5,619.0 1602.1,619.1 1602.6,617.8 1603.2,619.1 1603.7,618.6 1604.2,618.4 1604.8,619.7 1605.3,618.3 1605.9,618.6 1606.4,617.5 1606.9,619.1 1607.5,618.4 1608.0,618.1 1608.6,619.0 1609.1,619.7 1609.7,618.6 1610.2,620.0 1610.7,618.9 1611.3,618.3 1611.8,619.3 1612.4,618.3 1612.9,619.5 1613.5,618.8 1614.0,618.2 1614.5,618.4 1615.1,618.4 1615.6,619.1 1616.2,618.1 1616.7,619.0 1617.2,618.7 1617.8,618.4 1618.3,619.3 1618.9,618.4 1619.4,619.0 1620.0,618.3 1620.5,618.7 1621.0,617.8 1621.6,618.2 1622.1,618.6 1622.7,618.4 1623.2,617.5 1623.7,618.0 1624.3,618.4 1624.8,618.0 1625.4,618.6 1625.9,617.2 1626.5,618.2 1627.0,618.9 1627.5,618.5 1628.1,619.0 1628.6,617.6 1629.2,618.1 1629.7,618.0 1630.3,618.3 1630.8,617.4 1631.3,618.3 1631.9,618.9 1632.4,619.2 1633.0,619.5 1633.5,617.4 1634.0,617.8 1634.6,617.5 1635.1,617.5 1635.7,618.3 1636.2,619.2 1636.8,618.3 1637.3,618.3 1637.8,618.4 1638.4,618.2 1638.9,618.0 1639.5,617.5 1640.0,617.8 1640.6,617.2 1641.1,617.4 1641.6,618.3 1642.2,617.2 1642.7,616.8 1643.3,618.0 1643.8,617.1 1644.3,617.7 1644.9,617.2 1645.4,617.4 1646.0,616.8 1646.5,616.6 1647.1,617.0 1647.6,618.0 1648.1,617.4 1648.7,616.6 1649.2,617.1 1649.8,616.9 1650.3,616.1 1650.9,616.6 1651.4,617.1 1651.9,616.0 1652.5,615.9 1653.0,615.4 1653.6,615.0 1654.1,615.5 1654.6,615.4 1655.2,615.3 1655.7,615.1 1656.3,616.3 1656.8,615.5 1657.4,615.3 1657.9,615.2 1658.4,615.9 1659.0,615.5 1659.5,614.4 1660.1,615.5 1660.6,614.2 1661.2,615.1 1661.7,614.9 1662.2,613.3 1662.8,613.6 1663.3,615.1 1663.9,614.3 1664.4,614.0 1664.9,614.7 1665.5,614.6 1666.0,613.7 1666.6,614.6 1667.1,613.9 1667.7,612.6 1668.2,614.3 1668.7,612.7 1669.3,612.9 1669.8,614.0 1670.4,612.5 1670.9,613.4 1671.5,613.8 1672.0,613.1 1672.5,613.7 1673.1,613.0 1673.6,613.8 1674.2,614.0 1674.7,613.9 1675.2,613.4 1675.8,612.7 1676.3,613.2 1676.9,612.7 1677.4,612.8 1678.0,613.1 1678.5,613.9 1679.0,614.0 1679.6,612.3 1680.1,614.2 1680.7,613.8 1681.2,613.8 1681.8,613.8 1682.3,614.4 1682.8,613.4 1683.4,614.7 1683.9,615.1 1684.5,613.8 1685.0,614.3 1685.5,614.0 1686.1,614.2 1686.6,613.5 1687.2,615.1 1687.7,615.5 1688.3,614.1 1688.8,615.6 1689.3,613.9 1689.9,613.7 1690.4,615.7 1691.0,615.6 1691.5,614.4 1692.1,615.3 1692.6,614.4 1693.1,615.4 1693.7,616.3 1694.2,614.9 1694.8,615.2 1695.3,615.8 1695.8,614.7 1696.4,615.3 1696.9,614.8 1697.5,615.9 1698.0,615.6 1698.6,615.5 1699.1,616.1 1699.6,615.2 1700.2,616.0 1700.7,615.1 1701.3,615.5 1701.8,616.2 1702.3,616.6 1702.9,616.1 1703.4,616.6 1704.0,615.6 1704.5,615.3 1705.1,615.8 1705.6,616.2 1706.1,616.5 1706.7,617.0 1707.2,615.2 1707.8,616.1 1708.3,615.5 1708.9,616.0 1709.4,617.1 1709.9,616.8 1710.5,616.7 1711.0,616.7 1711.6,616.2 1712.1,617.7 1712.6,617.0 1713.2,617.5 1713.7,616.1 1714.3,617.6 1714.8,617.5 1715.4,617.1 1715.9,617.8 1716.4,616.8 1717.0,617.8 1717.5,618.1 1718.1,617.5 1718.6,617.3 1719.2,618.2 1719.7,617.8 1720.2,617.9 1720.8,618.4 1721.3,618.4 1721.9,616.8 1722.4,617.8 1722.9,617.8 1723.5,617.6 1724.0,619.5 1724.6,618.8 1725.1,618.3 1725.7,618.3 1726.2,617.6 1726.7,616.4 1727.3,618.5 1727.8,617.9 1728.4,617.6 1728.9,618.5 1729.5,616.5 1730.0,618.4 1730.5,617.9 1731.1,617.5 1731.6,618.5 1732.2,618.0 1732.7,618.0 1733.2,618.2 1733.8,617.1 1734.3,618.3 1734.9,618.7 1735.4,618.7 1736.0,618.9 1736.5,618.6 1737.0,618.4 1737.6,617.7 1738.1,618.1 1738.7,617.1 1739.2,618.8 1739.8,618.1 1740.3,618.2 1740.8,617.9 1741.4,618.0 1741.9,617.9 1742.5,618.0 1743.0,618.5 1743.5,618.6 1744.1,618.7 1744.6,619.3 1745.2,618.5 1745.7,617.8 1746.3,618.7 1746.8,618.9 1747.3,618.1 1747.9,618.5 1748.4,618.5 1749.0,618.3 1749.5,617.7 1750.1,619.0 1750.6,617.9 1751.1,619.3 1751.7,618.4 1752.2,617.8 1752.8,618.6 1753.3,618.3 1753.8,618.6 1754.4,618.7 1754.9,618.6 1755.5,617.7 1756.0,617.9 1756.6,618.5 1757.1,619.5 1757.6,617.0 1758.2,618.4 1758.7,617.9 1759.3,619.0 1759.8,618.7 1760.4,618.2 1760.9,617.2 1761.4,619.5 1762.0,618.8 1762.5,618.5 1763.1,618.4 1763.6,617.7 1764.1,618.1 1764.7,618.9 1765.2,617.3 1765.8,618.4 1766.3,617.8 1766.9,618.2 1767.4,618.3 1767.9,618.8 1768.5,619.6 1769.0,617.2 1769.6,617.5 1770.1,618.9 1770.6,618.0 1771.2,618.5 1771.7,619.1 1772.3,617.6 1772.8,618.3 1773.4,620.4 1773.9,618.7 1774.4,619.5 1775.0,618.8 1775.5,618.1 1776.1,618.5 1776.6,617.8 1777.2,617.4 1777.7,617.7 1778.2,618.6 1778.8,618.2 1779.3,618.8 1779.9,618.7 1780.4,617.9 1780.9,619.3 1781.5,618.7 1782.0,618.5 1782.6,619.1 1783.1,618.2 1783.7,618.4 1784.2,619.3 1784.7,618.7 1785.3,617.0 1785.8,618.2 1786.4,617.5 1786.9,617.4 1787.5,618.8 1788.0,619.1 1788.5,618.7 1789.1,617.0 1789.6,618.5 1790.2,617.2 1790.7,618.0 1791.2,619.8 1791.8,617.8 1792.3,617.5 1792.9,618.6 1793.4,619.2 1794.0,617.9 1794.5,617.3 1795.0,618.6 1795.6,618.1 1796.1,618.6 1796.7,618.5 1797.2,618.8 1797.8,619.2 1798.3,618.3 1798.8,619.2 1799.4,619.2 1799.9,618.1 1800.5,617.9 1801.0,618.7 1801.5,617.7 1802.1,618.2 1802.6,617.9 1803.2,618.5 1803.7,618.0 1804.3,616.8 1804.8,619.4 1805.3,617.2 1805.9,619.1" stroke="#537186" stroke-width="5.8"/>
<path d="M177.0,727.8 177.5,726.3 178.1,727.5 178.6,726.4 179.1,727.8 179.7,726.1 180.2,726.7 180.8,726.8 181.3,725.8 181.9,727.7 182.4,726.2 182.9,726.3 183.5,726.8 184.0,727.7 184.6,726.7 185.1,728.5 185.6,727.2 186.2,727.0 186.7,727.5 187.3,727.2 187.8,726.6 188.4,726.9 188.9,727.4 189.4,728.3 190.0,727.4 190.5,727.6 191.1,725.8 191.6,727.1 192.2,727.3 192.7,728.5 193.2,728.4 193.8,727.4 194.3,727.7 194.9,727.3 195.4,726.9 195.9,727.4 196.5,727.1 197.0,727.6 197.6,727.8 198.1,727.3 198.7,728.1 199.2,726.7 199.7,727.4 200.3,727.6 200.8,726.2 201.4,727.8 201.9,727.9 202.5,728.6 203.0,727.4 203.5,727.9 204.1,727.9 204.6,726.4 205.2,727.7 205.7,726.6 206.2,727.7 206.8,728.0 207.3,727.7 207.9,726.2 208.4,728.5 209.0,727.7 209.5,728.2 210.0,727.1 210.6,727.3 211.1,728.9 211.7,727.4 212.2,727.3 212.8,727.3 213.3,728.2 213.8,726.6 214.4,727.4 214.9,727.0 215.5,729.2 216.0,728.3 216.5,727.7 217.1,727.8 217.6,727.5 218.2,727.3 218.7,727.5 219.3,728.8 219.8,727.5 220.3,727.5 220.9,727.9 221.4,728.6 222.0,728.0 222.5,727.0 223.0,727.7 223.6,727.7 224.1,726.8 224.7,727.2 225.2,727.9 225.8,727.4 226.3,728.8 226.8,727.9 227.4,727.4 227.9,727.7 228.5,727.1 229.0,727.3 229.6,728.2 230.1,727.7 230.6,726.5 231.2,726.8 231.7,728.1 232.3,727.0 232.8,727.5 233.3,728.4 233.9,727.6 234.4,727.5 235.0,727.5 235.5,728.4 236.1,727.3 236.6,726.9 237.1,727.8 237.7,728.8 238.2,728.0 238.8,728.7 239.3,728.5 239.9,727.0 240.4,727.8 240.9,727.7 241.5,727.7 242.0,728.5 242.6,728.6 243.1,728.2 243.6,728.5 244.2,727.3 244.7,728.2 245.3,727.0 245.8,727.5 246.4,726.9 246.9,728.5 247.4,727.4 248.0,728.2 248.5,726.8 249.1,727.8 249.6,728.2 250.2,727.7 250.7,727.8 251.2,727.7 251.8,727.6 252.3,727.4 252.9,727.1 253.4,728.3 253.9,727.6 254.5,727.6 255.0,727.8 255.6,726.7 256.1,726.7 256.7,726.7 257.2,728.7 257.7,727.3 258.3,727.9 258.8,726.3 259.4,727.2 259.9,727.5 260.5,727.0 261.0,728.1 261.5,727.1 262.1,727.3 262.6,728.0 263.2,728.3 263.7,727.5 264.2,726.9 264.8,727.0 265.3,728.0 265.9,726.4 266.4,726.4 267.0,726.4 267.5,727.7 268.0,727.3 268.6,726.4 269.1,726.4 269.7,726.9 270.2,726.5 270.8,726.1 271.3,726.2 271.8,726.5 272.4,726.2 272.9,726.6 273.5,726.3 274.0,726.0 274.5,726.7 275.1,726.7 275.6,725.0 276.2,726.4 276.7,725.8 277.3,725.4 277.8,726.5 278.3,726.1 278.9,726.2 279.4,725.4 280.0,726.9 280.5,725.9 281.1,725.1 281.6,726.6 282.1,724.7 282.7,726.2 283.2,724.9 283.8,724.6 284.3,724.3 284.8,724.0 285.4,723.9 285.9,724.6 286.5,724.2 287.0,723.0 287.6,724.0 288.1,722.7 288.6,723.9 289.2,723.0 289.7,722.9 290.3,723.6 290.8,721.2 291.3,723.7 291.9,724.0 292.4,722.3 293.0,721.6 293.5,720.4 294.1,721.1 294.6,719.8 295.1,719.2 295.7,718.3 296.2,719.1 296.8,718.0 297.3,715.7 297.9,715.7 298.4,714.0 298.9,714.5 299.5,712.1 300.0,711.5 300.6,710.5 301.1,708.6 301.6,706.3 302.2,705.1 302.7,702.6 303.3,702.5 303.8,700.0 304.4,695.9 304.9,693.8 305.4,693.3 306.0,689.4 306.5,685.8 307.1,683.4 307.6,679.7 308.2,676.4 308.7,672.0 309.2,669.5 309.8,664.6 310.3,659.5 310.9,656.0 311.4,651.5 311.9,647.5 312.5,642.9 313.0,638.3 313.6,633.2 314.1,629.4 314.7,624.5 315.2,621.6 315.7,615.7 316.3,612.4 316.8,608.6 317.4,604.9 317.9,602.9 318.5,600.3 319.0,598.2 319.5,597.5 320.1,595.1 320.6,595.3 321.2,595.2 321.7,596.0 322.2,596.2 322.8,598.0 323.3,601.6 323.9,603.0 324.4,607.6 325.0,611.3 325.5,613.7 326.0,618.3 326.6,622.4 327.1,627.6 327.7,632.5 328.2,636.1 328.8,640.7 329.3,645.5 329.8,648.5 330.4,653.6 330.9,658.5 331.5,661.8 332.0,667.4 332.5,669.6 333.1,673.9 333.6,677.8 334.2,681.7 334.7,683.9 335.3,687.4 335.8,690.9 336.3,693.5 336.9,696.5 337.4,698.0 338.0,700.1 338.5,701.1 339.1,704.1 339.6,706.4 340.1,707.5 340.7,709.8 341.2,712.0 341.8,712.5 342.3,714.6 342.8,715.6 343.4,716.1 343.9,717.5 344.5,718.5 345.0,717.8 345.6,720.4 346.1,718.9 346.6,720.8 347.2,720.8 347.7,721.3 348.3,722.3 348.8,722.3 349.4,722.8 349.9,723.3 350.4,723.1 351.0,724.1 351.5,723.5 352.1,724.9 352.6,724.0 353.1,725.2 353.7,724.9 354.2,726.4 354.8,725.0 355.3,726.6 355.9,725.8 356.4,725.2 356.9,727.3 357.5,727.2 358.0,727.8 358.6,726.6 359.1,727.6 359.7,728.1 360.2,727.4 360.7,729.3 361.3,727.4 361.8,728.3 362.4,727.2 362.9,727.4 363.4,727.8 364.0,728.1 364.5,728.4 365.1,728.6 365.6,727.0 366.2,728.6 366.7,728.2 367.2,727.5 367.8,728.2 368.3,729.2 368.9,729.2 369.4,727.9 369.9,728.6 370.5,728.7 371.0,729.9 371.6,728.9 372.1,728.7 372.7,729.2 373.2,727.6 373.7,729.4 374.3,730.0 374.8,729.7 375.4,728.3 375.9,731.1 376.5,729.9 377.0,729.5 377.5,729.6 378.1,730.2 378.6,729.7 379.2,729.7 379.7,730.2 380.2,729.2 380.8,730.4 381.3,729.4 381.9,730.3 382.4,730.8 383.0,730.5 383.5,730.7 384.0,729.9 384.6,729.7 385.1,730.9 385.7,730.2 386.2,729.8 386.8,730.0 387.3,730.0 387.8,730.9 388.4,730.9 388.9,731.5 389.5,729.8 390.0,730.6 390.5,730.6 391.1,729.3 391.6,730.6 392.2,731.1 392.7,730.2 393.3,730.0 393.8,732.3 394.3,730.0 394.9,731.8 395.4,731.1 396.0,731.2 396.5,730.6 397.1,730.3 397.6,731.9 398.1,732.2 398.7,730.5 399.2,731.9 399.8,731.1 400.3,731.6 400.8,731.0 401.4,730.7 401.9,730.2 402.5,730.1 403.0,731.2 403.6,731.1 404.1,730.5 404.6,730.2 405.2,730.8 405.7,731.6 406.3,731.9 406.8,732.0 407.4,731.4 407.9,731.9 408.4,730.6 409.0,732.5 409.5,731.5 410.1,731.0 410.6,730.9 411.1,730.8 411.7,731.3 412.2,732.1 412.8,731.1 413.3,732.2 413.9,731.7 414.4,730.5 414.9,730.9 415.5,731.0 416.0,731.4 416.6,732.9 417.1,733.2 417.7,731.9 418.2,731.9 418.7,731.2 419.3,732.5 419.8,731.2 420.4,731.5 420.9,731.9 421.4,732.4 422.0,732.0 422.5,730.3 423.1,732.1 423.6,731.6 424.2,732.1 424.7,732.8 425.2,730.9 425.8,732.1 426.3,732.5 426.9,731.0 427.4,732.8 428.0,732.4 428.5,732.2 429.0,731.5 429.6,732.3 430.1,732.5 430.7,731.5 431.2,731.6 431.7,731.4 432.3,732.2 432.8,732.2 433.4,732.6 433.9,732.2 434.5,731.7 435.0,732.0 435.5,731.4 436.1,732.6 436.6,731.4 437.2,731.4 437.7,732.0 438.2,730.7 438.8,732.2 439.3,732.8 439.9,732.3 440.4,732.3 441.0,732.2 441.5,731.8 442.0,731.7 442.6,731.0 443.1,731.9 443.7,732.2 444.2,732.8 444.8,731.2 445.3,731.6 445.8,731.6 446.4,730.9 446.9,730.8 447.5,730.7 448.0,730.6 448.5,731.7 449.1,729.4 449.6,729.6 450.2,729.2 450.7,730.1 451.3,730.1 451.8,728.8 452.3,729.8 452.9,728.3 453.4,729.6 454.0,728.4 454.5,728.6 455.1,726.8 455.6,727.9 456.1,727.0 456.7,726.2 457.2,725.1 457.8,726.2 458.3,725.7 458.8,724.6 459.4,725.0 459.9,724.5 460.5,724.1 461.0,722.3 461.6,722.9 462.1,722.1 462.6,721.0 463.2,721.1 463.7,720.1 464.3,720.7 464.8,719.5 465.4,719.3 465.9,719.2 466.4,719.5 467.0,718.4 467.5,716.8 468.1,718.2 468.6,717.2 469.1,717.5 469.7,716.7 470.2,716.3 470.8,715.5 471.3,716.5 471.9,716.9 472.4,716.1 472.9,716.2 473.5,716.3 474.0,716.9 474.6,717.3 475.1,718.1 475.7,717.7 476.2,718.4 476.7,718.0 477.3,719.7 477.8,719.6 478.4,719.1 478.9,719.9 479.4,720.9 480.0,722.2 480.5,722.0 481.1,723.5 481.6,723.3 482.2,722.9 482.7,723.5 483.2,725.5 483.8,724.4 484.3,724.8 484.9,725.2 485.4,725.4 486.0,727.1 486.5,727.6 487.0,726.7 487.6,728.9 488.1,728.8 488.7,728.3 489.2,727.8 489.7,728.8 490.3,729.1 490.8,730.1 491.4,729.6 491.9,730.7 492.5,731.9 493.0,730.0 493.5,730.2 494.1,731.6 494.6,732.2 495.2,729.9 495.7,730.9 496.3,730.3 496.8,731.7 497.3,731.6 497.9,731.1 498.4,731.9 499.0,732.6 499.5,729.8 500.0,730.9 500.6,731.5 501.1,732.0 501.7,732.4 502.2,732.3 502.8,733.4 503.3,732.3 503.8,731.8 504.4,731.8 504.9,731.0 505.5,732.2 506.0,732.7 506.6,731.6 507.1,733.0 507.6,731.6 508.2,732.9 508.7,732.3 509.3,733.6 509.8,732.7 510.3,732.7 510.9,732.3 511.4,731.8 512.0,732.1 512.5,731.9 513.1,731.6 513.6,733.4 514.1,733.3 514.7,733.0 515.2,733.0 515.8,731.7 516.3,730.8 516.8,733.0 517.4,733.0 517.9,733.0 518.5,733.2 519.0,733.1 519.6,732.2 520.1,733.1 520.6,733.1 521.2,733.7 521.7,733.2 522.3,732.9 522.8,732.9 523.4,732.2 523.9,732.5 524.4,733.3 525.0,731.5 525.5,732.1 526.1,733.3 526.6,732.3 527.1,731.7 527.7,733.1 528.2,733.2 528.8,733.0 529.3,733.0 529.9,731.9 530.4,734.5 530.9,732.3 531.5,732.3 532.0,733.2 532.6,733.2 533.1,732.9 533.7,733.0 534.2,733.3 534.7,733.1 535.3,732.3 535.8,733.0 536.4,733.1 536.9,733.1 537.4,732.9 538.0,732.2 538.5,733.2 539.1,733.3 539.6,733.1 540.2,731.8 540.7,733.1 541.2,733.9 541.8,733.2 542.3,732.6 542.9,733.1 543.4,732.8 544.0,732.7 544.5,733.2 545.0,733.1 545.6,732.4 546.1,734.1 546.7,733.6 547.2,731.8 547.7,732.8 548.3,732.9 548.8,731.2 549.4,732.1 549.9,733.6 550.5,732.9 551.0,733.2 551.5,733.0 552.1,732.9 552.6,732.6 553.2,732.1 553.7,731.7 554.3,732.4 554.8,733.4 555.3,733.5 555.9,733.8 556.4,732.8 557.0,732.3 557.5,733.9 558.0,733.6 558.6,733.2 559.1,733.2 559.7,732.6 560.2,733.7 560.8,731.7 561.3,732.6 561.8,733.3 562.4,732.9 562.9,733.9 563.5,733.2 564.0,732.4 564.6,732.4 565.1,731.5 565.6,733.7 566.2,733.0 566.7,733.3 567.3,732.1 567.8,732.2 568.3,733.3 568.9,732.5 569.4,732.9 570.0,733.9 570.5,733.2 571.1,733.2 571.6,733.1 572.1,732.6 572.7,733.4 573.2,733.0 573.8,734.5 574.3,733.4 574.9,731.8 575.4,732.7 575.9,732.3 576.5,733.9 577.0,732.8 577.6,732.1 578.1,732.6 578.6,733.5 579.2,733.4 579.7,732.9 580.3,732.9 580.8,732.0 581.4,732.5 581.9,732.7 582.4,732.2 583.0,732.9 583.5,732.0 584.1,733.3 584.6,732.2 585.1,732.0 585.7,731.9 586.2,732.4 586.8,732.8 587.3,732.7 587.9,732.0 588.4,732.6 588.9,731.7 589.5,732.3 590.0,732.7 590.6,732.4 591.1,731.9 591.7,731.7 592.2,732.4 592.7,732.1 593.3,730.9 593.8,731.4 594.4,731.8 594.9,732.1 595.4,731.8 596.0,732.7 596.5,731.1 597.1,732.7 597.6,731.4 598.2,731.9 598.7,731.4 599.2,731.7 599.8,730.5 600.3,732.3 600.9,731.0 601.4,731.2 602.0,729.7 602.5,731.1 603.0,730.6 603.6,731.5 604.1,731.1 604.7,730.5 605.2,729.8 605.7,731.5 606.3,730.3 606.8,731.1 607.4,731.0 607.9,731.1 608.5,729.2 609.0,729.2 609.5,729.6 610.1,729.3 610.6,730.1 611.2,729.7 611.7,729.8 612.3,729.4 612.8,729.4 613.3,729.3 613.9,729.0 614.4,728.4 615.0,729.4 615.5,728.3 616.0,727.4 616.6,727.0 617.1,728.5 617.7,727.8 618.2,727.6 618.8,726.9 619.3,727.7 619.8,728.1 620.4,727.6 620.9,726.5 621.5,727.0 622.0,727.1 622.6,726.2 623.1,726.0 623.6,725.9 624.2,727.7 624.7,727.3 625.3,726.2 625.8,726.3 626.3,726.8 626.9,726.7 627.4,726.4 628.0,725.2 628.5,725.1 629.1,725.6 629.6,726.0 630.1,725.8 630.7,725.2 631.2,724.7 631.8,726.2 632.3,724.5 632.9,725.0 633.4,725.0 633.9,725.0 634.5,725.5 635.0,723.2 635.6,722.6 636.1,724.5 636.6,724.7 637.2,724.5 637.7,724.2 638.3,723.6 638.8,723.3 639.4,724.5 639.9,722.6 640.4,723.6 641.0,722.5 641.5,722.4 642.1,721.5 642.6,721.7 643.2,721.1 643.7,720.2 644.2,720.3 644.8,719.5 645.3,720.9 645.9,719.3 646.4,719.4 646.9,720.4 647.5,719.4 648.0,718.4 648.6,718.9 649.1,718.2 649.7,718.0 650.2,716.7 650.7,717.5 651.3,716.7 651.8,715.9 652.4,715.2 652.9,715.3 653.5,714.6 654.0,714.9 654.5,714.7 655.1,713.8 655.6,714.8 656.2,714.3 656.7,712.7 657.2,714.3 657.8,712.7 658.3,712.1 658.9,712.9 659.4,713.5 660.0,713.7 660.5,712.4 661.0,712.9 661.6,712.9 662.1,713.7 662.7,713.5 663.2,713.3 663.7,713.4 664.3,713.5 664.8,713.6 665.4,713.5 665.9,713.4 666.5,715.0 667.0,714.4 667.5,714.7 668.1,714.7 668.6,715.3 669.2,715.0 669.7,715.9 670.3,715.8 670.8,717.0 671.3,715.3 671.9,717.7 672.4,717.3 673.0,716.8 673.5,718.1 674.0,717.8 674.6,718.5 675.1,718.4 675.7,718.9 676.2,719.0 676.8,719.0 677.3,719.1 677.8,720.1 678.4,720.4 678.9,720.7 679.5,720.1 680.0,720.6 680.6,720.9 681.1,721.1 681.6,721.2 682.2,721.7 682.7,721.2 683.3,722.1 683.8,721.2 684.3,721.9 684.9,722.0 685.4,722.2 686.0,723.3 686.5,722.0 687.1,722.8 687.6,723.1 688.1,723.8 688.7,723.1 689.2,723.2 689.8,723.7 690.3,724.3 690.9,724.8 691.4,725.9 691.9,726.2 692.5,725.9 693.0,725.8 693.6,726.5 694.1,726.5 694.6,726.3 695.2,726.5 695.7,728.1 696.3,727.5 696.8,727.0 697.4,728.4 697.9,727.4 698.4,727.9 699.0,728.5 699.5,728.5 700.1,728.5 700.6,728.6 701.2,728.6 701.7,728.5 702.2,729.6 702.8,730.3 703.3,729.2 703.9,730.2 704.4,730.4 704.9,729.3 705.5,730.8 706.0,730.8 706.6,730.3 707.1,730.0 707.7,730.9 708.2,730.8 708.7,730.1 709.3,729.1 709.8,731.4 710.4,729.0 710.9,730.6 711.5,729.1 712.0,730.4 712.5,730.3 713.1,730.7 713.6,730.9 714.2,731.1 714.7,730.1 715.2,731.2 715.8,731.1 716.3,730.2 716.9,731.0 717.4,730.3 718.0,730.9 718.5,730.1 719.0,731.0 719.6,731.8 720.1,730.7 720.7,731.2 721.2,732.3 721.8,732.9 722.3,730.6 722.8,731.1 723.4,730.0 723.9,730.5 724.5,732.7 725.0,731.4 725.5,731.5 726.1,731.6 726.6,732.6 727.2,731.2 727.7,731.6 728.3,732.0 728.8,731.8 729.3,732.5 729.9,733.3 730.4,732.1 731.0,732.6 731.5,733.5 732.1,732.7 732.6,732.0 733.1,733.2 733.7,733.3 734.2,733.9 734.8,732.8 735.3,733.6 735.8,733.8 736.4,731.7 736.9,732.9 737.5,734.3 738.0,732.5 738.6,734.0 739.1,733.0 739.6,732.2 740.2,731.6 740.7,732.7 741.3,732.3 741.8,734.3 742.3,731.7 742.9,733.8 743.4,733.1 744.0,733.9 744.5,732.3 745.1,733.4 745.6,732.7 746.1,733.7 746.7,734.2 747.2,733.6 747.8,733.3 748.3,733.8 748.9,733.7 749.4,732.9 749.9,731.9 750.5,733.0 751.0,731.8 751.6,732.7 752.1,734.9 752.6,734.3 753.2,732.9 753.7,733.5 754.3,734.3 754.8,733.2 755.4,732.1 755.9,732.1 756.4,734.1 757.0,734.1 757.5,734.0 758.1,733.5 758.6,733.4 759.2,733.3 759.7,732.9 760.2,733.3 760.8,733.4 761.3,732.4 761.9,734.3 762.4,733.4 762.9,733.5 763.5,732.4 764.0,732.9 764.6,732.6 765.1,732.0 765.7,732.3 766.2,734.1 766.7,732.8 767.3,733.0 767.8,732.6 768.4,732.5 768.9,731.9 769.5,732.6 770.0,731.7 770.5,732.4 771.1,731.2 771.6,731.5 772.2,731.6 772.7,732.1 773.2,731.0 773.8,731.8 774.3,731.8 774.9,732.0 775.4,731.5 776.0,731.5 776.5,731.2 777.0,730.4 777.6,731.4 778.1,730.8 778.7,731.1 779.2,732.0 779.8,731.4 780.3,731.1 780.8,730.7 781.4,730.5 781.9,730.0 782.5,730.9 783.0,731.8 783.5,731.1 784.1,730.3 784.6,731.5 785.2,730.3 785.7,730.4 786.3,731.6 786.8,731.4 787.3,732.1 787.9,730.4 788.4,731.4 789.0,731.4 789.5,731.3 790.1,731.4 790.6,730.3 791.1,731.6 791.7,731.0 792.2,731.8 792.8,731.2 793.3,732.4 793.8,732.2 794.4,732.0 794.9,732.1 795.5,731.8 796.0,733.0 796.6,732.7 797.1,732.5 797.6,732.5 798.2,732.6 798.7,732.8 799.3,732.5 799.8,731.9 800.4,731.6 800.9,732.0 801.4,733.6 802.0,732.5 802.5,733.5 803.1,734.0 803.6,733.3 804.1,733.1 804.7,733.2 805.2,733.9 805.8,732.9 806.3,733.8 806.9,734.8 807.4,734.0 807.9,733.9 808.5,733.8 809.0,733.5 809.6,732.8 810.1,734.2 810.6,734.2 811.2,732.7 811.7,733.8 812.3,734.5 812.8,734.3 813.4,734.2 813.9,733.3 814.4,733.2 815.0,733.8 815.5,734.6 816.1,733.5 816.6,735.0 817.2,733.1 817.7,733.5 818.2,734.6 818.8,732.9 819.3,734.3 819.9,734.2 820.4,734.2 820.9,733.9 821.5,733.8 822.0,733.1 822.6,733.7 823.1,733.5 823.7,732.9 824.2,733.1 824.7,734.3 825.3,733.6 825.8,733.3 826.4,733.8 826.9,732.7 827.5,734.2 828.0,734.4 828.5,735.1 829.1,733.7 829.6,734.5 830.2,733.5 830.7,733.4 831.2,733.5 831.8,734.0 832.3,733.6 832.9,733.9 833.4,733.3 834.0,733.2 834.5,734.3 835.0,733.0 835.6,733.6 836.1,734.6 836.7,733.9 837.2,734.0 837.8,733.5 838.3,733.3 838.8,734.3 839.4,733.6 839.9,733.7 840.5,734.1 841.0,733.1 841.5,733.7 842.1,731.5 842.6,734.6 843.2,734.3 843.7,732.7 844.3,733.8 844.8,733.7 845.3,732.7 845.9,733.3 846.4,733.0 847.0,733.0 847.5,733.2 848.1,733.8 848.6,732.9 849.1,733.0 849.7,732.9 850.2,732.4 850.8,733.4 851.3,734.4 851.8,733.9 852.4,732.5 852.9,733.4 853.5,732.7 854.0,733.8 854.6,732.0 855.1,733.9 855.6,732.1 856.2,733.4 856.7,733.9 857.3,733.0 857.8,733.9 858.4,732.8 858.9,733.9 859.4,732.5 860.0,732.7 860.5,733.0 861.1,734.2 861.6,732.1 862.1,732.0 862.7,733.2 863.2,732.4 863.8,731.8 864.3,732.1 864.9,732.7 865.4,731.6 865.9,731.4 866.5,732.2 867.0,732.2 867.6,731.4 868.1,731.5 868.7,732.3 869.2,730.6 869.7,730.7 870.3,732.2 870.8,731.7 871.4,732.2 871.9,731.2 872.4,731.0 873.0,731.2 873.5,729.7 874.1,729.9 874.6,730.9 875.2,730.8 875.7,730.9 876.2,730.7 876.8,730.3 877.3,729.4 877.9,730.4 878.4,730.1 879.0,728.9 879.5,730.4 880.0,730.0 880.6,730.2 881.1,729.1 881.7,729.3 882.2,731.5 882.7,729.3 883.3,729.4 883.8,730.2 884.4,728.2 884.9,729.7 885.5,730.0 886.0,730.2 886.5,730.1 887.1,728.7 887.6,729.8 888.2,730.1 888.7,728.3 889.2,730.1 889.8,729.6 890.3,730.0 890.9,730.0 891.4,730.0 892.0,730.4 892.5,730.4 893.0,730.9 893.6,730.6 894.1,729.8 894.7,731.5 895.2,730.6 895.8,729.6 896.3,730.9 896.8,730.9 897.4,731.3 897.9,731.7 898.5,731.0 899.0,730.3 899.5,731.5 900.1,730.6 900.6,730.8 901.2,731.3 901.7,730.7 902.3,730.6 902.8,731.9 903.3,731.0 903.9,731.2 904.4,730.7 905.0,730.8 905.5,730.4 906.1,730.8 906.6,730.5 907.1,730.5 907.7,730.0 908.2,731.9 908.8,730.8 909.3,729.5 909.8,728.8 910.4,730.1 910.9,729.3 911.5,728.7 912.0,729.1 912.6,728.0 913.1,729.3 913.6,727.8 914.2,726.7 914.7,726.0 915.3,727.7 915.8,725.8 916.4,725.5 916.9,725.3 917.4,724.1 918.0,723.3 918.5,723.0 919.1,723.0 919.6,722.2 920.1,721.0 920.7,720.6 921.2,721.1 921.8,720.0 922.3,718.4 922.9,718.0 923.4,717.0 923.9,716.5 924.5,716.7 925.0,714.2 925.6,714.0 926.1,713.0 926.7,712.2 927.2,711.2 927.7,709.8 928.3,709.2 928.8,707.4 929.4,707.3 929.9,707.0 930.4,707.1 931.0,706.5 931.5,705.3 932.1,704.4 932.6,703.5 933.2,702.8 933.7,703.5 934.2,703.5 934.8,702.9 935.3,702.1 935.9,702.0 936.4,703.7 937.0,703.0 937.5,702.7 938.0,703.8 938.6,703.6 939.1,702.8 939.7,704.5 940.2,705.0 940.7,706.2 941.3,705.5 941.8,707.1 942.4,707.8 942.9,708.3 943.5,708.8 944.0,709.6 944.5,710.3 945.1,711.3 945.6,712.5 946.2,712.9 946.7,713.3 947.3,714.4 947.8,715.2 948.3,716.1 948.9,717.1 949.4,716.9 950.0,718.9 950.5,720.7 951.0,720.8 951.6,720.6 952.1,720.7 952.7,722.2 953.2,722.8 953.8,723.7 954.3,723.7 954.8,724.3 955.4,725.8 955.9,725.7 956.5,727.1 957.0,726.2 957.5,726.3 958.1,728.1 958.6,727.6 959.2,728.0 959.7,729.3 960.3,729.0 960.8,730.0 961.3,729.4 961.9,730.1 962.4,730.6 963.0,731.2 963.5,731.2 964.1,730.7 964.6,730.9 965.1,731.9 965.7,732.1 966.2,732.2 966.8,730.8 967.3,730.9 967.8,732.0 968.4,731.4 968.9,731.9 969.5,732.3 970.0,732.1 970.6,732.5 971.1,733.5 971.6,731.8 972.2,732.6 972.7,732.2 973.3,732.4 973.8,732.0 974.4,733.0 974.9,732.6 975.4,733.9 976.0,733.5 976.5,731.9 977.1,733.3 977.6,732.8 978.1,732.8 978.7,733.7 979.2,734.4 979.8,732.3 980.3,732.4 980.9,732.5 981.4,733.4 981.9,732.7 982.5,733.7 983.0,731.6 983.6,732.5 984.1,733.7 984.7,733.9 985.2,732.4 985.7,732.3 986.3,732.9 986.8,732.9 987.4,732.9 987.9,732.7 988.4,734.9 989.0,733.9 989.5,732.8 990.1,732.8 990.6,733.3 991.2,733.6 991.7,734.4 992.2,734.1 992.8,733.5 993.3,733.0 993.9,734.0 994.4,733.9 995.0,732.8 995.5,732.3 996.0,733.2 996.6,733.6 997.1,733.3 997.7,733.0 998.2,732.8 998.7,734.4 999.3,733.3 999.8,732.7 1000.4,732.7 1000.9,733.7 1001.5,732.7 1002.0,734.3 1002.5,732.4 1003.1,732.8 1003.6,732.3 1004.2,733.7 1004.7,732.4 1005.3,732.4 1005.8,733.7 1006.3,734.1 1006.9,733.0 1007.4,734.3 1008.0,734.0 1008.5,732.2 1009.0,733.8 1009.6,734.4 1010.1,733.5 1010.7,732.9 1011.2,733.3 1011.8,732.9 1012.3,733.6 1012.8,734.2 1013.4,733.7 1013.9,733.7 1014.5,734.8 1015.0,733.6 1015.6,734.4 1016.1,732.8 1016.6,733.1 1017.2,734.0 1017.7,734.4 1018.3,734.3 1018.8,734.1 1019.3,733.7 1019.9,734.1 1020.4,734.2 1021.0,733.5 1021.5,732.3 1022.1,733.0 1022.6,734.8 1023.1,733.5 1023.7,733.3 1024.2,733.0 1024.8,733.6 1025.3,733.1 1025.9,734.1 1026.4,733.8 1026.9,732.3 1027.5,733.0 1028.0,733.4 1028.6,733.1 1029.1,733.3 1029.6,733.7 1030.2,733.2 1030.7,732.7 1031.3,733.5 1031.8,733.2 1032.4,733.0 1032.9,733.0 1033.4,734.6 1034.0,733.5 1034.5,732.9 1035.1,733.2 1035.6,732.9 1036.1,733.0 1036.7,733.0 1037.2,733.8 1037.8,733.3 1038.3,732.9 1038.9,734.1 1039.4,733.5 1039.9,733.4 1040.5,733.5 1041.0,733.3 1041.6,733.8 1042.1,732.9 1042.7,732.8 1043.2,733.5 1043.7,732.5 1044.3,732.7 1044.8,733.5 1045.4,734.6 1045.9,733.3 1046.4,733.6 1047.0,732.6 1047.5,733.0 1048.1,734.6 1048.6,733.4 1049.2,733.4 1049.7,732.8 1050.2,733.8 1050.8,733.6 1051.3,733.8 1051.9,733.8 1052.4,733.0 1053.0,732.8 1053.5,733.2 1054.0,733.3 1054.6,733.6 1055.1,733.1 1055.7,732.2 1056.2,734.2 1056.7,733.7 1057.3,732.4 1057.8,734.3 1058.4,732.3 1058.9,732.0 1059.5,732.3 1060.0,734.0 1060.5,733.2 1061.1,732.7 1061.6,732.9 1062.2,733.7 1062.7,732.6 1063.3,733.3 1063.8,733.0 1064.3,733.0 1064.9,733.5 1065.4,733.0 1066.0,733.3 1066.5,732.9 1067.0,732.0 1067.6,732.5 1068.1,733.1 1068.7,734.4 1069.2,732.5 1069.8,733.4 1070.3,732.2 1070.8,733.0 1071.4,733.3 1071.9,732.7 1072.5,732.6 1073.0,732.2 1073.6,732.6 1074.1,732.6 1074.6,732.8 1075.2,732.2 1075.7,731.9 1076.3,731.9 1076.8,731.9 1077.3,732.2 1077.9,732.4 1078.4,731.0 1079.0,732.1 1079.5,731.5 1080.1,730.7 1080.6,730.7 1081.1,730.1 1081.7,729.9 1082.2,730.3 1082.8,730.5 1083.3,729.9 1083.9,730.2 1084.4,729.9 1084.9,729.7 1085.5,729.4 1086.0,729.1 1086.6,727.3 1087.1,728.4 1087.6,726.7 1088.2,728.2 1088.7,726.7 1089.3,726.5 1089.8,725.9 1090.4,726.4 1090.9,725.0 1091.4,725.0 1092.0,724.2 1092.5,724.4 1093.1,723.2 1093.6,723.6 1094.2,722.8 1094.7,721.9 1095.2,721.8 1095.8,721.0 1096.3,720.2 1096.9,720.1 1097.4,718.4 1097.9,719.3 1098.5,719.2 1099.0,717.9 1099.6,718.1 1100.1,718.0 1100.7,716.4 1101.2,717.6 1101.7,715.7 1102.3,716.1 1102.8,715.5 1103.4,715.7 1103.9,714.4 1104.4,714.4 1105.0,714.7 1105.5,714.7 1106.1,713.9 1106.6,714.0 1107.2,712.4 1107.7,712.5 1108.2,713.0 1108.8,713.1 1109.3,713.2 1109.9,713.7 1110.4,712.9 1111.0,713.2 1111.5,713.2 1112.0,712.5 1112.6,711.8 1113.1,712.9 1113.7,712.9 1114.2,713.9 1114.7,713.5 1115.3,713.8 1115.8,713.2 1116.4,713.1 1116.9,713.8 1117.5,714.4 1118.0,712.8 1118.5,713.4 1119.1,712.8 1119.6,713.0 1120.2,714.0 1120.7,713.8 1121.3,713.2 1121.8,713.5 1122.3,714.2 1122.9,712.8 1123.4,713.8 1124.0,713.2 1124.5,711.7 1125.0,713.6 1125.6,714.1 1126.1,712.6 1126.7,712.6 1127.2,712.3 1127.8,712.8 1128.3,712.7 1128.8,713.4 1129.4,713.0 1129.9,712.7 1130.5,712.5 1131.0,713.4 1131.6,712.7 1132.1,712.8 1132.6,713.6 1133.2,713.9 1133.7,713.2 1134.3,713.5 1134.8,715.5 1135.3,713.4 1135.9,714.9 1136.4,714.8 1137.0,716.5 1137.5,715.5 1138.1,715.9 1138.6,716.6 1139.1,716.7 1139.7,718.2 1140.2,718.6 1140.8,718.9 1141.3,719.5 1141.9,719.1 1142.4,719.8 1142.9,721.0 1143.5,720.8 1144.0,721.3 1144.6,721.2 1145.1,722.2 1145.6,722.7 1146.2,723.5 1146.7,724.0 1147.3,724.0 1147.8,725.2 1148.4,725.3 1148.9,725.9 1149.4,726.1 1150.0,726.1 1150.5,727.0 1151.1,727.1 1151.6,727.3 1152.2,727.5 1152.7,726.6 1153.2,729.4 1153.8,729.1 1154.3,729.9 1154.9,729.3 1155.4,730.0 1155.9,729.6 1156.5,729.0 1157.0,731.0 1157.6,730.9 1158.1,731.6 1158.7,731.2 1159.2,731.9 1159.7,729.8 1160.3,732.3 1160.8,731.3 1161.4,731.9 1161.9,731.0 1162.5,731.1 1163.0,733.0 1163.5,730.8 1164.1,732.4 1164.6,732.4 1165.2,732.5 1165.7,731.7 1166.2,732.6 1166.8,731.8 1167.3,731.9 1167.9,732.2 1168.4,733.2 1169.0,732.5 1169.5,732.6 1170.0,733.0 1170.6,733.2 1171.1,732.2 1171.7,733.7 1172.2,733.0 1172.8,732.8 1173.3,731.7 1173.8,732.6 1174.4,732.9 1174.9,733.2 1175.5,733.0 1176.0,732.7 1176.5,732.8 1177.1,732.2 1177.6,732.3 1178.2,733.4 1178.7,732.8 1179.3,733.3 1179.8,733.3 1180.3,734.0 1180.9,732.5 1181.4,733.0 1182.0,731.8 1182.5,732.6 1183.0,732.8 1183.6,734.1 1184.1,733.2 1184.7,732.6 1185.2,734.1 1185.8,734.5 1186.3,733.7 1186.8,733.3 1187.4,734.2 1187.9,732.4 1188.5,733.4 1189.0,732.4 1189.6,734.1 1190.1,733.7 1190.6,733.8 1191.2,734.0 1191.7,733.0 1192.3,732.5 1192.8,732.7 1193.3,733.8 1193.9,733.8 1194.4,731.7 1195.0,734.5 1195.5,734.0 1196.1,734.0 1196.6,733.7 1197.1,733.5 1197.7,733.4 1198.2,733.3 1198.8,733.1 1199.3,732.4 1199.9,733.3 1200.4,733.7 1200.9,732.9 1201.5,733.3 1202.0,733.4 1202.6,733.2 1203.1,732.9 1203.6,733.2 1204.2,733.1 1204.7,732.3 1205.3,734.0 1205.8,735.0 1206.4,733.4 1206.9,733.8 1207.4,732.5 1208.0,733.1 1208.5,733.2 1209.1,733.8 1209.6,732.9 1210.2,733.6 1210.7,733.0 1211.2,733.8 1211.8,733.0 1212.3,732.8 1212.9,732.9 1213.4,732.7 1213.9,733.1 1214.5,732.7 1215.0,733.1 1215.6,733.0 1216.1,733.1 1216.7,732.9 1217.2,733.1 1217.7,734.0 1218.3,733.8 1218.8,733.3 1219.4,734.0 1219.9,733.6 1220.5,732.3 1221.0,732.7 1221.5,732.4 1222.1,732.4 1222.6,734.1 1223.2,733.0 1223.7,732.8 1224.2,734.1 1224.8,732.6 1225.3,732.9 1225.9,733.7 1226.4,733.4 1227.0,733.6 1227.5,733.9 1228.0,732.5 1228.6,732.6 1229.1,733.9 1229.7,733.5 1230.2,733.3 1230.8,733.3 1231.3,733.6 1231.8,733.8 1232.4,732.6 1232.9,733.5 1233.5,734.7 1234.0,733.0 1234.5,733.7 1235.1,734.7 1235.6,733.0 1236.2,733.2 1236.7,732.2 1237.3,733.0 1237.8,732.8 1238.3,733.7 1238.9,734.2 1239.4,733.4 1240.0,733.6 1240.5,732.8 1241.1,734.6 1241.6,733.8 1242.1,733.8 1242.7,734.9 1243.2,733.3 1243.8,733.3 1244.3,733.1 1244.8,732.2 1245.4,734.3 1245.9,733.2 1246.5,732.6 1247.0,732.7 1247.6,733.7 1248.1,734.2 1248.6,733.4 1249.2,732.7 1249.7,732.6 1250.3,733.7 1250.8,734.2 1251.3,733.3 1251.9,731.9 1252.4,733.7 1253.0,732.6 1253.5,733.5 1254.1,733.6 1254.6,733.7 1255.1,732.7 1255.7,732.7 1256.2,733.4 1256.8,733.8 1257.3,733.2 1257.9,732.8 1258.4,732.4 1258.9,731.8 1259.5,733.2 1260.0,732.7 1260.6,731.6 1261.1,734.0 1261.6,733.9 1262.2,734.0 1262.7,732.9 1263.3,733.4 1263.8,732.3 1264.4,733.2 1264.9,733.2 1265.4,733.6 1266.0,732.4 1266.5,733.7 1267.1,734.0 1267.6,733.8 1268.2,733.7 1268.7,733.9 1269.2,733.6 1269.8,732.8 1270.3,732.2 1270.9,732.1 1271.4,732.9 1271.9,732.4 1272.5,732.9 1273.0,733.0 1273.6,732.4 1274.1,733.7 1274.7,732.1 1275.2,732.4 1275.7,733.2 1276.3,732.9 1276.8,732.0 1277.4,733.2 1277.9,732.1 1278.5,733.4 1279.0,732.3 1279.5,732.1 1280.1,732.5 1280.6,733.1 1281.2,733.2 1281.7,732.4 1282.2,732.5 1282.8,732.8 1283.3,733.0 1283.9,732.4 1284.4,733.1 1285.0,732.8 1285.5,732.2 1286.0,733.0 1286.6,732.6 1287.1,734.1 1287.7,733.5 1288.2,733.3 1288.8,732.9 1289.3,733.1 1289.8,733.1 1290.4,731.9 1290.9,733.2 1291.5,731.8 1292.0,731.9 1292.5,732.0 1293.1,732.5 1293.6,732.8 1294.2,733.0 1294.7,731.5 1295.3,732.0 1295.8,731.7 1296.3,732.4 1296.9,731.9 1297.4,734.0 1298.0,732.8 1298.5,732.1 1299.1,730.6 1299.6,731.8 1300.1,731.3 1300.7,731.8 1301.2,731.2 1301.8,731.2 1302.3,729.9 1302.8,730.8 1303.4,731.8 1303.9,730.9 1304.5,731.2 1305.0,730.8 1305.6,730.2 1306.1,731.4 1306.6,729.5 1307.2,730.9 1307.7,730.0 1308.3,729.9 1308.8,729.1 1309.4,730.5 1309.9,729.2 1310.4,729.2 1311.0,729.3 1311.5,730.0 1312.1,728.5 1312.6,727.3 1313.1,727.2 1313.7,727.4 1314.2,727.8 1314.8,727.2 1315.3,726.9 1315.9,728.0 1316.4,728.6 1316.9,727.5 1317.5,727.1 1318.0,726.1 1318.6,726.5 1319.1,726.6 1319.7,725.9 1320.2,725.8 1320.7,725.0 1321.3,725.8 1321.8,724.4 1322.4,726.0 1322.9,724.8 1323.4,723.9 1324.0,724.7 1324.5,723.7 1325.1,723.4 1325.6,724.2 1326.2,724.2 1326.7,722.2 1327.2,722.9 1327.8,724.3 1328.3,722.4 1328.9,722.2 1329.4,721.8 1329.9,720.5 1330.5,722.4 1331.0,721.8 1331.6,722.1 1332.1,722.9 1332.7,722.4 1333.2,722.2 1333.7,720.4 1334.3,719.9 1334.8,722.1 1335.4,721.7 1335.9,722.0 1336.5,721.9 1337.0,722.1 1337.5,722.4 1338.1,722.5 1338.6,721.5 1339.2,722.4 1339.7,721.1 1340.2,721.9 1340.8,721.2 1341.3,722.7 1341.9,722.4 1342.4,722.1 1343.0,722.2 1343.5,722.8 1344.0,723.9 1344.6,724.1 1345.1,722.0 1345.7,723.5 1346.2,724.4 1346.8,724.5 1347.3,724.6 1347.8,723.4 1348.4,724.3 1348.9,725.6 1349.5,724.8 1350.0,724.6 1350.5,724.6 1351.1,726.1 1351.6,726.9 1352.2,726.6 1352.7,726.0 1353.3,727.4 1353.8,726.4 1354.3,726.8 1354.9,727.9 1355.4,728.0 1356.0,728.2 1356.5,728.3 1357.1,727.8 1357.6,728.3 1358.1,728.5 1358.7,728.1 1359.2,728.4 1359.8,729.5 1360.3,729.2 1360.8,728.6 1361.4,729.0 1361.9,728.9 1362.5,728.8 1363.0,730.2 1363.6,730.3 1364.1,730.1 1364.6,729.3 1365.2,730.1 1365.7,729.4 1366.3,730.7 1366.8,730.6 1367.4,731.0 1367.9,730.3 1368.4,732.3 1369.0,731.8 1369.5,732.3 1370.1,731.1 1370.6,731.3 1371.1,732.6 1371.7,732.4 1372.2,731.6 1372.8,731.6 1373.3,731.4 1373.9,732.2 1374.4,731.4 1374.9,732.8 1375.5,732.3 1376.0,732.4 1376.6,732.0 1377.1,733.1 1377.7,733.1 1378.2,732.2 1378.7,731.7 1379.3,733.6 1379.8,731.5 1380.4,733.0 1380.9,731.4 1381.4,734.2 1382.0,733.2 1382.5,732.2 1383.1,732.6 1383.6,733.2 1384.2,731.1 1384.7,731.6 1385.2,733.1 1385.8,732.7 1386.3,733.1 1386.9,733.0 1387.4,732.8 1388.0,733.6 1388.5,733.7 1389.0,732.6 1389.6,733.6 1390.1,732.8 1390.7,732.6 1391.2,733.3 1391.7,732.5 1392.3,733.2 1392.8,732.2 1393.4,733.5 1393.9,733.3 1394.5,733.6 1395.0,733.2 1395.5,732.4 1396.1,733.2 1396.6,733.8 1397.2,733.4 1397.7,734.0 1398.2,732.4 1398.8,732.9 1399.3,733.4 1399.9,733.1 1400.4,733.9 1401.0,732.7 1401.5,733.1 1402.0,732.5 1402.6,733.4 1403.1,733.2 1403.7,732.3 1404.2,733.1 1404.8,734.0 1405.3,733.5 1405.8,733.4 1406.4,734.7 1406.9,732.6 1407.5,733.2 1408.0,732.3 1408.5,733.2 1409.1,732.3 1409.6,733.3 1410.2,734.2 1410.7,733.5 1411.3,733.8 1411.8,732.5 1412.3,732.6 1412.9,733.1 1413.4,733.1 1414.0,735.1 1414.5,733.0 1415.1,733.0 1415.6,732.9 1416.1,732.9 1416.7,733.5 1417.2,732.9 1417.8,732.8 1418.3,733.3 1418.8,733.8 1419.4,732.6 1419.9,733.3 1420.5,733.8 1421.0,734.9 1421.6,733.0 1422.1,733.6 1422.6,733.9 1423.2,733.9 1423.7,734.1 1424.3,732.9 1424.8,732.1 1425.4,733.5 1425.9,733.6 1426.4,732.7 1427.0,733.5 1427.5,732.7 1428.1,733.0 1428.6,732.4 1429.1,732.7 1429.7,733.6 1430.2,733.2 1430.8,733.6 1431.3,733.5 1431.9,733.8 1432.4,732.7 1432.9,733.1 1433.5,733.9 1434.0,733.8 1434.6,732.7 1435.1,732.1 1435.7,733.5 1436.2,733.5 1436.7,733.4 1437.3,732.1 1437.8,733.2 1438.4,733.8 1438.9,733.2 1439.4,732.9 1440.0,733.5 1440.5,732.5 1441.1,734.5 1441.6,733.5 1442.2,732.4 1442.7,735.0 1443.2,733.6 1443.8,732.6 1444.3,733.5 1444.9,733.1 1445.4,733.3 1446.0,733.3 1446.5,732.9 1447.0,733.6 1447.6,733.1 1448.1,733.2 1448.7,732.4 1449.2,733.5 1449.7,732.9 1450.3,733.2 1450.8,733.7 1451.4,733.1 1451.9,733.4 1452.5,733.3 1453.0,733.3 1453.5,732.9 1454.1,734.0 1454.6,733.0 1455.2,732.9 1455.7,732.8 1456.3,733.2 1456.8,734.0 1457.3,733.6 1457.9,733.8 1458.4,732.5 1459.0,731.4 1459.5,733.5 1460.0,732.8 1460.6,733.6 1461.1,734.1 1461.7,733.5 1462.2,732.5 1462.8,733.1 1463.3,732.6 1463.8,733.9 1464.4,733.4 1464.9,732.7 1465.5,732.8 1466.0,732.6 1466.6,733.8 1467.1,731.7 1467.6,732.8 1468.2,732.1 1468.7,733.1 1469.3,733.3 1469.8,732.1 1470.3,731.7 1470.9,731.9 1471.4,732.9 1472.0,731.2 1472.5,732.4 1473.1,732.9 1473.6,731.9 1474.1,732.1 1474.7,731.5 1475.2,731.8 1475.8,731.2 1476.3,731.7 1476.8,731.1 1477.4,731.4 1477.9,732.8 1478.5,731.6 1479.0,731.6 1479.6,731.4 1480.1,731.1 1480.6,730.6 1481.2,731.0 1481.7,730.6 1482.3,731.3 1482.8,730.7 1483.4,729.8 1483.9,730.7 1484.4,730.2 1485.0,729.9 1485.5,730.3 1486.1,730.2 1486.6,729.8 1487.1,730.5 1487.7,731.1 1488.2,730.5 1488.8,729.8 1489.3,729.2 1489.9,729.1 1490.4,728.5 1490.9,728.9 1491.5,728.8 1492.0,728.9 1492.6,729.1 1493.1,728.8 1493.7,729.8 1494.2,728.9 1494.7,730.0 1495.3,728.1 1495.8,727.7 1496.4,728.2 1496.9,728.8 1497.4,728.3 1498.0,727.7 1498.5,727.6 1499.1,728.1 1499.6,728.8 1500.2,728.0 1500.7,728.0 1501.2,727.7 1501.8,727.5 1502.3,727.9 1502.9,727.8 1503.4,728.0 1504.0,727.6 1504.5,727.9 1505.0,727.5 1505.6,727.3 1506.1,728.8 1506.7,728.1 1507.2,727.9 1507.7,728.1 1508.3,727.6 1508.8,728.5 1509.4,728.8 1509.9,727.6 1510.5,728.7 1511.0,728.9 1511.5,728.0 1512.1,727.1 1512.6,728.1 1513.2,727.3 1513.7,728.6 1514.3,727.6 1514.8,728.3 1515.3,728.5 1515.9,728.0 1516.4,727.5 1517.0,729.1 1517.5,727.9 1518.0,727.8 1518.6,728.5 1519.1,728.4 1519.7,727.7 1520.2,728.3 1520.8,728.6 1521.3,728.6 1521.8,729.0 1522.4,728.3 1522.9,729.1 1523.5,729.7 1524.0,729.6 1524.6,728.6 1525.1,729.2 1525.6,729.1 1526.2,728.0 1526.7,728.4 1527.3,728.9 1527.8,729.4 1528.3,728.6 1528.9,728.8 1529.4,727.6 1530.0,728.9 1530.5,728.4 1531.1,728.8 1531.6,728.8 1532.1,728.4 1532.7,730.2 1533.2,728.4 1533.8,730.2 1534.3,729.1 1534.9,727.7 1535.4,728.8 1535.9,728.6 1536.5,728.6 1537.0,728.2 1537.6,729.8 1538.1,727.8 1538.6,727.9 1539.2,728.3 1539.7,729.8 1540.3,729.0 1540.8,728.3 1541.4,728.0 1541.9,729.9 1542.4,729.2 1543.0,728.4 1543.5,729.0 1544.1,729.6 1544.6,727.4 1545.2,728.5 1545.7,728.6 1546.2,729.2 1546.8,728.4 1547.3,729.3 1547.9,728.6 1548.4,729.4 1548.9,728.0 1549.5,730.6 1550.0,728.7 1550.6,728.3 1551.1,728.0 1551.7,729.5 1552.2,729.7 1552.7,729.5 1553.3,728.5 1553.8,729.7 1554.4,730.8 1554.9,728.5 1555.4,729.7 1556.0,730.0 1556.5,731.2 1557.1,729.5 1557.6,731.0 1558.2,731.2 1558.7,730.4 1559.2,730.6 1559.8,731.5 1560.3,729.9 1560.9,730.7 1561.4,731.2 1562.0,730.2 1562.5,731.2 1563.0,730.9 1563.6,731.5 1564.1,731.1 1564.7,731.2 1565.2,732.5 1565.7,731.1 1566.3,731.2 1566.8,732.2 1567.4,731.6 1567.9,731.6 1568.5,733.1 1569.0,732.0 1569.5,731.7 1570.1,731.6 1570.6,731.7 1571.2,732.0 1571.7,732.5 1572.3,733.3 1572.8,732.5 1573.3,732.1 1573.9,731.8 1574.4,732.6 1575.0,732.5 1575.5,733.2 1576.0,732.7 1576.6,733.1 1577.1,733.1 1577.7,733.2 1578.2,733.0 1578.8,734.1 1579.3,732.4 1579.8,733.4 1580.4,733.0 1580.9,732.6 1581.5,732.8 1582.0,733.7 1582.6,732.5 1583.1,732.5 1583.6,732.8 1584.2,732.9 1584.7,732.4 1585.3,733.7 1585.8,733.1 1586.3,732.5 1586.9,733.1 1587.4,734.1 1588.0,733.9 1588.5,733.5 1589.1,733.5 1589.6,734.1 1590.1,732.4 1590.7,734.4 1591.2,732.8 1591.8,733.5 1592.3,733.1 1592.9,734.0 1593.4,733.3 1593.9,733.4 1594.5,733.7 1595.0,733.2 1595.6,733.4 1596.1,733.2 1596.6,733.7 1597.2,733.7 1597.7,732.9 1598.3,733.5 1598.8,735.2 1599.4,733.9 1599.9,733.3 1600.4,733.1 1601.0,733.5 1601.5,734.0 1602.1,732.2 1602.6,733.5 1603.2,733.4 1603.7,734.3 1604.2,733.5 1604.8,734.2 1605.3,732.5 1605.9,733.0 1606.4,734.0 1606.9,733.2 1607.5,733.8 1608.0,733.7 1608.6,733.0 1609.1,733.3 1609.7,734.0 1610.2,733.6 1610.7,732.8 1611.3,733.1 1611.8,733.1 1612.4,733.3 1612.9,733.9 1613.5,732.5 1614.0,733.1 1614.5,733.9 1615.1,733.2 1615.6,733.3 1616.2,732.8 1616.7,732.6 1617.2,734.1 1617.8,733.8 1618.3,733.5 1618.9,733.3 1619.4,733.1 1620.0,733.8 1620.5,733.2 1621.0,733.2 1621.6,732.2 1622.1,733.5 1622.7,732.8 1623.2,733.5 1623.7,733.0 1624.3,733.3 1624.8,734.1 1625.4,732.7 1625.9,733.1 1626.5,732.4 1627.0,733.2 1627.5,733.3 1628.1,732.7 1628.6,732.8 1629.2,734.4 1629.7,733.0 1630.3,733.5 1630.8,733.6 1631.3,733.7 1631.9,733.0 1632.4,732.5 1633.0,733.8 1633.5,734.0 1634.0,732.7 1634.6,733.9 1635.1,733.0 1635.7,734.1 1636.2,733.9 1636.8,732.4 1637.3,733.7 1637.8,732.9 1638.4,732.0 1638.9,733.1 1639.5,732.5 1640.0,732.0 1640.6,733.3 1641.1,733.0 1641.6,732.2 1642.2,732.7 1642.7,731.7 1643.3,732.7 1643.8,731.5 1644.3,731.9 1644.9,731.9 1645.4,732.6 1646.0,733.0 1646.5,731.3 1647.1,732.5 1647.6,732.1 1648.1,732.6 1648.7,732.0 1649.2,731.0 1649.8,731.4 1650.3,730.4 1650.9,731.8 1651.4,731.7 1651.9,731.7 1652.5,731.1 1653.0,731.0 1653.6,730.1 1654.1,730.8 1654.6,729.9 1655.2,730.8 1655.7,730.4 1656.3,730.3 1656.8,728.8 1657.4,730.0 1657.9,728.9 1658.4,730.2 1659.0,729.5 1659.5,729.0 1660.1,729.4 1660.6,729.2 1661.2,729.0 1661.7,728.1 1662.2,728.5 1662.8,727.8 1663.3,728.0 1663.9,727.5 1664.4,729.0 1664.9,729.0 1665.5,728.6 1666.0,727.9 1666.6,727.7 1667.1,728.0 1667.7,728.4 1668.2,727.7 1668.7,727.1 1669.3,726.5 1669.8,728.0 1670.4,728.1 1670.9,727.5 1671.5,726.8 1672.0,728.5 1672.5,728.2 1673.1,728.3 1673.6,728.2 1674.2,727.7 1674.7,726.9 1675.2,727.2 1675.8,727.6 1676.3,728.3 1676.9,727.4 1677.4,728.4 1678.0,727.5 1678.5,728.2 1679.0,728.1 1679.6,728.6 1680.1,727.1 1680.7,728.0 1681.2,727.8 1681.8,727.8 1682.3,729.7 1682.8,728.6 1683.4,729.2 1683.9,727.8 1684.5,728.4 1685.0,728.6 1685.5,729.0 1686.1,729.2 1686.6,730.0 1687.2,728.8 1687.7,729.8 1688.3,729.4 1688.8,729.6 1689.3,729.5 1689.9,729.1 1690.4,730.3 1691.0,728.9 1691.5,729.8 1692.1,729.0 1692.6,730.3 1693.1,729.5 1693.7,728.8 1694.2,729.9 1694.8,729.0 1695.3,730.1 1695.8,730.3 1696.4,730.0 1696.9,729.1 1697.5,731.0 1698.0,728.9 1698.6,729.8 1699.1,729.2 1699.6,729.8 1700.2,730.2 1700.7,730.9 1701.3,730.3 1701.8,730.4 1702.3,730.7 1702.9,731.8 1703.4,730.5 1704.0,729.8 1704.5,730.8 1705.1,730.8 1705.6,731.4 1706.1,730.9 1706.7,730.5 1707.2,732.0 1707.8,730.8 1708.3,729.8 1708.9,731.3 1709.4,731.5 1709.9,731.7 1710.5,731.9 1711.0,731.5 1711.6,731.4 1712.1,732.5 1712.6,730.4 1713.2,732.4 1713.7,732.6 1714.3,732.0 1714.8,732.2 1715.4,731.7 1715.9,733.2 1716.4,732.2 1717.0,732.0 1717.5,732.4 1718.1,731.5 1718.6,733.2 1719.2,733.5 1719.7,732.6 1720.2,732.0 1720.8,732.9 1721.3,732.6 1721.9,734.2 1722.4,732.9 1722.9,733.3 1723.5,732.3 1724.0,733.0 1724.6,733.2 1725.1,733.0 1725.7,733.8 1726.2,732.9 1726.7,732.4 1727.3,732.4 1727.8,733.2 1728.4,733.2 1728.9,733.6 1729.5,733.1 1730.0,733.0 1730.5,733.2 1731.1,733.5 1731.6,733.6 1732.2,732.8 1732.7,733.6 1733.2,733.2 1733.8,732.8 1734.3,733.1 1734.9,732.8 1735.4,733.4 1736.0,733.5 1736.5,733.8 1737.0,733.5 1737.6,732.9 1738.1,734.1 1738.7,733.6 1739.2,733.6 1739.8,732.9 1740.3,733.1 1740.8,733.2 1741.4,732.7 1741.9,732.3 1742.5,733.3 1743.0,733.1 1743.5,731.9 1744.1,733.3 1744.6,734.4 1745.2,733.6 1745.7,733.5 1746.3,733.5 1746.8,733.9 1747.3,733.4 1747.9,733.8 1748.4,733.6 1749.0,733.5 1749.5,733.7 1750.1,732.7 1750.6,732.3 1751.1,733.1 1751.7,733.3 1752.2,733.0 1752.8,733.3 1753.3,733.6 1753.8,733.8 1754.4,733.7 1754.9,732.9 1755.5,733.1 1756.0,734.2 1756.6,732.3 1757.1,733.2 1757.6,734.3 1758.2,733.7 1758.7,733.4 1759.3,733.5 1759.8,732.3 1760.4,731.7 1760.9,733.6 1761.4,732.8 1762.0,732.2 1762.5,732.3 1763.1,733.2 1763.6,733.2 1764.1,732.8 1764.7,733.9 1765.2,733.9 1765.8,734.2 1766.3,733.9 1766.9,733.8 1767.4,734.3 1767.9,732.6 1768.5,733.0 1769.0,733.6 1769.6,732.8 1770.1,733.3 1770.6,733.3 1771.2,733.6 1771.7,732.6 1772.3,733.1 1772.8,733.6 1773.4,732.6 1773.9,733.3 1774.4,732.6 1775.0,734.1 1775.5,733.1 1776.1,734.2 1776.6,733.1 1777.2,733.7 1777.7,733.0 1778.2,733.2 1778.8,732.0 1779.3,734.2 1779.9,733.5 1780.4,732.8 1780.9,732.2 1781.5,732.8 1782.0,733.5 1782.6,732.9 1783.1,731.7 1783.7,733.0 1784.2,733.1 1784.7,733.8 1785.3,733.5 1785.8,733.3 1786.4,733.6 1786.9,733.0 1787.5,733.8 1788.0,733.7 1788.5,731.8 1789.1,732.7 1789.6,734.3 1790.2,732.7 1790.7,732.4 1791.2,733.5 1791.8,733.2 1792.3,732.8 1792.9,734.5 1793.4,732.3 1794.0,732.9 1794.5,733.7 1795.0,733.3 1795.6,733.2 1796.1,733.7 1796.7,732.9 1797.2,733.8 1797.8,733.0 1798.3,733.4 1798.8,733.9 1799.4,733.0 1799.9,734.1 1800.5,733.6 1801.0,734.1 1801.5,732.9 1802.1,733.1 1802.6,732.1 1803.2,733.2 1803.7,733.2 1804.3,733.0 1804.8,733.3 1805.3,734.2 1805.9,733.7" stroke="#516f53" stroke-width="5.8"/>
<path d="M177.0,844.7 177.5,844.7 178.1,843.9 178.6,844.3 179.1,844.3 179.7,844.4 180.2,845.8 180.8,844.2 181.3,844.2 181.9,844.1 182.4,845.0 182.9,844.1 183.5,844.3 184.0,845.0 184.6,844.9 185.1,843.8 185.6,845.6 186.2,844.6 186.7,845.0 187.3,844.6 187.8,845.6 188.4,844.2 188.9,844.0 189.4,844.7 190.0,845.4 190.5,844.5 191.1,845.1 191.6,845.5 192.2,843.6 192.7,845.4 193.2,845.3 193.8,844.2 194.3,844.5 194.9,844.2 195.4,845.1 195.9,844.2 196.5,845.0 197.0,845.5 197.6,843.4 198.1,844.9 198.7,844.6 199.2,844.3 199.7,844.9 200.3,844.5 200.8,843.6 201.4,844.2 201.9,844.6 202.5,844.2 203.0,843.8 203.5,846.3 204.1,845.6 204.6,845.5 205.2,844.8 205.7,843.3 206.2,844.5 206.8,845.0 207.3,844.4 207.9,844.3 208.4,844.9 209.0,846.1 209.5,844.9 210.0,844.8 210.6,844.3 211.1,845.8 211.7,845.0 212.2,844.8 212.8,844.6 213.3,844.5 213.8,845.0 214.4,846.2 214.9,844.9 215.5,845.2 216.0,844.4 216.5,845.1 217.1,844.0 217.6,845.9 218.2,844.6 218.7,845.3 219.3,845.0 219.8,845.9 220.3,845.3 220.9,845.4 221.4,843.9 222.0,844.2 222.5,844.2 223.0,844.3 223.6,844.3 224.1,845.5 224.7,844.9 225.2,844.9 225.8,844.3 226.3,844.3 226.8,844.0 227.4,845.6 227.9,845.0 228.5,845.3 229.0,845.0 229.6,844.3 230.1,844.8 230.6,843.5 231.2,845.3 231.7,844.9 232.3,845.0 232.8,844.9 233.3,845.3 233.9,844.7 234.4,844.9 235.0,844.4 235.5,844.7 236.1,845.1 236.6,845.5 237.1,844.6 237.7,843.9 238.2,843.6 238.8,844.7 239.3,844.4 239.9,845.2 240.4,845.9 240.9,844.3 241.5,845.7 242.0,845.6 242.6,844.2 243.1,844.5 243.6,845.3 244.2,844.3 244.7,844.2 245.3,845.3 245.8,844.4 246.4,844.4 246.9,845.2 247.4,844.9 248.0,845.0 248.5,845.7 249.1,845.7 249.6,843.7 250.2,845.4 250.7,844.8 251.2,845.0 251.8,845.3 252.3,845.9 252.9,845.3 253.4,844.7 253.9,845.0 254.5,843.7 255.0,845.0 255.6,844.8 256.1,843.9 256.7,843.7 257.2,843.7 257.7,844.0 258.3,844.9 258.8,844.4 259.4,844.1 259.9,844.3 260.5,845.3 261.0,844.2 261.5,843.9 262.1,845.8 262.6,843.8 263.2,844.6 263.7,844.8 264.2,844.3 264.8,844.1 265.3,845.0 265.9,844.2 266.4,844.5 267.0,844.0 267.5,845.1 268.0,843.4 268.6,843.1 269.1,843.4 269.7,843.8 270.2,843.7 270.8,843.8 271.3,843.3 271.8,844.0 272.4,842.7 272.9,842.8 273.5,843.3 274.0,843.0 274.5,842.8 275.1,842.9 275.6,842.8 276.2,843.3 276.7,843.6 277.3,843.8 277.8,843.0 278.3,842.4 278.9,842.1 279.4,842.0 280.0,841.6 280.5,842.9 281.1,843.5 281.6,842.2 282.1,842.4 282.7,840.7 283.2,841.9 283.8,841.4 284.3,841.8 284.8,841.1 285.4,841.0 285.9,840.8 286.5,840.7 287.0,842.3 287.6,841.2 288.1,839.7 288.6,840.3 289.2,840.0 289.7,841.3 290.3,838.6 290.8,839.9 291.3,839.8 291.9,840.3 292.4,839.7 293.0,838.2 293.5,836.9 294.1,836.8 294.6,836.6 295.1,836.4 295.7,835.6 296.2,834.6 296.8,835.3 297.3,834.3 297.9,833.2 298.4,832.4 298.9,831.4 299.5,830.2 300.0,831.5 300.6,828.5 301.1,827.2 301.6,827.3 302.2,824.7 302.7,823.6 303.3,821.1 303.8,819.8 304.4,817.0 304.9,816.5 305.4,815.4 306.0,812.0 306.5,809.6 307.1,807.6 307.6,805.0 308.2,800.8 308.7,797.9 309.2,795.1 309.8,792.9 310.3,788.0 310.9,784.9 311.4,781.5 311.9,777.9 312.5,774.3 313.0,770.0 313.6,767.1 314.1,761.8 314.7,759.6 315.2,754.4 315.7,750.7 316.3,745.5 316.8,742.6 317.4,737.8 317.9,734.0 318.5,732.1 319.0,728.3 319.5,724.6 320.1,721.4 320.6,720.9 321.2,718.5 321.7,717.4 322.2,716.4 322.8,715.9 323.3,713.5 323.9,713.1 324.4,716.4 325.0,715.9 325.5,719.4 326.0,720.9 326.6,723.0 327.1,725.7 327.7,727.7 328.2,731.9 328.8,735.3 329.3,739.4 329.8,744.2 330.4,746.5 330.9,751.2 331.5,756.0 332.0,758.4 332.5,762.3 333.1,766.4 333.6,770.0 334.2,773.6 334.7,778.9 335.3,783.2 335.8,786.2 336.3,788.9 336.9,792.2 337.4,796.0 338.0,798.5 338.5,801.8 339.1,804.4 339.6,808.0 340.1,810.3 340.7,812.4 341.2,813.8 341.8,816.4 342.3,819.2 342.8,821.7 343.4,821.9 343.9,825.6 344.5,825.1 345.0,826.5 345.6,828.3 346.1,828.8 346.6,830.4 347.2,831.4 347.7,832.0 348.3,833.0 348.8,834.3 349.4,835.5 349.9,836.8 350.4,836.1 351.0,835.6 351.5,836.8 352.1,836.5 352.6,838.1 353.1,838.0 353.7,839.0 354.2,839.0 354.8,839.5 355.3,839.5 355.9,841.1 356.4,839.1 356.9,841.3 357.5,841.5 358.0,841.4 358.6,841.4 359.1,841.7 359.7,841.3 360.2,841.1 360.7,842.5 361.3,842.6 361.8,842.8 362.4,842.3 362.9,843.2 363.4,843.1 364.0,844.0 364.5,842.9 365.1,841.6 365.6,842.4 366.2,843.5 366.7,842.4 367.2,843.9 367.8,843.0 368.3,843.7 368.9,843.9 369.4,843.2 369.9,844.1 370.5,844.7 371.0,843.6 371.6,843.9 372.1,843.7 372.7,844.6 373.2,844.9 373.7,843.9 374.3,844.1 374.8,845.0 375.4,844.6 375.9,845.7 376.5,844.6 377.0,844.3 377.5,843.9 378.1,844.4 378.6,843.7 379.2,845.1 379.7,846.1 380.2,844.0 380.8,844.1 381.3,844.3 381.9,845.0 382.4,844.5 383.0,845.8 383.5,845.9 384.0,844.9 384.6,845.2 385.1,844.9 385.7,845.9 386.2,846.7 386.8,844.8 387.3,845.2 387.8,844.8 388.4,845.9 388.9,845.9 389.5,845.2 390.0,845.6 390.5,847.2 391.1,847.2 391.6,845.2 392.2,845.9 392.7,845.6 393.3,846.2 393.8,845.2 394.3,846.3 394.9,846.7 395.4,846.9 396.0,845.1 396.5,847.3 397.1,845.5 397.6,845.2 398.1,846.9 398.7,846.8 399.2,846.2 399.8,846.9 400.3,846.7 400.8,846.5 401.4,845.6 401.9,846.1 402.5,846.4 403.0,847.2 403.6,847.4 404.1,846.3 404.6,846.0 405.2,845.9 405.7,847.1 406.3,846.1 406.8,847.9 407.4,846.6 407.9,846.6 408.4,847.0 409.0,846.6 409.5,846.0 410.1,846.7 410.6,846.9 411.1,846.3 411.7,846.5 412.2,846.6 412.8,845.5 413.3,846.2 413.9,846.6 414.4,846.0 414.9,847.0 415.5,847.1 416.0,845.3 416.6,846.4 417.1,847.1 417.7,846.6 418.2,847.1 418.7,847.2 419.3,845.8 419.8,847.0 420.4,846.2 420.9,845.3 421.4,847.2 422.0,846.3 422.5,846.8 423.1,847.3 423.6,847.5 424.2,846.7 424.7,846.3 425.2,846.5 425.8,847.6 426.3,846.7 426.9,848.1 427.4,847.9 428.0,846.5 428.5,848.1 429.0,846.5 429.6,846.8 430.1,846.9 430.7,846.2 431.2,847.0 431.7,847.3 432.3,848.4 432.8,847.8 433.4,846.5 433.9,847.1 434.5,847.6 435.0,846.8 435.5,846.3 436.1,846.7 436.6,846.0 437.2,846.8 437.7,846.4 438.2,847.5 438.8,846.5 439.3,845.8 439.9,847.1 440.4,846.4 441.0,845.9 441.5,846.7 442.0,845.9 442.6,845.2 443.1,845.5 443.7,846.9 444.2,847.0 444.8,845.7 445.3,846.1 445.8,844.6 446.4,846.2 446.9,845.4 447.5,845.7 448.0,845.0 448.5,845.0 449.1,843.8 449.6,845.0 450.2,844.1 450.7,844.4 451.3,845.1 451.8,842.1 452.3,844.2 452.9,843.5 453.4,843.1 454.0,843.2 454.5,842.0 455.1,840.7 455.6,841.2 456.1,841.0 456.7,839.3 457.2,840.8 457.8,840.3 458.3,838.8 458.8,839.2 459.4,838.7 459.9,838.3 460.5,837.8 461.0,838.0 461.6,837.0 462.1,837.8 462.6,836.1 463.2,836.4 463.7,836.0 464.3,833.7 464.8,834.5 465.4,834.2 465.9,833.9 466.4,833.5 467.0,833.7 467.5,833.2 468.1,832.1 468.6,832.9 469.1,831.8 469.7,832.0 470.2,831.3 470.8,830.7 471.3,830.8 471.9,832.6 472.4,832.2 472.9,831.3 473.5,832.4 474.0,831.5 474.6,831.8 475.1,831.5 475.7,832.6 476.2,833.6 476.7,835.2 477.3,833.8 477.8,834.5 478.4,835.1 478.9,835.8 479.4,835.2 480.0,835.4 480.5,837.1 481.1,836.2 481.6,837.8 482.2,837.6 482.7,838.4 483.2,839.2 483.8,838.1 484.3,841.2 484.9,839.3 485.4,839.8 486.0,841.3 486.5,839.3 487.0,841.1 487.6,842.2 488.1,842.2 488.7,842.7 489.2,842.8 489.7,843.1 490.3,843.4 490.8,845.2 491.4,844.5 491.9,843.7 492.5,844.4 493.0,845.4 493.5,845.9 494.1,844.3 494.6,845.3 495.2,843.9 495.7,845.2 496.3,846.9 496.8,846.3 497.3,845.7 497.9,845.3 498.4,846.1 499.0,846.3 499.5,846.5 500.0,846.9 500.6,846.6 501.1,845.3 501.7,846.1 502.2,846.3 502.8,845.9 503.3,847.6 503.8,846.0 504.4,847.1 504.9,847.1 505.5,847.0 506.0,846.9 506.6,846.4 507.1,847.1 507.6,847.6 508.2,846.4 508.7,848.0 509.3,846.7 509.8,847.7 510.3,847.0 510.9,848.3 511.4,848.3 512.0,848.3 512.5,848.6 513.1,847.1 513.6,845.1 514.1,846.2 514.7,846.4 515.2,847.9 515.8,847.9 516.3,846.6 516.8,847.7 517.4,846.9 517.9,846.9 518.5,847.4 519.0,846.3 519.6,847.8 520.1,847.7 520.6,848.5 521.2,847.9 521.7,847.6 522.3,848.2 522.8,847.3 523.4,847.5 523.9,846.6 524.4,847.0 525.0,847.4 525.5,848.1 526.1,848.5 526.6,848.6 527.1,847.2 527.7,847.4 528.2,846.9 528.8,846.4 529.3,848.1 529.9,846.5 530.4,848.0 530.9,847.1 531.5,847.4 532.0,848.2 532.6,846.9 533.1,847.9 533.7,846.9 534.2,847.5 534.7,847.4 535.3,847.6 535.8,846.7 536.4,847.4 536.9,847.8 537.4,847.0 538.0,847.9 538.5,847.9 539.1,847.5 539.6,847.3 540.2,847.7 540.7,847.1 541.2,847.8 541.8,847.6 542.3,848.4 542.9,847.5 543.4,846.9 544.0,847.8 544.5,847.3 545.0,848.6 545.6,846.9 546.1,847.1 546.7,847.4 547.2,847.4 547.7,847.7 548.3,849.2 548.8,847.5 549.4,848.5 549.9,847.2 550.5,847.2 551.0,847.5 551.5,848.7 552.1,847.8 552.6,847.9 553.2,847.2 553.7,847.5 554.3,849.2 554.8,846.8 555.3,846.2 555.9,847.5 556.4,846.9 557.0,846.6 557.5,846.1 558.0,847.8 558.6,847.5 559.1,847.3 559.7,848.1 560.2,848.3 560.8,847.7 561.3,848.2 561.8,846.6 562.4,847.8 562.9,846.9 563.5,847.5 564.0,848.6 564.6,847.5 565.1,848.8 565.6,848.4 566.2,848.1 566.7,846.8 567.3,847.6 567.8,847.9 568.3,848.2 568.9,847.6 569.4,846.6 570.0,848.2 570.5,846.5 571.1,847.0 571.6,846.2 572.1,847.5 572.7,848.1 573.2,848.2 573.8,846.8 574.3,847.9 574.9,847.7 575.4,847.9 575.9,848.1 576.5,847.8 577.0,848.7 577.6,846.8 578.1,847.8 578.6,847.7 579.2,846.7 579.7,847.7 580.3,847.4 580.8,846.9 581.4,847.9 581.9,847.4 582.4,848.2 583.0,847.2 583.5,848.4 584.1,847.8 584.6,847.7 585.1,848.2 585.7,848.9 586.2,847.4 586.8,847.6 587.3,847.4 587.9,847.6 588.4,846.2 588.9,848.4 589.5,848.5 590.0,848.3 590.6,847.4 591.1,846.2 591.7,846.6 592.2,847.3 592.7,846.9 593.3,846.1 593.8,846.8 594.4,846.0 594.9,846.1 595.4,847.2 596.0,846.4 596.5,846.0 597.1,846.3 597.6,846.3 598.2,847.0 598.7,847.3 599.2,847.1 599.8,846.2 600.3,846.1 600.9,847.6 601.4,846.4 602.0,845.8 602.5,846.7 603.0,845.3 603.6,846.9 604.1,847.0 604.7,846.2 605.2,843.5 605.7,845.6 606.3,845.7 606.8,845.3 607.4,846.7 607.9,844.3 608.5,844.3 609.0,845.2 609.5,844.4 610.1,844.9 610.6,844.0 611.2,843.4 611.7,842.9 612.3,843.3 612.8,843.0 613.3,843.6 613.9,843.1 614.4,841.5 615.0,843.2 615.5,842.0 616.0,841.3 616.6,843.3 617.1,841.6 617.7,841.6 618.2,841.7 618.8,840.4 619.3,841.1 619.8,841.0 620.4,840.3 620.9,840.8 621.5,840.9 622.0,840.5 622.6,838.8 623.1,839.8 623.6,840.1 624.2,840.9 624.7,840.2 625.3,839.9 625.8,838.8 626.3,839.9 626.9,841.1 627.4,839.4 628.0,839.0 628.5,839.3 629.1,839.6 629.6,838.8 630.1,839.1 630.7,838.3 631.2,838.7 631.8,838.8 632.3,838.4 632.9,838.0 633.4,839.8 633.9,838.6 634.5,838.9 635.0,837.3 635.6,838.1 636.1,837.8 636.6,839.3 637.2,838.3 637.7,837.6 638.3,837.9 638.8,837.4 639.4,837.5 639.9,835.9 640.4,835.3 641.0,836.5 641.5,836.4 642.1,836.2 642.6,837.0 643.2,835.7 643.7,835.6 644.2,835.1 644.8,834.0 645.3,834.2 645.9,834.2 646.4,834.3 646.9,835.3 647.5,834.2 648.0,833.6 648.6,832.3 649.1,833.7 649.7,832.7 650.2,831.1 650.7,832.6 651.3,832.3 651.8,832.2 652.4,831.8 652.9,830.8 653.5,830.8 654.0,830.0 654.5,830.2 655.1,830.2 655.6,830.0 656.2,828.8 656.7,830.0 657.2,828.6 657.8,826.9 658.3,829.0 658.9,828.4 659.4,828.4 660.0,827.2 660.5,826.8 661.0,826.3 661.6,827.1 662.1,827.0 662.7,826.8 663.2,826.7 663.7,825.6 664.3,826.2 664.8,826.4 665.4,826.0 665.9,827.3 666.5,824.8 667.0,826.6 667.5,826.3 668.1,826.7 668.6,826.9 669.2,827.0 669.7,827.5 670.3,827.6 670.8,827.0 671.3,828.7 671.9,829.0 672.4,828.2 673.0,829.7 673.5,829.7 674.0,830.4 674.6,830.5 675.1,830.3 675.7,831.5 676.2,830.4 676.8,833.0 677.3,831.8 677.8,832.2 678.4,833.5 678.9,833.4 679.5,834.3 680.0,835.3 680.6,834.9 681.1,834.6 681.6,834.4 682.2,835.3 682.7,835.0 683.3,836.1 683.8,834.4 684.3,836.1 684.9,836.5 685.4,836.5 686.0,837.9 686.5,838.3 687.1,836.8 687.6,839.2 688.1,838.4 688.7,839.1 689.2,839.6 689.8,839.3 690.3,839.9 690.9,840.5 691.4,840.0 691.9,840.8 692.5,841.6 693.0,841.1 693.6,841.3 694.1,841.4 694.6,841.6 695.2,842.0 695.7,841.5 696.3,842.6 696.8,842.4 697.4,843.3 697.9,844.4 698.4,844.1 699.0,843.3 699.5,844.1 700.1,844.0 700.6,843.6 701.2,844.6 701.7,845.2 702.2,844.9 702.8,844.7 703.3,844.1 703.9,844.6 704.4,845.3 704.9,845.1 705.5,845.5 706.0,844.7 706.6,843.4 707.1,845.8 707.7,845.7 708.2,846.2 708.7,846.2 709.3,845.9 709.8,844.9 710.4,844.3 710.9,844.8 711.5,844.6 712.0,844.3 712.5,844.9 713.1,845.9 713.6,844.8 714.2,845.2 714.7,845.6 715.2,844.6 715.8,844.9 716.3,844.7 716.9,844.2 717.4,845.6 718.0,845.8 718.5,845.8 719.0,845.3 719.6,844.7 720.1,846.3 720.7,844.2 721.2,845.6 721.8,845.3 722.3,844.8 722.8,846.4 723.4,846.8 723.9,845.6 724.5,845.6 725.0,846.1 725.5,845.9 726.1,847.5 726.6,845.5 727.2,845.7 727.7,846.6 728.3,846.0 728.8,846.1 729.3,846.2 729.9,846.5 730.4,847.4 731.0,846.1 731.5,847.4 732.1,846.2 732.6,846.2 733.1,847.6 733.7,847.4 734.2,847.6 734.8,847.7 735.3,846.8 735.8,846.6 736.4,847.4 736.9,846.7 737.5,847.2 738.0,848.5 738.6,846.5 739.1,846.6 739.6,847.9 740.2,848.1 740.7,847.3 741.3,847.6 741.8,847.2 742.3,847.1 742.9,847.6 743.4,848.0 744.0,846.6 744.5,846.4 745.1,847.7 745.6,847.1 746.1,848.0 746.7,847.6 747.2,847.3 747.8,847.6 748.3,849.6 748.9,847.5 749.4,847.1 749.9,846.5 750.5,848.0 751.0,848.6 751.6,847.7 752.1,847.6 752.6,847.5 753.2,847.7 753.7,847.4 754.3,847.8 754.8,847.7 755.4,847.6 755.9,848.6 756.4,847.1 757.0,847.2 757.5,846.9 758.1,847.3 758.6,847.4 759.2,848.5 759.7,847.2 760.2,847.1 760.8,847.3 761.3,846.6 761.9,847.1 762.4,845.8 762.9,847.5 763.5,847.5 764.0,847.5 764.6,848.0 765.1,847.3 765.7,847.6 766.2,847.2 766.7,846.8 767.3,846.9 767.8,847.1 768.4,846.9 768.9,845.5 769.5,845.6 770.0,845.8 770.5,845.4 771.1,845.7 771.6,845.5 772.2,845.2 772.7,845.8 773.2,846.5 773.8,846.6 774.3,846.7 774.9,846.4 775.4,843.8 776.0,846.6 776.5,845.5 777.0,844.3 777.6,844.6 778.1,844.8 778.7,844.5 779.2,845.7 779.8,844.8 780.3,846.2 780.8,846.0 781.4,843.7 781.9,844.6 782.5,845.5 783.0,845.1 783.5,844.8 784.1,844.9 784.6,844.6 785.2,844.5 785.7,845.4 786.3,845.0 786.8,844.5 787.3,843.9 787.9,845.4 788.4,845.1 789.0,843.6 789.5,845.4 790.1,844.6 790.6,845.6 791.1,845.5 791.7,846.4 792.2,845.0 792.8,846.9 793.3,846.0 793.8,847.3 794.4,846.4 794.9,846.2 795.5,845.7 796.0,847.6 796.6,847.4 797.1,846.7 797.6,846.4 798.2,846.4 798.7,846.5 799.3,846.9 799.8,846.3 800.4,846.6 800.9,847.2 801.4,846.8 802.0,846.7 802.5,847.8 803.1,848.2 803.6,847.6 804.1,847.5 804.7,847.5 805.2,847.3 805.8,847.5 806.3,847.7 806.9,846.9 807.4,846.6 807.9,847.0 808.5,847.1 809.0,847.9 809.6,848.1 810.1,847.6 810.6,846.9 811.2,846.8 811.7,846.5 812.3,847.6 812.8,848.1 813.4,847.2 813.9,847.4 814.4,847.8 815.0,847.7 815.5,848.1 816.1,847.5 816.6,847.5 817.2,847.6 817.7,848.6 818.2,847.8 818.8,848.4 819.3,847.6 819.9,848.4 820.4,847.8 820.9,847.1 821.5,846.8 822.0,848.4 822.6,847.2 823.1,847.7 823.7,846.8 824.2,847.9 824.7,847.3 825.3,848.9 825.8,847.3 826.4,848.2 826.9,849.5 827.5,848.7 828.0,848.3 828.5,847.1 829.1,848.7 829.6,848.9 830.2,847.6 830.7,847.8 831.2,847.5 831.8,847.2 832.3,847.8 832.9,848.1 833.4,848.0 834.0,848.5 834.5,848.2 835.0,847.9 835.6,848.7 836.1,847.2 836.7,847.8 837.2,848.1 837.8,848.4 838.3,847.1 838.8,848.6 839.4,846.9 839.9,847.3 840.5,848.6 841.0,846.4 841.5,847.5 842.1,848.7 842.6,848.3 843.2,847.8 843.7,847.6 844.3,848.0 844.8,846.6 845.3,848.7 845.9,847.4 846.4,847.2 847.0,848.3 847.5,848.1 848.1,847.8 848.6,847.9 849.1,847.6 849.7,846.6 850.2,846.2 850.8,848.1 851.3,847.9 851.8,847.4 852.4,848.4 852.9,847.0 853.5,846.9 854.0,847.8 854.6,846.7 855.1,846.6 855.6,847.2 856.2,846.7 856.7,847.3 857.3,847.7 857.8,846.6 858.4,847.1 858.9,847.5 859.4,846.7 860.0,847.0 860.5,847.5 861.1,846.2 861.6,847.1 862.1,848.2 862.7,846.4 863.2,845.4 863.8,845.8 864.3,846.0 864.9,847.0 865.4,846.5 865.9,845.8 866.5,844.6 867.0,845.7 867.6,847.1 868.1,844.7 868.7,845.8 869.2,845.9 869.7,846.0 870.3,845.8 870.8,846.0 871.4,846.1 871.9,845.5 872.4,845.4 873.0,844.7 873.5,844.6 874.1,844.1 874.6,845.2 875.2,842.6 875.7,845.0 876.2,843.1 876.8,844.4 877.3,843.8 877.9,845.9 878.4,844.2 879.0,843.6 879.5,844.8 880.0,844.3 880.6,843.2 881.1,843.7 881.7,844.7 882.2,842.1 882.7,842.7 883.3,843.5 883.8,844.7 884.4,842.7 884.9,843.4 885.5,843.3 886.0,844.4 886.5,844.0 887.1,843.7 887.6,843.1 888.2,842.6 888.7,844.3 889.2,845.0 889.8,843.7 890.3,843.4 890.9,844.9 891.4,843.1 892.0,842.7 892.5,844.7 893.0,844.7 893.6,845.3 894.1,844.1 894.7,844.6 895.2,844.5 895.8,845.1 896.3,844.8 896.8,844.9 897.4,845.1 897.9,845.0 898.5,844.5 899.0,845.5 899.5,845.5 900.1,845.4 900.6,844.7 901.2,845.1 901.7,845.4 902.3,843.8 902.8,845.8 903.3,844.9 903.9,844.2 904.4,846.1 905.0,844.6 905.5,845.3 906.1,845.0 906.6,844.2 907.1,844.7 907.7,846.6 908.2,846.2 908.8,844.4 909.3,845.4 909.8,844.6 910.4,845.3 910.9,843.6 911.5,843.6 912.0,844.3 912.6,843.8 913.1,844.3 913.6,844.1 914.2,843.5 914.7,842.7 915.3,842.7 915.8,842.0 916.4,840.8 916.9,842.1 917.4,839.9 918.0,839.7 918.5,840.2 919.1,840.1 919.6,839.1 920.1,837.8 920.7,839.1 921.2,836.3 921.8,837.4 922.3,834.9 922.9,835.0 923.4,834.5 923.9,833.6 924.5,832.3 925.0,832.0 925.6,831.1 926.1,829.3 926.7,830.1 927.2,828.3 927.7,827.5 928.3,825.8 928.8,825.9 929.4,825.6 929.9,824.2 930.4,823.2 931.0,822.6 931.5,821.2 932.1,821.0 932.6,819.6 933.2,820.1 933.7,819.4 934.2,818.7 934.8,818.3 935.3,817.8 935.9,816.7 936.4,816.6 937.0,817.1 937.5,816.4 938.0,816.4 938.6,816.5 939.1,817.6 939.7,817.7 940.2,818.4 940.7,819.4 941.3,819.1 941.8,819.2 942.4,820.3 942.9,821.3 943.5,822.4 944.0,822.3 944.5,823.6 945.1,823.4 945.6,824.4 946.2,824.9 946.7,826.9 947.3,826.8 947.8,828.2 948.3,829.4 948.9,829.4 949.4,830.1 950.0,832.5 950.5,833.1 951.0,834.2 951.6,834.5 952.1,836.0 952.7,836.2 953.2,835.8 953.8,837.6 954.3,838.1 954.8,837.9 955.4,838.7 955.9,840.0 956.5,839.0 957.0,840.8 957.5,840.3 958.1,842.2 958.6,842.6 959.2,841.7 959.7,842.2 960.3,842.9 960.8,843.4 961.3,843.3 961.9,844.7 962.4,844.4 963.0,843.8 963.5,845.0 964.1,844.6 964.6,845.3 965.1,846.1 965.7,845.0 966.2,845.9 966.8,845.7 967.3,846.0 967.8,847.0 968.4,847.2 968.9,845.1 969.5,847.5 970.0,847.4 970.6,846.2 971.1,847.3 971.6,846.5 972.2,847.2 972.7,845.6 973.3,847.6 973.8,845.8 974.4,845.9 974.9,847.2 975.4,847.8 976.0,847.0 976.5,847.7 977.1,848.1 977.6,847.4 978.1,848.3 978.7,848.1 979.2,847.0 979.8,846.7 980.3,847.0 980.9,847.3 981.4,848.5 981.9,848.7 982.5,846.4 983.0,848.9 983.6,846.1 984.1,846.5 984.7,846.7 985.2,848.5 985.7,846.9 986.3,848.0 986.8,847.7 987.4,847.3 987.9,847.8 988.4,847.2 989.0,847.8 989.5,847.5 990.1,849.8 990.6,846.7 991.2,848.0 991.7,847.3 992.2,848.9 992.8,848.5 993.3,847.8 993.9,848.4 994.4,847.1 995.0,847.5 995.5,848.6 996.0,847.0 996.6,848.4 997.1,848.4 997.7,848.3 998.2,848.0 998.7,848.0 999.3,846.9 999.8,847.9 1000.4,846.4 1000.9,846.9 1001.5,847.9 1002.0,848.3 1002.5,847.0 1003.1,848.4 1003.6,847.6 1004.2,846.9 1004.7,848.0 1005.3,848.1 1005.8,847.6 1006.3,847.8 1006.9,849.2 1007.4,847.4 1008.0,847.0 1008.5,847.6 1009.0,848.1 1009.6,847.8 1010.1,848.5 1010.7,848.1 1011.2,848.1 1011.8,847.3 1012.3,848.7 1012.8,847.0 1013.4,848.8 1013.9,847.0 1014.5,847.2 1015.0,847.6 1015.6,849.0 1016.1,847.4 1016.6,848.6 1017.2,847.8 1017.7,847.2 1018.3,848.4 1018.8,847.7 1019.3,847.5 1019.9,848.5 1020.4,848.1 1021.0,848.1 1021.5,848.0 1022.1,849.5 1022.6,847.1 1023.1,847.7 1023.7,847.4 1024.2,847.5 1024.8,846.8 1025.3,847.7 1025.9,848.0 1026.4,847.8 1026.9,847.3 1027.5,847.0 1028.0,847.9 1028.6,847.4 1029.1,848.0 1029.6,847.9 1030.2,848.9 1030.7,847.7 1031.3,848.5 1031.8,847.7 1032.4,848.3 1032.9,848.2 1033.4,848.3 1034.0,847.0 1034.5,847.8 1035.1,847.1 1035.6,848.1 1036.1,847.5 1036.7,847.7 1037.2,846.9 1037.8,847.8 1038.3,848.2 1038.9,847.9 1039.4,848.2 1039.9,848.6 1040.5,848.2 1041.0,848.5 1041.6,846.8 1042.1,847.2 1042.7,846.9 1043.2,847.9 1043.7,848.4 1044.3,848.4 1044.8,848.0 1045.4,847.2 1045.9,847.5 1046.4,846.2 1047.0,847.0 1047.5,847.7 1048.1,847.4 1048.6,847.7 1049.2,848.4 1049.7,847.6 1050.2,847.6 1050.8,847.4 1051.3,849.3 1051.9,848.0 1052.4,848.0 1053.0,848.7 1053.5,848.4 1054.0,847.7 1054.6,847.4 1055.1,848.2 1055.7,848.4 1056.2,848.7 1056.7,848.1 1057.3,847.3 1057.8,846.7 1058.4,847.2 1058.9,848.0 1059.5,847.8 1060.0,847.4 1060.5,847.2 1061.1,847.5 1061.6,848.1 1062.2,847.7 1062.7,846.5 1063.3,847.1 1063.8,848.1 1064.3,846.9 1064.9,847.7 1065.4,846.8 1066.0,846.2 1066.5,848.1 1067.0,847.1 1067.6,847.9 1068.1,846.9 1068.7,847.3 1069.2,848.4 1069.8,847.7 1070.3,847.2 1070.8,847.3 1071.4,846.3 1071.9,847.6 1072.5,848.0 1073.0,848.6 1073.6,846.3 1074.1,846.5 1074.6,846.5 1075.2,846.4 1075.7,845.8 1076.3,846.2 1076.8,846.8 1077.3,845.8 1077.9,847.3 1078.4,844.6 1079.0,845.3 1079.5,845.8 1080.1,845.4 1080.6,844.9 1081.1,846.2 1081.7,846.1 1082.2,845.4 1082.8,844.8 1083.3,843.8 1083.9,843.3 1084.4,844.5 1084.9,844.5 1085.5,844.0 1086.0,843.4 1086.6,843.0 1087.1,842.6 1087.6,843.2 1088.2,840.8 1088.7,841.0 1089.3,841.1 1089.8,840.9 1090.4,840.2 1090.9,840.3 1091.4,839.5 1092.0,838.7 1092.5,837.9 1093.1,837.0 1093.6,837.5 1094.2,837.9 1094.7,837.3 1095.2,834.7 1095.8,835.4 1096.3,834.3 1096.9,834.4 1097.4,832.9 1097.9,834.7 1098.5,831.9 1099.0,831.7 1099.6,832.6 1100.1,832.3 1100.7,830.4 1101.2,829.0 1101.7,830.4 1102.3,829.5 1102.8,828.8 1103.4,828.4 1103.9,827.4 1104.4,827.9 1105.0,827.1 1105.5,827.7 1106.1,826.8 1106.6,827.7 1107.2,826.9 1107.7,826.8 1108.2,826.2 1108.8,826.9 1109.3,826.3 1109.9,825.8 1110.4,825.0 1111.0,826.2 1111.5,826.0 1112.0,827.1 1112.6,826.8 1113.1,826.1 1113.7,825.1 1114.2,826.9 1114.7,827.8 1115.3,826.8 1115.8,826.4 1116.4,826.9 1116.9,826.1 1117.5,827.1 1118.0,825.8 1118.5,825.3 1119.1,826.0 1119.6,827.1 1120.2,826.1 1120.7,825.4 1121.3,826.8 1121.8,826.3 1122.3,827.0 1122.9,828.2 1123.4,827.2 1124.0,827.2 1124.5,826.6 1125.0,825.5 1125.6,825.7 1126.1,825.4 1126.7,826.3 1127.2,825.8 1127.8,825.7 1128.3,825.9 1128.8,825.3 1129.4,826.2 1129.9,824.9 1130.5,827.6 1131.0,826.6 1131.6,826.4 1132.1,826.5 1132.6,826.7 1133.2,827.0 1133.7,826.2 1134.3,826.9 1134.8,827.6 1135.3,827.4 1135.9,827.9 1136.4,828.0 1137.0,829.5 1137.5,829.4 1138.1,829.0 1138.6,828.8 1139.1,830.4 1139.7,831.9 1140.2,830.8 1140.8,832.1 1141.3,832.7 1141.9,833.9 1142.4,834.0 1142.9,834.8 1143.5,834.8 1144.0,835.0 1144.6,835.8 1145.1,836.4 1145.6,836.7 1146.2,837.6 1146.7,837.4 1147.3,839.5 1147.8,838.8 1148.4,838.9 1148.9,840.1 1149.4,839.6 1150.0,840.1 1150.5,840.9 1151.1,841.4 1151.6,841.8 1152.2,841.7 1152.7,843.7 1153.2,841.5 1153.8,842.8 1154.3,844.2 1154.9,843.6 1155.4,843.7 1155.9,843.4 1156.5,845.1 1157.0,844.2 1157.6,844.9 1158.1,845.1 1158.7,844.3 1159.2,845.5 1159.7,845.6 1160.3,846.0 1160.8,844.8 1161.4,845.9 1161.9,845.6 1162.5,845.6 1163.0,847.8 1163.5,846.8 1164.1,846.6 1164.6,846.3 1165.2,845.9 1165.7,846.8 1166.2,846.0 1166.8,846.8 1167.3,847.7 1167.9,847.1 1168.4,848.0 1169.0,846.4 1169.5,847.1 1170.0,848.5 1170.6,846.3 1171.1,847.0 1171.7,848.3 1172.2,846.9 1172.8,846.9 1173.3,847.3 1173.8,846.5 1174.4,847.7 1174.9,846.0 1175.5,849.0 1176.0,847.9 1176.5,846.6 1177.1,847.9 1177.6,847.7 1178.2,847.8 1178.7,849.1 1179.3,847.8 1179.8,847.6 1180.3,847.9 1180.9,847.1 1181.4,847.2 1182.0,848.2 1182.5,849.1 1183.0,847.8 1183.6,848.6 1184.1,849.5 1184.7,847.9 1185.2,847.6 1185.8,848.6 1186.3,847.3 1186.8,847.6 1187.4,847.5 1187.9,847.7 1188.5,848.3 1189.0,846.2 1189.6,846.9 1190.1,848.2 1190.6,848.0 1191.2,848.8 1191.7,847.2 1192.3,848.7 1192.8,848.4 1193.3,848.0 1193.9,848.4 1194.4,847.6 1195.0,847.7 1195.5,847.9 1196.1,846.9 1196.6,848.0 1197.1,847.1 1197.7,849.3 1198.2,848.5 1198.8,850.7 1199.3,848.5 1199.9,847.1 1200.4,848.7 1200.9,847.7 1201.5,848.9 1202.0,849.5 1202.6,846.8 1203.1,848.5 1203.6,847.8 1204.2,848.1 1204.7,849.3 1205.3,848.8 1205.8,848.6 1206.4,847.6 1206.9,847.8 1207.4,848.1 1208.0,848.6 1208.5,848.4 1209.1,847.1 1209.6,847.3 1210.2,848.3 1210.7,849.2 1211.2,848.2 1211.8,847.7 1212.3,848.4 1212.9,847.8 1213.4,848.3 1213.9,849.1 1214.5,847.2 1215.0,848.1 1215.6,848.4 1216.1,848.5 1216.7,848.4 1217.2,848.5 1217.7,848.3 1218.3,848.9 1218.8,847.6 1219.4,848.2 1219.9,848.5 1220.5,848.8 1221.0,849.0 1221.5,849.0 1222.1,847.0 1222.6,848.5 1223.2,849.0 1223.7,848.0 1224.2,847.5 1224.8,849.0 1225.3,847.3 1225.9,847.9 1226.4,848.4 1227.0,848.0 1227.5,847.8 1228.0,847.6 1228.6,849.0 1229.1,848.1 1229.7,847.8 1230.2,847.4 1230.8,847.3 1231.3,848.0 1231.8,848.3 1232.4,846.6 1232.9,847.3 1233.5,848.1 1234.0,848.5 1234.5,849.2 1235.1,848.6 1235.6,847.9 1236.2,848.1 1236.7,847.5 1237.3,848.2 1237.8,848.3 1238.3,847.2 1238.9,848.1 1239.4,848.3 1240.0,848.3 1240.5,848.7 1241.1,848.9 1241.6,846.9 1242.1,848.0 1242.7,849.1 1243.2,848.4 1243.8,847.9 1244.3,847.8 1244.8,847.8 1245.4,848.4 1245.9,849.3 1246.5,849.6 1247.0,847.3 1247.6,848.3 1248.1,848.0 1248.6,847.7 1249.2,849.1 1249.7,847.8 1250.3,848.5 1250.8,848.4 1251.3,847.9 1251.9,849.7 1252.4,848.4 1253.0,849.3 1253.5,848.1 1254.1,847.8 1254.6,848.6 1255.1,847.8 1255.7,849.2 1256.2,848.7 1256.8,848.8 1257.3,848.0 1257.9,848.6 1258.4,848.3 1258.9,848.6 1259.5,847.7 1260.0,848.7 1260.6,847.3 1261.1,848.9 1261.6,849.2 1262.2,848.4 1262.7,848.9 1263.3,849.1 1263.8,848.8 1264.4,848.4 1264.9,847.7 1265.4,849.5 1266.0,848.0 1266.5,847.9 1267.1,849.1 1267.6,848.6 1268.2,847.6 1268.7,848.2 1269.2,848.8 1269.8,849.2 1270.3,848.4 1270.9,848.2 1271.4,848.4 1271.9,847.3 1272.5,848.4 1273.0,847.8 1273.6,848.9 1274.1,847.0 1274.7,847.7 1275.2,847.4 1275.7,848.2 1276.3,849.6 1276.8,847.8 1277.4,847.8 1277.9,848.2 1278.5,848.6 1279.0,847.6 1279.5,849.2 1280.1,848.0 1280.6,847.6 1281.2,847.3 1281.7,847.3 1282.2,847.6 1282.8,848.6 1283.3,848.2 1283.9,848.6 1284.4,848.1 1285.0,847.7 1285.5,847.1 1286.0,847.6 1286.6,848.4 1287.1,848.9 1287.7,847.3 1288.2,848.0 1288.8,848.2 1289.3,846.6 1289.8,848.7 1290.4,848.7 1290.9,848.7 1291.5,850.0 1292.0,847.2 1292.5,847.1 1293.1,847.2 1293.6,848.4 1294.2,847.7 1294.7,848.2 1295.3,846.8 1295.8,846.8 1296.3,848.0 1296.9,848.0 1297.4,846.8 1298.0,847.3 1298.5,846.6 1299.1,846.8 1299.6,846.1 1300.1,848.2 1300.7,847.4 1301.2,847.4 1301.8,847.1 1302.3,847.4 1302.8,847.2 1303.4,845.6 1303.9,845.5 1304.5,846.3 1305.0,846.2 1305.6,847.0 1306.1,846.4 1306.6,846.8 1307.2,846.2 1307.7,846.0 1308.3,845.1 1308.8,845.3 1309.4,845.3 1309.9,845.9 1310.4,845.7 1311.0,845.0 1311.5,845.9 1312.1,845.8 1312.6,844.6 1313.1,845.2 1313.7,845.7 1314.2,845.8 1314.8,844.2 1315.3,844.8 1315.9,844.8 1316.4,842.5 1316.9,843.0 1317.5,844.1 1318.0,843.8 1318.6,843.2 1319.1,842.9 1319.7,842.6 1320.2,841.6 1320.7,842.2 1321.3,843.5 1321.8,842.3 1322.4,842.8 1322.9,841.1 1323.4,841.7 1324.0,841.7 1324.5,841.7 1325.1,841.1 1325.6,840.8 1326.2,841.5 1326.7,840.0 1327.2,841.8 1327.8,840.7 1328.3,840.0 1328.9,840.3 1329.4,839.8 1329.9,839.8 1330.5,838.6 1331.0,839.5 1331.6,839.3 1332.1,839.8 1332.7,838.9 1333.2,838.0 1333.7,839.0 1334.3,839.1 1334.8,836.5 1335.4,838.2 1335.9,838.5 1336.5,837.1 1337.0,838.4 1337.5,838.0 1338.1,839.0 1338.6,837.3 1339.2,838.5 1339.7,838.9 1340.2,837.6 1340.8,836.8 1341.3,837.7 1341.9,838.0 1342.4,838.2 1343.0,837.1 1343.5,838.1 1344.0,838.3 1344.6,839.1 1345.1,840.1 1345.7,838.9 1346.2,839.1 1346.8,839.3 1347.3,838.6 1347.8,840.9 1348.4,839.5 1348.9,840.4 1349.5,841.8 1350.0,839.7 1350.5,840.9 1351.1,839.2 1351.6,841.1 1352.2,841.6 1352.7,841.2 1353.3,841.1 1353.8,843.7 1354.3,842.3 1354.9,841.9 1355.4,841.5 1356.0,841.6 1356.5,841.9 1357.1,842.3 1357.6,842.5 1358.1,842.9 1358.7,842.5 1359.2,843.6 1359.8,844.0 1360.3,844.9 1360.8,842.9 1361.4,842.9 1361.9,844.0 1362.5,844.5 1363.0,845.2 1363.6,844.1 1364.1,846.0 1364.6,845.0 1365.2,845.2 1365.7,845.1 1366.3,846.3 1366.8,845.8 1367.4,846.1 1367.9,845.8 1368.4,845.1 1369.0,846.2 1369.5,846.0 1370.1,845.7 1370.6,846.7 1371.1,846.0 1371.7,847.2 1372.2,846.9 1372.8,847.6 1373.3,845.9 1373.9,846.8 1374.4,845.6 1374.9,848.1 1375.5,846.7 1376.0,847.7 1376.6,847.6 1377.1,848.1 1377.7,846.6 1378.2,846.9 1378.7,846.2 1379.3,847.2 1379.8,847.2 1380.4,847.4 1380.9,847.5 1381.4,846.5 1382.0,848.0 1382.5,848.0 1383.1,848.9 1383.6,847.5 1384.2,847.8 1384.7,848.2 1385.2,848.6 1385.8,846.6 1386.3,848.2 1386.9,846.8 1387.4,848.6 1388.0,847.9 1388.5,848.2 1389.0,847.5 1389.6,846.7 1390.1,848.3 1390.7,849.4 1391.2,849.0 1391.7,846.9 1392.3,848.1 1392.8,847.8 1393.4,848.2 1393.9,847.9 1394.5,848.8 1395.0,848.3 1395.5,848.3 1396.1,848.3 1396.6,848.0 1397.2,847.7 1397.7,848.0 1398.2,848.7 1398.8,848.9 1399.3,848.0 1399.9,848.6 1400.4,848.0 1401.0,848.2 1401.5,848.8 1402.0,848.3 1402.6,847.6 1403.1,848.4 1403.7,848.1 1404.2,846.9 1404.8,848.9 1405.3,848.4 1405.8,847.7 1406.4,848.0 1406.9,849.0 1407.5,848.3 1408.0,847.5 1408.5,847.9 1409.1,849.6 1409.6,848.7 1410.2,847.5 1410.7,847.9 1411.3,847.8 1411.8,848.3 1412.3,847.8 1412.9,848.7 1413.4,848.8 1414.0,847.9 1414.5,849.0 1415.1,847.6 1415.6,848.7 1416.1,848.7 1416.7,849.1 1417.2,847.5 1417.8,848.1 1418.3,848.3 1418.8,847.8 1419.4,849.6 1419.9,847.7 1420.5,847.4 1421.0,849.3 1421.6,848.0 1422.1,848.0 1422.6,848.8 1423.2,847.6 1423.7,847.9 1424.3,848.1 1424.8,848.9 1425.4,848.8 1425.9,847.7 1426.4,848.1 1427.0,847.9 1427.5,848.7 1428.1,847.6 1428.6,848.7 1429.1,848.5 1429.7,849.1 1430.2,849.0 1430.8,848.7 1431.3,847.9 1431.9,847.0 1432.4,848.9 1432.9,848.7 1433.5,847.9 1434.0,847.8 1434.6,848.5 1435.1,848.3 1435.7,847.9 1436.2,848.0 1436.7,847.4 1437.3,847.8 1437.8,848.3 1438.4,847.6 1438.9,847.5 1439.4,847.5 1440.0,848.1 1440.5,848.4 1441.1,848.6 1441.6,848.3 1442.2,848.5 1442.7,849.5 1443.2,849.2 1443.8,848.4 1444.3,847.5 1444.9,847.7 1445.4,847.8 1446.0,847.3 1446.5,846.9 1447.0,848.7 1447.6,848.0 1448.1,848.0 1448.7,847.9 1449.2,848.3 1449.7,848.0 1450.3,848.7 1450.8,847.0 1451.4,847.4 1451.9,848.8 1452.5,848.3 1453.0,848.8 1453.5,847.3 1454.1,849.0 1454.6,848.1 1455.2,848.9 1455.7,847.8 1456.3,848.2 1456.8,846.9 1457.3,847.6 1457.9,847.9 1458.4,847.4 1459.0,847.9 1459.5,848.1 1460.0,848.4 1460.6,847.4 1461.1,848.3 1461.7,848.1 1462.2,847.9 1462.8,848.0 1463.3,847.2 1463.8,848.2 1464.4,846.7 1464.9,847.1 1465.5,848.0 1466.0,848.0 1466.6,846.6 1467.1,848.3 1467.6,847.4 1468.2,848.5 1468.7,847.1 1469.3,847.4 1469.8,847.3 1470.3,847.3 1470.9,848.4 1471.4,848.2 1472.0,847.4 1472.5,847.5 1473.1,848.0 1473.6,847.5 1474.1,847.5 1474.7,847.6 1475.2,847.5 1475.8,845.6 1476.3,846.1 1476.8,848.2 1477.4,847.6 1477.9,847.2 1478.5,847.7 1479.0,845.6 1479.6,846.8 1480.1,847.5 1480.6,846.8 1481.2,847.3 1481.7,845.9 1482.3,846.0 1482.8,847.0 1483.4,846.0 1483.9,847.3 1484.4,847.3 1485.0,845.2 1485.5,845.9 1486.1,846.3 1486.6,846.5 1487.1,844.3 1487.7,845.6 1488.2,846.5 1488.8,845.9 1489.3,844.9 1489.9,846.6 1490.4,845.8 1490.9,845.4 1491.5,844.7 1492.0,845.4 1492.6,844.6 1493.1,845.3 1493.7,844.1 1494.2,844.6 1494.7,845.5 1495.3,844.1 1495.8,845.1 1496.4,844.5 1496.9,843.6 1497.4,844.8 1498.0,843.2 1498.5,843.9 1499.1,843.1 1499.6,844.7 1500.2,844.2 1500.7,843.8 1501.2,845.0 1501.8,843.3 1502.3,844.2 1502.9,843.8 1503.4,844.2 1504.0,843.8 1504.5,844.4 1505.0,843.1 1505.6,843.9 1506.1,843.7 1506.7,843.3 1507.2,844.0 1507.7,844.3 1508.3,843.4 1508.8,844.4 1509.4,843.2 1509.9,844.0 1510.5,844.3 1511.0,844.7 1511.5,844.0 1512.1,844.0 1512.6,843.9 1513.2,844.0 1513.7,844.3 1514.3,845.4 1514.8,843.3 1515.3,845.3 1515.9,844.7 1516.4,844.7 1517.0,844.4 1517.5,844.8 1518.0,844.2 1518.6,845.0 1519.1,845.1 1519.7,844.7 1520.2,845.0 1520.8,845.1 1521.3,844.8 1521.8,846.0 1522.4,845.3 1522.9,844.2 1523.5,845.8 1524.0,844.6 1524.6,844.1 1525.1,844.5 1525.6,845.0 1526.2,845.4 1526.7,845.3 1527.3,844.6 1527.8,845.6 1528.3,845.5 1528.9,845.3 1529.4,845.4 1530.0,845.3 1530.5,845.6 1531.1,845.7 1531.6,845.1 1532.1,845.0 1532.7,844.2 1533.2,845.0 1533.8,845.1 1534.3,845.1 1534.9,843.8 1535.4,845.5 1535.9,844.1 1536.5,844.3 1537.0,845.9 1537.6,843.6 1538.1,844.7 1538.6,844.7 1539.2,845.6 1539.7,845.9 1540.3,843.9 1540.8,844.3 1541.4,844.6 1541.9,844.1 1542.4,845.4 1543.0,845.2 1543.5,843.4 1544.1,843.9 1544.6,845.1 1545.2,844.6 1545.7,844.2 1546.2,843.0 1546.8,844.5 1547.3,843.4 1547.9,844.2 1548.4,844.8 1548.9,845.3 1549.5,844.3 1550.0,844.8 1550.6,845.3 1551.1,845.2 1551.7,846.0 1552.2,844.9 1552.7,845.2 1553.3,844.5 1553.8,844.9 1554.4,845.1 1554.9,845.6 1555.4,845.6 1556.0,846.7 1556.5,845.9 1557.1,846.3 1557.6,846.2 1558.2,845.3 1558.7,844.4 1559.2,846.7 1559.8,846.5 1560.3,846.2 1560.9,846.3 1561.4,845.3 1562.0,848.2 1562.5,844.9 1563.0,846.9 1563.6,846.3 1564.1,846.1 1564.7,847.0 1565.2,846.9 1565.7,847.2 1566.3,847.5 1566.8,846.2 1567.4,846.2 1567.9,847.4 1568.5,846.5 1569.0,847.1 1569.5,847.8 1570.1,847.6 1570.6,846.1 1571.2,847.9 1571.7,847.8 1572.3,847.5 1572.8,847.2 1573.3,847.4 1573.9,848.0 1574.4,847.7 1575.0,847.3 1575.5,847.5 1576.0,849.3 1576.6,847.2 1577.1,848.0 1577.7,848.5 1578.2,848.6 1578.8,847.9 1579.3,846.8 1579.8,848.0 1580.4,848.7 1580.9,846.3 1581.5,847.9 1582.0,847.9 1582.6,848.5 1583.1,847.9 1583.6,847.4 1584.2,848.3 1584.7,847.1 1585.3,847.7 1585.8,847.5 1586.3,848.6 1586.9,848.5 1587.4,848.6 1588.0,847.2 1588.5,848.0 1589.1,849.6 1589.6,847.3 1590.1,848.9 1590.7,848.6 1591.2,848.5 1591.8,846.7 1592.3,848.8 1592.9,848.5 1593.4,849.1 1593.9,847.5 1594.5,848.2 1595.0,848.8 1595.6,848.8 1596.1,849.1 1596.6,848.7 1597.2,847.8 1597.7,847.6 1598.3,848.7 1598.8,848.3 1599.4,848.8 1599.9,848.2 1600.4,847.7 1601.0,848.2 1601.5,848.1 1602.1,848.1 1602.6,847.5 1603.2,847.3 1603.7,848.4 1604.2,848.3 1604.8,848.6 1605.3,848.3 1605.9,848.2 1606.4,847.0 1606.9,849.3 1607.5,849.7 1608.0,848.3 1608.6,847.9 1609.1,848.5 1609.7,848.2 1610.2,849.4 1610.7,847.9 1611.3,848.9 1611.8,847.8 1612.4,847.3 1612.9,848.1 1613.5,849.9 1614.0,848.8 1614.5,848.3 1615.1,847.9 1615.6,847.8 1616.2,848.1 1616.7,849.6 1617.2,848.7 1617.8,847.0 1618.3,848.0 1618.9,848.5 1619.4,847.5 1620.0,847.9 1620.5,849.0 1621.0,847.8 1621.6,848.2 1622.1,848.4 1622.7,849.1 1623.2,848.8 1623.7,849.6 1624.3,847.8 1624.8,848.5 1625.4,848.5 1625.9,848.9 1626.5,846.9 1627.0,847.9 1627.5,848.3 1628.1,847.9 1628.6,846.1 1629.2,847.3 1629.7,848.4 1630.3,848.9 1630.8,847.5 1631.3,848.3 1631.9,847.5 1632.4,847.7 1633.0,847.2 1633.5,847.3 1634.0,848.9 1634.6,847.9 1635.1,847.5 1635.7,848.4 1636.2,847.5 1636.8,848.3 1637.3,847.8 1637.8,848.0 1638.4,847.1 1638.9,847.9 1639.5,847.9 1640.0,848.2 1640.6,848.3 1641.1,847.1 1641.6,848.0 1642.2,846.9 1642.7,847.2 1643.3,847.8 1643.8,847.0 1644.3,847.2 1644.9,847.2 1645.4,847.2 1646.0,846.5 1646.5,847.4 1647.1,845.9 1647.6,845.7 1648.1,847.3 1648.7,846.4 1649.2,845.9 1649.8,844.7 1650.3,846.9 1650.9,845.0 1651.4,845.3 1651.9,846.6 1652.5,846.9 1653.0,844.8 1653.6,845.5 1654.1,846.1 1654.6,844.3 1655.2,846.0 1655.7,843.7 1656.3,844.9 1656.8,844.7 1657.4,844.9 1657.9,845.3 1658.4,843.6 1659.0,843.2 1659.5,844.5 1660.1,845.2 1660.6,843.3 1661.2,842.5 1661.7,843.4 1662.2,844.8 1662.8,842.3 1663.3,843.5 1663.9,843.8 1664.4,842.3 1664.9,843.1 1665.5,842.4 1666.0,841.6 1666.6,842.1 1667.1,843.3 1667.7,842.5 1668.2,843.0 1668.7,842.5 1669.3,841.4 1669.8,842.1 1670.4,841.5 1670.9,841.4 1671.5,841.4 1672.0,842.0 1672.5,841.9 1673.1,841.8 1673.6,843.1 1674.2,841.7 1674.7,842.7 1675.2,842.5 1675.8,842.7 1676.3,842.5 1676.9,843.7 1677.4,841.9 1678.0,841.8 1678.5,842.5 1679.0,841.6 1679.6,843.6 1680.1,842.6 1680.7,843.4 1681.2,843.2 1681.8,844.1 1682.3,842.4 1682.8,842.7 1683.4,843.6 1683.9,843.3 1684.5,843.3 1685.0,842.8 1685.5,843.1 1686.1,844.0 1686.6,843.0 1687.2,843.2 1687.7,843.5 1688.3,845.1 1688.8,844.0 1689.3,844.6 1689.9,844.2 1690.4,845.0 1691.0,845.5 1691.5,844.2 1692.1,843.7 1692.6,844.2 1693.1,845.0 1693.7,844.1 1694.2,845.2 1694.8,844.6 1695.3,845.1 1695.8,845.3 1696.4,844.1 1696.9,845.5 1697.5,846.0 1698.0,845.8 1698.6,844.8 1699.1,844.8 1699.6,845.3 1700.2,845.2 1700.7,844.9 1701.3,845.6 1701.8,845.4 1702.3,844.5 1702.9,845.6 1703.4,845.9 1704.0,845.8 1704.5,844.8 1705.1,845.6 1705.6,845.2 1706.1,845.9 1706.7,845.4 1707.2,847.0 1707.8,846.4 1708.3,846.4 1708.9,846.4 1709.4,845.5 1709.9,846.8 1710.5,846.4 1711.0,846.3 1711.6,846.4 1712.1,846.2 1712.6,847.0 1713.2,847.1 1713.7,846.8 1714.3,845.6 1714.8,846.8 1715.4,846.7 1715.9,847.8 1716.4,846.8 1717.0,846.1 1717.5,847.7 1718.1,846.8 1718.6,846.6 1719.2,846.4 1719.7,848.1 1720.2,847.5 1720.8,847.3 1721.3,847.3 1721.9,848.8 1722.4,848.0 1722.9,847.9 1723.5,847.9 1724.0,848.2 1724.6,848.8 1725.1,847.9 1725.7,849.2 1726.2,847.2 1726.7,848.2 1727.3,848.3 1727.8,847.8 1728.4,849.0 1728.9,848.7 1729.5,848.6 1730.0,847.8 1730.5,847.7 1731.1,847.9 1731.6,849.5 1732.2,848.2 1732.7,848.5 1733.2,848.5 1733.8,848.2 1734.3,847.7 1734.9,847.7 1735.4,849.8 1736.0,847.8 1736.5,848.3 1737.0,848.1 1737.6,848.4 1738.1,848.5 1738.7,847.2 1739.2,847.9 1739.8,847.2 1740.3,847.0 1740.8,847.9 1741.4,847.5 1741.9,848.3 1742.5,849.2 1743.0,847.6 1743.5,847.9 1744.1,847.9 1744.6,846.6 1745.2,847.7 1745.7,848.8 1746.3,848.2 1746.8,849.1 1747.3,848.5 1747.9,848.8 1748.4,849.1 1749.0,848.2 1749.5,847.4 1750.1,848.8 1750.6,848.7 1751.1,848.6 1751.7,849.8 1752.2,847.8 1752.8,849.6 1753.3,847.7 1753.8,847.9 1754.4,848.6 1754.9,848.8 1755.5,848.7 1756.0,849.0 1756.6,848.3 1757.1,848.4 1757.6,847.4 1758.2,848.8 1758.7,848.0 1759.3,847.5 1759.8,847.4 1760.4,847.6 1760.9,850.4 1761.4,848.3 1762.0,848.8 1762.5,847.8 1763.1,848.7 1763.6,847.8 1764.1,848.6 1764.7,849.3 1765.2,848.6 1765.8,849.5 1766.3,848.0 1766.9,848.6 1767.4,848.6 1767.9,849.6 1768.5,849.7 1769.0,848.1 1769.6,848.4 1770.1,849.0 1770.6,848.2 1771.2,849.3 1771.7,848.1 1772.3,848.9 1772.8,848.2 1773.4,847.5 1773.9,850.0 1774.4,848.2 1775.0,849.1 1775.5,847.5 1776.1,849.7 1776.6,849.0 1777.2,848.3 1777.7,849.1 1778.2,847.7 1778.8,848.7 1779.3,848.1 1779.9,848.7 1780.4,848.4 1780.9,847.1 1781.5,848.2 1782.0,848.6 1782.6,847.9 1783.1,849.4 1783.7,849.0 1784.2,848.4 1784.7,848.9 1785.3,848.0 1785.8,848.7 1786.4,847.9 1786.9,848.5 1787.5,848.5 1788.0,848.1 1788.5,848.5 1789.1,848.9 1789.6,848.4 1790.2,848.6 1790.7,847.6 1791.2,847.8 1791.8,848.3 1792.3,847.9 1792.9,848.8 1793.4,848.8 1794.0,848.6 1794.5,848.8 1795.0,848.7 1795.6,848.8 1796.1,848.1 1796.7,847.4 1797.2,848.5 1797.8,848.3 1798.3,848.1 1798.8,848.5 1799.4,848.4 1799.9,847.6 1800.5,848.9 1801.0,848.2 1801.5,848.2 1802.1,849.4 1802.6,847.8 1803.2,848.0 1803.7,848.3 1804.3,849.0 1804.8,848.6 1805.3,848.4 1805.9,847.8" stroke="#c4bc58" stroke-width="5.2"/>
<path d="M177.0,1013.0 177.5,1013.8 178.1,1014.3 178.6,1013.0 179.1,1012.9 179.7,1013.7 180.2,1013.1 180.8,1013.6 181.3,1014.1 181.9,1013.4 182.4,1013.7 182.9,1011.5 183.5,1013.7 184.0,1012.9 184.6,1012.4 185.1,1012.9 185.6,1012.3 186.2,1012.3 186.7,1011.7 187.3,1012.6 187.8,1012.2 188.4,1012.5 188.9,1013.6 189.4,1013.1 190.0,1012.2 190.5,1013.4 191.1,1013.7 191.6,1013.1 192.2,1013.1 192.7,1013.0 193.2,1012.4 193.8,1013.7 194.3,1013.4 194.9,1013.0 195.4,1013.0 195.9,1013.0 196.5,1014.0 197.0,1012.9 197.6,1011.9 198.1,1013.1 198.7,1013.6 199.2,1013.5 199.7,1012.8 200.3,1012.0 200.8,1014.4 201.4,1012.4 201.9,1013.1 202.5,1013.0 203.0,1012.6 203.5,1012.8 204.1,1012.3 204.6,1012.5 205.2,1012.7 205.7,1013.0 206.2,1014.6 206.8,1012.4 207.3,1013.8 207.9,1013.1 208.4,1012.8 209.0,1012.1 209.5,1013.0 210.0,1012.3 210.6,1013.2 211.1,1013.3 211.7,1012.2 212.2,1013.8 212.8,1012.9 213.3,1013.1 213.8,1013.2 214.4,1012.8 214.9,1013.7 215.5,1014.1 216.0,1013.2 216.5,1013.7 217.1,1014.3 217.6,1013.6 218.2,1013.0 218.7,1013.9 219.3,1013.2 219.8,1013.0 220.3,1012.2 220.9,1013.2 221.4,1012.6 222.0,1013.3 222.5,1011.7 223.0,1012.3 223.6,1014.1 224.1,1014.2 224.7,1013.3 225.2,1013.3 225.8,1011.5 226.3,1013.4 226.8,1012.6 227.4,1011.6 227.9,1012.4 228.5,1012.3 229.0,1013.5 229.6,1013.2 230.1,1014.6 230.6,1014.0 231.2,1013.1 231.7,1013.4 232.3,1012.2 232.8,1013.6 233.3,1012.8 233.9,1013.2 234.4,1013.3 235.0,1013.1 235.5,1012.8 236.1,1013.6 236.6,1013.6 237.1,1011.4 237.7,1012.7 238.2,1013.0 238.8,1012.7 239.3,1013.2 239.9,1013.7 240.4,1013.2 240.9,1013.0 241.5,1013.8 242.0,1013.4 242.6,1013.3 243.1,1014.5 243.6,1013.9 244.2,1012.5 244.7,1014.1 245.3,1012.7 245.8,1013.3 246.4,1011.9 246.9,1013.8 247.4,1012.0 248.0,1013.5 248.5,1014.5 249.1,1013.6 249.6,1013.2 250.2,1012.5 250.7,1012.9 251.2,1013.7 251.8,1011.6 252.3,1012.4 252.9,1013.9 253.4,1012.8 253.9,1013.9 254.5,1013.5 255.0,1012.5 255.6,1013.0 256.1,1014.0 256.7,1012.9 257.2,1013.1 257.7,1013.5 258.3,1012.8 258.8,1013.0 259.4,1013.5 259.9,1013.0 260.5,1013.2 261.0,1013.6 261.5,1014.4 262.1,1013.2 262.6,1012.8 263.2,1015.2 263.7,1013.9 264.2,1012.0 264.8,1012.9 265.3,1012.2 265.9,1013.8 266.4,1012.5 267.0,1012.9 267.5,1014.4 268.0,1012.8 268.6,1013.3 269.1,1013.5 269.7,1013.9 270.2,1014.0 270.8,1014.3 271.3,1012.8 271.8,1013.5 272.4,1012.1 272.9,1013.2 273.5,1013.1 274.0,1014.4 274.5,1013.4 275.1,1012.9 275.6,1012.9 276.2,1012.5 276.7,1012.8 277.3,1012.6 277.8,1013.0 278.3,1012.6 278.9,1013.0 279.4,1013.7 280.0,1012.2 280.5,1012.4 281.1,1012.0 281.6,1014.2 282.1,1013.9 282.7,1013.1 283.2,1012.8 283.8,1012.1 284.3,1013.3 284.8,1012.7 285.4,1012.9 285.9,1012.6 286.5,1010.6 287.0,1011.3 287.6,1012.0 288.1,1012.7 288.6,1011.6 289.2,1012.3 289.7,1011.9 290.3,1011.3 290.8,1012.3 291.3,1011.1 291.9,1010.9 292.4,1012.7 293.0,1012.5 293.5,1011.6 294.1,1012.0 294.6,1010.7 295.1,1010.8 295.7,1011.1 296.2,1010.9 296.8,1010.8 297.3,1009.3 297.9,1010.6 298.4,1008.9 298.9,1009.3 299.5,1010.7 300.0,1009.1 300.6,1007.6 301.1,1007.6 301.6,1006.1 302.2,1005.4 302.7,1004.3 303.3,1003.5 303.8,1002.3 304.4,1001.2 304.9,1000.4 305.4,997.2 306.0,994.6 306.5,990.8 307.1,989.2 307.6,984.8 308.2,981.6 308.7,976.0 309.2,971.9 309.8,964.6 310.3,958.4 310.9,951.6 311.4,944.1 311.9,936.4 312.5,927.8 313.0,917.2 313.6,908.3 314.1,898.7 314.7,889.5 315.2,878.7 315.7,869.2 316.3,859.1 316.8,849.0 317.4,838.2 317.9,832.2 318.5,823.4 319.0,815.9 319.5,810.9 320.1,806.1 320.6,803.7 321.2,801.9 321.7,804.3 322.2,804.8 322.8,808.8 323.3,813.1 323.9,820.4 324.4,828.2 325.0,835.7 325.5,844.1 326.0,854.4 326.6,864.1 327.1,875.0 327.7,884.9 328.2,895.1 328.8,904.8 329.3,914.4 329.8,923.9 330.4,933.6 330.9,941.1 331.5,949.3 332.0,955.8 332.5,962.5 333.1,968.0 333.6,974.2 334.2,978.8 334.7,982.2 335.3,987.0 335.8,990.0 336.3,993.9 336.9,996.4 337.4,999.9 338.0,1001.1 338.5,1002.4 339.1,1004.0 339.6,1005.2 340.1,1006.3 340.7,1007.9 341.2,1008.0 341.8,1009.2 342.3,1010.3 342.8,1009.9 343.4,1010.7 343.9,1012.2 344.5,1011.8 345.0,1011.5 345.6,1012.4 346.1,1012.1 346.6,1012.0 347.2,1013.3 347.7,1012.3 348.3,1012.7 348.8,1013.2 349.4,1014.0 349.9,1014.0 350.4,1013.4 351.0,1013.9 351.5,1013.8 352.1,1014.7 352.6,1014.5 353.1,1013.9 353.7,1015.0 354.2,1013.8 354.8,1014.5 355.3,1013.6 355.9,1015.5 356.4,1014.9 356.9,1015.5 357.5,1016.9 358.0,1015.5 358.6,1015.5 359.1,1015.1 359.7,1015.7 360.2,1015.3 360.7,1016.0 361.3,1016.0 361.8,1016.0 362.4,1015.7 362.9,1015.8 363.4,1015.9 364.0,1015.9 364.5,1016.4 365.1,1015.7 365.6,1016.0 366.2,1016.5 366.7,1017.4 367.2,1016.5 367.8,1016.3 368.3,1016.3 368.9,1017.4 369.4,1016.1 369.9,1016.2 370.5,1016.5 371.0,1016.1 371.6,1016.5 372.1,1017.0 372.7,1016.6 373.2,1015.6 373.7,1017.2 374.3,1017.5 374.8,1016.7 375.4,1018.2 375.9,1017.2 376.5,1017.3 377.0,1016.3 377.5,1018.8 378.1,1018.6 378.6,1018.1 379.2,1018.5 379.7,1016.9 380.2,1017.1 380.8,1017.7 381.3,1017.5 381.9,1016.8 382.4,1017.7 383.0,1018.1 383.5,1017.5 384.0,1018.6 384.6,1017.9 385.1,1017.4 385.7,1017.2 386.2,1017.1 386.8,1018.4 387.3,1017.0 387.8,1018.3 388.4,1018.3 388.9,1017.1 389.5,1018.4 390.0,1018.1 390.5,1019.2 391.1,1018.4 391.6,1018.0 392.2,1018.5 392.7,1019.0 393.3,1017.6 393.8,1017.7 394.3,1018.8 394.9,1019.6 395.4,1017.4 396.0,1019.3 396.5,1018.6 397.1,1018.9 397.6,1018.8 398.1,1018.1 398.7,1018.0 399.2,1019.9 399.8,1017.6 400.3,1018.5 400.8,1019.4 401.4,1018.4 401.9,1019.0 402.5,1018.5 403.0,1018.0 403.6,1018.9 404.1,1018.5 404.6,1018.1 405.2,1019.0 405.7,1018.3 406.3,1018.7 406.8,1018.2 407.4,1019.5 407.9,1019.2 408.4,1018.8 409.0,1018.5 409.5,1018.4 410.1,1018.5 410.6,1018.0 411.1,1019.6 411.7,1018.0 412.2,1019.2 412.8,1019.2 413.3,1018.4 413.9,1018.5 414.4,1017.7 414.9,1018.4 415.5,1018.2 416.0,1019.1 416.6,1018.1 417.1,1018.2 417.7,1019.0 418.2,1017.4 418.7,1018.1 419.3,1019.3 419.8,1018.4 420.4,1019.1 420.9,1016.6 421.4,1018.1 422.0,1018.4 422.5,1017.6 423.1,1019.0 423.6,1017.5 424.2,1018.1 424.7,1018.7 425.2,1018.5 425.8,1018.3 426.3,1017.8 426.9,1018.5 427.4,1017.9 428.0,1019.3 428.5,1018.2 429.0,1017.7 429.6,1019.1 430.1,1019.5 430.7,1018.6 431.2,1018.0 431.7,1017.3 432.3,1017.9 432.8,1018.9 433.4,1018.7 433.9,1017.1 434.5,1018.4 435.0,1017.2 435.5,1018.6 436.1,1019.3 436.6,1018.0 437.2,1018.9 437.7,1017.8 438.2,1018.0 438.8,1018.7 439.3,1018.7 439.9,1017.8 440.4,1018.9 441.0,1018.0 441.5,1016.0 442.0,1018.4 442.6,1018.4 443.1,1016.1 443.7,1017.8 444.2,1018.4 444.8,1018.0 445.3,1017.3 445.8,1017.2 446.4,1017.7 446.9,1017.5 447.5,1018.1 448.0,1017.8 448.5,1018.5 449.1,1017.1 449.6,1017.7 450.2,1017.6 450.7,1017.1 451.3,1017.5 451.8,1015.8 452.3,1016.5 452.9,1017.8 453.4,1016.7 454.0,1016.1 454.5,1016.5 455.1,1015.5 455.6,1014.5 456.1,1015.0 456.7,1015.1 457.2,1013.9 457.8,1014.7 458.3,1013.3 458.8,1012.6 459.4,1011.7 459.9,1012.8 460.5,1012.3 461.0,1009.3 461.6,1009.3 462.1,1008.1 462.6,1008.5 463.2,1006.9 463.7,1006.7 464.3,1005.1 464.8,1003.7 465.4,1004.4 465.9,1002.6 466.4,1001.5 467.0,1000.2 467.5,1000.2 468.1,1000.0 468.6,998.4 469.1,999.5 469.7,998.7 470.2,997.4 470.8,997.5 471.3,996.8 471.9,997.5 472.4,996.6 472.9,997.0 473.5,999.6 474.0,998.8 474.6,999.9 475.1,999.5 475.7,1001.1 476.2,1001.6 476.7,1001.2 477.3,1003.2 477.8,1004.3 478.4,1005.1 478.9,1006.8 479.4,1007.3 480.0,1006.9 480.5,1008.1 481.1,1009.2 481.6,1010.1 482.2,1010.8 482.7,1010.5 483.2,1012.2 483.8,1012.4 484.3,1011.7 484.9,1012.2 485.4,1013.1 486.0,1013.9 486.5,1014.0 487.0,1014.5 487.6,1014.6 488.1,1015.5 488.7,1016.4 489.2,1016.6 489.7,1015.4 490.3,1017.2 490.8,1017.7 491.4,1016.5 491.9,1018.3 492.5,1017.3 493.0,1016.6 493.5,1018.4 494.1,1017.4 494.6,1017.3 495.2,1018.9 495.7,1018.7 496.3,1017.6 496.8,1017.4 497.3,1017.9 497.9,1018.1 498.4,1018.5 499.0,1016.4 499.5,1018.3 500.0,1018.2 500.6,1017.9 501.1,1018.3 501.7,1018.6 502.2,1017.2 502.8,1017.3 503.3,1018.1 503.8,1018.1 504.4,1018.2 504.9,1018.5 505.5,1019.6 506.0,1018.0 506.6,1018.5 507.1,1018.9 507.6,1018.1 508.2,1018.1 508.7,1018.6 509.3,1018.7 509.8,1017.9 510.3,1018.7 510.9,1018.7 511.4,1018.6 512.0,1019.0 512.5,1017.5 513.1,1019.0 513.6,1018.1 514.1,1018.4 514.7,1018.3 515.2,1017.8 515.8,1018.8 516.3,1019.8 516.8,1018.6 517.4,1019.3 517.9,1018.0 518.5,1018.1 519.0,1018.5 519.6,1018.2 520.1,1018.1 520.6,1019.0 521.2,1018.9 521.7,1019.1 522.3,1018.7 522.8,1018.5 523.4,1018.3 523.9,1019.3 524.4,1018.6 525.0,1019.4 525.5,1019.3 526.1,1020.0 526.6,1018.4 527.1,1019.6 527.7,1018.0 528.2,1019.6 528.8,1019.2 529.3,1019.6 529.9,1017.5 530.4,1019.8 530.9,1018.6 531.5,1018.6 532.0,1017.7 532.6,1018.2 533.1,1019.5 533.7,1019.8 534.2,1019.1 534.7,1018.3 535.3,1019.1 535.8,1017.7 536.4,1018.5 536.9,1018.3 537.4,1019.4 538.0,1017.7 538.5,1018.4 539.1,1019.0 539.6,1019.1 540.2,1017.9 540.7,1018.4 541.2,1017.3 541.8,1019.3 542.3,1018.4 542.9,1018.4 543.4,1018.3 544.0,1019.7 544.5,1018.6 545.0,1018.1 545.6,1019.4 546.1,1019.1 546.7,1018.7 547.2,1018.1 547.7,1018.7 548.3,1019.0 548.8,1018.6 549.4,1018.6 549.9,1019.3 550.5,1018.2 551.0,1019.2 551.5,1018.5 552.1,1017.9 552.6,1019.3 553.2,1019.2 553.7,1018.2 554.3,1018.2 554.8,1019.5 555.3,1018.8 555.9,1017.6 556.4,1018.2 557.0,1019.0 557.5,1018.4 558.0,1019.4 558.6,1018.5 559.1,1019.1 559.7,1018.8 560.2,1019.0 560.8,1018.9 561.3,1018.8 561.8,1018.0 562.4,1019.5 562.9,1018.5 563.5,1018.1 564.0,1019.8 564.6,1018.4 565.1,1019.7 565.6,1017.4 566.2,1019.0 566.7,1018.8 567.3,1018.3 567.8,1019.5 568.3,1018.1 568.9,1018.8 569.4,1018.4 570.0,1019.3 570.5,1018.1 571.1,1018.9 571.6,1018.8 572.1,1017.4 572.7,1020.7 573.2,1018.9 573.8,1019.0 574.3,1019.3 574.9,1018.5 575.4,1018.4 575.9,1017.3 576.5,1018.4 577.0,1018.7 577.6,1019.1 578.1,1018.8 578.6,1018.9 579.2,1018.8 579.7,1018.9 580.3,1018.9 580.8,1018.8 581.4,1019.3 581.9,1017.7 582.4,1018.4 583.0,1019.2 583.5,1018.6 584.1,1018.1 584.6,1018.5 585.1,1018.6 585.7,1018.7 586.2,1019.9 586.8,1019.6 587.3,1018.4 587.9,1018.8 588.4,1019.9 588.9,1018.3 589.5,1019.1 590.0,1018.4 590.6,1018.0 591.1,1018.5 591.7,1018.6 592.2,1019.4 592.7,1018.1 593.3,1019.4 593.8,1018.4 594.4,1018.4 594.9,1017.9 595.4,1017.1 596.0,1018.5 596.5,1017.9 597.1,1018.5 597.6,1018.2 598.2,1017.0 598.7,1017.9 599.2,1018.2 599.8,1018.2 600.3,1018.2 600.9,1018.1 601.4,1017.5 602.0,1017.9 602.5,1017.6 603.0,1017.8 603.6,1017.8 604.1,1017.6 604.7,1018.8 605.2,1016.7 605.7,1016.1 606.3,1017.4 606.8,1016.5 607.4,1016.8 607.9,1016.3 608.5,1016.4 609.0,1015.6 609.5,1015.3 610.1,1016.6 610.6,1015.8 611.2,1014.1 611.7,1014.2 612.3,1014.9 612.8,1013.9 613.3,1012.8 613.9,1013.5 614.4,1013.5 615.0,1012.6 615.5,1012.8 616.0,1012.2 616.6,1013.4 617.1,1013.8 617.7,1012.7 618.2,1012.3 618.8,1013.3 619.3,1013.1 619.8,1013.2 620.4,1012.7 620.9,1013.1 621.5,1013.1 622.0,1013.4 622.6,1013.9 623.1,1013.8 623.6,1015.4 624.2,1014.3 624.7,1014.1 625.3,1014.5 625.8,1015.1 626.3,1015.2 626.9,1013.7 627.4,1013.7 628.0,1013.6 628.5,1014.0 629.1,1014.0 629.6,1014.8 630.1,1014.5 630.7,1012.9 631.2,1011.6 631.8,1011.9 632.3,1012.1 632.9,1012.3 633.4,1012.4 633.9,1011.0 634.5,1012.0 635.0,1011.8 635.6,1009.4 636.1,1009.8 636.6,1011.5 637.2,1009.9 637.7,1009.8 638.3,1012.0 638.8,1009.5 639.4,1009.0 639.9,1007.5 640.4,1008.6 641.0,1008.8 641.5,1007.8 642.1,1009.1 642.6,1007.4 643.2,1008.7 643.7,1007.9 644.2,1007.1 644.8,1007.7 645.3,1008.0 645.9,1007.3 646.4,1005.6 646.9,1006.7 647.5,1005.6 648.0,1005.9 648.6,1005.5 649.1,1004.4 649.7,1004.5 650.2,1002.9 650.7,1003.4 651.3,1001.6 651.8,1001.6 652.4,1000.5 652.9,999.0 653.5,999.3 654.0,996.5 654.5,997.1 655.1,995.2 655.6,994.3 656.2,993.3 656.7,991.7 657.2,991.4 657.8,989.4 658.3,987.3 658.9,988.2 659.4,986.5 660.0,987.4 660.5,986.0 661.0,985.7 661.6,984.6 662.1,985.8 662.7,984.7 663.2,984.7 663.7,984.8 664.3,985.7 664.8,987.5 665.4,987.9 665.9,988.3 666.5,988.8 667.0,989.9 667.5,991.9 668.1,992.2 668.6,993.1 669.2,995.0 669.7,994.9 670.3,996.0 670.8,995.8 671.3,997.3 671.9,998.3 672.4,999.4 673.0,1000.5 673.5,1000.5 674.0,1001.9 674.6,1002.8 675.1,1002.6 675.7,1003.5 676.2,1004.3 676.8,1003.6 677.3,1005.7 677.8,1005.1 678.4,1005.9 678.9,1005.2 679.5,1007.0 680.0,1007.3 680.6,1007.3 681.1,1007.2 681.6,1008.4 682.2,1007.5 682.7,1009.3 683.3,1009.6 683.8,1010.0 684.3,1010.6 684.9,1010.0 685.4,1010.7 686.0,1011.3 686.5,1011.5 687.1,1010.9 687.6,1011.7 688.1,1011.8 688.7,1012.6 689.2,1012.9 689.8,1013.7 690.3,1013.9 690.9,1014.4 691.4,1013.7 691.9,1015.1 692.5,1015.0 693.0,1016.7 693.6,1015.3 694.1,1013.8 694.6,1016.5 695.2,1014.9 695.7,1015.8 696.3,1015.9 696.8,1016.1 697.4,1017.4 697.9,1017.1 698.4,1017.0 699.0,1016.6 699.5,1016.8 700.1,1017.2 700.6,1017.5 701.2,1017.2 701.7,1016.2 702.2,1017.7 702.8,1017.6 703.3,1017.1 703.9,1018.0 704.4,1018.2 704.9,1017.6 705.5,1019.4 706.0,1017.2 706.6,1017.8 707.1,1018.0 707.7,1017.9 708.2,1018.5 708.7,1017.3 709.3,1017.1 709.8,1018.9 710.4,1017.6 710.9,1017.9 711.5,1018.0 712.0,1018.1 712.5,1017.8 713.1,1016.7 713.6,1017.1 714.2,1017.3 714.7,1017.6 715.2,1018.1 715.8,1016.5 716.3,1017.3 716.9,1017.2 717.4,1017.3 718.0,1015.8 718.5,1016.3 719.0,1017.0 719.6,1016.6 720.1,1016.9 720.7,1017.1 721.2,1017.7 721.8,1016.6 722.3,1016.7 722.8,1017.0 723.4,1018.2 723.9,1017.2 724.5,1018.7 725.0,1018.5 725.5,1018.3 726.1,1017.5 726.6,1018.3 727.2,1018.4 727.7,1018.3 728.3,1017.7 728.8,1018.2 729.3,1018.2 729.9,1018.4 730.4,1019.0 731.0,1018.5 731.5,1018.3 732.1,1020.1 732.6,1019.4 733.1,1020.4 733.7,1019.8 734.2,1018.9 734.8,1019.6 735.3,1019.4 735.8,1019.5 736.4,1019.6 736.9,1019.3 737.5,1019.9 738.0,1020.0 738.6,1018.1 739.1,1019.7 739.6,1019.7 740.2,1019.1 740.7,1020.4 741.3,1019.7 741.8,1020.3 742.3,1020.5 742.9,1020.3 743.4,1019.2 744.0,1019.5 744.5,1019.5 745.1,1018.8 745.6,1019.4 746.1,1020.0 746.7,1018.6 747.2,1019.9 747.8,1018.8 748.3,1018.7 748.9,1019.7 749.4,1018.8 749.9,1020.2 750.5,1020.1 751.0,1019.8 751.6,1019.2 752.1,1019.6 752.6,1020.4 753.2,1020.6 753.7,1019.1 754.3,1018.3 754.8,1019.4 755.4,1019.7 755.9,1019.8 756.4,1020.1 757.0,1019.0 757.5,1019.0 758.1,1018.9 758.6,1020.0 759.2,1019.5 759.7,1020.1 760.2,1020.0 760.8,1020.0 761.3,1019.6 761.9,1019.9 762.4,1019.3 762.9,1019.9 763.5,1019.8 764.0,1019.8 764.6,1019.8 765.1,1019.8 765.7,1019.5 766.2,1019.5 766.7,1019.3 767.3,1018.5 767.8,1020.0 768.4,1020.4 768.9,1018.4 769.5,1020.6 770.0,1020.2 770.5,1019.6 771.1,1019.3 771.6,1019.3 772.2,1018.8 772.7,1018.8 773.2,1018.9 773.8,1019.3 774.3,1017.8 774.9,1018.5 775.4,1018.1 776.0,1018.2 776.5,1017.8 777.0,1018.1 777.6,1018.4 778.1,1017.7 778.7,1018.6 779.2,1018.3 779.8,1017.8 780.3,1018.6 780.8,1017.3 781.4,1017.5 781.9,1016.8 782.5,1016.5 783.0,1018.6 783.5,1017.2 784.1,1016.7 784.6,1017.3 785.2,1017.5 785.7,1016.6 786.3,1017.1 786.8,1018.3 787.3,1017.9 787.9,1017.3 788.4,1016.6 789.0,1018.5 789.5,1018.5 790.1,1017.5 790.6,1017.7 791.1,1018.5 791.7,1018.8 792.2,1018.9 792.8,1018.5 793.3,1018.3 793.8,1018.5 794.4,1018.4 794.9,1019.0 795.5,1019.7 796.0,1018.6 796.6,1018.4 797.1,1019.0 797.6,1019.7 798.2,1018.5 798.7,1019.3 799.3,1018.9 799.8,1018.7 800.4,1020.3 800.9,1019.6 801.4,1019.3 802.0,1019.7 802.5,1019.6 803.1,1020.0 803.6,1020.4 804.1,1019.4 804.7,1020.5 805.2,1019.6 805.8,1020.1 806.3,1019.2 806.9,1019.2 807.4,1020.1 807.9,1020.0 808.5,1019.8 809.0,1020.1 809.6,1019.4 810.1,1020.7 810.6,1021.1 811.2,1020.1 811.7,1020.4 812.3,1019.9 812.8,1020.6 813.4,1020.0 813.9,1019.8 814.4,1020.1 815.0,1019.7 815.5,1020.0 816.1,1020.4 816.6,1019.6 817.2,1020.5 817.7,1019.9 818.2,1020.4 818.8,1019.5 819.3,1019.4 819.9,1020.5 820.4,1019.9 820.9,1020.4 821.5,1021.2 822.0,1020.7 822.6,1019.9 823.1,1021.3 823.7,1019.7 824.2,1019.0 824.7,1021.7 825.3,1019.9 825.8,1020.8 826.4,1019.8 826.9,1020.7 827.5,1020.3 828.0,1021.9 828.5,1020.0 829.1,1021.1 829.6,1020.4 830.2,1020.8 830.7,1020.4 831.2,1020.3 831.8,1019.3 832.3,1020.5 832.9,1019.1 833.4,1020.2 834.0,1020.7 834.5,1020.2 835.0,1020.6 835.6,1021.0 836.1,1020.8 836.7,1020.2 837.2,1020.2 837.8,1020.8 838.3,1020.3 838.8,1020.0 839.4,1019.7 839.9,1020.1 840.5,1020.1 841.0,1019.7 841.5,1020.4 842.1,1020.3 842.6,1019.2 843.2,1019.3 843.7,1020.5 844.3,1020.6 844.8,1020.7 845.3,1020.2 845.9,1020.1 846.4,1019.6 847.0,1020.3 847.5,1019.2 848.1,1018.8 848.6,1020.0 849.1,1019.9 849.7,1020.9 850.2,1019.4 850.8,1019.5 851.3,1019.5 851.8,1019.4 852.4,1020.4 852.9,1020.2 853.5,1020.5 854.0,1019.6 854.6,1020.0 855.1,1020.6 855.6,1019.6 856.2,1019.1 856.7,1018.4 857.3,1020.0 857.8,1019.6 858.4,1018.5 858.9,1019.7 859.4,1020.4 860.0,1020.8 860.5,1019.2 861.1,1020.1 861.6,1019.8 862.1,1020.0 862.7,1019.6 863.2,1018.3 863.8,1020.4 864.3,1019.8 864.9,1019.3 865.4,1019.3 865.9,1019.3 866.5,1019.6 867.0,1019.5 867.6,1017.9 868.1,1018.8 868.7,1018.6 869.2,1019.1 869.7,1018.4 870.3,1018.6 870.8,1017.4 871.4,1018.1 871.9,1017.9 872.4,1018.8 873.0,1018.7 873.5,1018.9 874.1,1017.4 874.6,1017.8 875.2,1018.0 875.7,1018.6 876.2,1018.0 876.8,1018.1 877.3,1017.7 877.9,1018.4 878.4,1017.5 879.0,1017.1 879.5,1017.3 880.0,1017.6 880.6,1017.4 881.1,1016.0 881.7,1016.4 882.2,1015.9 882.7,1016.1 883.3,1015.5 883.8,1017.5 884.4,1016.2 884.9,1015.7 885.5,1015.7 886.0,1016.3 886.5,1015.5 887.1,1015.9 887.6,1016.4 888.2,1016.5 888.7,1016.1 889.2,1015.8 889.8,1017.9 890.3,1016.0 890.9,1016.3 891.4,1016.1 892.0,1017.7 892.5,1016.0 893.0,1016.7 893.6,1015.4 894.1,1016.4 894.7,1017.5 895.2,1016.7 895.8,1016.3 896.3,1016.5 896.8,1017.6 897.4,1018.0 897.9,1017.4 898.5,1016.8 899.0,1017.6 899.5,1017.5 900.1,1017.7 900.6,1018.5 901.2,1017.6 901.7,1017.1 902.3,1019.3 902.8,1017.0 903.3,1017.9 903.9,1018.2 904.4,1017.2 905.0,1019.5 905.5,1018.9 906.1,1017.8 906.6,1017.5 907.1,1018.5 907.7,1019.5 908.2,1019.0 908.8,1017.9 909.3,1018.6 909.8,1018.2 910.4,1018.1 910.9,1018.4 911.5,1017.8 912.0,1017.7 912.6,1018.4 913.1,1017.7 913.6,1017.8 914.2,1017.7 914.7,1017.1 915.3,1018.1 915.8,1017.3 916.4,1016.4 916.9,1016.9 917.4,1015.6 918.0,1017.1 918.5,1015.2 919.1,1016.2 919.6,1015.4 920.1,1015.8 920.7,1015.3 921.2,1015.0 921.8,1015.3 922.3,1013.2 922.9,1013.3 923.4,1011.8 923.9,1012.7 924.5,1011.8 925.0,1011.1 925.6,1009.8 926.1,1008.3 926.7,1006.2 927.2,1004.6 927.7,1004.5 928.3,1002.4 928.8,999.4 929.4,998.9 929.9,995.8 930.4,993.8 931.0,991.9 931.5,988.7 932.1,987.4 932.6,984.8 933.2,981.3 933.7,978.3 934.2,976.7 934.8,974.5 935.3,973.4 935.9,969.3 936.4,968.6 937.0,966.5 937.5,965.6 938.0,964.1 938.6,964.6 939.1,965.8 939.7,965.5 940.2,965.5 940.7,968.1 941.3,969.1 941.8,971.6 942.4,974.2 942.9,975.8 943.5,978.8 944.0,982.7 944.5,984.8 945.1,986.3 945.6,987.7 946.2,991.3 946.7,993.6 947.3,995.8 947.8,998.1 948.3,999.6 948.9,1002.8 949.4,1003.4 950.0,1005.3 950.5,1007.8 951.0,1007.7 951.6,1008.4 952.1,1009.2 952.7,1011.3 953.2,1011.8 953.8,1013.6 954.3,1012.4 954.8,1013.4 955.4,1014.1 955.9,1015.0 956.5,1014.6 957.0,1014.5 957.5,1016.7 958.1,1014.9 958.6,1015.7 959.2,1015.1 959.7,1017.4 960.3,1015.7 960.8,1017.5 961.3,1017.8 961.9,1016.2 962.4,1018.4 963.0,1017.6 963.5,1016.9 964.1,1019.0 964.6,1018.0 965.1,1018.2 965.7,1018.2 966.2,1017.8 966.8,1018.1 967.3,1018.1 967.8,1017.7 968.4,1017.4 968.9,1018.6 969.5,1018.1 970.0,1017.6 970.6,1018.1 971.1,1018.0 971.6,1019.3 972.2,1018.7 972.7,1017.5 973.3,1018.5 973.8,1018.3 974.4,1018.2 974.9,1019.1 975.4,1018.4 976.0,1017.8 976.5,1018.8 977.1,1018.2 977.6,1018.9 978.1,1018.2 978.7,1020.0 979.2,1019.8 979.8,1018.7 980.3,1019.9 980.9,1018.6 981.4,1018.8 981.9,1020.0 982.5,1018.6 983.0,1019.4 983.6,1019.0 984.1,1019.9 984.7,1019.0 985.2,1018.2 985.7,1019.4 986.3,1019.1 986.8,1019.1 987.4,1019.4 987.9,1019.7 988.4,1018.6 989.0,1018.3 989.5,1018.6 990.1,1018.3 990.6,1018.5 991.2,1020.2 991.7,1018.8 992.2,1018.9 992.8,1019.2 993.3,1018.9 993.9,1018.3 994.4,1019.2 995.0,1018.9 995.5,1020.4 996.0,1019.9 996.6,1018.7 997.1,1019.6 997.7,1018.7 998.2,1019.5 998.7,1017.6 999.3,1018.6 999.8,1019.4 1000.4,1019.3 1000.9,1019.3 1001.5,1019.4 1002.0,1019.9 1002.5,1020.4 1003.1,1018.8 1003.6,1020.0 1004.2,1019.6 1004.7,1018.9 1005.3,1019.2 1005.8,1020.2 1006.3,1019.3 1006.9,1018.9 1007.4,1019.0 1008.0,1018.9 1008.5,1017.9 1009.0,1018.1 1009.6,1019.0 1010.1,1019.2 1010.7,1020.4 1011.2,1019.2 1011.8,1019.8 1012.3,1018.9 1012.8,1019.1 1013.4,1020.2 1013.9,1018.6 1014.5,1019.2 1015.0,1020.4 1015.6,1018.6 1016.1,1018.1 1016.6,1018.8 1017.2,1019.5 1017.7,1019.4 1018.3,1019.4 1018.8,1020.4 1019.3,1019.1 1019.9,1019.6 1020.4,1018.6 1021.0,1018.7 1021.5,1019.4 1022.1,1019.1 1022.6,1019.2 1023.1,1018.4 1023.7,1019.4 1024.2,1019.6 1024.8,1018.9 1025.3,1019.8 1025.9,1020.0 1026.4,1017.0 1026.9,1019.4 1027.5,1019.9 1028.0,1019.8 1028.6,1018.8 1029.1,1018.3 1029.6,1018.7 1030.2,1019.3 1030.7,1019.9 1031.3,1019.0 1031.8,1019.6 1032.4,1019.6 1032.9,1018.6 1033.4,1019.5 1034.0,1019.4 1034.5,1019.3 1035.1,1019.4 1035.6,1018.8 1036.1,1019.7 1036.7,1018.7 1037.2,1019.9 1037.8,1019.5 1038.3,1019.1 1038.9,1018.8 1039.4,1019.4 1039.9,1018.6 1040.5,1018.7 1041.0,1018.2 1041.6,1019.0 1042.1,1019.6 1042.7,1018.8 1043.2,1019.0 1043.7,1018.4 1044.3,1018.9 1044.8,1018.8 1045.4,1019.9 1045.9,1019.5 1046.4,1018.7 1047.0,1019.6 1047.5,1019.7 1048.1,1018.3 1048.6,1019.3 1049.2,1019.4 1049.7,1019.1 1050.2,1018.4 1050.8,1019.4 1051.3,1018.6 1051.9,1019.0 1052.4,1019.1 1053.0,1018.9 1053.5,1019.2 1054.0,1019.1 1054.6,1019.6 1055.1,1018.7 1055.7,1018.9 1056.2,1019.1 1056.7,1020.4 1057.3,1020.3 1057.8,1018.0 1058.4,1019.2 1058.9,1020.8 1059.5,1018.9 1060.0,1019.7 1060.5,1019.3 1061.1,1017.9 1061.6,1018.7 1062.2,1018.4 1062.7,1019.1 1063.3,1020.0 1063.8,1017.8 1064.3,1018.1 1064.9,1018.6 1065.4,1018.5 1066.0,1019.0 1066.5,1018.8 1067.0,1018.1 1067.6,1018.0 1068.1,1019.0 1068.7,1019.2 1069.2,1018.1 1069.8,1018.8 1070.3,1018.4 1070.8,1018.2 1071.4,1017.7 1071.9,1017.7 1072.5,1018.4 1073.0,1018.6 1073.6,1018.1 1074.1,1017.6 1074.6,1016.7 1075.2,1017.4 1075.7,1016.6 1076.3,1016.8 1076.8,1017.9 1077.3,1015.5 1077.9,1015.9 1078.4,1016.5 1079.0,1015.5 1079.5,1015.7 1080.1,1016.2 1080.6,1015.5 1081.1,1015.6 1081.7,1014.8 1082.2,1013.4 1082.8,1014.1 1083.3,1012.8 1083.9,1012.5 1084.4,1012.7 1084.9,1011.3 1085.5,1009.8 1086.0,1010.2 1086.6,1008.2 1087.1,1007.0 1087.6,1007.4 1088.2,1006.3 1088.7,1006.1 1089.3,1004.7 1089.8,1004.5 1090.4,1003.8 1090.9,1000.8 1091.4,1001.4 1092.0,999.7 1092.5,999.2 1093.1,997.5 1093.6,996.4 1094.2,994.5 1094.7,994.8 1095.2,992.9 1095.8,992.6 1096.3,993.5 1096.9,992.5 1097.4,991.3 1097.9,992.2 1098.5,991.1 1099.0,990.3 1099.6,989.7 1100.1,991.2 1100.7,991.4 1101.2,993.1 1101.7,991.6 1102.3,991.3 1102.8,992.7 1103.4,992.2 1103.9,993.6 1104.4,994.9 1105.0,995.3 1105.5,996.0 1106.1,997.0 1106.6,998.6 1107.2,998.4 1107.7,999.0 1108.2,999.9 1108.8,1000.6 1109.3,1001.8 1109.9,1000.5 1110.4,1002.6 1111.0,1002.9 1111.5,1003.7 1112.0,1004.5 1112.6,1004.4 1113.1,1004.3 1113.7,1003.9 1114.2,1004.6 1114.7,1004.5 1115.3,1003.7 1115.8,1003.6 1116.4,1003.5 1116.9,1002.5 1117.5,1001.7 1118.0,1002.6 1118.5,1000.8 1119.1,1000.2 1119.6,1000.5 1120.2,999.3 1120.7,997.9 1121.3,996.4 1121.8,995.2 1122.3,994.7 1122.9,992.6 1123.4,992.7 1124.0,991.9 1124.5,990.3 1125.0,988.9 1125.6,990.0 1126.1,987.3 1126.7,986.7 1127.2,986.7 1127.8,986.5 1128.3,985.6 1128.8,984.6 1129.4,984.8 1129.9,985.5 1130.5,984.6 1131.0,985.0 1131.6,985.7 1132.1,985.2 1132.6,986.3 1133.2,986.3 1133.7,987.6 1134.3,987.9 1134.8,989.4 1135.3,990.9 1135.9,991.9 1136.4,993.2 1137.0,994.0 1137.5,994.6 1138.1,995.8 1138.6,998.2 1139.1,999.4 1139.7,1000.0 1140.2,1001.3 1140.8,1003.9 1141.3,1004.7 1141.9,1004.8 1142.4,1005.3 1142.9,1007.3 1143.5,1007.8 1144.0,1008.3 1144.6,1009.0 1145.1,1011.0 1145.6,1011.4 1146.2,1012.0 1146.7,1012.3 1147.3,1013.2 1147.8,1013.7 1148.4,1012.3 1148.9,1014.8 1149.4,1015.3 1150.0,1014.9 1150.5,1015.9 1151.1,1015.4 1151.6,1015.8 1152.2,1014.8 1152.7,1018.3 1153.2,1017.4 1153.8,1017.4 1154.3,1016.8 1154.9,1017.0 1155.4,1017.7 1155.9,1018.2 1156.5,1018.2 1157.0,1017.7 1157.6,1019.1 1158.1,1019.1 1158.7,1018.4 1159.2,1020.3 1159.7,1019.3 1160.3,1018.1 1160.8,1018.5 1161.4,1018.0 1161.9,1019.1 1162.5,1018.3 1163.0,1020.1 1163.5,1019.7 1164.1,1019.8 1164.6,1019.8 1165.2,1018.5 1165.7,1018.0 1166.2,1019.1 1166.8,1019.8 1167.3,1019.4 1167.9,1019.9 1168.4,1019.1 1169.0,1019.4 1169.5,1018.1 1170.0,1019.5 1170.6,1019.1 1171.1,1020.7 1171.7,1019.9 1172.2,1020.4 1172.8,1018.6 1173.3,1018.8 1173.8,1018.9 1174.4,1019.5 1174.9,1019.6 1175.5,1019.1 1176.0,1019.9 1176.5,1018.9 1177.1,1019.7 1177.6,1020.0 1178.2,1019.7 1178.7,1019.3 1179.3,1020.3 1179.8,1019.6 1180.3,1019.8 1180.9,1020.0 1181.4,1019.8 1182.0,1020.2 1182.5,1018.9 1183.0,1020.1 1183.6,1019.1 1184.1,1019.7 1184.7,1021.5 1185.2,1020.5 1185.8,1020.4 1186.3,1020.6 1186.8,1019.8 1187.4,1020.0 1187.9,1019.9 1188.5,1020.8 1189.0,1018.9 1189.6,1020.7 1190.1,1019.6 1190.6,1020.3 1191.2,1020.1 1191.7,1019.6 1192.3,1019.6 1192.8,1019.2 1193.3,1020.8 1193.9,1020.5 1194.4,1020.2 1195.0,1020.2 1195.5,1021.2 1196.1,1019.9 1196.6,1019.7 1197.1,1020.3 1197.7,1020.3 1198.2,1020.5 1198.8,1020.6 1199.3,1019.4 1199.9,1020.5 1200.4,1021.2 1200.9,1021.7 1201.5,1021.0 1202.0,1019.7 1202.6,1020.6 1203.1,1020.3 1203.6,1021.9 1204.2,1019.6 1204.7,1020.6 1205.3,1021.7 1205.8,1019.5 1206.4,1020.4 1206.9,1019.5 1207.4,1020.7 1208.0,1020.8 1208.5,1020.4 1209.1,1020.1 1209.6,1021.3 1210.2,1019.6 1210.7,1021.0 1211.2,1020.1 1211.8,1021.0 1212.3,1020.9 1212.9,1019.8 1213.4,1020.7 1213.9,1019.8 1214.5,1021.9 1215.0,1020.4 1215.6,1021.0 1216.1,1021.1 1216.7,1021.8 1217.2,1019.8 1217.7,1021.1 1218.3,1020.3 1218.8,1020.6 1219.4,1021.0 1219.9,1021.3 1220.5,1020.4 1221.0,1020.4 1221.5,1019.9 1222.1,1022.0 1222.6,1020.3 1223.2,1023.1 1223.7,1020.6 1224.2,1021.3 1224.8,1020.4 1225.3,1020.7 1225.9,1021.0 1226.4,1020.9 1227.0,1020.7 1227.5,1020.6 1228.0,1020.9 1228.6,1020.7 1229.1,1021.5 1229.7,1021.3 1230.2,1020.0 1230.8,1020.8 1231.3,1020.8 1231.8,1021.1 1232.4,1020.2 1232.9,1021.1 1233.5,1020.7 1234.0,1020.8 1234.5,1020.8 1235.1,1020.8 1235.6,1021.5 1236.2,1020.8 1236.7,1021.0 1237.3,1021.1 1237.8,1021.5 1238.3,1019.8 1238.9,1020.0 1239.4,1020.9 1240.0,1021.3 1240.5,1020.1 1241.1,1021.3 1241.6,1020.4 1242.1,1021.1 1242.7,1020.5 1243.2,1020.7 1243.8,1021.3 1244.3,1022.0 1244.8,1020.6 1245.4,1019.8 1245.9,1021.1 1246.5,1021.2 1247.0,1020.8 1247.6,1021.2 1248.1,1020.5 1248.6,1020.6 1249.2,1021.3 1249.7,1020.7 1250.3,1021.7 1250.8,1021.5 1251.3,1020.2 1251.9,1020.3 1252.4,1021.1 1253.0,1021.2 1253.5,1020.1 1254.1,1020.3 1254.6,1021.0 1255.1,1020.7 1255.7,1020.8 1256.2,1021.6 1256.8,1021.5 1257.3,1021.1 1257.9,1020.9 1258.4,1020.6 1258.9,1021.1 1259.5,1019.3 1260.0,1020.5 1260.6,1020.8 1261.1,1020.3 1261.6,1021.2 1262.2,1019.4 1262.7,1021.4 1263.3,1020.4 1263.8,1020.3 1264.4,1021.3 1264.9,1020.3 1265.4,1021.3 1266.0,1020.9 1266.5,1021.3 1267.1,1021.5 1267.6,1021.1 1268.2,1020.7 1268.7,1021.4 1269.2,1021.2 1269.8,1020.7 1270.3,1022.0 1270.9,1020.8 1271.4,1020.7 1271.9,1021.7 1272.5,1022.1 1273.0,1021.4 1273.6,1021.1 1274.1,1020.5 1274.7,1021.5 1275.2,1019.3 1275.7,1021.0 1276.3,1021.1 1276.8,1021.5 1277.4,1020.0 1277.9,1021.1 1278.5,1019.6 1279.0,1022.2 1279.5,1020.3 1280.1,1020.3 1280.6,1019.3 1281.2,1020.8 1281.7,1020.3 1282.2,1020.8 1282.8,1019.9 1283.3,1020.8 1283.9,1019.8 1284.4,1020.5 1285.0,1019.9 1285.5,1022.2 1286.0,1020.8 1286.6,1019.6 1287.1,1020.3 1287.7,1019.5 1288.2,1019.6 1288.8,1020.3 1289.3,1020.8 1289.8,1020.3 1290.4,1019.9 1290.9,1020.3 1291.5,1020.0 1292.0,1020.2 1292.5,1020.5 1293.1,1020.2 1293.6,1018.9 1294.2,1018.8 1294.7,1019.8 1295.3,1018.9 1295.8,1018.9 1296.3,1018.4 1296.9,1017.7 1297.4,1019.2 1298.0,1018.6 1298.5,1019.4 1299.1,1018.2 1299.6,1018.6 1300.1,1019.1 1300.7,1018.0 1301.2,1018.1 1301.8,1017.7 1302.3,1018.4 1302.8,1017.3 1303.4,1018.3 1303.9,1016.4 1304.5,1016.8 1305.0,1017.8 1305.6,1017.7 1306.1,1017.1 1306.6,1015.3 1307.2,1016.5 1307.7,1015.6 1308.3,1015.8 1308.8,1016.6 1309.4,1016.2 1309.9,1015.9 1310.4,1014.7 1311.0,1014.7 1311.5,1014.8 1312.1,1015.0 1312.6,1015.1 1313.1,1016.4 1313.7,1014.7 1314.2,1013.8 1314.8,1014.9 1315.3,1013.8 1315.9,1013.3 1316.4,1012.8 1316.9,1013.0 1317.5,1013.0 1318.0,1012.8 1318.6,1012.5 1319.1,1012.4 1319.7,1010.4 1320.2,1011.8 1320.7,1010.7 1321.3,1011.1 1321.8,1010.0 1322.4,1010.6 1322.9,1009.0 1323.4,1009.8 1324.0,1008.7 1324.5,1009.0 1325.1,1008.5 1325.6,1007.2 1326.2,1006.2 1326.7,1006.3 1327.2,1007.0 1327.8,1005.3 1328.3,1005.1 1328.9,1004.9 1329.4,1003.5 1329.9,1003.3 1330.5,1003.6 1331.0,1001.4 1331.6,1002.2 1332.1,1001.8 1332.7,999.6 1333.2,1001.0 1333.7,999.1 1334.3,1000.0 1334.8,999.7 1335.4,999.2 1335.9,999.7 1336.5,999.7 1337.0,998.9 1337.5,999.0 1338.1,998.1 1338.6,999.6 1339.2,1000.7 1339.7,1000.3 1340.2,1000.9 1340.8,1002.9 1341.3,1002.0 1341.9,1002.2 1342.4,1003.8 1343.0,1004.9 1343.5,1004.7 1344.0,1004.3 1344.6,1006.1 1345.1,1007.9 1345.7,1007.9 1346.2,1010.2 1346.8,1008.9 1347.3,1010.3 1347.8,1010.6 1348.4,1012.4 1348.9,1012.9 1349.5,1012.6 1350.0,1014.0 1350.5,1014.5 1351.1,1015.4 1351.6,1015.5 1352.2,1015.9 1352.7,1015.1 1353.3,1016.7 1353.8,1015.8 1354.3,1017.9 1354.9,1017.2 1355.4,1017.2 1356.0,1017.8 1356.5,1018.3 1357.1,1018.7 1357.6,1018.6 1358.1,1019.6 1358.7,1018.0 1359.2,1018.9 1359.8,1017.6 1360.3,1019.5 1360.8,1019.6 1361.4,1019.6 1361.9,1020.3 1362.5,1019.8 1363.0,1020.6 1363.6,1018.1 1364.1,1019.6 1364.6,1020.4 1365.2,1019.3 1365.7,1019.3 1366.3,1021.3 1366.8,1021.0 1367.4,1021.4 1367.9,1020.2 1368.4,1020.6 1369.0,1020.6 1369.5,1020.1 1370.1,1021.2 1370.6,1020.6 1371.1,1020.6 1371.7,1020.5 1372.2,1020.1 1372.8,1019.6 1373.3,1021.4 1373.9,1020.0 1374.4,1020.9 1374.9,1021.0 1375.5,1021.8 1376.0,1020.7 1376.6,1021.5 1377.1,1021.7 1377.7,1022.5 1378.2,1021.9 1378.7,1021.8 1379.3,1020.7 1379.8,1021.3 1380.4,1019.6 1380.9,1019.1 1381.4,1020.1 1382.0,1021.0 1382.5,1020.5 1383.1,1021.1 1383.6,1021.9 1384.2,1020.3 1384.7,1020.0 1385.2,1021.3 1385.8,1020.7 1386.3,1020.4 1386.9,1021.8 1387.4,1020.4 1388.0,1020.5 1388.5,1020.8 1389.0,1021.2 1389.6,1021.4 1390.1,1020.8 1390.7,1020.0 1391.2,1020.7 1391.7,1022.2 1392.3,1022.1 1392.8,1021.7 1393.4,1021.5 1393.9,1020.9 1394.5,1020.3 1395.0,1021.0 1395.5,1021.8 1396.1,1020.9 1396.6,1022.1 1397.2,1020.5 1397.7,1021.2 1398.2,1021.1 1398.8,1021.9 1399.3,1021.7 1399.9,1020.5 1400.4,1019.6 1401.0,1020.4 1401.5,1022.0 1402.0,1021.7 1402.6,1022.5 1403.1,1021.1 1403.7,1022.1 1404.2,1021.2 1404.8,1021.4 1405.3,1021.1 1405.8,1022.2 1406.4,1021.4 1406.9,1021.7 1407.5,1021.5 1408.0,1021.8 1408.5,1021.8 1409.1,1021.6 1409.6,1022.0 1410.2,1020.9 1410.7,1021.4 1411.3,1020.7 1411.8,1021.3 1412.3,1020.7 1412.9,1020.6 1413.4,1020.5 1414.0,1021.1 1414.5,1021.4 1415.1,1019.9 1415.6,1020.9 1416.1,1021.5 1416.7,1020.9 1417.2,1021.9 1417.8,1021.0 1418.3,1021.2 1418.8,1021.9 1419.4,1020.7 1419.9,1020.9 1420.5,1022.0 1421.0,1021.7 1421.6,1020.6 1422.1,1020.7 1422.6,1022.0 1423.2,1021.3 1423.7,1021.5 1424.3,1022.6 1424.8,1021.0 1425.4,1021.6 1425.9,1022.2 1426.4,1021.5 1427.0,1021.0 1427.5,1021.4 1428.1,1021.4 1428.6,1020.8 1429.1,1022.1 1429.7,1020.6 1430.2,1021.3 1430.8,1020.2 1431.3,1021.5 1431.9,1021.3 1432.4,1020.9 1432.9,1021.7 1433.5,1021.8 1434.0,1021.7 1434.6,1020.0 1435.1,1022.0 1435.7,1020.9 1436.2,1020.7 1436.7,1021.7 1437.3,1022.1 1437.8,1022.3 1438.4,1021.4 1438.9,1020.6 1439.4,1021.5 1440.0,1021.3 1440.5,1020.6 1441.1,1020.2 1441.6,1021.6 1442.2,1021.0 1442.7,1019.9 1443.2,1021.8 1443.8,1020.6 1444.3,1021.7 1444.9,1020.0 1445.4,1020.8 1446.0,1019.4 1446.5,1022.0 1447.0,1021.4 1447.6,1021.0 1448.1,1021.5 1448.7,1021.5 1449.2,1021.3 1449.7,1020.4 1450.3,1021.7 1450.8,1020.9 1451.4,1021.4 1451.9,1021.0 1452.5,1021.2 1453.0,1021.4 1453.5,1021.5 1454.1,1021.8 1454.6,1022.1 1455.2,1021.5 1455.7,1021.9 1456.3,1021.0 1456.8,1021.4 1457.3,1020.5 1457.9,1021.1 1458.4,1021.5 1459.0,1020.0 1459.5,1020.4 1460.0,1020.2 1460.6,1021.1 1461.1,1021.6 1461.7,1022.0 1462.2,1021.5 1462.8,1021.3 1463.3,1021.0 1463.8,1020.6 1464.4,1020.8 1464.9,1022.5 1465.5,1020.7 1466.0,1021.3 1466.6,1022.1 1467.1,1021.4 1467.6,1020.8 1468.2,1021.4 1468.7,1021.1 1469.3,1020.9 1469.8,1021.5 1470.3,1020.7 1470.9,1021.4 1471.4,1020.7 1472.0,1020.4 1472.5,1019.5 1473.1,1020.0 1473.6,1021.4 1474.1,1021.4 1474.7,1021.4 1475.2,1022.2 1475.8,1020.3 1476.3,1020.9 1476.8,1020.9 1477.4,1020.7 1477.9,1019.6 1478.5,1019.2 1479.0,1021.5 1479.6,1020.0 1480.1,1019.7 1480.6,1020.8 1481.2,1019.5 1481.7,1019.5 1482.3,1020.2 1482.8,1019.5 1483.4,1020.0 1483.9,1020.3 1484.4,1018.8 1485.0,1019.1 1485.5,1019.1 1486.1,1017.3 1486.6,1019.5 1487.1,1017.8 1487.7,1018.9 1488.2,1017.4 1488.8,1018.6 1489.3,1017.6 1489.9,1017.0 1490.4,1018.1 1490.9,1017.0 1491.5,1017.2 1492.0,1016.2 1492.6,1016.7 1493.1,1016.7 1493.7,1016.2 1494.2,1015.9 1494.7,1015.0 1495.3,1015.5 1495.8,1015.7 1496.4,1014.0 1496.9,1013.9 1497.4,1013.2 1498.0,1012.6 1498.5,1013.4 1499.1,1012.0 1499.6,1012.9 1500.2,1012.9 1500.7,1012.7 1501.2,1012.5 1501.8,1012.6 1502.3,1011.3 1502.9,1011.2 1503.4,1012.3 1504.0,1012.5 1504.5,1011.6 1505.0,1011.2 1505.6,1012.3 1506.1,1012.4 1506.7,1012.1 1507.2,1012.6 1507.7,1013.6 1508.3,1010.9 1508.8,1012.6 1509.4,1012.8 1509.9,1014.9 1510.5,1013.9 1511.0,1013.8 1511.5,1014.7 1512.1,1014.4 1512.6,1014.4 1513.2,1013.8 1513.7,1015.6 1514.3,1015.1 1514.8,1015.3 1515.3,1015.0 1515.9,1016.1 1516.4,1016.0 1517.0,1016.8 1517.5,1015.7 1518.0,1016.7 1518.6,1015.5 1519.1,1017.2 1519.7,1017.8 1520.2,1016.5 1520.8,1017.4 1521.3,1017.3 1521.8,1016.9 1522.4,1018.4 1522.9,1017.8 1523.5,1016.6 1524.0,1016.9 1524.6,1017.2 1525.1,1016.8 1525.6,1017.1 1526.2,1016.1 1526.7,1016.7 1527.3,1015.6 1527.8,1016.5 1528.3,1015.6 1528.9,1015.9 1529.4,1014.9 1530.0,1016.0 1530.5,1014.8 1531.1,1014.6 1531.6,1015.6 1532.1,1014.2 1532.7,1013.2 1533.2,1013.4 1533.8,1013.2 1534.3,1013.5 1534.9,1013.0 1535.4,1013.1 1535.9,1011.3 1536.5,1012.2 1537.0,1012.4 1537.6,1010.8 1538.1,1011.8 1538.6,1011.3 1539.2,1010.7 1539.7,1012.0 1540.3,1010.0 1540.8,1010.9 1541.4,1011.5 1541.9,1012.0 1542.4,1011.7 1543.0,1010.2 1543.5,1010.0 1544.1,1009.9 1544.6,1011.8 1545.2,1010.5 1545.7,1011.2 1546.2,1013.2 1546.8,1011.6 1547.3,1012.3 1547.9,1012.3 1548.4,1012.0 1548.9,1012.9 1549.5,1013.6 1550.0,1014.8 1550.6,1014.4 1551.1,1014.1 1551.7,1014.7 1552.2,1014.8 1552.7,1015.6 1553.3,1015.9 1553.8,1017.2 1554.4,1015.8 1554.9,1016.8 1555.4,1017.6 1556.0,1015.7 1556.5,1019.3 1557.1,1017.6 1557.6,1017.9 1558.2,1018.6 1558.7,1018.7 1559.2,1019.4 1559.8,1019.4 1560.3,1019.2 1560.9,1019.6 1561.4,1019.7 1562.0,1019.5 1562.5,1019.0 1563.0,1019.5 1563.6,1019.4 1564.1,1019.7 1564.7,1020.8 1565.2,1021.0 1565.7,1020.1 1566.3,1020.5 1566.8,1019.3 1567.4,1020.9 1567.9,1021.1 1568.5,1020.3 1569.0,1020.8 1569.5,1019.8 1570.1,1020.2 1570.6,1021.1 1571.2,1022.3 1571.7,1021.2 1572.3,1021.4 1572.8,1021.2 1573.3,1022.1 1573.9,1021.9 1574.4,1021.1 1575.0,1020.0 1575.5,1021.0 1576.0,1019.4 1576.6,1022.0 1577.1,1021.0 1577.7,1021.5 1578.2,1022.0 1578.8,1021.9 1579.3,1020.4 1579.8,1020.3 1580.4,1021.1 1580.9,1020.5 1581.5,1021.9 1582.0,1021.5 1582.6,1021.4 1583.1,1021.1 1583.6,1022.0 1584.2,1021.5 1584.7,1022.0 1585.3,1020.6 1585.8,1020.7 1586.3,1021.8 1586.9,1022.0 1587.4,1021.3 1588.0,1021.2 1588.5,1021.1 1589.1,1022.6 1589.6,1022.1 1590.1,1021.5 1590.7,1022.1 1591.2,1021.6 1591.8,1021.5 1592.3,1021.6 1592.9,1021.2 1593.4,1020.5 1593.9,1021.8 1594.5,1021.6 1595.0,1021.2 1595.6,1021.3 1596.1,1020.8 1596.6,1021.6 1597.2,1021.6 1597.7,1021.1 1598.3,1020.9 1598.8,1021.5 1599.4,1021.3 1599.9,1021.2 1600.4,1021.1 1601.0,1021.2 1601.5,1019.8 1602.1,1021.2 1602.6,1021.7 1603.2,1020.2 1603.7,1021.9 1604.2,1020.8 1604.8,1022.4 1605.3,1021.9 1605.9,1020.8 1606.4,1021.9 1606.9,1021.2 1607.5,1022.4 1608.0,1021.2 1608.6,1022.2 1609.1,1021.6 1609.7,1021.4 1610.2,1021.9 1610.7,1021.0 1611.3,1022.1 1611.8,1022.4 1612.4,1021.8 1612.9,1021.8 1613.5,1022.1 1614.0,1022.2 1614.5,1021.8 1615.1,1022.9 1615.6,1020.8 1616.2,1021.2 1616.7,1021.3 1617.2,1022.8 1617.8,1022.5 1618.3,1021.2 1618.9,1020.5 1619.4,1020.6 1620.0,1021.8 1620.5,1019.6 1621.0,1021.4 1621.6,1021.4 1622.1,1021.6 1622.7,1022.6 1623.2,1021.8 1623.7,1021.4 1624.3,1020.9 1624.8,1021.6 1625.4,1021.6 1625.9,1022.3 1626.5,1020.5 1627.0,1020.9 1627.5,1020.9 1628.1,1021.1 1628.6,1020.2 1629.2,1021.0 1629.7,1021.7 1630.3,1021.3 1630.8,1021.1 1631.3,1021.6 1631.9,1019.7 1632.4,1021.9 1633.0,1021.0 1633.5,1022.2 1634.0,1021.8 1634.6,1020.8 1635.1,1020.8 1635.7,1021.2 1636.2,1021.5 1636.8,1020.5 1637.3,1020.9 1637.8,1022.1 1638.4,1021.6 1638.9,1020.9 1639.5,1021.4 1640.0,1021.8 1640.6,1020.3 1641.1,1020.4 1641.6,1021.0 1642.2,1020.9 1642.7,1021.3 1643.3,1020.3 1643.8,1020.3 1644.3,1019.8 1644.9,1019.5 1645.4,1019.2 1646.0,1021.2 1646.5,1019.8 1647.1,1020.4 1647.6,1019.4 1648.1,1021.2 1648.7,1020.0 1649.2,1019.7 1649.8,1020.1 1650.3,1019.3 1650.9,1018.7 1651.4,1019.8 1651.9,1018.7 1652.5,1018.3 1653.0,1018.2 1653.6,1019.3 1654.1,1018.2 1654.6,1018.3 1655.2,1017.0 1655.7,1017.9 1656.3,1017.0 1656.8,1016.2 1657.4,1015.0 1657.9,1015.7 1658.4,1015.2 1659.0,1016.3 1659.5,1014.4 1660.1,1013.8 1660.6,1014.1 1661.2,1013.8 1661.7,1012.9 1662.2,1012.3 1662.8,1013.2 1663.3,1013.2 1663.9,1011.5 1664.4,1011.7 1664.9,1011.2 1665.5,1010.3 1666.0,1010.2 1666.6,1010.7 1667.1,1010.2 1667.7,1010.3 1668.2,1010.1 1668.7,1009.9 1669.3,1008.1 1669.8,1009.6 1670.4,1009.4 1670.9,1007.5 1671.5,1008.2 1672.0,1008.9 1672.5,1009.3 1673.1,1010.7 1673.6,1009.0 1674.2,1011.4 1674.7,1009.2 1675.2,1010.6 1675.8,1008.9 1676.3,1009.9 1676.9,1009.6 1677.4,1011.0 1678.0,1011.5 1678.5,1011.6 1679.0,1011.8 1679.6,1013.6 1680.1,1013.5 1680.7,1012.3 1681.2,1013.4 1681.8,1013.6 1682.3,1014.3 1682.8,1014.4 1683.4,1015.0 1683.9,1015.8 1684.5,1015.7 1685.0,1015.5 1685.5,1015.9 1686.1,1016.2 1686.6,1015.8 1687.2,1015.0 1687.7,1016.3 1688.3,1016.1 1688.8,1017.4 1689.3,1016.0 1689.9,1017.1 1690.4,1017.3 1691.0,1016.6 1691.5,1017.9 1692.1,1017.2 1692.6,1017.4 1693.1,1017.7 1693.7,1017.2 1694.2,1017.8 1694.8,1018.5 1695.3,1017.9 1695.8,1015.8 1696.4,1018.3 1696.9,1018.9 1697.5,1016.7 1698.0,1018.1 1698.6,1017.0 1699.1,1017.7 1699.6,1017.8 1700.2,1017.9 1700.7,1018.2 1701.3,1018.4 1701.8,1018.8 1702.3,1018.3 1702.9,1017.6 1703.4,1018.1 1704.0,1018.8 1704.5,1017.2 1705.1,1019.2 1705.6,1019.5 1706.1,1018.3 1706.7,1018.4 1707.2,1019.4 1707.8,1019.6 1708.3,1018.8 1708.9,1020.3 1709.4,1019.3 1709.9,1019.6 1710.5,1020.3 1711.0,1020.7 1711.6,1021.0 1712.1,1019.9 1712.6,1020.6 1713.2,1021.0 1713.7,1021.0 1714.3,1020.8 1714.8,1020.5 1715.4,1020.9 1715.9,1021.0 1716.4,1019.8 1717.0,1021.5 1717.5,1020.9 1718.1,1021.5 1718.6,1021.3 1719.2,1021.5 1719.7,1021.6 1720.2,1020.8 1720.8,1021.8 1721.3,1021.8 1721.9,1021.4 1722.4,1021.1 1722.9,1021.8 1723.5,1021.4 1724.0,1021.5 1724.6,1021.2 1725.1,1020.9 1725.7,1022.3 1726.2,1021.1 1726.7,1020.1 1727.3,1021.5 1727.8,1021.8 1728.4,1021.9 1728.9,1022.1 1729.5,1021.6 1730.0,1020.4 1730.5,1020.6 1731.1,1021.5 1731.6,1022.2 1732.2,1022.0 1732.7,1021.2 1733.2,1022.2 1733.8,1022.3 1734.3,1021.0 1734.9,1021.9 1735.4,1022.1 1736.0,1022.1 1736.5,1021.4 1737.0,1021.2 1737.6,1021.7 1738.1,1022.2 1738.7,1022.8 1739.2,1021.1 1739.8,1021.9 1740.3,1022.3 1740.8,1021.5 1741.4,1023.5 1741.9,1022.4 1742.5,1021.8 1743.0,1020.3 1743.5,1022.2 1744.1,1021.3 1744.6,1021.6 1745.2,1021.2 1745.7,1021.4 1746.3,1021.9 1746.8,1021.5 1747.3,1022.3 1747.9,1021.4 1748.4,1023.7 1749.0,1022.0 1749.5,1021.6 1750.1,1020.5 1750.6,1021.2 1751.1,1020.4 1751.7,1022.2 1752.2,1022.1 1752.8,1021.1 1753.3,1022.2 1753.8,1020.9 1754.4,1021.9 1754.9,1022.9 1755.5,1022.1 1756.0,1022.9 1756.6,1021.5 1757.1,1021.9 1757.6,1021.3 1758.2,1022.4 1758.7,1022.3 1759.3,1022.1 1759.8,1022.7 1760.4,1021.6 1760.9,1022.1 1761.4,1022.0 1762.0,1020.8 1762.5,1021.3 1763.1,1022.6 1763.6,1022.9 1764.1,1022.1 1764.7,1022.1 1765.2,1021.5 1765.8,1021.9 1766.3,1023.8 1766.9,1020.8 1767.4,1021.6 1767.9,1021.6 1768.5,1022.8 1769.0,1022.4 1769.6,1020.4 1770.1,1021.9 1770.6,1021.6 1771.2,1022.2 1771.7,1021.5 1772.3,1022.6 1772.8,1022.1 1773.4,1022.6 1773.9,1022.3 1774.4,1021.5 1775.0,1021.8 1775.5,1022.3 1776.1,1021.6 1776.6,1021.7 1777.2,1022.0 1777.7,1022.3 1778.2,1021.3 1778.8,1023.0 1779.3,1022.7 1779.9,1021.5 1780.4,1021.9 1780.9,1022.7 1781.5,1022.6 1782.0,1021.1 1782.6,1023.5 1783.1,1022.1 1783.7,1023.3 1784.2,1021.9 1784.7,1022.5 1785.3,1021.5 1785.8,1022.5 1786.4,1021.1 1786.9,1021.9 1787.5,1021.5 1788.0,1023.6 1788.5,1020.7 1789.1,1022.3 1789.6,1021.9 1790.2,1021.3 1790.7,1021.8 1791.2,1020.8 1791.8,1021.6 1792.3,1021.5 1792.9,1021.5 1793.4,1022.3 1794.0,1021.2 1794.5,1022.4 1795.0,1021.4 1795.6,1021.6 1796.1,1021.3 1796.7,1021.7 1797.2,1020.9 1797.8,1021.6 1798.3,1021.6 1798.8,1021.8 1799.4,1023.5 1799.9,1020.9 1800.5,1022.0 1801.0,1021.2 1801.5,1022.1 1802.1,1022.1 1802.6,1021.8 1803.2,1023.1 1803.7,1022.4 1804.3,1022.3 1804.8,1022.4 1805.3,1021.1 1805.9,1021.1" stroke="#e88f33" stroke-width="4.8"/>
<path d="M177.0,1182.4 177.5,1182.0 178.1,1182.1 178.6,1181.7 179.1,1182.4 179.7,1180.8 180.2,1182.6 180.8,1181.6 181.3,1181.7 181.9,1181.1 182.4,1180.8 182.9,1181.5 183.5,1182.3 184.0,1182.0 184.6,1182.4 185.1,1181.7 185.6,1182.0 186.2,1181.7 186.7,1181.1 187.3,1181.8 187.8,1181.5 188.4,1182.3 188.9,1181.7 189.4,1181.8 190.0,1182.2 190.5,1182.4 191.1,1181.8 191.6,1181.7 192.2,1181.9 192.7,1182.5 193.2,1181.2 193.8,1181.1 194.3,1183.7 194.9,1181.7 195.4,1181.9 195.9,1180.5 196.5,1181.6 197.0,1181.8 197.6,1181.5 198.1,1181.6 198.7,1181.7 199.2,1182.0 199.7,1182.4 200.3,1181.0 200.8,1181.0 201.4,1182.2 201.9,1182.0 202.5,1181.3 203.0,1180.9 203.5,1181.3 204.1,1181.8 204.6,1182.2 205.2,1182.5 205.7,1182.3 206.2,1181.2 206.8,1183.0 207.3,1182.3 207.9,1181.8 208.4,1181.7 209.0,1182.4 209.5,1181.6 210.0,1181.6 210.6,1181.9 211.1,1182.8 211.7,1180.9 212.2,1182.5 212.8,1180.5 213.3,1181.3 213.8,1181.9 214.4,1182.5 214.9,1181.0 215.5,1182.5 216.0,1182.6 216.5,1181.6 217.1,1181.7 217.6,1181.7 218.2,1180.6 218.7,1183.4 219.3,1182.2 219.8,1181.0 220.3,1182.2 220.9,1182.2 221.4,1181.7 222.0,1182.0 222.5,1182.5 223.0,1181.5 223.6,1181.2 224.1,1183.0 224.7,1182.1 225.2,1181.6 225.8,1182.9 226.3,1180.4 226.8,1181.1 227.4,1182.3 227.9,1182.0 228.5,1182.0 229.0,1181.5 229.6,1181.4 230.1,1181.5 230.6,1181.6 231.2,1182.3 231.7,1182.5 232.3,1182.2 232.8,1182.8 233.3,1180.8 233.9,1181.8 234.4,1181.2 235.0,1183.0 235.5,1181.7 236.1,1182.3 236.6,1182.0 237.1,1181.4 237.7,1181.3 238.2,1182.2 238.8,1182.4 239.3,1181.6 239.9,1183.0 240.4,1181.9 240.9,1182.5 241.5,1182.1 242.0,1182.5 242.6,1180.9 243.1,1182.9 243.6,1182.5 244.2,1182.5 244.7,1182.8 245.3,1182.4 245.8,1181.0 246.4,1181.6 246.9,1181.2 247.4,1181.6 248.0,1182.4 248.5,1183.0 249.1,1181.1 249.6,1181.2 250.2,1182.0 250.7,1182.4 251.2,1182.2 251.8,1181.7 252.3,1182.3 252.9,1182.3 253.4,1181.6 253.9,1182.9 254.5,1181.1 255.0,1182.1 255.6,1182.1 256.1,1182.4 256.7,1182.8 257.2,1181.9 257.7,1182.1 258.3,1182.6 258.8,1183.3 259.4,1181.8 259.9,1182.7 260.5,1182.4 261.0,1181.7 261.5,1182.7 262.1,1181.7 262.6,1182.4 263.2,1182.5 263.7,1183.8 264.2,1181.8 264.8,1182.9 265.3,1182.6 265.9,1182.4 266.4,1182.2 267.0,1183.4 267.5,1182.1 268.0,1183.0 268.6,1182.4 269.1,1183.0 269.7,1183.1 270.2,1181.6 270.8,1182.0 271.3,1182.5 271.8,1182.6 272.4,1181.7 272.9,1182.9 273.5,1183.2 274.0,1182.6 274.5,1182.7 275.1,1181.8 275.6,1183.3 276.2,1183.8 276.7,1184.4 277.3,1182.7 277.8,1183.8 278.3,1182.3 278.9,1182.9 279.4,1182.7 280.0,1181.6 280.5,1182.2 281.1,1182.6 281.6,1182.6 282.1,1182.3 282.7,1182.5 283.2,1183.1 283.8,1183.2 284.3,1181.0 284.8,1182.1 285.4,1182.5 285.9,1180.9 286.5,1182.7 287.0,1183.2 287.6,1181.5 288.1,1180.8 288.6,1181.9 289.2,1183.1 289.7,1184.0 290.3,1182.4 290.8,1182.1 291.3,1181.5 291.9,1182.4 292.4,1181.4 293.0,1181.9 293.5,1182.5 294.1,1181.7 294.6,1180.9 295.1,1181.7 295.7,1182.1 296.2,1182.1 296.8,1180.1 297.3,1181.3 297.9,1181.2 298.4,1180.5 298.9,1179.8 299.5,1179.9 300.0,1179.6 300.6,1181.3 301.1,1179.8 301.6,1179.2 302.2,1179.3 302.7,1179.7 303.3,1178.3 303.8,1178.4 304.4,1177.8 304.9,1176.3 305.4,1176.8 306.0,1175.0 306.5,1174.3 307.1,1172.8 307.6,1169.7 308.2,1166.9 308.7,1163.8 309.2,1161.7 309.8,1155.4 310.3,1149.2 310.9,1143.2 311.4,1133.1 311.9,1124.6 312.5,1111.1 313.0,1098.2 313.6,1082.7 314.1,1066.1 314.7,1048.2 315.2,1028.6 315.7,1007.1 316.3,986.6 316.8,966.9 317.4,948.1 317.9,929.7 318.5,914.4 319.0,901.7 319.5,895.4 320.1,891.8 320.6,892.3 321.2,898.7 321.7,910.1 322.2,922.6 322.8,939.3 323.3,958.9 323.9,977.3 324.4,998.8 325.0,1019.4 325.5,1038.9 326.0,1058.1 326.6,1075.7 327.1,1092.0 327.7,1106.1 328.2,1119.4 328.8,1130.4 329.3,1139.3 329.8,1147.0 330.4,1152.3 330.9,1159.8 331.5,1163.7 332.0,1167.2 332.5,1170.6 333.1,1171.8 333.6,1173.5 334.2,1175.9 334.7,1174.4 335.3,1178.1 335.8,1178.5 336.3,1178.1 336.9,1179.0 337.4,1180.7 338.0,1179.9 338.5,1181.3 339.1,1181.4 339.6,1181.5 340.1,1181.7 340.7,1181.9 341.2,1182.0 341.8,1182.6 342.3,1183.2 342.8,1181.6 343.4,1184.0 343.9,1184.7 344.5,1182.4 345.0,1184.3 345.6,1183.8 346.1,1184.3 346.6,1184.0 347.2,1183.4 347.7,1184.6 348.3,1184.4 348.8,1184.7 349.4,1183.9 349.9,1184.5 350.4,1185.3 351.0,1183.8 351.5,1185.1 352.1,1183.9 352.6,1185.6 353.1,1186.5 353.7,1184.2 354.2,1185.1 354.8,1185.6 355.3,1184.6 355.9,1185.9 356.4,1185.5 356.9,1185.2 357.5,1186.1 358.0,1185.5 358.6,1187.1 359.1,1186.1 359.7,1185.6 360.2,1185.6 360.7,1184.6 361.3,1184.8 361.8,1184.6 362.4,1185.4 362.9,1185.2 363.4,1184.1 364.0,1184.8 364.5,1184.4 365.1,1183.8 365.6,1184.2 366.2,1183.3 366.7,1182.6 367.2,1182.1 367.8,1181.9 368.3,1180.1 368.9,1179.6 369.4,1179.1 369.9,1178.1 370.5,1176.3 371.0,1174.4 371.6,1171.7 372.1,1171.4 372.7,1168.1 373.2,1165.7 373.7,1164.6 374.3,1161.1 374.8,1158.6 375.4,1157.2 375.9,1155.3 376.5,1153.3 377.0,1150.4 377.5,1150.7 378.1,1149.7 378.6,1149.7 379.2,1151.0 379.7,1152.2 380.2,1152.4 380.8,1155.9 381.3,1157.3 381.9,1159.7 382.4,1161.7 383.0,1164.8 383.5,1167.6 384.0,1169.1 384.6,1170.7 385.1,1175.2 385.7,1176.3 386.2,1177.8 386.8,1179.8 387.3,1179.8 387.8,1181.1 388.4,1181.8 388.9,1183.4 389.5,1186.2 390.0,1185.9 390.5,1185.0 391.1,1186.8 391.6,1186.9 392.2,1187.5 392.7,1186.4 393.3,1187.1 393.8,1186.7 394.3,1187.5 394.9,1188.2 395.4,1187.7 396.0,1187.9 396.5,1188.6 397.1,1187.9 397.6,1187.5 398.1,1188.8 398.7,1187.2 399.2,1189.4 399.8,1187.9 400.3,1188.3 400.8,1187.9 401.4,1189.7 401.9,1189.8 402.5,1189.1 403.0,1189.3 403.6,1190.0 404.1,1189.3 404.6,1188.3 405.2,1188.6 405.7,1188.9 406.3,1187.6 406.8,1189.1 407.4,1189.1 407.9,1189.8 408.4,1189.5 409.0,1190.4 409.5,1189.2 410.1,1189.8 410.6,1190.3 411.1,1189.7 411.7,1189.9 412.2,1188.7 412.8,1190.0 413.3,1189.7 413.9,1190.6 414.4,1189.9 414.9,1190.2 415.5,1191.2 416.0,1189.3 416.6,1190.3 417.1,1189.5 417.7,1190.0 418.2,1190.2 418.7,1189.8 419.3,1190.9 419.8,1190.0 420.4,1190.3 420.9,1190.5 421.4,1190.4 422.0,1190.8 422.5,1190.1 423.1,1191.4 423.6,1191.0 424.2,1191.0 424.7,1191.0 425.2,1190.6 425.8,1190.8 426.3,1191.1 426.9,1191.5 427.4,1191.3 428.0,1190.6 428.5,1191.1 429.0,1190.2 429.6,1191.1 430.1,1190.8 430.7,1190.9 431.2,1190.9 431.7,1190.3 432.3,1190.7 432.8,1190.8 433.4,1191.1 433.9,1191.3 434.5,1190.9 435.0,1190.6 435.5,1191.8 436.1,1190.3 436.6,1192.5 437.2,1191.9 437.7,1191.3 438.2,1190.9 438.8,1191.0 439.3,1190.8 439.9,1191.9 440.4,1191.6 441.0,1190.9 441.5,1191.2 442.0,1191.2 442.6,1190.9 443.1,1191.4 443.7,1191.0 444.2,1191.8 444.8,1191.4 445.3,1190.6 445.8,1191.4 446.4,1192.2 446.9,1191.4 447.5,1191.1 448.0,1190.6 448.5,1190.9 449.1,1191.6 449.6,1191.4 450.2,1190.3 450.7,1191.6 451.3,1190.4 451.8,1191.3 452.3,1191.2 452.9,1191.3 453.4,1191.2 454.0,1190.8 454.5,1190.8 455.1,1191.5 455.6,1191.2 456.1,1192.0 456.7,1191.2 457.2,1191.8 457.8,1191.4 458.3,1191.0 458.8,1192.3 459.4,1190.6 459.9,1190.9 460.5,1191.8 461.0,1192.0 461.6,1191.4 462.1,1191.1 462.6,1191.2 463.2,1192.0 463.7,1190.2 464.3,1190.1 464.8,1190.8 465.4,1190.5 465.9,1190.9 466.4,1191.1 467.0,1190.8 467.5,1191.3 468.1,1191.1 468.6,1190.9 469.1,1191.1 469.7,1191.1 470.2,1190.9 470.8,1192.1 471.3,1191.6 471.9,1190.7 472.4,1192.3 472.9,1191.7 473.5,1190.9 474.0,1191.3 474.6,1190.5 475.1,1190.8 475.7,1190.8 476.2,1191.7 476.7,1192.7 477.3,1191.8 477.8,1191.5 478.4,1191.4 478.9,1191.9 479.4,1191.8 480.0,1190.7 480.5,1190.8 481.1,1191.1 481.6,1191.8 482.2,1191.3 482.7,1189.8 483.2,1191.6 483.8,1192.4 484.3,1191.6 484.9,1191.0 485.4,1191.7 486.0,1191.9 486.5,1191.6 487.0,1191.3 487.6,1190.4 488.1,1192.2 488.7,1190.9 489.2,1192.0 489.7,1190.9 490.3,1190.6 490.8,1192.9 491.4,1190.4 491.9,1191.7 492.5,1191.1 493.0,1192.3 493.5,1191.4 494.1,1191.5 494.6,1192.7 495.2,1191.2 495.7,1191.4 496.3,1191.8 496.8,1190.8 497.3,1191.7 497.9,1191.0 498.4,1192.1 499.0,1191.5 499.5,1190.4 500.0,1191.0 500.6,1190.7 501.1,1192.2 501.7,1190.9 502.2,1192.1 502.8,1191.0 503.3,1191.5 503.8,1191.5 504.4,1192.6 504.9,1190.9 505.5,1191.3 506.0,1190.8 506.6,1193.7 507.1,1191.4 507.6,1191.8 508.2,1191.1 508.7,1191.9 509.3,1191.8 509.8,1191.2 510.3,1191.9 510.9,1191.3 511.4,1190.8 512.0,1192.4 512.5,1192.0 513.1,1191.5 513.6,1190.4 514.1,1192.6 514.7,1191.2 515.2,1191.0 515.8,1191.3 516.3,1191.7 516.8,1191.0 517.4,1190.5 517.9,1191.6 518.5,1191.7 519.0,1191.0 519.6,1191.5 520.1,1192.1 520.6,1191.6 521.2,1191.1 521.7,1191.8 522.3,1190.9 522.8,1191.5 523.4,1191.5 523.9,1191.6 524.4,1191.9 525.0,1191.0 525.5,1191.7 526.1,1190.3 526.6,1191.5 527.1,1189.9 527.7,1191.1 528.2,1191.9 528.8,1190.1 529.3,1191.2 529.9,1191.9 530.4,1191.3 530.9,1191.0 531.5,1191.9 532.0,1191.4 532.6,1191.5 533.1,1191.1 533.7,1191.8 534.2,1191.8 534.7,1191.3 535.3,1191.9 535.8,1191.4 536.4,1192.1 536.9,1190.1 537.4,1190.5 538.0,1191.1 538.5,1192.1 539.1,1192.2 539.6,1191.4 540.2,1191.2 540.7,1192.3 541.2,1191.4 541.8,1190.6 542.3,1191.2 542.9,1191.9 543.4,1191.7 544.0,1192.6 544.5,1191.4 545.0,1192.5 545.6,1190.9 546.1,1191.7 546.7,1191.4 547.2,1192.2 547.7,1190.3 548.3,1192.0 548.8,1191.4 549.4,1191.9 549.9,1193.0 550.5,1190.5 551.0,1192.4 551.5,1191.4 552.1,1190.9 552.6,1191.7 553.2,1190.9 553.7,1191.0 554.3,1192.3 554.8,1191.9 555.3,1191.7 555.9,1192.3 556.4,1190.4 557.0,1191.4 557.5,1190.8 558.0,1191.8 558.6,1191.8 559.1,1190.7 559.7,1192.2 560.2,1192.9 560.8,1191.1 561.3,1191.9 561.8,1191.7 562.4,1190.8 562.9,1191.6 563.5,1191.3 564.0,1190.8 564.6,1191.9 565.1,1192.3 565.6,1190.3 566.2,1190.4 566.7,1191.4 567.3,1190.4 567.8,1192.5 568.3,1191.1 568.9,1192.3 569.4,1191.1 570.0,1191.3 570.5,1191.6 571.1,1192.5 571.6,1192.0 572.1,1190.5 572.7,1191.4 573.2,1191.4 573.8,1191.6 574.3,1193.1 574.9,1192.1 575.4,1191.0 575.9,1191.2 576.5,1191.4 577.0,1190.8 577.6,1191.2 578.1,1190.9 578.6,1191.9 579.2,1190.9 579.7,1193.0 580.3,1191.3 580.8,1190.3 581.4,1191.3 581.9,1191.1 582.4,1190.6 583.0,1191.9 583.5,1191.0 584.1,1191.5 584.6,1191.4 585.1,1191.3 585.7,1190.7 586.2,1190.6 586.8,1189.5 587.3,1191.7 587.9,1191.8 588.4,1191.0 588.9,1191.3 589.5,1190.7 590.0,1191.3 590.6,1190.8 591.1,1190.3 591.7,1190.5 592.2,1190.9 592.7,1190.9 593.3,1192.5 593.8,1189.5 594.4,1191.2 594.9,1191.0 595.4,1189.6 596.0,1190.6 596.5,1192.1 597.1,1189.9 597.6,1189.8 598.2,1189.6 598.7,1190.4 599.2,1189.9 599.8,1190.3 600.3,1190.3 600.9,1188.5 601.4,1188.6 602.0,1187.8 602.5,1188.1 603.0,1186.0 603.6,1186.4 604.1,1186.1 604.7,1184.9 605.2,1182.7 605.7,1181.5 606.3,1180.7 606.8,1179.0 607.4,1177.9 607.9,1176.3 608.5,1174.2 609.0,1174.9 609.5,1174.6 610.1,1172.8 610.6,1172.0 611.2,1173.2 611.7,1173.0 612.3,1173.1 612.8,1173.9 613.3,1174.0 613.9,1177.0 614.4,1178.3 615.0,1178.9 615.5,1180.3 616.0,1180.6 616.6,1182.3 617.1,1183.6 617.7,1183.8 618.2,1185.0 618.8,1185.7 619.3,1185.2 619.8,1186.1 620.4,1188.0 620.9,1187.6 621.5,1186.6 622.0,1188.4 622.6,1187.3 623.1,1187.4 623.6,1187.7 624.2,1188.4 624.7,1188.0 625.3,1185.8 625.8,1186.9 626.3,1187.2 626.9,1186.0 627.4,1184.3 628.0,1184.6 628.5,1184.1 629.1,1183.3 629.6,1182.3 630.1,1182.5 630.7,1181.6 631.2,1181.6 631.8,1181.3 632.3,1179.9 632.9,1179.6 633.4,1178.6 633.9,1179.4 634.5,1179.1 635.0,1177.8 635.6,1177.7 636.1,1175.6 636.6,1176.4 637.2,1177.1 637.7,1176.9 638.3,1177.3 638.8,1176.9 639.4,1178.4 639.9,1177.6 640.4,1177.1 641.0,1178.8 641.5,1178.5 642.1,1178.7 642.6,1178.5 643.2,1179.1 643.7,1179.5 644.2,1178.2 644.8,1179.6 645.3,1178.5 645.9,1177.5 646.4,1175.6 646.9,1175.5 647.5,1174.5 648.0,1173.5 648.6,1171.9 649.1,1170.4 649.7,1168.2 650.2,1167.5 650.7,1163.8 651.3,1161.8 651.8,1159.0 652.4,1156.3 652.9,1154.8 653.5,1151.5 654.0,1150.1 654.5,1146.4 655.1,1144.2 655.6,1142.5 656.2,1138.8 656.7,1139.4 657.2,1137.6 657.8,1137.4 658.3,1138.3 658.9,1138.4 659.4,1140.3 660.0,1142.1 660.5,1144.5 661.0,1147.1 661.6,1150.2 662.1,1152.5 662.7,1153.8 663.2,1156.5 663.7,1159.8 664.3,1163.0 664.8,1165.2 665.4,1166.8 665.9,1170.2 666.5,1171.6 667.0,1172.7 667.5,1175.4 668.1,1175.9 668.6,1178.1 669.2,1177.5 669.7,1178.9 670.3,1180.2 670.8,1181.0 671.3,1180.4 671.9,1181.4 672.4,1180.7 673.0,1181.1 673.5,1180.3 674.0,1179.0 674.6,1179.3 675.1,1178.2 675.7,1177.5 676.2,1176.3 676.8,1177.7 677.3,1176.7 677.8,1176.1 678.4,1176.7 678.9,1175.3 679.5,1175.3 680.0,1174.1 680.6,1174.8 681.1,1174.4 681.6,1175.2 682.2,1174.4 682.7,1173.7 683.3,1176.0 683.8,1175.9 684.3,1177.0 684.9,1177.3 685.4,1178.8 686.0,1179.1 686.5,1180.3 687.1,1180.9 687.6,1182.5 688.1,1184.1 688.7,1183.7 689.2,1184.8 689.8,1183.0 690.3,1186.0 690.9,1185.3 691.4,1186.3 691.9,1186.9 692.5,1187.7 693.0,1186.9 693.6,1187.5 694.1,1189.0 694.6,1189.1 695.2,1190.2 695.7,1190.2 696.3,1190.1 696.8,1189.9 697.4,1191.2 697.9,1190.9 698.4,1191.0 699.0,1189.1 699.5,1190.0 700.1,1191.4 700.6,1190.3 701.2,1191.1 701.7,1191.2 702.2,1191.3 702.8,1191.6 703.3,1190.8 703.9,1190.5 704.4,1190.6 704.9,1191.4 705.5,1191.8 706.0,1191.3 706.6,1190.2 707.1,1190.7 707.7,1191.6 708.2,1190.1 708.7,1191.5 709.3,1192.0 709.8,1191.7 710.4,1191.2 710.9,1192.7 711.5,1192.1 712.0,1191.7 712.5,1190.4 713.1,1192.4 713.6,1193.2 714.2,1192.7 714.7,1191.5 715.2,1192.0 715.8,1190.9 716.3,1191.4 716.9,1192.6 717.4,1191.6 718.0,1192.0 718.5,1192.4 719.0,1191.7 719.6,1191.0 720.1,1191.7 720.7,1192.0 721.2,1192.4 721.8,1191.7 722.3,1191.9 722.8,1192.6 723.4,1193.5 723.9,1191.7 724.5,1190.7 725.0,1192.4 725.5,1191.4 726.1,1191.6 726.6,1193.1 727.2,1192.7 727.7,1193.0 728.3,1193.5 728.8,1192.5 729.3,1192.0 729.9,1191.5 730.4,1193.3 731.0,1192.2 731.5,1192.4 732.1,1192.5 732.6,1192.6 733.1,1192.1 733.7,1191.6 734.2,1191.2 734.8,1191.3 735.3,1192.2 735.8,1192.6 736.4,1192.5 736.9,1192.3 737.5,1192.4 738.0,1191.9 738.6,1190.8 739.1,1192.7 739.6,1193.1 740.2,1194.0 740.7,1191.5 741.3,1190.4 741.8,1192.0 742.3,1191.0 742.9,1192.1 743.4,1189.7 744.0,1189.5 744.5,1189.0 745.1,1189.6 745.6,1189.6 746.1,1189.0 746.7,1189.7 747.2,1187.1 747.8,1187.6 748.3,1187.5 748.9,1185.4 749.4,1185.2 749.9,1183.6 750.5,1185.3 751.0,1182.8 751.6,1183.7 752.1,1183.1 752.6,1182.2 753.2,1183.2 753.7,1182.6 754.3,1183.9 754.8,1183.7 755.4,1184.3 755.9,1185.8 756.4,1185.7 757.0,1186.2 757.5,1187.8 758.1,1187.6 758.6,1189.6 759.2,1188.7 759.7,1189.7 760.2,1189.4 760.8,1190.0 761.3,1190.5 761.9,1190.4 762.4,1190.7 762.9,1192.4 763.5,1190.7 764.0,1191.3 764.6,1191.2 765.1,1192.1 765.7,1192.0 766.2,1192.3 766.7,1191.8 767.3,1191.9 767.8,1192.3 768.4,1192.3 768.9,1192.8 769.5,1191.2 770.0,1191.5 770.5,1191.7 771.1,1193.0 771.6,1192.9 772.2,1192.8 772.7,1193.3 773.2,1192.3 773.8,1192.2 774.3,1192.6 774.9,1192.4 775.4,1192.9 776.0,1192.3 776.5,1193.4 777.0,1191.7 777.6,1193.1 778.1,1192.9 778.7,1192.1 779.2,1192.9 779.8,1192.4 780.3,1192.2 780.8,1193.3 781.4,1192.0 781.9,1193.4 782.5,1192.1 783.0,1193.0 783.5,1194.5 784.1,1194.0 784.6,1193.1 785.2,1193.4 785.7,1191.8 786.3,1192.7 786.8,1193.3 787.3,1193.4 787.9,1193.3 788.4,1192.5 789.0,1192.6 789.5,1193.3 790.1,1193.4 790.6,1193.2 791.1,1191.4 791.7,1192.4 792.2,1192.6 792.8,1192.8 793.3,1192.4 793.8,1192.7 794.4,1191.9 794.9,1193.8 795.5,1192.6 796.0,1192.6 796.6,1192.3 797.1,1191.0 797.6,1193.1 798.2,1191.7 798.7,1193.8 799.3,1193.3 799.8,1192.8 800.4,1193.0 800.9,1192.3 801.4,1191.9 802.0,1193.6 802.5,1191.9 803.1,1192.2 803.6,1193.2 804.1,1192.2 804.7,1192.2 805.2,1193.0 805.8,1191.5 806.3,1193.5 806.9,1192.9 807.4,1192.6 807.9,1192.9 808.5,1192.3 809.0,1193.5 809.6,1191.7 810.1,1193.8 810.6,1192.8 811.2,1192.3 811.7,1192.4 812.3,1193.0 812.8,1193.6 813.4,1192.2 813.9,1193.2 814.4,1193.6 815.0,1192.1 815.5,1192.1 816.1,1192.7 816.6,1192.9 817.2,1193.2 817.7,1192.0 818.2,1191.1 818.8,1191.9 819.3,1192.6 819.9,1191.0 820.4,1192.4 820.9,1191.9 821.5,1192.7 822.0,1191.4 822.6,1192.0 823.1,1190.8 823.7,1189.5 824.2,1191.4 824.7,1191.6 825.3,1190.3 825.8,1190.2 826.4,1189.8 826.9,1190.8 827.5,1189.6 828.0,1189.6 828.5,1189.9 829.1,1190.2 829.6,1189.6 830.2,1189.4 830.7,1190.7 831.2,1190.5 831.8,1191.1 832.3,1190.2 832.9,1189.9 833.4,1190.9 834.0,1192.2 834.5,1191.5 835.0,1190.6 835.6,1191.1 836.1,1192.9 836.7,1191.5 837.2,1190.0 837.8,1192.4 838.3,1191.1 838.8,1192.7 839.4,1191.9 839.9,1193.0 840.5,1191.9 841.0,1191.9 841.5,1194.2 842.1,1192.5 842.6,1192.6 843.2,1191.9 843.7,1192.4 844.3,1193.9 844.8,1193.6 845.3,1192.8 845.9,1193.0 846.4,1192.3 847.0,1193.1 847.5,1192.1 848.1,1191.3 848.6,1193.9 849.1,1192.0 849.7,1193.0 850.2,1193.3 850.8,1192.5 851.3,1192.9 851.8,1193.0 852.4,1192.8 852.9,1192.9 853.5,1193.2 854.0,1193.0 854.6,1191.5 855.1,1193.2 855.6,1192.0 856.2,1192.5 856.7,1193.6 857.3,1193.6 857.8,1193.2 858.4,1193.1 858.9,1193.9 859.4,1193.0 860.0,1192.1 860.5,1192.1 861.1,1192.9 861.6,1193.4 862.1,1193.6 862.7,1192.5 863.2,1192.4 863.8,1193.2 864.3,1192.2 864.9,1193.2 865.4,1193.9 865.9,1192.7 866.5,1191.8 867.0,1192.6 867.6,1194.0 868.1,1193.3 868.7,1192.9 869.2,1192.4 869.7,1193.5 870.3,1192.1 870.8,1193.9 871.4,1193.0 871.9,1192.6 872.4,1194.4 873.0,1192.1 873.5,1193.3 874.1,1192.6 874.6,1192.9 875.2,1193.4 875.7,1193.2 876.2,1191.6 876.8,1193.7 877.3,1193.9 877.9,1191.9 878.4,1192.3 879.0,1193.5 879.5,1192.5 880.0,1192.4 880.6,1192.8 881.1,1192.8 881.7,1192.5 882.2,1192.9 882.7,1192.6 883.3,1192.6 883.8,1192.4 884.4,1194.7 884.9,1194.0 885.5,1191.6 886.0,1192.5 886.5,1193.2 887.1,1193.2 887.6,1192.2 888.2,1192.1 888.7,1193.0 889.2,1192.7 889.8,1192.1 890.3,1193.5 890.9,1193.1 891.4,1193.2 892.0,1192.3 892.5,1192.8 893.0,1192.6 893.6,1192.2 894.1,1192.9 894.7,1192.3 895.2,1191.8 895.8,1192.3 896.3,1192.4 896.8,1192.3 897.4,1193.0 897.9,1191.2 898.5,1192.6 899.0,1191.2 899.5,1191.6 900.1,1190.4 900.6,1191.3 901.2,1193.5 901.7,1190.4 902.3,1191.9 902.8,1191.7 903.3,1192.1 903.9,1192.9 904.4,1192.3 905.0,1192.1 905.5,1190.9 906.1,1191.1 906.6,1190.8 907.1,1191.3 907.7,1191.0 908.2,1190.6 908.8,1190.9 909.3,1191.3 909.8,1191.4 910.4,1191.5 910.9,1191.6 911.5,1191.1 912.0,1191.2 912.6,1191.4 913.1,1191.4 913.6,1190.8 914.2,1190.6 914.7,1188.9 915.3,1189.3 915.8,1189.5 916.4,1190.7 916.9,1188.5 917.4,1189.5 918.0,1190.5 918.5,1187.8 919.1,1188.4 919.6,1188.5 920.1,1187.2 920.7,1186.6 921.2,1185.9 921.8,1185.8 922.3,1183.7 922.9,1184.4 923.4,1182.4 923.9,1181.0 924.5,1180.7 925.0,1180.2 925.6,1176.5 926.1,1175.8 926.7,1172.9 927.2,1170.7 927.7,1168.2 928.3,1165.2 928.8,1160.6 929.4,1160.0 929.9,1156.3 930.4,1154.3 931.0,1148.5 931.5,1143.4 932.1,1139.8 932.6,1135.6 933.2,1133.1 933.7,1129.1 934.2,1127.0 934.8,1124.1 935.3,1121.0 935.9,1120.3 936.4,1118.2 937.0,1119.0 937.5,1119.4 938.0,1121.9 938.6,1123.8 939.1,1127.4 939.7,1129.8 940.2,1131.9 940.7,1136.7 941.3,1141.0 941.8,1144.5 942.4,1147.8 942.9,1152.4 943.5,1155.6 944.0,1159.4 944.5,1163.1 945.1,1165.2 945.6,1168.5 946.2,1170.4 946.7,1172.4 947.3,1176.6 947.8,1177.1 948.3,1179.8 948.9,1178.9 949.4,1180.4 950.0,1182.4 950.5,1185.6 951.0,1183.8 951.6,1185.3 952.1,1185.6 952.7,1186.1 953.2,1188.3 953.8,1187.5 954.3,1189.5 954.8,1188.4 955.4,1189.8 955.9,1188.6 956.5,1190.6 957.0,1188.1 957.5,1188.6 958.1,1189.5 958.6,1191.4 959.2,1190.5 959.7,1191.8 960.3,1189.8 960.8,1191.8 961.3,1190.1 961.9,1189.2 962.4,1190.7 963.0,1190.8 963.5,1191.7 964.1,1190.7 964.6,1191.3 965.1,1190.2 965.7,1190.3 966.2,1191.4 966.8,1191.7 967.3,1192.2 967.8,1192.0 968.4,1192.2 968.9,1192.6 969.5,1190.9 970.0,1191.3 970.6,1192.3 971.1,1192.3 971.6,1191.6 972.2,1191.8 972.7,1192.7 973.3,1192.1 973.8,1192.8 974.4,1191.8 974.9,1191.5 975.4,1191.8 976.0,1191.6 976.5,1192.2 977.1,1191.7 977.6,1192.8 978.1,1191.9 978.7,1191.2 979.2,1192.5 979.8,1192.1 980.3,1190.8 980.9,1191.5 981.4,1192.0 981.9,1192.6 982.5,1193.4 983.0,1192.5 983.6,1192.8 984.1,1193.8 984.7,1193.0 985.2,1192.1 985.7,1192.1 986.3,1191.8 986.8,1191.8 987.4,1191.8 987.9,1192.3 988.4,1191.2 989.0,1191.5 989.5,1191.9 990.1,1192.5 990.6,1191.7 991.2,1192.0 991.7,1192.1 992.2,1192.0 992.8,1194.0 993.3,1192.9 993.9,1192.2 994.4,1192.7 995.0,1192.4 995.5,1192.8 996.0,1192.6 996.6,1191.8 997.1,1193.0 997.7,1192.5 998.2,1192.8 998.7,1192.6 999.3,1192.7 999.8,1193.8 1000.4,1191.6 1000.9,1192.4 1001.5,1192.1 1002.0,1193.0 1002.5,1192.2 1003.1,1192.9 1003.6,1192.8 1004.2,1193.0 1004.7,1192.4 1005.3,1191.4 1005.8,1190.9 1006.3,1193.0 1006.9,1192.7 1007.4,1192.3 1008.0,1193.5 1008.5,1193.6 1009.0,1193.2 1009.6,1193.2 1010.1,1192.9 1010.7,1191.9 1011.2,1192.1 1011.8,1193.0 1012.3,1193.0 1012.8,1191.8 1013.4,1193.0 1013.9,1193.5 1014.5,1193.1 1015.0,1192.6 1015.6,1192.1 1016.1,1192.7 1016.6,1192.5 1017.2,1192.8 1017.7,1192.8 1018.3,1192.6 1018.8,1193.6 1019.3,1192.9 1019.9,1193.3 1020.4,1191.1 1021.0,1193.1 1021.5,1193.9 1022.1,1192.4 1022.6,1191.8 1023.1,1192.4 1023.7,1193.1 1024.2,1193.3 1024.8,1193.7 1025.3,1192.8 1025.9,1193.0 1026.4,1192.5 1026.9,1192.9 1027.5,1192.1 1028.0,1191.7 1028.6,1193.3 1029.1,1192.1 1029.6,1193.2 1030.2,1192.0 1030.7,1193.1 1031.3,1193.6 1031.8,1191.9 1032.4,1191.8 1032.9,1193.1 1033.4,1192.8 1034.0,1191.4 1034.5,1192.9 1035.1,1192.6 1035.6,1193.1 1036.1,1192.4 1036.7,1192.1 1037.2,1192.4 1037.8,1192.4 1038.3,1193.9 1038.9,1193.5 1039.4,1189.7 1039.9,1191.9 1040.5,1192.3 1041.0,1191.4 1041.6,1193.3 1042.1,1192.6 1042.7,1192.7 1043.2,1192.4 1043.7,1193.1 1044.3,1192.4 1044.8,1192.8 1045.4,1192.5 1045.9,1193.0 1046.4,1191.9 1047.0,1190.9 1047.5,1192.6 1048.1,1192.5 1048.6,1192.3 1049.2,1193.1 1049.7,1192.7 1050.2,1192.7 1050.8,1192.3 1051.3,1191.2 1051.9,1192.7 1052.4,1191.5 1053.0,1192.6 1053.5,1192.0 1054.0,1192.4 1054.6,1191.7 1055.1,1190.9 1055.7,1191.6 1056.2,1190.4 1056.7,1192.5 1057.3,1191.8 1057.8,1191.4 1058.4,1191.9 1058.9,1192.5 1059.5,1191.1 1060.0,1191.2 1060.5,1191.5 1061.1,1191.4 1061.6,1191.8 1062.2,1191.4 1062.7,1190.7 1063.3,1191.7 1063.8,1191.7 1064.3,1191.1 1064.9,1191.6 1065.4,1190.3 1066.0,1190.3 1066.5,1189.4 1067.0,1189.8 1067.6,1190.8 1068.1,1190.9 1068.7,1190.8 1069.2,1189.4 1069.8,1190.0 1070.3,1189.9 1070.8,1190.2 1071.4,1189.9 1071.9,1188.2 1072.5,1189.5 1073.0,1189.5 1073.6,1188.5 1074.1,1188.4 1074.6,1188.6 1075.2,1187.1 1075.7,1187.2 1076.3,1186.3 1076.8,1187.3 1077.3,1185.9 1077.9,1184.7 1078.4,1184.7 1079.0,1183.8 1079.5,1182.4 1080.1,1181.7 1080.6,1182.3 1081.1,1180.1 1081.7,1179.8 1082.2,1177.6 1082.8,1176.6 1083.3,1176.3 1083.9,1174.8 1084.4,1173.4 1084.9,1171.6 1085.5,1170.9 1086.0,1168.3 1086.6,1169.4 1087.1,1165.3 1087.6,1163.6 1088.2,1162.4 1088.7,1162.5 1089.3,1158.6 1089.8,1157.3 1090.4,1155.4 1090.9,1154.6 1091.4,1152.9 1092.0,1151.4 1092.5,1149.1 1093.1,1148.4 1093.6,1147.2 1094.2,1145.4 1094.7,1144.4 1095.2,1143.3 1095.8,1142.6 1096.3,1142.6 1096.9,1143.3 1097.4,1141.7 1097.9,1142.8 1098.5,1142.3 1099.0,1142.5 1099.6,1143.9 1100.1,1143.7 1100.7,1145.5 1101.2,1146.1 1101.7,1147.9 1102.3,1149.1 1102.8,1149.8 1103.4,1151.4 1103.9,1153.4 1104.4,1155.2 1105.0,1157.2 1105.5,1158.5 1106.1,1160.5 1106.6,1161.7 1107.2,1162.4 1107.7,1163.7 1108.2,1166.5 1108.8,1167.6 1109.3,1168.4 1109.9,1169.3 1110.4,1171.1 1111.0,1172.1 1111.5,1172.9 1112.0,1173.5 1112.6,1174.6 1113.1,1175.0 1113.7,1174.6 1114.2,1174.7 1114.7,1177.4 1115.3,1177.0 1115.8,1175.9 1116.4,1175.8 1116.9,1175.4 1117.5,1173.9 1118.0,1171.9 1118.5,1171.3 1119.1,1171.4 1119.6,1169.6 1120.2,1166.6 1120.7,1165.3 1121.3,1164.3 1121.8,1161.4 1122.3,1159.1 1122.9,1155.1 1123.4,1153.3 1124.0,1152.1 1124.5,1150.0 1125.0,1148.4 1125.6,1146.2 1126.1,1144.9 1126.7,1142.4 1127.2,1142.1 1127.8,1142.2 1128.3,1141.7 1128.8,1143.2 1129.4,1143.0 1129.9,1145.4 1130.5,1146.8 1131.0,1149.1 1131.6,1151.2 1132.1,1153.7 1132.6,1155.2 1133.2,1158.2 1133.7,1161.6 1134.3,1164.0 1134.8,1165.1 1135.3,1167.9 1135.9,1171.2 1136.4,1172.5 1137.0,1175.5 1137.5,1177.0 1138.1,1178.6 1138.6,1179.5 1139.1,1181.1 1139.7,1182.6 1140.2,1182.7 1140.8,1183.5 1141.3,1186.1 1141.9,1185.4 1142.4,1186.3 1142.9,1187.6 1143.5,1189.1 1144.0,1189.1 1144.6,1188.8 1145.1,1189.4 1145.6,1190.1 1146.2,1189.7 1146.7,1190.7 1147.3,1189.6 1147.8,1189.9 1148.4,1189.8 1148.9,1190.0 1149.4,1190.5 1150.0,1190.3 1150.5,1189.7 1151.1,1191.1 1151.6,1189.8 1152.2,1190.7 1152.7,1191.0 1153.2,1190.1 1153.8,1190.5 1154.3,1191.4 1154.9,1192.2 1155.4,1189.6 1155.9,1189.5 1156.5,1190.0 1157.0,1190.1 1157.6,1191.0 1158.1,1189.4 1158.7,1189.4 1159.2,1189.0 1159.7,1189.2 1160.3,1189.6 1160.8,1188.9 1161.4,1188.7 1161.9,1189.5 1162.5,1189.0 1163.0,1189.3 1163.5,1187.4 1164.1,1187.9 1164.6,1188.4 1165.2,1188.0 1165.7,1187.5 1166.2,1188.3 1166.8,1186.7 1167.3,1187.2 1167.9,1185.6 1168.4,1186.8 1169.0,1186.2 1169.5,1186.2 1170.0,1186.8 1170.6,1185.4 1171.1,1186.0 1171.7,1187.1 1172.2,1187.1 1172.8,1187.2 1173.3,1188.3 1173.8,1188.3 1174.4,1188.2 1174.9,1188.5 1175.5,1188.7 1176.0,1189.8 1176.5,1190.3 1177.1,1188.9 1177.6,1189.2 1178.2,1191.9 1178.7,1190.4 1179.3,1191.2 1179.8,1190.7 1180.3,1189.6 1180.9,1189.6 1181.4,1191.0 1182.0,1191.5 1182.5,1191.4 1183.0,1192.1 1183.6,1192.1 1184.1,1191.7 1184.7,1193.0 1185.2,1193.2 1185.8,1192.3 1186.3,1191.5 1186.8,1191.1 1187.4,1193.1 1187.9,1192.1 1188.5,1192.3 1189.0,1194.3 1189.6,1193.0 1190.1,1192.1 1190.6,1193.0 1191.2,1192.4 1191.7,1192.5 1192.3,1193.3 1192.8,1193.3 1193.3,1193.2 1193.9,1192.8 1194.4,1192.6 1195.0,1191.7 1195.5,1192.9 1196.1,1192.5 1196.6,1192.0 1197.1,1192.7 1197.7,1193.8 1198.2,1192.4 1198.8,1193.3 1199.3,1192.8 1199.9,1192.3 1200.4,1192.5 1200.9,1192.9 1201.5,1193.6 1202.0,1193.9 1202.6,1193.2 1203.1,1192.5 1203.6,1194.3 1204.2,1193.9 1204.7,1194.4 1205.3,1193.9 1205.8,1193.0 1206.4,1191.3 1206.9,1193.4 1207.4,1193.8 1208.0,1193.0 1208.5,1193.9 1209.1,1193.5 1209.6,1192.3 1210.2,1192.8 1210.7,1192.8 1211.2,1192.5 1211.8,1193.9 1212.3,1192.5 1212.9,1193.6 1213.4,1194.5 1213.9,1192.5 1214.5,1193.7 1215.0,1194.5 1215.6,1192.5 1216.1,1192.3 1216.7,1193.8 1217.2,1193.2 1217.7,1193.5 1218.3,1193.6 1218.8,1192.4 1219.4,1192.9 1219.9,1193.9 1220.5,1192.3 1221.0,1192.6 1221.5,1192.9 1222.1,1194.6 1222.6,1192.6 1223.2,1192.5 1223.7,1193.7 1224.2,1194.0 1224.8,1193.5 1225.3,1193.2 1225.9,1193.3 1226.4,1193.7 1227.0,1193.8 1227.5,1192.6 1228.0,1193.2 1228.6,1192.7 1229.1,1193.0 1229.7,1193.1 1230.2,1192.8 1230.8,1193.3 1231.3,1193.1 1231.8,1194.5 1232.4,1193.0 1232.9,1192.9 1233.5,1192.9 1234.0,1193.9 1234.5,1192.9 1235.1,1193.1 1235.6,1193.6 1236.2,1193.9 1236.7,1193.2 1237.3,1194.7 1237.8,1194.2 1238.3,1194.3 1238.9,1194.6 1239.4,1193.8 1240.0,1193.9 1240.5,1193.4 1241.1,1193.3 1241.6,1193.8 1242.1,1193.3 1242.7,1193.6 1243.2,1193.0 1243.8,1193.7 1244.3,1192.6 1244.8,1193.3 1245.4,1192.9 1245.9,1193.0 1246.5,1192.3 1247.0,1194.1 1247.6,1192.4 1248.1,1194.3 1248.6,1193.3 1249.2,1192.5 1249.7,1193.2 1250.3,1195.2 1250.8,1192.3 1251.3,1193.1 1251.9,1192.3 1252.4,1194.3 1253.0,1194.2 1253.5,1193.4 1254.1,1193.6 1254.6,1193.0 1255.1,1193.7 1255.7,1194.5 1256.2,1192.5 1256.8,1193.4 1257.3,1193.5 1257.9,1193.0 1258.4,1193.3 1258.9,1193.6 1259.5,1192.5 1260.0,1192.3 1260.6,1193.1 1261.1,1192.5 1261.6,1193.8 1262.2,1193.7 1262.7,1194.3 1263.3,1193.9 1263.8,1192.8 1264.4,1193.2 1264.9,1192.7 1265.4,1193.8 1266.0,1193.4 1266.5,1193.8 1267.1,1193.1 1267.6,1192.4 1268.2,1193.0 1268.7,1193.2 1269.2,1192.5 1269.8,1193.8 1270.3,1193.0 1270.9,1192.9 1271.4,1193.6 1271.9,1193.9 1272.5,1193.8 1273.0,1194.0 1273.6,1192.7 1274.1,1193.7 1274.7,1192.5 1275.2,1193.2 1275.7,1192.8 1276.3,1192.9 1276.8,1193.6 1277.4,1192.9 1277.9,1193.4 1278.5,1194.7 1279.0,1193.9 1279.5,1193.4 1280.1,1192.7 1280.6,1193.3 1281.2,1193.6 1281.7,1192.9 1282.2,1192.2 1282.8,1192.6 1283.3,1194.2 1283.9,1193.0 1284.4,1192.8 1285.0,1194.2 1285.5,1192.8 1286.0,1192.1 1286.6,1192.4 1287.1,1193.2 1287.7,1192.4 1288.2,1192.2 1288.8,1192.9 1289.3,1192.9 1289.8,1192.3 1290.4,1191.7 1290.9,1192.8 1291.5,1192.3 1292.0,1191.9 1292.5,1191.7 1293.1,1192.0 1293.6,1191.7 1294.2,1191.7 1294.7,1190.6 1295.3,1191.5 1295.8,1191.9 1296.3,1191.2 1296.9,1190.9 1297.4,1191.4 1298.0,1191.1 1298.5,1191.7 1299.1,1190.1 1299.6,1190.8 1300.1,1190.4 1300.7,1190.5 1301.2,1189.7 1301.8,1190.2 1302.3,1188.2 1302.8,1188.7 1303.4,1189.8 1303.9,1189.9 1304.5,1189.1 1305.0,1187.7 1305.6,1187.5 1306.1,1188.6 1306.6,1188.6 1307.2,1188.2 1307.7,1187.4 1308.3,1187.2 1308.8,1187.1 1309.4,1186.0 1309.9,1186.9 1310.4,1186.1 1311.0,1187.0 1311.5,1184.4 1312.1,1184.7 1312.6,1185.4 1313.1,1184.5 1313.7,1184.4 1314.2,1184.2 1314.8,1184.9 1315.3,1183.7 1315.9,1183.7 1316.4,1184.1 1316.9,1183.5 1317.5,1183.2 1318.0,1182.3 1318.6,1182.1 1319.1,1181.3 1319.7,1181.3 1320.2,1181.1 1320.7,1180.7 1321.3,1180.2 1321.8,1178.6 1322.4,1178.9 1322.9,1177.8 1323.4,1177.4 1324.0,1174.8 1324.5,1174.3 1325.1,1174.1 1325.6,1173.0 1326.2,1171.1 1326.7,1169.9 1327.2,1167.6 1327.8,1167.9 1328.3,1166.1 1328.9,1164.3 1329.4,1162.4 1329.9,1162.0 1330.5,1160.1 1331.0,1159.2 1331.6,1158.4 1332.1,1157.8 1332.7,1155.3 1333.2,1156.7 1333.7,1154.7 1334.3,1155.1 1334.8,1154.5 1335.4,1155.4 1335.9,1155.3 1336.5,1156.5 1337.0,1157.6 1337.5,1159.3 1338.1,1160.7 1338.6,1161.5 1339.2,1163.0 1339.7,1164.2 1340.2,1167.9 1340.8,1168.3 1341.3,1171.0 1341.9,1171.6 1342.4,1173.0 1343.0,1175.7 1343.5,1177.7 1344.0,1178.5 1344.6,1180.4 1345.1,1181.5 1345.7,1180.8 1346.2,1182.2 1346.8,1184.6 1347.3,1185.2 1347.8,1186.0 1348.4,1185.5 1348.9,1185.8 1349.5,1187.8 1350.0,1188.7 1350.5,1188.8 1351.1,1188.2 1351.6,1189.2 1352.2,1190.1 1352.7,1191.3 1353.3,1190.1 1353.8,1191.2 1354.3,1190.7 1354.9,1191.9 1355.4,1191.1 1356.0,1191.0 1356.5,1192.1 1357.1,1191.6 1357.6,1192.2 1358.1,1191.9 1358.7,1192.2 1359.2,1192.2 1359.8,1191.4 1360.3,1191.5 1360.8,1192.3 1361.4,1191.9 1361.9,1192.0 1362.5,1192.8 1363.0,1192.2 1363.6,1192.3 1364.1,1192.1 1364.6,1193.1 1365.2,1192.0 1365.7,1192.9 1366.3,1192.5 1366.8,1192.8 1367.4,1192.7 1367.9,1192.3 1368.4,1193.4 1369.0,1192.9 1369.5,1193.1 1370.1,1194.3 1370.6,1192.9 1371.1,1194.7 1371.7,1192.6 1372.2,1192.2 1372.8,1192.9 1373.3,1193.9 1373.9,1194.2 1374.4,1193.2 1374.9,1192.8 1375.5,1192.4 1376.0,1193.7 1376.6,1193.0 1377.1,1192.6 1377.7,1195.1 1378.2,1193.6 1378.7,1192.8 1379.3,1194.9 1379.8,1192.0 1380.4,1193.9 1380.9,1193.3 1381.4,1193.2 1382.0,1194.8 1382.5,1192.7 1383.1,1193.8 1383.6,1193.2 1384.2,1193.5 1384.7,1193.0 1385.2,1192.0 1385.8,1192.9 1386.3,1192.9 1386.9,1193.7 1387.4,1192.4 1388.0,1194.0 1388.5,1194.4 1389.0,1192.7 1389.6,1192.8 1390.1,1192.9 1390.7,1194.5 1391.2,1194.1 1391.7,1192.7 1392.3,1192.7 1392.8,1194.4 1393.4,1193.0 1393.9,1193.4 1394.5,1193.0 1395.0,1192.6 1395.5,1193.3 1396.1,1194.0 1396.6,1194.6 1397.2,1193.6 1397.7,1193.9 1398.2,1194.1 1398.8,1193.6 1399.3,1192.7 1399.9,1193.5 1400.4,1193.4 1401.0,1192.0 1401.5,1194.3 1402.0,1194.2 1402.6,1193.2 1403.1,1194.1 1403.7,1193.6 1404.2,1193.9 1404.8,1194.1 1405.3,1194.2 1405.8,1193.3 1406.4,1192.8 1406.9,1192.8 1407.5,1193.4 1408.0,1193.8 1408.5,1193.7 1409.1,1193.1 1409.6,1193.1 1410.2,1193.7 1410.7,1193.1 1411.3,1194.1 1411.8,1193.6 1412.3,1192.9 1412.9,1194.0 1413.4,1192.5 1414.0,1194.4 1414.5,1194.9 1415.1,1193.7 1415.6,1194.3 1416.1,1193.4 1416.7,1192.6 1417.2,1193.3 1417.8,1193.5 1418.3,1193.7 1418.8,1193.6 1419.4,1194.6 1419.9,1193.8 1420.5,1194.2 1421.0,1194.3 1421.6,1194.0 1422.1,1193.8 1422.6,1193.7 1423.2,1194.2 1423.7,1194.2 1424.3,1192.9 1424.8,1192.7 1425.4,1193.8 1425.9,1192.8 1426.4,1193.1 1427.0,1194.7 1427.5,1192.9 1428.1,1193.2 1428.6,1194.3 1429.1,1192.8 1429.7,1193.6 1430.2,1193.8 1430.8,1194.0 1431.3,1193.3 1431.9,1193.5 1432.4,1194.3 1432.9,1193.8 1433.5,1193.9 1434.0,1193.8 1434.6,1193.6 1435.1,1192.8 1435.7,1193.6 1436.2,1193.2 1436.7,1194.0 1437.3,1193.6 1437.8,1193.1 1438.4,1193.3 1438.9,1194.1 1439.4,1193.8 1440.0,1193.4 1440.5,1192.7 1441.1,1193.4 1441.6,1194.4 1442.2,1193.6 1442.7,1193.6 1443.2,1193.2 1443.8,1193.5 1444.3,1194.4 1444.9,1194.0 1445.4,1195.1 1446.0,1193.6 1446.5,1194.0 1447.0,1194.0 1447.6,1193.1 1448.1,1192.9 1448.7,1194.4 1449.2,1193.9 1449.7,1193.6 1450.3,1193.2 1450.8,1193.7 1451.4,1194.0 1451.9,1194.2 1452.5,1194.2 1453.0,1193.5 1453.5,1193.8 1454.1,1194.4 1454.6,1193.5 1455.2,1194.0 1455.7,1194.5 1456.3,1193.6 1456.8,1194.5 1457.3,1193.2 1457.9,1193.5 1458.4,1192.6 1459.0,1193.8 1459.5,1194.1 1460.0,1192.9 1460.6,1194.2 1461.1,1193.6 1461.7,1193.1 1462.2,1193.8 1462.8,1193.2 1463.3,1193.0 1463.8,1194.4 1464.4,1192.7 1464.9,1193.7 1465.5,1193.6 1466.0,1193.6 1466.6,1193.4 1467.1,1194.3 1467.6,1194.0 1468.2,1193.4 1468.7,1194.0 1469.3,1193.0 1469.8,1193.7 1470.3,1192.4 1470.9,1193.7 1471.4,1193.2 1472.0,1192.4 1472.5,1192.2 1473.1,1193.5 1473.6,1193.4 1474.1,1193.4 1474.7,1192.9 1475.2,1191.5 1475.8,1192.8 1476.3,1193.7 1476.8,1191.2 1477.4,1193.1 1477.9,1191.8 1478.5,1192.5 1479.0,1192.9 1479.6,1192.0 1480.1,1191.5 1480.6,1192.3 1481.2,1192.3 1481.7,1192.9 1482.3,1191.5 1482.8,1191.3 1483.4,1191.8 1483.9,1192.5 1484.4,1192.1 1485.0,1191.7 1485.5,1189.6 1486.1,1191.4 1486.6,1190.7 1487.1,1190.9 1487.7,1189.8 1488.2,1189.9 1488.8,1189.6 1489.3,1188.9 1489.9,1189.3 1490.4,1187.6 1490.9,1186.3 1491.5,1187.3 1492.0,1186.6 1492.6,1185.4 1493.1,1184.9 1493.7,1185.3 1494.2,1184.6 1494.7,1183.7 1495.3,1184.3 1495.8,1182.8 1496.4,1180.9 1496.9,1178.8 1497.4,1180.3 1498.0,1180.3 1498.5,1179.3 1499.1,1178.6 1499.6,1178.3 1500.2,1177.0 1500.7,1176.2 1501.2,1176.8 1501.8,1175.7 1502.3,1176.9 1502.9,1176.6 1503.4,1177.2 1504.0,1176.4 1504.5,1177.5 1505.0,1176.7 1505.6,1179.0 1506.1,1178.3 1506.7,1179.0 1507.2,1180.2 1507.7,1179.7 1508.3,1180.7 1508.8,1181.0 1509.4,1180.8 1509.9,1182.3 1510.5,1184.3 1511.0,1184.3 1511.5,1183.7 1512.1,1185.6 1512.6,1185.2 1513.2,1186.0 1513.7,1186.1 1514.3,1187.7 1514.8,1188.0 1515.3,1188.6 1515.9,1186.8 1516.4,1188.4 1517.0,1188.4 1517.5,1187.6 1518.0,1189.8 1518.6,1189.2 1519.1,1189.2 1519.7,1189.5 1520.2,1189.1 1520.8,1189.8 1521.3,1189.0 1521.8,1190.1 1522.4,1190.2 1522.9,1189.7 1523.5,1188.6 1524.0,1190.3 1524.6,1188.1 1525.1,1189.3 1525.6,1189.3 1526.2,1189.3 1526.7,1188.6 1527.3,1188.0 1527.8,1187.9 1528.3,1187.1 1528.9,1186.8 1529.4,1187.6 1530.0,1187.4 1530.5,1187.1 1531.1,1185.1 1531.6,1186.2 1532.1,1184.5 1532.7,1184.1 1533.2,1184.0 1533.8,1182.5 1534.3,1183.2 1534.9,1182.8 1535.4,1180.8 1535.9,1181.3 1536.5,1178.7 1537.0,1180.6 1537.6,1180.8 1538.1,1180.2 1538.6,1178.9 1539.2,1179.0 1539.7,1178.5 1540.3,1178.0 1540.8,1179.1 1541.4,1177.9 1541.9,1178.4 1542.4,1178.8 1543.0,1178.0 1543.5,1178.1 1544.1,1180.0 1544.6,1178.6 1545.2,1178.7 1545.7,1179.2 1546.2,1179.5 1546.8,1179.3 1547.3,1180.6 1547.9,1182.1 1548.4,1182.6 1548.9,1182.6 1549.5,1182.8 1550.0,1182.6 1550.6,1184.6 1551.1,1184.5 1551.7,1185.8 1552.2,1186.2 1552.7,1186.0 1553.3,1186.3 1553.8,1186.9 1554.4,1186.4 1554.9,1186.6 1555.4,1187.7 1556.0,1188.8 1556.5,1190.5 1557.1,1188.6 1557.6,1190.2 1558.2,1189.9 1558.7,1188.8 1559.2,1190.7 1559.8,1190.5 1560.3,1192.2 1560.9,1191.5 1561.4,1191.9 1562.0,1191.7 1562.5,1191.3 1563.0,1192.8 1563.6,1192.0 1564.1,1191.8 1564.7,1192.2 1565.2,1192.5 1565.7,1193.0 1566.3,1192.8 1566.8,1192.4 1567.4,1193.3 1567.9,1193.9 1568.5,1193.2 1569.0,1193.3 1569.5,1193.3 1570.1,1192.7 1570.6,1193.7 1571.2,1194.1 1571.7,1192.0 1572.3,1192.4 1572.8,1192.7 1573.3,1193.9 1573.9,1192.9 1574.4,1193.3 1575.0,1193.5 1575.5,1192.8 1576.0,1192.9 1576.6,1193.3 1577.1,1191.7 1577.7,1194.1 1578.2,1193.1 1578.8,1193.1 1579.3,1192.0 1579.8,1193.5 1580.4,1194.7 1580.9,1192.7 1581.5,1194.9 1582.0,1192.5 1582.6,1193.3 1583.1,1193.2 1583.6,1194.1 1584.2,1194.6 1584.7,1192.9 1585.3,1194.3 1585.8,1193.8 1586.3,1193.4 1586.9,1194.3 1587.4,1193.6 1588.0,1193.6 1588.5,1192.3 1589.1,1193.2 1589.6,1194.3 1590.1,1194.5 1590.7,1193.3 1591.2,1194.4 1591.8,1194.3 1592.3,1194.1 1592.9,1193.5 1593.4,1193.3 1593.9,1193.3 1594.5,1194.3 1595.0,1193.9 1595.6,1193.9 1596.1,1193.6 1596.6,1193.2 1597.2,1193.3 1597.7,1193.6 1598.3,1193.1 1598.8,1193.8 1599.4,1193.7 1599.9,1193.8 1600.4,1194.0 1601.0,1194.4 1601.5,1193.5 1602.1,1194.0 1602.6,1193.5 1603.2,1193.2 1603.7,1192.7 1604.2,1192.7 1604.8,1193.4 1605.3,1193.8 1605.9,1193.3 1606.4,1193.1 1606.9,1194.6 1607.5,1193.2 1608.0,1193.2 1608.6,1193.4 1609.1,1193.4 1609.7,1193.0 1610.2,1194.2 1610.7,1193.0 1611.3,1192.3 1611.8,1194.3 1612.4,1193.4 1612.9,1193.5 1613.5,1193.3 1614.0,1192.9 1614.5,1194.0 1615.1,1193.6 1615.6,1194.4 1616.2,1192.3 1616.7,1192.9 1617.2,1194.1 1617.8,1193.5 1618.3,1193.9 1618.9,1193.8 1619.4,1193.3 1620.0,1192.4 1620.5,1193.5 1621.0,1193.7 1621.6,1192.8 1622.1,1194.3 1622.7,1194.1 1623.2,1193.8 1623.7,1193.0 1624.3,1193.0 1624.8,1193.6 1625.4,1191.9 1625.9,1193.4 1626.5,1193.9 1627.0,1191.3 1627.5,1192.3 1628.1,1193.2 1628.6,1192.8 1629.2,1192.7 1629.7,1192.6 1630.3,1192.4 1630.8,1192.7 1631.3,1193.1 1631.9,1192.7 1632.4,1192.9 1633.0,1192.1 1633.5,1191.0 1634.0,1191.8 1634.6,1191.3 1635.1,1192.1 1635.7,1191.1 1636.2,1191.8 1636.8,1190.5 1637.3,1191.7 1637.8,1191.3 1638.4,1190.9 1638.9,1190.5 1639.5,1190.0 1640.0,1191.1 1640.6,1189.7 1641.1,1192.1 1641.6,1188.9 1642.2,1189.8 1642.7,1188.9 1643.3,1188.6 1643.8,1188.6 1644.3,1189.4 1644.9,1188.0 1645.4,1188.6 1646.0,1188.2 1646.5,1190.0 1647.1,1189.0 1647.6,1188.8 1648.1,1188.7 1648.7,1189.1 1649.2,1187.3 1649.8,1186.8 1650.3,1188.3 1650.9,1188.9 1651.4,1187.3 1651.9,1189.0 1652.5,1187.0 1653.0,1188.4 1653.6,1187.5 1654.1,1186.6 1654.6,1186.3 1655.2,1186.4 1655.7,1185.4 1656.3,1187.1 1656.8,1185.7 1657.4,1185.8 1657.9,1185.0 1658.4,1185.9 1659.0,1184.4 1659.5,1182.8 1660.1,1182.6 1660.6,1182.0 1661.2,1181.1 1661.7,1181.2 1662.2,1178.8 1662.8,1177.8 1663.3,1176.3 1663.9,1177.2 1664.4,1175.7 1664.9,1175.1 1665.5,1173.6 1666.0,1174.2 1666.6,1172.5 1667.1,1172.3 1667.7,1171.9 1668.2,1171.1 1668.7,1171.3 1669.3,1172.0 1669.8,1171.9 1670.4,1172.1 1670.9,1172.1 1671.5,1172.0 1672.0,1173.1 1672.5,1173.8 1673.1,1174.9 1673.6,1175.2 1674.2,1176.8 1674.7,1176.7 1675.2,1177.7 1675.8,1178.7 1676.3,1179.2 1676.9,1182.3 1677.4,1181.4 1678.0,1182.9 1678.5,1183.3 1679.0,1184.5 1679.6,1184.6 1680.1,1183.5 1680.7,1185.8 1681.2,1185.4 1681.8,1187.3 1682.3,1186.8 1682.8,1187.0 1683.4,1187.4 1683.9,1187.0 1684.5,1187.0 1685.0,1187.8 1685.5,1187.9 1686.1,1187.5 1686.6,1188.3 1687.2,1188.7 1687.7,1187.6 1688.3,1188.1 1688.8,1186.8 1689.3,1188.7 1689.9,1188.8 1690.4,1187.4 1691.0,1188.5 1691.5,1188.0 1692.1,1187.5 1692.6,1187.7 1693.1,1188.1 1693.7,1188.0 1694.2,1187.3 1694.8,1186.1 1695.3,1186.8 1695.8,1186.6 1696.4,1187.2 1696.9,1187.3 1697.5,1186.7 1698.0,1187.9 1698.6,1187.8 1699.1,1187.4 1699.6,1187.1 1700.2,1187.8 1700.7,1188.4 1701.3,1187.9 1701.8,1189.6 1702.3,1188.4 1702.9,1188.3 1703.4,1188.5 1704.0,1188.8 1704.5,1190.3 1705.1,1189.8 1705.6,1190.7 1706.1,1190.7 1706.7,1189.5 1707.2,1191.0 1707.8,1191.0 1708.3,1190.3 1708.9,1191.7 1709.4,1190.6 1709.9,1191.9 1710.5,1191.5 1711.0,1191.4 1711.6,1191.6 1712.1,1192.7 1712.6,1191.2 1713.2,1192.2 1713.7,1193.6 1714.3,1193.7 1714.8,1192.0 1715.4,1192.9 1715.9,1192.2 1716.4,1192.3 1717.0,1193.0 1717.5,1192.7 1718.1,1192.4 1718.6,1193.2 1719.2,1192.5 1719.7,1193.4 1720.2,1192.7 1720.8,1191.6 1721.3,1193.3 1721.9,1194.1 1722.4,1193.0 1722.9,1193.6 1723.5,1193.9 1724.0,1193.5 1724.6,1192.7 1725.1,1193.2 1725.7,1192.5 1726.2,1193.2 1726.7,1193.4 1727.3,1193.5 1727.8,1193.3 1728.4,1193.8 1728.9,1193.6 1729.5,1193.4 1730.0,1193.7 1730.5,1193.7 1731.1,1193.3 1731.6,1194.0 1732.2,1193.9 1732.7,1193.6 1733.2,1193.4 1733.8,1194.0 1734.3,1193.0 1734.9,1193.6 1735.4,1193.6 1736.0,1191.4 1736.5,1193.2 1737.0,1192.9 1737.6,1193.0 1738.1,1193.0 1738.7,1193.2 1739.2,1192.7 1739.8,1193.1 1740.3,1192.8 1740.8,1193.3 1741.4,1192.9 1741.9,1193.7 1742.5,1194.5 1743.0,1194.7 1743.5,1193.2 1744.1,1192.8 1744.6,1192.6 1745.2,1193.5 1745.7,1193.2 1746.3,1191.7 1746.8,1194.1 1747.3,1193.8 1747.9,1192.8 1748.4,1194.2 1749.0,1194.1 1749.5,1193.6 1750.1,1194.2 1750.6,1193.9 1751.1,1194.3 1751.7,1193.4 1752.2,1193.4 1752.8,1193.2 1753.3,1192.3 1753.8,1194.3 1754.4,1193.4 1754.9,1192.9 1755.5,1193.2 1756.0,1192.6 1756.6,1194.0 1757.1,1193.4 1757.6,1194.5 1758.2,1193.6 1758.7,1193.4 1759.3,1194.0 1759.8,1194.3 1760.4,1194.0 1760.9,1193.3 1761.4,1193.2 1762.0,1193.5 1762.5,1192.5 1763.1,1193.6 1763.6,1193.4 1764.1,1193.2 1764.7,1192.4 1765.2,1193.9 1765.8,1192.5 1766.3,1191.8 1766.9,1193.3 1767.4,1194.2 1767.9,1193.9 1768.5,1194.1 1769.0,1194.2 1769.6,1193.7 1770.1,1193.9 1770.6,1192.5 1771.2,1192.6 1771.7,1193.1 1772.3,1193.4 1772.8,1192.8 1773.4,1193.5 1773.9,1193.2 1774.4,1193.3 1775.0,1194.1 1775.5,1192.5 1776.1,1194.1 1776.6,1193.0 1777.2,1193.9 1777.7,1193.8 1778.2,1192.1 1778.8,1193.1 1779.3,1192.6 1779.9,1193.1 1780.4,1192.9 1780.9,1193.6 1781.5,1194.1 1782.0,1194.2 1782.6,1193.9 1783.1,1193.4 1783.7,1192.1 1784.2,1193.6 1784.7,1193.0 1785.3,1192.6 1785.8,1192.7 1786.4,1193.7 1786.9,1192.1 1787.5,1193.3 1788.0,1194.1 1788.5,1193.4 1789.1,1193.7 1789.6,1192.9 1790.2,1193.1 1790.7,1192.7 1791.2,1192.9 1791.8,1193.6 1792.3,1193.8 1792.9,1193.6 1793.4,1193.0 1794.0,1194.3 1794.5,1193.5 1795.0,1192.1 1795.6,1194.7 1796.1,1193.3 1796.7,1193.2 1797.2,1194.3 1797.8,1194.1 1798.3,1193.2 1798.8,1193.7 1799.4,1193.4 1799.9,1193.2 1800.5,1192.4 1801.0,1193.4 1801.5,1192.5 1802.1,1193.7 1802.6,1192.9 1803.2,1193.0 1803.7,1193.9 1804.3,1193.2 1804.8,1193.7 1805.3,1193.0 1805.9,1193.1" stroke="#875a48" stroke-width="4.4"/>
</g>
<g class="ax">
<path class="v" d="M178.2,1242.6 V48.2 M1804.8,1242.6 V48.2 M449.3,1224.3 v18.3 M720.4,1224.3 v18.3 M991.5,1224.3 v18.3 M1262.6,1224.3 v18.3 M1533.7,1224.3 v18.3"/>
<path class="t" d="M178.2,49.9 H1804.8"/>
<path class="h" d="M178.2,1224.3 H1804.8"/>
</g>
<g>
<text transform="translate(722.75 130.13) scale(1 1.0486)" font-size="74.60" xml:space="preserve">A : anatase</text>
<text transform="translate(1109.80 130.18) scale(1 1.0259)" font-size="73.00" xml:space="preserve">R : rutile</text>
<text transform="translate(1432.91 130.18) scale(1 1.0262)" font-size="72.98" xml:space="preserve">B: brookite</text>
<text transform="translate(302.89 265.73) scale(1 1.1046)" font-size="60.03" xml:space="preserve">A</text>
<text transform="translate(454.17 369.00) scale(1 1.0358)" font-size="61.76" xml:space="preserve">B</text>
<text transform="translate(573.31 375.60) scale(1 1.0826)" font-size="60.11" xml:space="preserve">R</text>
<text transform="translate(611.99 364.93) scale(1 1.1046)" font-size="60.03" xml:space="preserve">A</text>
<text transform="translate(646.29 352.13) scale(1 1.1046)" font-size="60.03" xml:space="preserve">A</text>
<text transform="translate(683.79 372.83) scale(1 1.1046)" font-size="60.03" xml:space="preserve">A</text>
<text transform="translate(915.74 355.93) scale(1 1.1046)" font-size="60.03" xml:space="preserve">A</text>
<text transform="translate(1064.94 361.23) scale(1 1.1046)" font-size="60.03" xml:space="preserve">A</text>
<text transform="translate(1110.69 354.83) scale(1 1.1046)" font-size="60.03" xml:space="preserve">A</text>
<text transform="translate(1319.19 368.63) scale(1 1.1046)" font-size="60.03" xml:space="preserve">A</text>
<text transform="translate(1479.99 376.83) scale(1 1.1046)" font-size="60.03" xml:space="preserve">A</text>
<text transform="translate(1530.59 374.43) scale(1 1.1046)" font-size="60.03" xml:space="preserve">A</text>
<text transform="translate(1651.04 372.43) scale(1 1.1046)" font-size="60.03" xml:space="preserve">A</text>
<text transform="translate(773.27 993.20) scale(1 1.0358)" font-size="61.76" xml:space="preserve">B</text>
<text transform="translate(358.01 1152.10) scale(1 1.0826)" font-size="60.11" xml:space="preserve">R</text>
<text transform="translate(728.56 1174.50) scale(1 1.0826)" font-size="60.11" xml:space="preserve">R</text>
<text transform="translate(1149.81 1172.30) scale(1 1.0826)" font-size="60.11" xml:space="preserve">R</text>
<text transform="translate(1573.50 307.58) scale(1 1.0259)" font-size="66.42" xml:space="preserve">CeT-2.0</text>
<text transform="translate(1573.50 475.07) scale(1 1.0335)" font-size="66.42" xml:space="preserve">CeT-1.5</text>
<text transform="translate(1571.90 590.38) scale(1 1.0259)" font-size="66.42" xml:space="preserve">CeT-1.0</text>
<text transform="translate(1537.89 699.78) scale(1 1.0260)" font-size="66.42" xml:space="preserve">CeT-0.75</text>
<text transform="translate(1566.30 807.28) scale(1 1.0259)" font-size="66.42" xml:space="preserve">CeT-0.5</text>
<text transform="translate(1703.75 954.30) scale(1 1.0991)" font-size="63.20" xml:space="preserve">PT</text>
<text transform="translate(1683.03 1132.62) scale(1 1.0541)" font-size="64.42" xml:space="preserve">P25</text>
<text transform="translate(119.75 1397.44) scale(1 1.0242)" font-size="113.70" xml:space="preserve">20</text>
<text transform="translate(390.30 1397.44) scale(1 1.0116)" font-size="115.11" xml:space="preserve">30</text>
<text transform="translate(664.81 1397.44) scale(1 1.0352)" font-size="112.49" xml:space="preserve">40</text>
<text transform="translate(933.93 1397.44) scale(1 1.0193)" font-size="114.24" xml:space="preserve">50</text>
<text transform="translate(1206.15 1397.44) scale(1 1.0327)" font-size="112.76" xml:space="preserve">60</text>
<text transform="translate(1474.89 1397.44) scale(1 1.0143)" font-size="114.81" xml:space="preserve">70</text>
<text transform="translate(1747.82 1397.44) scale(1 1.0239)" font-size="113.73" xml:space="preserve">80</text>
<text transform="translate(651.55 1563.00) scale(1 1.0135)" font-size="111.25" xml:space="preserve">2Theta/degree</text>
<text transform="translate(105.30 985.99) rotate(-90) scale(1 1.0270)" font-size="111.00" xml:space="preserve">Intensity (a.u.)</text>
</g>
</g>
</svg>
</body></html>
